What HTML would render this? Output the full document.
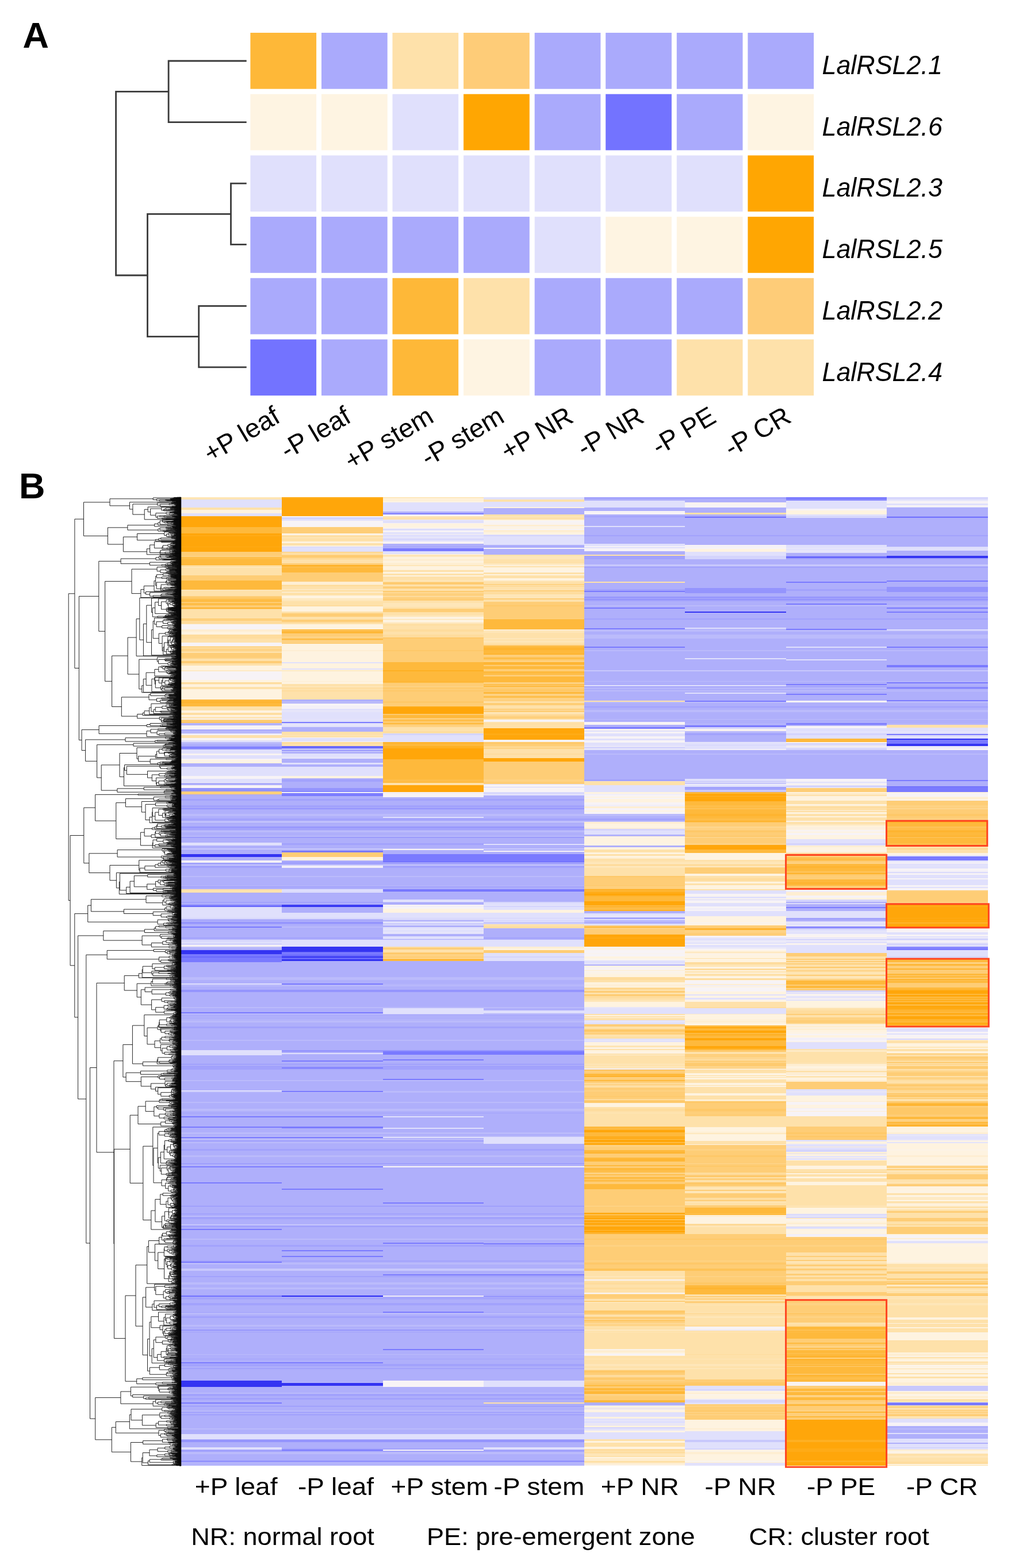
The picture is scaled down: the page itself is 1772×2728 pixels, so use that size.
<!DOCTYPE html>
<html><head><meta charset="utf-8"><title>Heatmap</title>
<style>html,body{margin:0;padding:0;background:#fff;} body{width:1772px;height:2728px;position:relative;overflow:hidden;}</style>
</head><body>
<svg width="1772" height="2728" viewBox="0 0 1772 2728" style="position:absolute;left:0;top:0"><text x="39.5" y="82.5" font-family="'Liberation Sans', Arial, Helvetica, sans-serif" font-weight="bold" font-size="63">A</text><rect x="435.4" y="57.0" width="114.7" height="97.7" fill="#feb838"/><rect x="559.0" y="57.0" width="114.7" height="97.7" fill="#aaaafc"/><rect x="682.5" y="57.0" width="114.7" height="97.7" fill="#fee1aa"/><rect x="806.1" y="57.0" width="114.7" height="97.7" fill="#fecc78"/><rect x="929.7" y="57.0" width="114.7" height="97.7" fill="#aaaafc"/><rect x="1053.2" y="57.0" width="114.7" height="97.7" fill="#aaaafc"/><rect x="1176.8" y="57.0" width="114.7" height="97.7" fill="#aaaafc"/><rect x="1300.4" y="57.0" width="114.7" height="97.7" fill="#aaaafc"/><rect x="435.4" y="163.7" width="114.7" height="97.7" fill="#fef4e2"/><rect x="559.0" y="163.7" width="114.7" height="97.7" fill="#fef4e2"/><rect x="682.5" y="163.7" width="114.7" height="97.7" fill="#e0e0fc"/><rect x="806.1" y="163.7" width="114.7" height="97.7" fill="#ffa602"/><rect x="929.7" y="163.7" width="114.7" height="97.7" fill="#aaaafc"/><rect x="1053.2" y="163.7" width="114.7" height="97.7" fill="#7373ff"/><rect x="1176.8" y="163.7" width="114.7" height="97.7" fill="#aaaafc"/><rect x="1300.4" y="163.7" width="114.7" height="97.7" fill="#fef4e2"/><rect x="435.4" y="270.4" width="114.7" height="97.7" fill="#e0e0fc"/><rect x="559.0" y="270.4" width="114.7" height="97.7" fill="#e0e0fc"/><rect x="682.5" y="270.4" width="114.7" height="97.7" fill="#e0e0fc"/><rect x="806.1" y="270.4" width="114.7" height="97.7" fill="#e0e0fc"/><rect x="929.7" y="270.4" width="114.7" height="97.7" fill="#e0e0fc"/><rect x="1053.2" y="270.4" width="114.7" height="97.7" fill="#e0e0fc"/><rect x="1176.8" y="270.4" width="114.7" height="97.7" fill="#e0e0fc"/><rect x="1300.4" y="270.4" width="114.7" height="97.7" fill="#ffa602"/><rect x="435.4" y="377.1" width="114.7" height="97.7" fill="#aaaafc"/><rect x="559.0" y="377.1" width="114.7" height="97.7" fill="#aaaafc"/><rect x="682.5" y="377.1" width="114.7" height="97.7" fill="#aaaafc"/><rect x="806.1" y="377.1" width="114.7" height="97.7" fill="#aaaafc"/><rect x="929.7" y="377.1" width="114.7" height="97.7" fill="#e0e0fc"/><rect x="1053.2" y="377.1" width="114.7" height="97.7" fill="#fef4e2"/><rect x="1176.8" y="377.1" width="114.7" height="97.7" fill="#fef4e2"/><rect x="1300.4" y="377.1" width="114.7" height="97.7" fill="#ffa602"/><rect x="435.4" y="483.8" width="114.7" height="97.7" fill="#aaaafc"/><rect x="559.0" y="483.8" width="114.7" height="97.7" fill="#aaaafc"/><rect x="682.5" y="483.8" width="114.7" height="97.7" fill="#feb838"/><rect x="806.1" y="483.8" width="114.7" height="97.7" fill="#fee1aa"/><rect x="929.7" y="483.8" width="114.7" height="97.7" fill="#aaaafc"/><rect x="1053.2" y="483.8" width="114.7" height="97.7" fill="#aaaafc"/><rect x="1176.8" y="483.8" width="114.7" height="97.7" fill="#aaaafc"/><rect x="1300.4" y="483.8" width="114.7" height="97.7" fill="#fecc78"/><rect x="435.4" y="590.5" width="114.7" height="97.7" fill="#7373ff"/><rect x="559.0" y="590.5" width="114.7" height="97.7" fill="#aaaafc"/><rect x="682.5" y="590.5" width="114.7" height="97.7" fill="#feb838"/><rect x="806.1" y="590.5" width="114.7" height="97.7" fill="#fef4e2"/><rect x="929.7" y="590.5" width="114.7" height="97.7" fill="#aaaafc"/><rect x="1053.2" y="590.5" width="114.7" height="97.7" fill="#aaaafc"/><rect x="1176.8" y="590.5" width="114.7" height="97.7" fill="#fee1aa"/><rect x="1300.4" y="590.5" width="114.7" height="97.7" fill="#fee1aa"/><path d="M427.3 106H293.1V212.7H427.3 M427.3 319.2H401.5V425.4H427.3 M427.3 532.4H345.7V638.9H427.3 M401.5 372.3H256.5V585.6H345.7 M293.1 159.3H201.6V479.0H256.5" fill="none" stroke="#3a3a3a" stroke-width="2.8" stroke-linejoin="miter" stroke-linecap="square"/><text transform="translate(1429.5 129.0) scale(0.975 1)" font-family="'Liberation Sans', Arial, Helvetica, sans-serif" font-style="italic" font-size="46">LalRSL2.1</text><text transform="translate(1429.5 235.7) scale(0.975 1)" font-family="'Liberation Sans', Arial, Helvetica, sans-serif" font-style="italic" font-size="46">LalRSL2.6</text><text transform="translate(1429.5 342.4) scale(0.975 1)" font-family="'Liberation Sans', Arial, Helvetica, sans-serif" font-style="italic" font-size="46">LalRSL2.3</text><text transform="translate(1429.5 449.2) scale(0.975 1)" font-family="'Liberation Sans', Arial, Helvetica, sans-serif" font-style="italic" font-size="46">LalRSL2.5</text><text transform="translate(1429.5 555.9) scale(0.975 1)" font-family="'Liberation Sans', Arial, Helvetica, sans-serif" font-style="italic" font-size="46">LalRSL2.2</text><text transform="translate(1429.5 662.6) scale(0.975 1)" font-family="'Liberation Sans', Arial, Helvetica, sans-serif" font-style="italic" font-size="46">LalRSL2.4</text><text x="490.0" y="732.8" text-anchor="end" transform="rotate(-30.5 490.0 732.8)" font-family="'Liberation Sans', Arial, Helvetica, sans-serif" font-size="46">+P leaf</text><text x="613.3" y="732.8" text-anchor="end" transform="rotate(-30.5 613.3 732.8)" font-family="'Liberation Sans', Arial, Helvetica, sans-serif" font-size="46">-P leaf</text><text x="757.0" y="732.8" text-anchor="end" transform="rotate(-30.5 757.0 732.8)" font-family="'Liberation Sans', Arial, Helvetica, sans-serif" font-size="46">+P stem</text><text x="879.8" y="732.8" text-anchor="end" transform="rotate(-30.5 879.8 732.8)" font-family="'Liberation Sans', Arial, Helvetica, sans-serif" font-size="46">-P stem</text><text x="999.8" y="732.8" text-anchor="end" transform="rotate(-30.5 999.8 732.8)" font-family="'Liberation Sans', Arial, Helvetica, sans-serif" font-size="46">+P NR</text><text x="1122.8" y="732.8" text-anchor="end" transform="rotate(-30.5 1122.8 732.8)" font-family="'Liberation Sans', Arial, Helvetica, sans-serif" font-size="46">-P NR</text><text x="1248.2" y="732.8" text-anchor="end" transform="rotate(-30.5 1248.2 732.8)" font-family="'Liberation Sans', Arial, Helvetica, sans-serif" font-size="46">-P PE</text><text x="1378.6" y="732.8" text-anchor="end" transform="rotate(-30.5 1378.6 732.8)" font-family="'Liberation Sans', Arial, Helvetica, sans-serif" font-size="46">-P CR</text><text x="33" y="866.5" font-family="'Liberation Sans', Arial, Helvetica, sans-serif" font-weight="bold" font-size="63">B</text><g shape-rendering="crispEdges" transform="translate(315.20 0) scale(175.75 1)"><path fill="#fee6b8" d="M0 865h1v3H0zM0 986h1v2H0zM0 1026h1v2H0zM0 1550h1v1H0z"/><path fill="#fee1aa" d="M0 868h1v1H0zM0 883h1v2H0zM0 885h1v2H0zM0 985h1v1H0zM0 988h1v2H0zM0 990h1v3H0zM0 993h1v2H0zM0 995h1v3H0zM0 998h1v3H0zM0 1028h1v2H0zM0 1030h1v2H0zM0 1032h1v2H0zM0 1034h1v3H0zM0 1060h1v4H0zM0 1064h1v2H0zM0 1066h1v1H0zM0 1067h1v1H0zM0 1068h1v2H0zM0 1070h1v4H0zM0 1074h1v2H0zM0 1081h1v2H0zM0 1084h1v2H0zM0 1111h1v3H0zM0 1114h1v1H0zM0 1115h1v2H0zM0 1117h1v1H0zM0 1124h1v1H0zM0 1133h1v3H0zM0 1146h1v2H0zM0 1148h1v2H0zM0 1154h1v4H0zM0 1195h1v4H0zM0 1229h1v3H0zM0 1232h1v4H0zM0 1240h1v1H0zM0 1243h1v1H0zM0 1248h1v2H0zM0 1279h1v3H0zM0 1282h1v1H0zM0 1283h1v1H0zM0 1547h1v3H0zM0 1551h1v2H0z"/><path fill="#e0e0fc" d="M0 869h1v2H0zM0 871h1v2H0zM0 873h1v1H0zM0 874h1v1H0zM0 875h1v1H0zM0 876h1v3H0zM0 879h1v2H0zM0 881h1v2H0zM0 893h1v3H0zM0 896h1v2H0zM0 1288h1v2H0zM0 1304h1v2H0zM0 1306h1v2H0zM0 1308h1v2H0zM0 1310h1v1H0zM0 1314h1v2H0zM0 1316h1v2H0zM0 1318h1v2H0zM0 1334h1v2H0zM0 1336h1v2H0zM0 1338h1v2H0zM0 1340h1v1H0zM0 1341h1v4H0zM0 1345h1v4H0zM0 1349h1v1H0zM0 1355h1v3H0zM0 1358h1v3H0zM0 1578h1v3H0zM0 1581h1v2H0zM0 1583h1v2H0zM0 1585h1v4H0zM0 1589h1v2H0zM0 1591h1v2H0zM0 1593h1v4H0zM0 1598h1v1H0zM0 1635h1v1H0zM0 1638h1v1H0zM0 1639h1v2H0z"/><path fill="#fef3e0" d="M0 887h1v1H0zM0 888h1v4H0zM0 892h1v1H0zM0 1099h1v2H0zM0 1101h1v3H0zM0 1158h1v1H0zM0 1159h1v3H0zM0 1162h1v2H0zM0 1164h1v2H0zM0 1183h1v4H0zM0 1192h1v1H0zM0 1193h1v2H0zM0 1199h1v2H0zM0 1201h1v4H0zM0 1205h1v2H0zM0 1207h1v2H0zM0 1209h1v4H0zM0 1213h1v2H0zM0 1215h1v2H0zM0 1236h1v4H0zM0 1244h1v2H0zM0 1322h1v2H0zM0 1325h1v3H0z"/><path fill="#ffab16" d="M0 898h1v2H0zM0 931h1v2H0zM0 951h1v1H0z"/><path fill="#ffa60a" d="M0 900h1v3H0zM0 903h1v1H0zM0 904h1v2H0zM0 906h1v1H0zM0 907h1v1H0zM0 908h1v3H0zM0 911h1v3H0zM0 914h1v1H0zM0 915h1v2H0zM0 928h1v1H0zM0 929h1v2H0zM0 933h1v2H0zM0 935h1v2H0zM0 937h1v2H0zM0 939h1v3H0zM0 942h1v1H0zM0 943h1v2H0zM0 945h1v2H0zM0 947h1v1H0zM0 948h1v3H0zM0 952h1v3H0zM0 955h1v3H0zM0 958h1v1H0zM0 959h1v1H0z"/><path fill="#feb93c" d="M0 917h1v2H0zM0 919h1v2H0zM0 921h1v4H0zM0 925h1v1H0zM0 926h1v2H0zM0 973h1v4H0zM0 977h1v1H0zM0 978h1v3H0zM0 981h1v1H0zM0 1010h1v3H0zM0 1013h1v1H0zM0 1014h1v3H0zM0 1017h1v3H0zM0 1020h1v2H0zM0 1022h1v3H0zM0 1045h1v2H0zM0 1052h1v1H0zM0 1217h1v1H0zM0 1218h1v2H0zM0 1223h1v2H0zM0 1225h1v1H0zM0 1226h1v3H0z"/><path fill="#fecd76" d="M0 960h1v3H0zM0 963h1v1H0zM0 964h1v1H0zM0 965h1v2H0zM0 1001h1v1H0zM0 1002h1v3H0zM0 1005h1v3H0zM0 1008h1v2H0zM0 1037h1v2H0zM0 1047h1v2H0zM0 1053h1v3H0zM0 1059h1v1H0zM0 1076h1v2H0zM0 1125h1v1H0zM0 1129h1v1H0zM0 1132h1v1H0zM0 1136h1v4H0zM0 1140h1v2H0zM0 1142h1v2H0zM0 1150h1v2H0zM0 1152h1v2H0zM0 1252h1v3H0zM0 1377h1v2H0z"/><path fill="#fed283" d="M0 967h1v2H0zM0 1078h1v1H0zM0 1079h1v2H0zM0 1083h1v1H0zM0 1144h1v2H0zM0 1379h1v2H0z"/><path fill="#febe4a" d="M0 969h1v4H0zM0 1025h1v1H0zM0 1042h1v3H0zM0 1049h1v3H0z"/><path fill="#feb023" d="M0 982h1v1H0z"/><path fill="#fed790" d="M0 983h1v2H0zM0 1130h1v2H0z"/><path fill="#fec868" d="M0 1039h1v3H0zM0 1056h1v1H0zM0 1255h1v3H0zM0 1381h1v1H0z"/><path fill="#feb430" d="M0 1057h1v2H0zM0 1220h1v3H0z"/><path fill="#f7f3f6" d="M0 1086h1v1H0zM0 1087h1v2H0zM0 1089h1v2H0zM0 1091h1v4H0zM0 1118h1v2H0zM0 1120h1v2H0zM0 1122h1v2H0zM0 1168h1v3H0zM0 1171h1v2H0zM0 1173h1v2H0zM0 1175h1v1H0zM0 1176h1v3H0zM0 1179h1v2H0zM0 1181h1v2H0zM0 1250h1v1H0zM0 1262h1v2H0zM0 1264h1v3H0zM0 1267h1v2H0zM0 1284h1v2H0zM0 1286h1v1H0zM0 1313h1v1H0zM0 1320h1v2H0zM0 1324h1v1H0zM0 1350h1v3H0zM0 1353h1v1H0zM0 1354h1v1H0zM0 1361h1v1H0zM0 1366h1v2H0zM0 1368h1v2H0zM0 1370h1v1H0zM0 1497h1v2H0zM0 1644h1v2H0z"/><path fill="#feeed2" d="M0 1095h1v4H0zM0 1190h1v2H0zM0 1246h1v2H0z"/><path fill="#fedc9d" d="M0 1104h1v3H0zM0 1107h1v4H0zM0 1126h1v3H0zM0 1187h1v3H0zM0 1241h1v2H0z"/><path fill="#feeac5" d="M0 1166h1v2H0z"/><path fill="#f9f3f0" d="M0 1251h1v1H0zM0 1311h1v2H0zM0 1646h1v1H0z"/><path fill="#afaffb" d="M0 1258h1v1H0zM0 1260h1v2H0zM0 1269h1v1H0zM0 1270h1v3H0zM0 1274h1v2H0zM0 1294h1v4H0zM0 1328h1v1H0zM0 1329h1v2H0zM0 1331h1v3H0zM0 1362h1v1H0zM0 1363h1v2H0zM0 1365h1v1H0zM0 1382h1v1H0zM0 1383h1v3H0zM0 1386h1v3H0zM0 1389h1v1H0zM0 1393h1v2H0zM0 1395h1v2H0zM0 1397h1v2H0zM0 1399h1v2H0zM0 1405h1v1H0zM0 1408h1v3H0zM0 1411h1v1H0zM0 1412h1v3H0zM0 1415h1v1H0zM0 1420h1v3H0zM0 1423h1v1H0zM0 1427h1v2H0zM0 1431h1v2H0zM0 1433h1v4H0zM0 1437h1v1H0zM0 1444h1v1H0zM0 1448h1v3H0zM0 1451h1v3H0zM0 1458h1v3H0zM0 1461h1v3H0zM0 1464h1v1H0zM0 1465h1v2H0zM0 1470h1v4H0zM0 1474h1v2H0zM0 1478h1v2H0zM0 1480h1v1H0zM0 1481h1v1H0zM0 1482h1v4H0zM0 1491h1v2H0zM0 1493h1v2H0zM0 1495h1v2H0zM0 1510h1v1H0zM0 1511h1v2H0zM0 1513h1v1H0zM0 1514h1v3H0zM0 1517h1v2H0zM0 1519h1v1H0zM0 1520h1v1H0zM0 1521h1v3H0zM0 1526h1v4H0zM0 1530h1v2H0zM0 1532h1v1H0zM0 1533h1v2H0zM0 1535h1v3H0zM0 1538h1v3H0zM0 1544h1v3H0zM0 1553h1v1H0zM0 1554h1v1H0zM0 1555h1v3H0zM0 1558h1v2H0zM0 1560h1v1H0zM0 1561h1v2H0zM0 1563h1v1H0zM0 1564h1v3H0zM0 1567h1v2H0zM0 1571h1v2H0zM0 1573h1v1H0zM0 1599h1v2H0zM0 1602h1v1H0zM0 1603h1v1H0zM0 1608h1v4H0zM0 1614h1v3H0zM0 1617h1v2H0zM0 1619h1v4H0zM0 1623h1v2H0zM0 1625h1v2H0zM0 1627h1v2H0zM0 1629h1v2H0zM0 1633h1v1H0zM0 1634h1v1H0zM0 1650h1v1H0zM0 1651h1v2H0zM0 1674h1v1H0zM0 1675h1v4H0zM0 1679h1v2H0zM0 1681h1v1H0zM0 1682h1v2H0zM0 1684h1v1H0zM0 1685h1v2H0zM0 1687h1v3H0zM0 1690h1v2H0zM0 1692h1v4H0zM0 1696h1v4H0zM0 1705h1v2H0zM0 1707h1v3H0zM0 1710h1v2H0zM0 1713h1v1H0zM0 1716h1v3H0zM0 1719h1v3H0zM0 1726h1v3H0zM0 1729h1v2H0zM0 1731h1v1H0zM0 1732h1v2H0zM0 1734h1v2H0zM0 1736h1v2H0zM0 1738h1v1H0zM0 1739h1v1H0zM0 1740h1v1H0zM0 1741h1v3H0zM0 1744h1v1H0zM0 1745h1v1H0zM0 1746h1v1H0zM0 1747h1v2H0zM0 1749h1v3H0zM0 1754h1v4H0zM0 1758h1v1H0zM0 1759h1v1H0zM0 1760h1v1H0zM0 1761h1v1H0zM0 1762h1v2H0zM0 1766h1v4H0zM0 1770h1v2H0zM0 1772h1v2H0zM0 1775h1v1H0zM0 1779h1v1H0zM0 1780h1v1H0zM0 1781h1v2H0zM0 1783h1v2H0zM0 1785h1v1H0zM0 1789h1v3H0zM0 1792h1v4H0zM0 1796h1v3H0zM0 1799h1v2H0zM0 1801h1v2H0zM0 1803h1v2H0zM0 1805h1v2H0zM0 1807h1v2H0zM0 1811h1v1H0zM0 1812h1v2H0zM0 1814h1v3H0zM0 1817h1v2H0zM0 1819h1v3H0zM0 1822h1v3H0zM0 1825h1v2H0zM0 1830h1v3H0zM0 1833h1v2H0zM0 1835h1v2H0zM0 1837h1v3H0zM0 1840h1v1H0zM0 1841h1v2H0zM0 1843h1v3H0zM0 1846h1v2H0zM0 1848h1v3H0zM0 1852h1v2H0zM0 1861h1v3H0zM0 1864h1v3H0zM0 1867h1v2H0zM0 1869h1v1H0zM0 1870h1v2H0zM0 1872h1v3H0zM0 1875h1v3H0zM0 1878h1v1H0zM0 1881h1v3H0zM0 1884h1v1H0zM0 1885h1v2H0zM0 1887h1v2H0zM0 1889h1v3H0zM0 1892h1v2H0zM0 1894h1v4H0zM0 1901h1v3H0zM0 1904h1v2H0zM0 1906h1v2H0zM0 1908h1v1H0zM0 1909h1v3H0zM0 1912h1v1H0zM0 1913h1v3H0zM0 1916h1v1H0zM0 1919h1v1H0zM0 1920h1v2H0zM0 1922h1v2H0zM0 1924h1v2H0zM0 1926h1v1H0zM0 1927h1v2H0zM0 1933h1v1H0zM0 1934h1v2H0zM0 1937h1v2H0zM0 1939h1v1H0zM0 1940h1v4H0zM0 1944h1v4H0zM0 1948h1v1H0zM0 1949h1v3H0zM0 1952h1v3H0zM0 1955h1v1H0zM0 1956h1v1H0zM0 1957h1v3H0zM0 1960h1v3H0zM0 1963h1v2H0zM0 1965h1v1H0zM0 1966h1v2H0zM0 1968h1v2H0zM0 1973h1v3H0zM0 1979h1v3H0zM0 1983h1v1H0zM0 1986h1v1H0zM0 1989h1v2H0zM0 1991h1v1H0zM0 1992h1v2H0zM0 1994h1v2H0zM0 1996h1v1H0zM0 1997h1v1H0zM0 1998h1v1H0zM0 2002h1v1H0zM0 2003h1v2H0zM0 2005h1v3H0zM0 2008h1v2H0zM0 2013h1v1H0zM0 2014h1v1H0zM0 2015h1v2H0zM0 2017h1v2H0zM0 2019h1v2H0zM0 2021h1v1H0zM0 2022h1v2H0zM0 2025h1v3H0zM0 2030h1v3H0zM0 2033h1v4H0zM0 2037h1v1H0zM0 2038h1v2H0zM0 2040h1v4H0zM0 2044h1v3H0zM0 2047h1v3H0zM0 2050h1v1H0zM0 2051h1v3H0zM0 2054h1v2H0zM0 2056h1v2H0zM0 2058h1v2H0zM0 2060h1v2H0zM0 2062h1v1H0zM0 2063h1v2H0zM0 2065h1v4H0zM0 2069h1v3H0zM0 2072h1v2H0zM0 2074h1v2H0zM0 2076h1v1H0zM0 2077h1v3H0zM0 2080h1v2H0zM0 2082h1v3H0zM0 2085h1v2H0zM0 2087h1v2H0zM0 2089h1v3H0zM0 2092h1v1H0zM0 2093h1v4H0zM0 2097h1v1H0zM0 2099h1v2H0zM0 2101h1v4H0zM0 2105h1v2H0zM0 2107h1v4H0zM0 2113h1v3H0zM0 2121h1v3H0zM0 2124h1v1H0zM0 2125h1v3H0zM0 2128h1v2H0zM0 2135h1v2H0zM0 2137h1v4H0zM0 2141h1v2H0zM0 2143h1v2H0zM0 2145h1v4H0zM0 2149h1v2H0zM0 2151h1v4H0zM0 2157h1v2H0zM0 2159h1v2H0zM0 2161h1v3H0zM0 2164h1v2H0zM0 2169h1v1H0zM0 2170h1v4H0zM0 2174h1v3H0zM0 2177h1v4H0zM0 2181h1v2H0zM0 2183h1v2H0zM0 2185h1v2H0zM0 2187h1v2H0zM0 2189h1v3H0zM0 2192h1v1H0zM0 2195h1v2H0zM0 2200h1v1H0zM0 2201h1v3H0zM0 2204h1v2H0zM0 2206h1v1H0zM0 2211h1v2H0zM0 2213h1v2H0zM0 2215h1v2H0zM0 2217h1v2H0zM0 2219h1v1H0zM0 2222h1v2H0zM0 2224h1v2H0zM0 2226h1v1H0zM0 2227h1v1H0zM0 2228h1v3H0zM0 2235h1v3H0zM0 2238h1v2H0zM0 2243h1v1H0zM0 2244h1v4H0zM0 2248h1v2H0zM0 2250h1v3H0zM0 2254h1v1H0zM0 2257h1v2H0zM0 2260h1v2H0zM0 2262h1v2H0zM0 2264h1v1H0zM0 2265h1v2H0zM0 2271h1v1H0zM0 2272h1v2H0zM0 2274h1v4H0zM0 2278h1v2H0zM0 2280h1v3H0zM0 2287h1v3H0zM0 2293h1v1H0zM0 2294h1v3H0zM0 2297h1v3H0zM0 2300h1v2H0zM0 2302h1v3H0zM0 2308h1v4H0zM0 2315h1v2H0zM0 2318h1v2H0zM0 2320h1v2H0zM0 2322h1v2H0zM0 2324h1v2H0zM0 2326h1v3H0zM0 2329h1v2H0zM0 2331h1v4H0zM0 2335h1v2H0zM0 2337h1v4H0zM0 2341h1v2H0zM0 2343h1v2H0zM0 2345h1v2H0zM0 2347h1v1H0zM0 2348h1v2H0zM0 2350h1v4H0zM0 2354h1v2H0zM0 2357h1v3H0zM0 2360h1v4H0zM0 2365h1v2H0zM0 2367h1v3H0zM0 2370h1v2H0zM0 2372h1v1H0zM0 2377h1v2H0zM0 2379h1v1H0zM0 2382h1v1H0zM0 2383h1v4H0zM0 2387h1v3H0zM0 2390h1v3H0zM0 2393h1v4H0zM0 2397h1v2H0zM0 2399h1v3H0zM0 2402h1v1H0zM0 2403h1v2H0zM0 2410h1v3H0zM0 2413h1v3H0zM0 2416h1v3H0zM0 2419h1v1H0zM0 2420h1v3H0zM0 2429h1v3H0zM0 2435h1v1H0zM0 2436h1v2H0zM0 2438h1v3H0zM0 2441h1v2H0zM0 2443h1v2H0zM0 2445h1v1H0zM0 2447h1v2H0zM0 2449h1v1H0zM0 2450h1v4H0zM0 2458h1v3H0zM0 2462h1v2H0zM0 2464h1v3H0zM0 2467h1v1H0zM0 2468h1v2H0zM0 2470h1v3H0zM0 2473h1v1H0zM0 2474h1v4H0zM0 2478h1v3H0zM0 2481h1v1H0zM0 2482h1v1H0zM0 2483h1v2H0zM0 2487h1v2H0zM0 2489h1v2H0zM0 2491h1v2H0zM0 2493h1v1H0zM0 2494h1v2H0zM0 2496h1v1H0zM0 2497h1v2H0zM0 2499h1v3H0zM0 2502h1v1H0zM0 2503h1v2H0zM0 2509h1v3H0zM0 2512h1v2H0zM0 2514h1v2H0zM0 2516h1v4H0zM0 2530h1v2H0zM0 2532h1v2H0zM0 2534h1v4H0zM0 2538h1v2H0zM0 2540h1v1H0zM0 2546h1v2H0zM0 2549h1v1H0z"/><path fill="#bbbbfb" d="M0 1259h1v1H0zM0 1291h1v2H0zM0 1293h1v1H0zM0 1416h1v4H0zM0 1445h1v3H0zM0 1454h1v2H0zM0 1524h1v2H0zM0 1541h1v1H0zM0 1612h1v2H0zM0 1647h1v3H0zM0 1700h1v4H0zM0 1704h1v1H0zM0 1712h1v1H0zM0 1714h1v2H0zM0 1752h1v2H0zM0 1774h1v1H0zM0 1776h1v3H0zM0 1809h1v2H0zM0 1879h1v2H0zM0 1898h1v3H0zM0 1917h1v2H0zM0 1929h1v4H0zM0 1970h1v3H0zM0 1976h1v2H0zM0 1978h1v1H0zM0 1987h1v2H0zM0 2010h1v3H0zM0 2028h1v2H0zM0 2155h1v2H0zM0 2197h1v3H0zM0 2231h1v4H0zM0 2240h1v3H0zM0 2284h1v3H0zM0 2305h1v3H0zM0 2312h1v1H0zM0 2356h1v1H0zM0 2405h1v2H0zM0 2407h1v1H0zM0 2408h1v2H0zM0 2423h1v2H0zM0 2454h1v2H0zM0 2485h1v2H0zM0 2526h1v4H0zM0 2544h1v2H0zM0 2548h1v1H0z"/><path fill="#c8c8fc" d="M0 1273h1v1H0zM0 1429h1v2H0zM0 1476h1v2H0zM0 1504h1v2H0zM0 1764h1v1H0zM0 1982h1v1H0zM0 2116h1v1H0zM0 2130h1v2H0zM0 2207h1v4H0z"/><path fill="#f1eef8" d="M0 1276h1v3H0zM0 1499h1v1H0zM0 1500h1v1H0z"/><path fill="#fcf3e6" d="M0 1287h1v1H0z"/><path fill="#e6e5fa" d="M0 1290h1v1H0z"/><path fill="#9494fd" d="M0 1298h1v2H0zM0 1302h1v2H0zM0 1371h1v1H0zM0 1372h1v4H0zM0 1376h1v1H0zM0 1406h1v2H0zM0 1438h1v2H0zM0 1456h1v1H0zM0 1604h1v3H0zM0 1722h1v4H0zM0 1827h1v3H0zM0 1851h1v1H0zM0 2024h1v1H0zM0 2098h1v1H0zM0 2255h1v2H0zM0 2259h1v1H0zM0 2313h1v2H0zM0 2446h1v1H0zM0 2461h1v1H0zM0 2505h1v4H0zM0 2541h1v3H0z"/><path fill="#7a7aff" d="M0 1300h1v2H0zM0 1574h1v1H0zM0 1660h1v2H0zM0 1662h1v2H0zM0 1666h1v2H0zM0 1668h1v2H0zM0 1670h1v2H0zM0 1672h1v2H0z"/><path fill="#a2a2fc" d="M0 1390h1v3H0zM0 1401h1v4H0zM0 1424h1v3H0zM0 1440h1v4H0zM0 1457h1v1H0zM0 1467h1v3H0zM0 1501h1v3H0zM0 1506h1v2H0zM0 1508h1v2H0zM0 1542h1v2H0zM0 1569h1v2H0zM0 1601h1v1H0zM0 1607h1v1H0zM0 1631h1v2H0zM0 1765h1v1H0zM0 1786h1v3H0zM0 1854h1v3H0zM0 1857h1v4H0zM0 1936h1v1H0zM0 1984h1v2H0zM0 1999h1v3H0zM0 2111h1v2H0zM0 2117h1v4H0zM0 2132h1v3H0zM0 2166h1v3H0zM0 2193h1v2H0zM0 2220h1v2H0zM0 2253h1v1H0zM0 2267h1v4H0zM0 2283h1v1H0zM0 2290h1v3H0zM0 2317h1v1H0zM0 2364h1v1H0zM0 2373h1v4H0zM0 2380h1v2H0zM0 2425h1v4H0zM0 2432h1v3H0zM0 2456h1v2H0zM0 2520h1v3H0zM0 2523h1v3H0z"/><path fill="#3434f2" d="M0 1486h1v2H0zM0 1488h1v1H0zM0 1489h1v2H0zM0 1653h1v1H0zM0 1654h1v1H0zM0 1655h1v1H0zM0 1656h1v3H0zM0 1659h1v1H0z"/><path fill="#8787fe" d="M0 1575h1v1H0z"/><path fill="#6868fc" d="M0 1576h1v2H0zM0 1664h1v2H0z"/><path fill="#d4d4fc" d="M0 1597h1v1H0zM0 1636h1v2H0zM0 1641h1v3H0z"/><path fill="#e0e0fc" d="M0 1466h1v5H0zM0 1711h1v2H0zM0 1827h1v9H0zM0 1897h1v2H0zM0 2495h1v9H0zM0 2518h1v4H0z"/><path fill="#7a7aff" d="M0 1761h1v2H0zM0 1942h1v2H0zM0 1960h1v2H0zM0 1978h1v2H0zM0 2029h1v2H0zM0 2057h1v2H0zM0 2138h1v2H0zM0 2195h1v2H0zM0 2254h1v2H0zM0 2370h1v2H0zM0 2440h1v2H0zM0 1612h1v2H0z"/><path fill="#3434f2" d="M0 2402h1v11H0z"/></g><g shape-rendering="crispEdges" transform="translate(490.45 0) scale(175.75 1)"><path fill="#ffab16" d="M0 865h1v3H0z"/><path fill="#ffa60a" d="M0 868h1v3H0zM0 871h1v2H0zM0 873h1v1H0zM0 874h1v1H0zM0 875h1v1H0zM0 876h1v3H0zM0 879h1v2H0zM0 881h1v2H0zM0 883h1v2H0zM0 885h1v2H0zM0 887h1v1H0zM0 888h1v4H0zM0 892h1v4H0zM0 896h1v2H0z"/><path fill="#f7f3f6" d="M0 898h1v2H0zM0 907h1v3H0zM0 910h1v2H0zM0 912h1v3H0zM0 1224h1v1H0zM0 1225h1v1H0zM0 1226h1v3H0zM0 1231h1v2H0zM0 1283h1v1H0zM0 1290h1v1H0zM0 1378h1v1H0z"/><path fill="#d4d4fc" d="M0 900h1v3H0zM0 951h1v1H0zM0 1307h1v1H0zM0 1550h1v1H0zM0 1597h1v1H0z"/><path fill="#e0e0fc" d="M0 903h1v2H0zM0 905h1v1H0zM0 952h1v3H0zM0 955h1v3H0zM0 958h1v1H0zM0 959h1v1H0zM0 1233h1v2H0zM0 1239h1v2H0zM0 1241h1v2H0zM0 1243h1v1H0zM0 1244h1v4H0zM0 1248h1v3H0zM0 1252h1v2H0zM0 1254h1v2H0zM0 1258h1v2H0zM0 1263h1v2H0zM0 1284h1v2H0zM0 1286h1v4H0zM0 1303h1v1H0zM0 1311h1v2H0zM0 1313h1v4H0zM0 1327h1v2H0zM0 1329h1v1H0zM0 1334h1v2H0zM0 1336h1v2H0zM0 1338h1v2H0zM0 1340h1v1H0zM0 1341h1v4H0zM0 1345h1v4H0zM0 1349h1v1H0zM0 1547h1v3H0zM0 1551h1v2H0zM0 1588h1v1H0zM0 1589h1v2H0zM0 1591h1v2H0zM0 1593h1v4H0zM0 1598h1v1H0zM0 1635h1v3H0zM0 1638h1v3H0zM0 1641h1v3H0zM0 1644h1v1H0zM0 1645h1v2H0z"/><path fill="#f9f3f0" d="M0 906h1v1H0zM0 915h1v2H0z"/><path fill="#fecd76" d="M0 917h1v2H0zM0 919h1v2H0zM0 921h1v4H0zM0 925h1v1H0zM0 926h1v2H0zM0 960h1v1H0zM0 968h1v3H0zM0 980h1v1H0zM0 981h1v2H0zM0 996h1v2H0zM0 998h1v3H0zM0 1001h1v1H0zM0 1002h1v3H0zM0 1005h1v3H0zM0 1008h1v2H0zM0 1010h1v2H0zM0 1067h1v3H0zM0 1070h1v3H0zM0 1078h1v3H0zM0 1097h1v1H0zM0 1102h1v2H0zM0 1104h1v3H0zM0 1113h1v2H0zM0 1483h1v3H0zM0 1486h1v2H0zM0 1488h1v1H0zM0 1489h1v2H0z"/><path fill="#fef3e0" d="M0 928h1v1H0zM0 942h1v3H0zM0 949h1v2H0zM0 1016h1v1H0zM0 1036h1v1H0zM0 1037h1v2H0zM0 1039h1v2H0zM0 1055h1v2H0zM0 1057h1v2H0zM0 1059h1v1H0zM0 1060h1v4H0zM0 1086h1v1H0zM0 1087h1v2H0zM0 1089h1v2H0zM0 1091h1v4H0zM0 1120h1v2H0zM0 1122h1v4H0zM0 1126h1v2H0zM0 1128h1v1H0zM0 1129h1v2H0zM0 1133h1v3H0zM0 1136h1v3H0zM0 1139h1v2H0zM0 1141h1v2H0zM0 1143h1v2H0zM0 1145h1v2H0zM0 1147h1v3H0zM0 1150h1v2H0zM0 1152h1v2H0zM0 1154h1v2H0zM0 1156h1v3H0zM0 1159h1v3H0zM0 1162h1v2H0zM0 1164h1v2H0zM0 1168h1v3H0zM0 1171h1v2H0zM0 1173h1v2H0zM0 1175h1v1H0zM0 1176h1v3H0zM0 1179h1v2H0zM0 1181h1v2H0zM0 1183h1v2H0zM0 1186h1v1H0zM0 1187h1v2H0zM0 1189h1v1H0zM0 1350h1v3H0zM0 1353h1v1H0zM0 1491h1v2H0zM0 1493h1v2H0zM0 1495h1v2H0z"/><path fill="#fcf3e6" d="M0 929h1v2H0zM0 1030h1v1H0z"/><path fill="#fee1aa" d="M0 931h1v2H0zM0 934h1v1H0zM0 938h1v4H0zM0 945h1v4H0zM0 962h1v1H0zM0 971h1v1H0zM0 973h1v3H0zM0 976h1v1H0zM0 977h1v3H0zM0 1017h1v1H0zM0 1020h1v3H0zM0 1023h1v2H0zM0 1026h1v4H0zM0 1031h1v3H0zM0 1034h1v2H0zM0 1046h1v3H0zM0 1049h1v1H0zM0 1050h1v3H0zM0 1064h1v3H0zM0 1073h1v4H0zM0 1077h1v1H0zM0 1083h1v2H0zM0 1085h1v1H0zM0 1190h1v1H0zM0 1191h1v3H0zM0 1198h1v3H0zM0 1203h1v1H0zM0 1204h1v2H0zM0 1206h1v1H0zM0 1207h1v4H0zM0 1211h1v2H0zM0 1213h1v1H0zM0 1214h1v1H0zM0 1215h1v1H0zM0 1216h1v1H0zM0 1273h1v3H0zM0 1276h1v3H0zM0 1280h1v3H0zM0 1294h1v4H0z"/><path fill="#fedc9d" d="M0 933h1v1H0zM0 937h1v1H0zM0 961h1v1H0zM0 963h1v3H0zM0 1018h1v2H0zM0 1053h1v2H0zM0 1196h1v2H0zM0 1201h1v2H0zM0 1291h1v2H0zM0 1293h1v1H0z"/><path fill="#fee6b8" d="M0 935h1v2H0zM0 1041h1v1H0zM0 1044h1v2H0zM0 1194h1v2H0zM0 1279h1v1H0z"/><path fill="#fec868" d="M0 966h1v2H0zM0 1119h1v1H0z"/><path fill="#fed283" d="M0 972h1v1H0zM0 1081h1v2H0zM0 1107h1v4H0zM0 1115h1v4H0z"/><path fill="#feb023" d="M0 983h1v2H0z"/><path fill="#feb93c" d="M0 985h1v1H0zM0 988h1v2H0zM0 990h1v3H0zM0 993h1v2H0zM0 995h1v1H0zM0 1095h1v2H0zM0 1100h1v2H0zM0 1111h1v2H0z"/><path fill="#febe4a" d="M0 986h1v2H0z"/><path fill="#feeed2" d="M0 1012h1v4H0zM0 1025h1v1H0zM0 1131h1v2H0zM0 1185h1v1H0z"/><path fill="#feeac5" d="M0 1042h1v2H0zM0 1166h1v2H0z"/><path fill="#feb430" d="M0 1098h1v2H0z"/><path fill="#afaffb" d="M0 1217h1v1H0zM0 1218h1v2H0zM0 1223h1v1H0zM0 1265h1v2H0zM0 1267h1v3H0zM0 1270h1v3H0zM0 1302h1v1H0zM0 1308h1v3H0zM0 1320h1v2H0zM0 1322h1v2H0zM0 1324h1v3H0zM0 1330h1v1H0zM0 1331h1v3H0zM0 1354h1v1H0zM0 1355h1v1H0zM0 1360h1v2H0zM0 1362h1v1H0zM0 1363h1v2H0zM0 1365h1v3H0zM0 1368h1v2H0zM0 1370h1v1H0zM0 1385h1v1H0zM0 1386h1v3H0zM0 1389h1v1H0zM0 1393h1v2H0zM0 1395h1v2H0zM0 1397h1v2H0zM0 1399h1v2H0zM0 1405h1v1H0zM0 1408h1v3H0zM0 1411h1v1H0zM0 1412h1v3H0zM0 1415h1v1H0zM0 1420h1v3H0zM0 1423h1v1H0zM0 1427h1v2H0zM0 1431h1v2H0zM0 1433h1v4H0zM0 1437h1v1H0zM0 1444h1v1H0zM0 1448h1v3H0zM0 1451h1v3H0zM0 1458h1v3H0zM0 1461h1v3H0zM0 1464h1v1H0zM0 1465h1v2H0zM0 1470h1v4H0zM0 1474h1v2H0zM0 1478h1v2H0zM0 1497h1v2H0zM0 1510h1v1H0zM0 1511h1v2H0zM0 1513h1v1H0zM0 1514h1v3H0zM0 1517h1v2H0zM0 1519h1v1H0zM0 1520h1v1H0zM0 1521h1v3H0zM0 1526h1v4H0zM0 1530h1v2H0zM0 1532h1v1H0zM0 1533h1v2H0zM0 1535h1v3H0zM0 1538h1v3H0zM0 1544h1v3H0zM0 1553h1v1H0zM0 1554h1v1H0zM0 1555h1v3H0zM0 1558h1v2H0zM0 1560h1v1H0zM0 1561h1v2H0zM0 1563h1v1H0zM0 1564h1v3H0zM0 1567h1v2H0zM0 1571h1v2H0zM0 1573h1v1H0zM0 1578h1v3H0zM0 1581h1v2H0zM0 1583h1v2H0zM0 1585h1v3H0zM0 1599h1v2H0zM0 1602h1v1H0zM0 1603h1v1H0zM0 1608h1v4H0zM0 1614h1v3H0zM0 1617h1v2H0zM0 1619h1v4H0zM0 1623h1v2H0zM0 1625h1v2H0zM0 1627h1v2H0zM0 1629h1v2H0zM0 1633h1v1H0zM0 1634h1v1H0zM0 1672h1v3H0zM0 1675h1v4H0zM0 1679h1v2H0zM0 1681h1v1H0zM0 1682h1v2H0zM0 1684h1v1H0zM0 1685h1v2H0zM0 1687h1v3H0zM0 1690h1v2H0zM0 1692h1v4H0zM0 1696h1v4H0zM0 1705h1v2H0zM0 1707h1v3H0zM0 1710h1v2H0zM0 1713h1v1H0zM0 1716h1v3H0zM0 1719h1v3H0zM0 1726h1v3H0zM0 1729h1v2H0zM0 1731h1v1H0zM0 1732h1v2H0zM0 1734h1v2H0zM0 1736h1v2H0zM0 1738h1v1H0zM0 1739h1v1H0zM0 1740h1v1H0zM0 1741h1v3H0zM0 1744h1v1H0zM0 1745h1v1H0zM0 1746h1v1H0zM0 1747h1v2H0zM0 1749h1v3H0zM0 1754h1v4H0zM0 1758h1v1H0zM0 1759h1v1H0zM0 1760h1v1H0zM0 1761h1v1H0zM0 1762h1v2H0zM0 1766h1v4H0zM0 1770h1v2H0zM0 1772h1v2H0zM0 1775h1v1H0zM0 1779h1v1H0zM0 1780h1v1H0zM0 1781h1v2H0zM0 1783h1v2H0zM0 1785h1v1H0zM0 1789h1v3H0zM0 1792h1v4H0zM0 1796h1v3H0zM0 1799h1v2H0zM0 1801h1v2H0zM0 1803h1v2H0zM0 1805h1v2H0zM0 1807h1v2H0zM0 1811h1v1H0zM0 1812h1v2H0zM0 1814h1v3H0zM0 1817h1v2H0zM0 1819h1v3H0zM0 1822h1v3H0zM0 1825h1v2H0zM0 1830h1v3H0zM0 1833h1v2H0zM0 1835h1v2H0zM0 1837h1v3H0zM0 1840h1v1H0zM0 1841h1v2H0zM0 1843h1v3H0zM0 1846h1v2H0zM0 1848h1v3H0zM0 1852h1v2H0zM0 1861h1v3H0zM0 1864h1v3H0zM0 1867h1v2H0zM0 1869h1v1H0zM0 1870h1v2H0zM0 1872h1v3H0zM0 1875h1v3H0zM0 1878h1v1H0zM0 1881h1v3H0zM0 1884h1v1H0zM0 1885h1v2H0zM0 1887h1v2H0zM0 1889h1v3H0zM0 1892h1v2H0zM0 1894h1v4H0zM0 1901h1v3H0zM0 1904h1v2H0zM0 1906h1v2H0zM0 1908h1v1H0zM0 1909h1v3H0zM0 1912h1v1H0zM0 1913h1v3H0zM0 1916h1v1H0zM0 1919h1v1H0zM0 1920h1v2H0zM0 1922h1v2H0zM0 1924h1v2H0zM0 1926h1v1H0zM0 1927h1v2H0zM0 1933h1v1H0zM0 1934h1v2H0zM0 1937h1v2H0zM0 1939h1v1H0zM0 1940h1v4H0zM0 1944h1v4H0zM0 1948h1v1H0zM0 1949h1v3H0zM0 1952h1v3H0zM0 1955h1v1H0zM0 1956h1v1H0zM0 1957h1v3H0zM0 1960h1v3H0zM0 1963h1v2H0zM0 1965h1v1H0zM0 1966h1v2H0zM0 1968h1v2H0zM0 1973h1v3H0zM0 1979h1v3H0zM0 1983h1v1H0zM0 1986h1v1H0zM0 1989h1v2H0zM0 1991h1v1H0zM0 1992h1v2H0zM0 1994h1v2H0zM0 1996h1v1H0zM0 1997h1v1H0zM0 1998h1v1H0zM0 2002h1v1H0zM0 2003h1v2H0zM0 2005h1v3H0zM0 2008h1v2H0zM0 2013h1v1H0zM0 2014h1v1H0zM0 2015h1v2H0zM0 2017h1v2H0zM0 2019h1v2H0zM0 2021h1v1H0zM0 2022h1v2H0zM0 2025h1v3H0zM0 2030h1v3H0zM0 2033h1v4H0zM0 2037h1v1H0zM0 2038h1v2H0zM0 2040h1v4H0zM0 2044h1v3H0zM0 2047h1v3H0zM0 2050h1v1H0zM0 2051h1v3H0zM0 2054h1v2H0zM0 2056h1v2H0zM0 2058h1v2H0zM0 2060h1v2H0zM0 2062h1v1H0zM0 2063h1v2H0zM0 2065h1v4H0zM0 2069h1v3H0zM0 2072h1v2H0zM0 2074h1v2H0zM0 2076h1v1H0zM0 2077h1v3H0zM0 2080h1v2H0zM0 2082h1v3H0zM0 2085h1v2H0zM0 2087h1v2H0zM0 2089h1v3H0zM0 2092h1v1H0zM0 2093h1v4H0zM0 2097h1v1H0zM0 2099h1v2H0zM0 2101h1v4H0zM0 2105h1v2H0zM0 2107h1v4H0zM0 2113h1v3H0zM0 2121h1v3H0zM0 2124h1v1H0zM0 2125h1v3H0zM0 2128h1v2H0zM0 2135h1v2H0zM0 2137h1v4H0zM0 2141h1v2H0zM0 2143h1v2H0zM0 2145h1v4H0zM0 2149h1v2H0zM0 2151h1v4H0zM0 2157h1v2H0zM0 2159h1v2H0zM0 2161h1v3H0zM0 2164h1v2H0zM0 2169h1v1H0zM0 2170h1v4H0zM0 2174h1v3H0zM0 2177h1v4H0zM0 2181h1v2H0zM0 2183h1v2H0zM0 2185h1v2H0zM0 2187h1v2H0zM0 2189h1v3H0zM0 2192h1v1H0zM0 2195h1v2H0zM0 2200h1v1H0zM0 2201h1v3H0zM0 2204h1v2H0zM0 2206h1v1H0zM0 2211h1v2H0zM0 2213h1v2H0zM0 2215h1v2H0zM0 2217h1v2H0zM0 2219h1v1H0zM0 2222h1v2H0zM0 2224h1v2H0zM0 2226h1v1H0zM0 2227h1v1H0zM0 2228h1v3H0zM0 2235h1v3H0zM0 2238h1v2H0zM0 2243h1v1H0zM0 2244h1v4H0zM0 2248h1v2H0zM0 2250h1v3H0zM0 2254h1v1H0zM0 2257h1v2H0zM0 2260h1v2H0zM0 2262h1v2H0zM0 2264h1v1H0zM0 2265h1v2H0zM0 2271h1v1H0zM0 2272h1v2H0zM0 2274h1v4H0zM0 2278h1v2H0zM0 2280h1v3H0zM0 2287h1v3H0zM0 2293h1v1H0zM0 2294h1v3H0zM0 2297h1v3H0zM0 2300h1v2H0zM0 2302h1v3H0zM0 2308h1v4H0zM0 2315h1v2H0zM0 2318h1v2H0zM0 2320h1v2H0zM0 2322h1v2H0zM0 2324h1v2H0zM0 2326h1v3H0zM0 2329h1v2H0zM0 2331h1v4H0zM0 2335h1v2H0zM0 2337h1v4H0zM0 2341h1v2H0zM0 2343h1v2H0zM0 2345h1v2H0zM0 2347h1v1H0zM0 2348h1v2H0zM0 2350h1v4H0zM0 2354h1v2H0zM0 2357h1v3H0zM0 2360h1v4H0zM0 2365h1v2H0zM0 2367h1v3H0zM0 2370h1v2H0zM0 2372h1v1H0zM0 2377h1v2H0zM0 2379h1v1H0zM0 2382h1v1H0zM0 2383h1v4H0zM0 2387h1v3H0zM0 2390h1v3H0zM0 2393h1v4H0zM0 2397h1v2H0zM0 2399h1v3H0zM0 2402h1v1H0zM0 2403h1v2H0zM0 2410h1v3H0zM0 2413h1v3H0zM0 2416h1v3H0zM0 2419h1v1H0zM0 2420h1v3H0zM0 2429h1v3H0zM0 2435h1v1H0zM0 2436h1v2H0zM0 2438h1v3H0zM0 2441h1v2H0zM0 2443h1v2H0zM0 2445h1v1H0zM0 2447h1v2H0zM0 2449h1v1H0zM0 2450h1v4H0zM0 2458h1v3H0zM0 2462h1v2H0zM0 2464h1v3H0zM0 2467h1v1H0zM0 2468h1v2H0zM0 2470h1v3H0zM0 2473h1v1H0zM0 2474h1v4H0zM0 2478h1v3H0zM0 2481h1v1H0zM0 2482h1v1H0zM0 2483h1v2H0zM0 2487h1v2H0zM0 2489h1v2H0zM0 2491h1v2H0zM0 2493h1v1H0zM0 2494h1v2H0zM0 2496h1v1H0zM0 2497h1v2H0zM0 2499h1v3H0zM0 2502h1v1H0zM0 2503h1v2H0zM0 2509h1v3H0zM0 2512h1v2H0zM0 2514h1v2H0zM0 2516h1v4H0zM0 2530h1v2H0zM0 2532h1v2H0zM0 2534h1v4H0zM0 2538h1v2H0zM0 2540h1v1H0zM0 2546h1v2H0zM0 2549h1v1H0z"/><path fill="#bbbbfb" d="M0 1220h1v3H0zM0 1416h1v4H0zM0 1445h1v3H0zM0 1454h1v2H0zM0 1524h1v2H0zM0 1541h1v1H0zM0 1612h1v2H0zM0 1700h1v4H0zM0 1704h1v1H0zM0 1712h1v1H0zM0 1714h1v2H0zM0 1752h1v2H0zM0 1774h1v1H0zM0 1776h1v3H0zM0 1809h1v2H0zM0 1879h1v2H0zM0 1898h1v3H0zM0 1917h1v2H0zM0 1929h1v4H0zM0 1970h1v3H0zM0 1976h1v2H0zM0 1978h1v1H0zM0 1987h1v2H0zM0 2010h1v3H0zM0 2028h1v2H0zM0 2155h1v2H0zM0 2197h1v3H0zM0 2231h1v4H0zM0 2240h1v3H0zM0 2284h1v3H0zM0 2305h1v3H0zM0 2312h1v1H0zM0 2356h1v1H0zM0 2405h1v2H0zM0 2407h1v1H0zM0 2408h1v2H0zM0 2423h1v2H0zM0 2454h1v2H0zM0 2485h1v2H0zM0 2526h1v4H0zM0 2544h1v2H0zM0 2548h1v1H0z"/><path fill="#f1eef8" d="M0 1229h1v2H0zM0 1379h1v1H0zM0 1506h1v2H0zM0 1508h1v2H0z"/><path fill="#e6e5fa" d="M0 1235h1v4H0zM0 1251h1v1H0zM0 1260h1v3H0zM0 1317h1v3H0z"/><path fill="#7a7aff" d="M0 1256h1v2H0zM0 1382h1v1H0zM0 1383h1v2H0zM0 1480h1v1H0zM0 1481h1v1H0zM0 1482h1v1H0zM0 1657h1v3H0zM0 1660h1v1H0z"/><path fill="#6868fc" d="M0 1298h1v4H0zM0 1380h1v1H0zM0 1656h1v1H0zM0 1661h1v3H0zM0 1666h1v3H0z"/><path fill="#a2a2fc" d="M0 1304h1v3H0zM0 1356h1v4H0zM0 1390h1v3H0zM0 1401h1v4H0zM0 1424h1v3H0zM0 1440h1v4H0zM0 1457h1v1H0zM0 1467h1v3H0zM0 1499h1v1H0zM0 1500h1v4H0zM0 1542h1v2H0zM0 1569h1v2H0zM0 1601h1v1H0zM0 1607h1v1H0zM0 1631h1v2H0zM0 1765h1v1H0zM0 1786h1v3H0zM0 1854h1v3H0zM0 1857h1v4H0zM0 1936h1v1H0zM0 1984h1v2H0zM0 1999h1v3H0zM0 2111h1v2H0zM0 2117h1v4H0zM0 2132h1v3H0zM0 2166h1v3H0zM0 2193h1v2H0zM0 2220h1v2H0zM0 2253h1v1H0zM0 2267h1v4H0zM0 2283h1v1H0zM0 2290h1v3H0zM0 2317h1v1H0zM0 2364h1v1H0zM0 2373h1v4H0zM0 2380h1v2H0zM0 2425h1v4H0zM0 2432h1v3H0zM0 2456h1v2H0zM0 2520h1v3H0zM0 2523h1v3H0z"/><path fill="#9494fd" d="M0 1371h1v1H0zM0 1372h1v4H0zM0 1406h1v2H0zM0 1438h1v2H0zM0 1456h1v1H0zM0 1604h1v3H0zM0 1722h1v4H0zM0 1827h1v3H0zM0 1851h1v1H0zM0 2024h1v1H0zM0 2098h1v1H0zM0 2255h1v2H0zM0 2259h1v1H0zM0 2313h1v2H0zM0 2446h1v1H0zM0 2461h1v1H0zM0 2505h1v4H0zM0 2541h1v3H0z"/><path fill="#8787fe" d="M0 1376h1v2H0zM0 1381h1v1H0z"/><path fill="#c8c8fc" d="M0 1429h1v2H0zM0 1476h1v2H0zM0 1504h1v2H0zM0 1764h1v1H0zM0 1982h1v1H0zM0 2116h1v1H0zM0 2130h1v2H0zM0 2207h1v4H0z"/><path fill="#3434f2" d="M0 1574h1v1H0zM0 1576h1v2H0zM0 1647h1v1H0zM0 1648h1v3H0zM0 1651h1v4H0zM0 1655h1v1H0zM0 1664h1v2H0zM0 1669h1v3H0z"/><path fill="#4646f5" d="M0 1575h1v1H0z"/><path fill="#e0e0fc" d="M0 1152h1v2H0zM0 1163h1v2H0zM0 1832h1v2H0zM0 2495h1v9H0z"/><path fill="#7a7aff" d="M0 1711h1v2H0zM0 1761h1v2H0zM0 1845h1v2H0zM0 1857h1v2H0zM0 1898h1v2H0zM0 1942h1v2H0zM0 1960h1v3H0zM0 1978h1v2H0zM0 2029h1v2H0zM0 2068h1v2H0zM0 2175h1v2H0zM0 2185h1v2H0zM0 2370h1v2H0zM0 2522h1v2H0z"/><path fill="#3434f2" d="M0 2254h1v2H0zM0 2406h1v5H0z"/></g><g shape-rendering="crispEdges" transform="translate(665.70 0) scale(175.75 1)"><path fill="#fee6b8" d="M0 865h1v2H0zM0 898h1v2H0zM0 983h1v2H0zM0 1009h1v2H0zM0 1031h1v1H0zM0 1037h1v1H0zM0 1049h1v3H0zM0 1052h1v3H0zM0 1055h1v1H0zM0 1070h1v3H0zM0 1083h1v3H0z"/><path fill="#fef3e0" d="M0 867h1v2H0zM0 871h1v3H0zM0 911h1v3H0zM0 914h1v1H0zM0 915h1v3H0zM0 970h1v2H0zM0 976h1v3H0zM0 985h1v1H0zM0 986h1v2H0zM0 988h1v3H0zM0 995h1v2H0zM0 997h1v1H0zM0 1001h1v1H0zM0 1002h1v1H0zM0 1073h1v2H0zM0 1078h1v3H0zM0 1081h1v2H0zM0 1581h1v2H0zM0 1583h1v2H0zM0 1585h1v3H0z"/><path fill="#feeed2" d="M0 869h1v2H0zM0 964h1v2H0zM0 968h1v2H0zM0 972h1v4H0zM0 979h1v4H0zM0 991h1v1H0z"/><path fill="#e0e0fc" d="M0 874h1v1H0zM0 875h1v1H0zM0 876h1v3H0zM0 879h1v2H0zM0 881h1v2H0zM0 883h1v2H0zM0 885h1v2H0zM0 887h1v1H0zM0 888h1v2H0zM0 906h1v2H0zM0 908h1v2H0zM0 921h1v2H0zM0 926h1v3H0zM0 930h1v1H0zM0 931h1v3H0zM0 939h1v1H0zM0 940h1v2H0zM0 959h1v4H0zM0 963h1v1H0zM0 1279h1v3H0zM0 1282h1v1H0zM0 1283h1v2H0zM0 1285h1v2H0zM0 1287h1v3H0zM0 1565h1v2H0zM0 1567h1v2H0zM0 1588h1v1H0zM0 1589h1v2H0zM0 1591h1v2H0zM0 1593h1v4H0zM0 1598h1v1H0zM0 1603h1v4H0zM0 1608h1v2H0zM0 1613h1v3H0zM0 1618h1v3H0zM0 1624h1v1H0zM0 1629h1v4H0zM0 1635h1v3H0zM0 1638h1v3H0zM0 1641h1v3H0zM0 1644h1v1H0zM0 1645h1v2H0z"/><path fill="#afaffb" d="M0 890h1v2H0zM0 892h1v1H0zM0 946h1v1H0zM0 947h1v1H0zM0 948h1v3H0zM0 952h1v2H0zM0 1387h1v2H0zM0 1389h1v1H0zM0 1393h1v2H0zM0 1395h1v2H0zM0 1397h1v2H0zM0 1399h1v2H0zM0 1405h1v1H0zM0 1408h1v3H0zM0 1411h1v1H0zM0 1412h1v3H0zM0 1415h1v1H0zM0 1420h1v3H0zM0 1423h1v1H0zM0 1427h1v2H0zM0 1431h1v2H0zM0 1433h1v4H0zM0 1437h1v1H0zM0 1444h1v1H0zM0 1448h1v3H0zM0 1451h1v3H0zM0 1458h1v3H0zM0 1461h1v3H0zM0 1464h1v1H0zM0 1465h1v2H0zM0 1470h1v4H0zM0 1474h1v2H0zM0 1478h1v2H0zM0 1480h1v1H0zM0 1481h1v1H0zM0 1482h1v4H0zM0 1510h1v1H0zM0 1511h1v2H0zM0 1513h1v1H0zM0 1514h1v3H0zM0 1517h1v2H0zM0 1519h1v1H0zM0 1520h1v1H0zM0 1521h1v3H0zM0 1526h1v4H0zM0 1530h1v2H0zM0 1532h1v1H0zM0 1533h1v2H0zM0 1535h1v3H0zM0 1538h1v3H0zM0 1544h1v3H0zM0 1551h1v2H0zM0 1553h1v1H0zM0 1554h1v1H0zM0 1555h1v3H0zM0 1558h1v2H0zM0 1560h1v1H0zM0 1561h1v2H0zM0 1563h1v1H0zM0 1564h1v1H0zM0 1571h1v2H0zM0 1573h1v1H0zM0 1601h1v2H0zM0 1607h1v1H0zM0 1610h1v3H0zM0 1625h1v4H0zM0 1634h1v1H0zM0 1672h1v3H0zM0 1675h1v4H0zM0 1679h1v2H0zM0 1681h1v1H0zM0 1682h1v2H0zM0 1684h1v1H0zM0 1685h1v2H0zM0 1687h1v3H0zM0 1690h1v2H0zM0 1692h1v4H0zM0 1696h1v4H0zM0 1705h1v2H0zM0 1707h1v3H0zM0 1710h1v2H0zM0 1713h1v1H0zM0 1716h1v3H0zM0 1719h1v3H0zM0 1726h1v3H0zM0 1729h1v2H0zM0 1731h1v1H0zM0 1732h1v2H0zM0 1734h1v2H0zM0 1736h1v2H0zM0 1738h1v1H0zM0 1739h1v1H0zM0 1740h1v1H0zM0 1741h1v3H0zM0 1744h1v1H0zM0 1745h1v1H0zM0 1746h1v1H0zM0 1747h1v2H0zM0 1749h1v3H0zM0 1754h1v4H0zM0 1758h1v1H0zM0 1759h1v1H0zM0 1760h1v1H0zM0 1761h1v1H0zM0 1762h1v2H0zM0 1766h1v4H0zM0 1770h1v2H0zM0 1772h1v2H0zM0 1775h1v1H0zM0 1779h1v1H0zM0 1780h1v1H0zM0 1781h1v2H0zM0 1783h1v2H0zM0 1785h1v1H0zM0 1789h1v3H0zM0 1792h1v4H0zM0 1796h1v3H0zM0 1799h1v2H0zM0 1801h1v2H0zM0 1803h1v2H0zM0 1805h1v2H0zM0 1807h1v2H0zM0 1811h1v1H0zM0 1812h1v2H0zM0 1814h1v3H0zM0 1817h1v2H0zM0 1819h1v3H0zM0 1822h1v3H0zM0 1825h1v2H0zM0 1830h1v3H0zM0 1833h1v2H0zM0 1835h1v2H0zM0 1837h1v3H0zM0 1840h1v1H0zM0 1841h1v2H0zM0 1843h1v3H0zM0 1846h1v2H0zM0 1848h1v3H0zM0 1852h1v2H0zM0 1861h1v3H0zM0 1864h1v3H0zM0 1867h1v2H0zM0 1869h1v1H0zM0 1870h1v2H0zM0 1872h1v3H0zM0 1875h1v3H0zM0 1878h1v1H0zM0 1881h1v3H0zM0 1884h1v1H0zM0 1885h1v2H0zM0 1887h1v2H0zM0 1889h1v3H0zM0 1892h1v2H0zM0 1894h1v4H0zM0 1901h1v3H0zM0 1904h1v2H0zM0 1906h1v2H0zM0 1908h1v1H0zM0 1909h1v3H0zM0 1912h1v1H0zM0 1913h1v3H0zM0 1916h1v1H0zM0 1919h1v1H0zM0 1920h1v2H0zM0 1922h1v2H0zM0 1924h1v2H0zM0 1926h1v1H0zM0 1927h1v2H0zM0 1933h1v1H0zM0 1934h1v2H0zM0 1937h1v2H0zM0 1939h1v1H0zM0 1940h1v4H0zM0 1944h1v4H0zM0 1948h1v1H0zM0 1949h1v3H0zM0 1952h1v3H0zM0 1955h1v1H0zM0 1956h1v1H0zM0 1957h1v3H0zM0 1960h1v3H0zM0 1963h1v2H0zM0 1965h1v1H0zM0 1966h1v2H0zM0 1968h1v2H0zM0 1973h1v3H0zM0 1979h1v3H0zM0 1983h1v1H0zM0 1986h1v1H0zM0 1989h1v2H0zM0 1991h1v1H0zM0 1992h1v2H0zM0 1994h1v2H0zM0 1996h1v1H0zM0 1997h1v1H0zM0 1998h1v1H0zM0 2002h1v1H0zM0 2003h1v2H0zM0 2005h1v3H0zM0 2008h1v2H0zM0 2013h1v1H0zM0 2014h1v1H0zM0 2015h1v2H0zM0 2017h1v2H0zM0 2019h1v2H0zM0 2021h1v1H0zM0 2022h1v2H0zM0 2025h1v3H0zM0 2030h1v3H0zM0 2033h1v4H0zM0 2037h1v1H0zM0 2038h1v2H0zM0 2040h1v4H0zM0 2044h1v3H0zM0 2047h1v3H0zM0 2050h1v1H0zM0 2051h1v3H0zM0 2054h1v2H0zM0 2056h1v2H0zM0 2058h1v2H0zM0 2060h1v2H0zM0 2062h1v1H0zM0 2063h1v2H0zM0 2065h1v4H0zM0 2069h1v3H0zM0 2072h1v2H0zM0 2074h1v2H0zM0 2076h1v1H0zM0 2077h1v3H0zM0 2080h1v2H0zM0 2082h1v3H0zM0 2085h1v2H0zM0 2087h1v2H0zM0 2089h1v3H0zM0 2092h1v1H0zM0 2093h1v4H0zM0 2097h1v1H0zM0 2099h1v2H0zM0 2101h1v4H0zM0 2105h1v2H0zM0 2107h1v4H0zM0 2113h1v3H0zM0 2121h1v3H0zM0 2124h1v1H0zM0 2125h1v3H0zM0 2128h1v2H0zM0 2135h1v2H0zM0 2137h1v4H0zM0 2141h1v2H0zM0 2143h1v2H0zM0 2145h1v4H0zM0 2149h1v2H0zM0 2151h1v4H0zM0 2157h1v2H0zM0 2159h1v2H0zM0 2161h1v3H0zM0 2164h1v2H0zM0 2169h1v1H0zM0 2170h1v4H0zM0 2174h1v3H0zM0 2177h1v4H0zM0 2181h1v2H0zM0 2183h1v2H0zM0 2185h1v2H0zM0 2187h1v2H0zM0 2189h1v3H0zM0 2192h1v1H0zM0 2195h1v2H0zM0 2200h1v1H0zM0 2201h1v3H0zM0 2204h1v2H0zM0 2206h1v1H0zM0 2211h1v2H0zM0 2213h1v2H0zM0 2215h1v2H0zM0 2217h1v2H0zM0 2219h1v1H0zM0 2222h1v2H0zM0 2224h1v2H0zM0 2226h1v1H0zM0 2227h1v1H0zM0 2228h1v3H0zM0 2235h1v3H0zM0 2238h1v2H0zM0 2243h1v1H0zM0 2244h1v4H0zM0 2248h1v2H0zM0 2250h1v3H0zM0 2254h1v1H0zM0 2257h1v2H0zM0 2260h1v2H0zM0 2262h1v2H0zM0 2264h1v1H0zM0 2265h1v2H0zM0 2271h1v1H0zM0 2272h1v2H0zM0 2274h1v4H0zM0 2278h1v2H0zM0 2280h1v3H0zM0 2287h1v3H0zM0 2293h1v1H0zM0 2294h1v3H0zM0 2297h1v3H0zM0 2300h1v2H0zM0 2302h1v3H0zM0 2308h1v4H0zM0 2315h1v2H0zM0 2318h1v2H0zM0 2320h1v2H0zM0 2322h1v2H0zM0 2324h1v2H0zM0 2326h1v3H0zM0 2329h1v2H0zM0 2331h1v4H0zM0 2335h1v2H0zM0 2337h1v4H0zM0 2341h1v2H0zM0 2343h1v2H0zM0 2345h1v2H0zM0 2347h1v1H0zM0 2348h1v2H0zM0 2350h1v4H0zM0 2354h1v2H0zM0 2357h1v3H0zM0 2360h1v4H0zM0 2365h1v2H0zM0 2367h1v3H0zM0 2370h1v2H0zM0 2372h1v1H0zM0 2377h1v2H0zM0 2379h1v1H0zM0 2382h1v1H0zM0 2383h1v4H0zM0 2387h1v3H0zM0 2390h1v3H0zM0 2393h1v4H0zM0 2397h1v2H0zM0 2399h1v3H0zM0 2402h1v1H0zM0 2403h1v2H0zM0 2410h1v3H0zM0 2413h1v3H0zM0 2416h1v3H0zM0 2419h1v1H0zM0 2420h1v3H0zM0 2429h1v3H0zM0 2435h1v1H0zM0 2436h1v2H0zM0 2438h1v3H0zM0 2441h1v2H0zM0 2443h1v2H0zM0 2445h1v1H0zM0 2447h1v2H0zM0 2449h1v1H0zM0 2450h1v4H0zM0 2458h1v3H0zM0 2462h1v2H0zM0 2464h1v3H0zM0 2467h1v1H0zM0 2468h1v2H0zM0 2470h1v3H0zM0 2473h1v1H0zM0 2474h1v4H0zM0 2478h1v3H0zM0 2481h1v1H0zM0 2482h1v1H0zM0 2483h1v2H0zM0 2487h1v2H0zM0 2489h1v2H0zM0 2491h1v2H0zM0 2493h1v1H0zM0 2494h1v2H0zM0 2496h1v1H0zM0 2497h1v2H0zM0 2499h1v3H0zM0 2502h1v1H0zM0 2503h1v2H0zM0 2509h1v3H0zM0 2512h1v2H0zM0 2514h1v2H0zM0 2516h1v4H0zM0 2530h1v2H0zM0 2532h1v2H0zM0 2534h1v4H0zM0 2538h1v2H0zM0 2540h1v1H0zM0 2546h1v2H0zM0 2549h1v1H0z"/><path fill="#7a7aff" d="M0 893h1v2H0zM0 954h1v1H0zM0 955h1v3H0zM0 958h1v1H0zM0 1486h1v2H0zM0 1488h1v1H0zM0 1489h1v2H0zM0 1491h1v2H0zM0 1493h1v2H0zM0 1495h1v2H0zM0 1497h1v2H0zM0 1547h1v3H0z"/><path fill="#f7f3f6" d="M0 895h1v1H0zM0 896h1v2H0zM0 923h1v3H0zM0 942h1v3H0zM0 1378h1v1H0zM0 1382h1v1H0zM0 1383h1v3H0zM0 1386h1v1H0zM0 1574h1v1H0zM0 1578h1v3H0z"/><path fill="#fee1aa" d="M0 900h1v3H0zM0 903h1v1H0zM0 966h1v2H0zM0 992h1v3H0zM0 998h1v3H0zM0 1003h1v4H0zM0 1007h1v2H0zM0 1011h1v1H0zM0 1012h1v1H0zM0 1017h1v1H0zM0 1018h1v1H0zM0 1019h1v1H0zM0 1024h1v2H0zM0 1026h1v2H0zM0 1045h1v1H0zM0 1046h1v3H0zM0 1056h1v3H0zM0 1065h1v3H0zM0 1068h1v2H0zM0 1077h1v1H0zM0 1088h1v1H0zM0 1089h1v2H0zM0 1091h1v4H0zM0 1099h1v2H0zM0 1101h1v3H0zM0 1265h1v2H0zM0 1267h1v3H0zM0 1270h1v3H0zM0 1274h1v2H0zM0 1362h1v1H0zM0 1363h1v2H0zM0 1365h1v1H0zM0 1652h1v4H0zM0 1656h1v1H0zM0 1667h1v1H0z"/><path fill="#e6e5fa" d="M0 904h1v2H0zM0 934h1v3H0zM0 1290h1v1H0zM0 1616h1v2H0zM0 1621h1v3H0z"/><path fill="#f9f3f0" d="M0 910h1v1H0zM0 918h1v2H0zM0 929h1v1H0zM0 945h1v1H0zM0 1381h1v1H0zM0 1575h1v1H0z"/><path fill="#d4d4fc" d="M0 920h1v1H0zM0 937h1v2H0zM0 1276h1v3H0zM0 1569h1v1H0zM0 1597h1v1H0zM0 1599h1v2H0zM0 1633h1v1H0z"/><path fill="#a2a2fc" d="M0 951h1v1H0zM0 1390h1v3H0zM0 1401h1v4H0zM0 1424h1v3H0zM0 1440h1v4H0zM0 1457h1v1H0zM0 1467h1v3H0zM0 1500h1v4H0zM0 1506h1v2H0zM0 1508h1v2H0zM0 1542h1v2H0zM0 1570h1v1H0zM0 1765h1v1H0zM0 1786h1v3H0zM0 1854h1v3H0zM0 1857h1v4H0zM0 1936h1v1H0zM0 1984h1v2H0zM0 1999h1v3H0zM0 2111h1v2H0zM0 2117h1v4H0zM0 2132h1v3H0zM0 2166h1v3H0zM0 2193h1v2H0zM0 2220h1v2H0zM0 2253h1v1H0zM0 2267h1v4H0zM0 2283h1v1H0zM0 2290h1v3H0zM0 2317h1v1H0zM0 2364h1v1H0zM0 2373h1v4H0zM0 2380h1v2H0zM0 2425h1v4H0zM0 2432h1v3H0zM0 2456h1v2H0zM0 2520h1v3H0zM0 2523h1v3H0z"/><path fill="#fec868" d="M0 1013h1v2H0zM0 1109h1v2H0zM0 1131h1v2H0zM0 1196h1v2H0zM0 1201h1v2H0zM0 1220h1v3H0zM0 1243h1v1H0zM0 1257h1v1H0zM0 1658h1v2H0z"/><path fill="#fecd76" d="M0 1015h1v2H0zM0 1021h1v3H0zM0 1028h1v3H0zM0 1032h1v2H0zM0 1036h1v1H0zM0 1041h1v4H0zM0 1059h1v2H0zM0 1061h1v4H0zM0 1111h1v3H0zM0 1114h1v1H0zM0 1115h1v2H0zM0 1117h1v1H0zM0 1118h1v2H0zM0 1120h1v2H0zM0 1122h1v4H0zM0 1126h1v2H0zM0 1128h1v1H0zM0 1129h1v2H0zM0 1133h1v3H0zM0 1136h1v3H0zM0 1139h1v2H0zM0 1141h1v2H0zM0 1143h1v2H0zM0 1145h1v2H0zM0 1147h1v3H0zM0 1150h1v2H0zM0 1188h1v1H0zM0 1189h1v2H0zM0 1191h1v3H0zM0 1198h1v3H0zM0 1203h1v1H0zM0 1204h1v2H0zM0 1206h1v1H0zM0 1207h1v4H0zM0 1211h1v2H0zM0 1213h1v1H0zM0 1214h1v1H0zM0 1215h1v1H0zM0 1216h1v2H0zM0 1218h1v2H0zM0 1223h1v2H0zM0 1225h1v1H0zM0 1226h1v3H0zM0 1242h1v1H0zM0 1249h1v3H0zM0 1255h1v2H0zM0 1260h1v2H0zM0 1649h1v3H0zM0 1657h1v1H0zM0 1664h1v2H0zM0 1666h1v1H0z"/><path fill="#fed283" d="M0 1020h1v1H0zM0 1034h1v2H0zM0 1038h1v3H0zM0 1194h1v2H0zM0 1262h1v3H0zM0 1660h1v4H0z"/><path fill="#fcf3e6" d="M0 1075h1v2H0z"/><path fill="#fedc9d" d="M0 1086h1v2H0zM0 1095h1v4H0zM0 1104h1v3H0zM0 1107h1v2H0zM0 1647h1v2H0z"/><path fill="#feb93c" d="M0 1152h1v2H0zM0 1154h1v2H0zM0 1156h1v3H0zM0 1159h1v3H0zM0 1162h1v2H0zM0 1164h1v2H0zM0 1168h1v3H0zM0 1171h1v2H0zM0 1173h1v2H0zM0 1175h1v1H0zM0 1176h1v3H0zM0 1179h1v2H0zM0 1181h1v2H0zM0 1183h1v2H0zM0 1186h1v1H0zM0 1187h1v1H0zM0 1244h1v4H0zM0 1258h1v2H0zM0 1294h1v4H0zM0 1321h1v1H0zM0 1322h1v2H0zM0 1324h1v3H0zM0 1327h1v2H0zM0 1329h1v2H0zM0 1331h1v3H0zM0 1334h1v2H0zM0 1336h1v2H0zM0 1338h1v2H0zM0 1340h1v1H0zM0 1341h1v4H0zM0 1345h1v4H0zM0 1349h1v4H0zM0 1353h1v2H0zM0 1355h1v1H0zM0 1360h1v2H0zM0 1668h1v2H0zM0 1670h1v2H0z"/><path fill="#feb023" d="M0 1166h1v2H0zM0 1298h1v4H0z"/><path fill="#feb430" d="M0 1185h1v1H0zM0 1248h1v1H0zM0 1291h1v2H0zM0 1293h1v1H0z"/><path fill="#ffab16" d="M0 1229h1v2H0z"/><path fill="#ffa60a" d="M0 1231h1v4H0zM0 1235h1v4H0zM0 1239h1v2H0zM0 1241h1v1H0zM0 1302h1v2H0zM0 1304h1v2H0zM0 1306h1v2H0zM0 1308h1v2H0zM0 1310h1v1H0zM0 1311h1v2H0zM0 1313h1v3H0zM0 1316h1v2H0zM0 1318h1v2H0zM0 1320h1v1H0zM0 1366h1v2H0zM0 1368h1v2H0zM0 1370h1v2H0zM0 1372h1v4H0zM0 1376h1v2H0z"/><path fill="#febe4a" d="M0 1252h1v3H0zM0 1356h1v4H0z"/><path fill="#fed790" d="M0 1273h1v1H0z"/><path fill="#f1eef8" d="M0 1379h1v2H0zM0 1576h1v2H0z"/><path fill="#9494fd" d="M0 1406h1v2H0zM0 1438h1v2H0zM0 1456h1v1H0zM0 1722h1v4H0zM0 1827h1v3H0zM0 1851h1v1H0zM0 2024h1v1H0zM0 2098h1v1H0zM0 2255h1v2H0zM0 2259h1v1H0zM0 2313h1v2H0zM0 2446h1v1H0zM0 2461h1v1H0zM0 2505h1v4H0zM0 2541h1v3H0z"/><path fill="#bbbbfb" d="M0 1416h1v4H0zM0 1445h1v3H0zM0 1454h1v2H0zM0 1524h1v2H0zM0 1541h1v1H0zM0 1700h1v4H0zM0 1704h1v1H0zM0 1712h1v1H0zM0 1714h1v2H0zM0 1752h1v2H0zM0 1774h1v1H0zM0 1776h1v3H0zM0 1809h1v2H0zM0 1879h1v2H0zM0 1898h1v3H0zM0 1917h1v2H0zM0 1929h1v4H0zM0 1970h1v3H0zM0 1976h1v2H0zM0 1978h1v1H0zM0 1987h1v2H0zM0 2010h1v3H0zM0 2028h1v2H0zM0 2155h1v2H0zM0 2197h1v3H0zM0 2231h1v4H0zM0 2240h1v3H0zM0 2284h1v3H0zM0 2305h1v3H0zM0 2312h1v1H0zM0 2356h1v1H0zM0 2405h1v2H0zM0 2407h1v1H0zM0 2408h1v2H0zM0 2423h1v2H0zM0 2454h1v2H0zM0 2485h1v2H0zM0 2526h1v4H0zM0 2544h1v2H0zM0 2548h1v1H0z"/><path fill="#c8c8fc" d="M0 1429h1v2H0zM0 1476h1v2H0zM0 1504h1v2H0zM0 1764h1v1H0zM0 1982h1v1H0zM0 2116h1v1H0zM0 2130h1v2H0zM0 2207h1v4H0z"/><path fill="#6868fc" d="M0 1499h1v1H0zM0 1550h1v1H0z"/><path fill="#e0e0fc" d="M0 1421h1v2H0zM0 1754h1v10H0zM0 1942h1v2H0zM0 1962h1v2H0zM0 1978h1v2H0zM0 2495h1v9H0z"/><path fill="#f7f3f6" d="M0 1477h1v2H0zM0 2029h1v2H0zM0 2254h1v2H0zM0 2402h1v11H0zM0 2522h1v2H0z"/><path fill="#7a7aff" d="M0 1829h1v6H0zM0 1843h1v2H0zM0 1877h1v2H0zM0 2092h1v2H0zM0 2162h1v2H0zM0 2217h1v2H0zM0 2282h1v2H0zM0 2347h1v2H0z"/></g><g shape-rendering="crispEdges" transform="translate(840.95 0) scale(175.75 1)"><path fill="#e0e0fc" d="M0 865h1v2H0zM0 867h1v2H0zM0 873h1v1H0zM0 874h1v1H0zM0 875h1v1H0zM0 876h1v3H0zM0 879h1v2H0zM0 881h1v1H0zM0 930h1v1H0zM0 933h1v2H0zM0 935h1v2H0zM0 937h1v2H0zM0 939h1v3H0zM0 942h1v1H0zM0 943h1v2H0zM0 945h1v2H0zM0 947h1v1H0zM0 1364h1v1H0zM0 1378h1v1H0zM0 1382h1v1H0zM0 1383h1v1H0zM0 1571h1v2H0zM0 1573h1v2H0zM0 1578h1v3H0zM0 1581h1v2H0zM0 1588h1v1H0zM0 1589h1v2H0zM0 1591h1v2H0zM0 1593h1v4H0zM0 1598h1v3H0zM0 1602h1v1H0zM0 1603h1v1H0zM0 1635h1v3H0zM0 1638h1v3H0zM0 1641h1v3H0zM0 1644h1v1H0zM0 1645h1v2H0zM0 1658h1v1H0zM0 1659h1v3H0zM0 1662h1v2H0zM0 1666h1v2H0zM0 1668h1v2H0zM0 1670h1v2H0z"/><path fill="#fee1aa" d="M0 869h1v2H0zM0 871h1v2H0zM0 895h1v1H0zM0 896h1v2H0zM0 900h1v3H0zM0 903h1v1H0zM0 965h1v2H0zM0 973h1v4H0zM0 977h1v1H0zM0 978h1v3H0zM0 982h1v1H0zM0 985h1v2H0zM0 996h1v2H0zM0 998h1v1H0zM0 1001h1v2H0zM0 1003h1v3H0zM0 1012h1v3H0zM0 1015h1v1H0zM0 1018h1v1H0zM0 1023h1v3H0zM0 1029h1v1H0zM0 1043h1v4H0zM0 1101h1v3H0zM0 1104h1v1H0zM0 1105h1v2H0zM0 1107h1v3H0zM0 1118h1v2H0zM0 1120h1v2H0zM0 1220h1v3H0zM0 1227h1v2H0zM0 1229h1v4H0zM0 1235h1v1H0zM0 1256h1v3H0zM0 1260h1v4H0zM0 1264h1v3H0zM0 1303h1v1H0zM0 1304h1v2H0zM0 1306h1v2H0zM0 1308h1v2H0zM0 1310h1v1H0zM0 1313h1v3H0zM0 1316h1v2H0zM0 1318h1v1H0zM0 1608h1v4H0zM0 1614h1v1H0z"/><path fill="#fef3e0" d="M0 882h1v1H0zM0 883h1v1H0zM0 904h1v2H0zM0 917h1v3H0zM0 926h1v4H0zM0 981h1v1H0zM0 983h1v2H0zM0 987h1v2H0zM0 989h1v4H0zM0 999h1v2H0zM0 1006h1v2H0zM0 1008h1v2H0zM0 1583h1v2H0zM0 1585h1v3H0zM0 1650h1v1H0zM0 1651h1v2H0z"/><path fill="#afaffb" d="M0 884h1v3H0zM0 887h1v3H0zM0 890h1v2H0zM0 892h1v3H0zM0 948h1v3H0zM0 952h1v1H0zM0 955h1v3H0zM0 958h1v1H0zM0 959h1v4H0zM0 963h1v1H0zM0 964h1v1H0zM0 1384h1v2H0zM0 1386h1v3H0zM0 1389h1v1H0zM0 1393h1v2H0zM0 1395h1v2H0zM0 1397h1v2H0zM0 1399h1v2H0zM0 1405h1v1H0zM0 1408h1v3H0zM0 1411h1v1H0zM0 1412h1v3H0zM0 1415h1v1H0zM0 1420h1v3H0zM0 1423h1v1H0zM0 1427h1v2H0zM0 1431h1v2H0zM0 1433h1v4H0zM0 1437h1v1H0zM0 1444h1v1H0zM0 1448h1v3H0zM0 1451h1v3H0zM0 1458h1v3H0zM0 1461h1v3H0zM0 1464h1v1H0zM0 1465h1v2H0zM0 1470h1v4H0zM0 1474h1v2H0zM0 1478h1v2H0zM0 1480h1v1H0zM0 1481h1v1H0zM0 1482h1v4H0zM0 1510h1v1H0zM0 1511h1v2H0zM0 1513h1v1H0zM0 1514h1v3H0zM0 1517h1v2H0zM0 1519h1v1H0zM0 1520h1v1H0zM0 1521h1v3H0zM0 1526h1v4H0zM0 1530h1v2H0zM0 1532h1v1H0zM0 1533h1v2H0zM0 1535h1v3H0zM0 1538h1v3H0zM0 1544h1v3H0zM0 1551h1v2H0zM0 1553h1v1H0zM0 1554h1v1H0zM0 1555h1v3H0zM0 1558h1v2H0zM0 1560h1v1H0zM0 1561h1v2H0zM0 1563h1v1H0zM0 1564h1v3H0zM0 1567h1v2H0zM0 1615h1v2H0zM0 1617h1v2H0zM0 1619h1v4H0zM0 1623h1v2H0zM0 1625h1v2H0zM0 1627h1v2H0zM0 1629h1v2H0zM0 1633h1v1H0zM0 1634h1v1H0zM0 1672h1v3H0zM0 1675h1v4H0zM0 1679h1v2H0zM0 1681h1v1H0zM0 1682h1v2H0zM0 1684h1v1H0zM0 1685h1v2H0zM0 1687h1v3H0zM0 1690h1v2H0zM0 1692h1v4H0zM0 1696h1v4H0zM0 1705h1v2H0zM0 1707h1v3H0zM0 1710h1v2H0zM0 1713h1v1H0zM0 1716h1v3H0zM0 1719h1v3H0zM0 1726h1v3H0zM0 1729h1v2H0zM0 1731h1v1H0zM0 1732h1v2H0zM0 1734h1v2H0zM0 1736h1v2H0zM0 1738h1v1H0zM0 1739h1v1H0zM0 1740h1v1H0zM0 1741h1v3H0zM0 1744h1v1H0zM0 1745h1v1H0zM0 1746h1v1H0zM0 1747h1v2H0zM0 1749h1v3H0zM0 1754h1v4H0zM0 1758h1v1H0zM0 1759h1v1H0zM0 1760h1v1H0zM0 1761h1v1H0zM0 1762h1v2H0zM0 1766h1v4H0zM0 1770h1v2H0zM0 1772h1v2H0zM0 1775h1v1H0zM0 1779h1v1H0zM0 1780h1v1H0zM0 1781h1v2H0zM0 1783h1v2H0zM0 1785h1v1H0zM0 1789h1v3H0zM0 1792h1v4H0zM0 1796h1v3H0zM0 1799h1v2H0zM0 1801h1v2H0zM0 1803h1v2H0zM0 1805h1v2H0zM0 1807h1v2H0zM0 1811h1v1H0zM0 1812h1v2H0zM0 1814h1v3H0zM0 1817h1v2H0zM0 1819h1v3H0zM0 1822h1v3H0zM0 1825h1v2H0zM0 1830h1v3H0zM0 1833h1v2H0zM0 1835h1v2H0zM0 1837h1v3H0zM0 1840h1v1H0zM0 1841h1v2H0zM0 1843h1v3H0zM0 1846h1v2H0zM0 1848h1v3H0zM0 1852h1v2H0zM0 1861h1v3H0zM0 1864h1v3H0zM0 1867h1v2H0zM0 1869h1v1H0zM0 1870h1v2H0zM0 1872h1v3H0zM0 1875h1v3H0zM0 1878h1v1H0zM0 1881h1v3H0zM0 1884h1v1H0zM0 1885h1v2H0zM0 1887h1v2H0zM0 1889h1v3H0zM0 1892h1v2H0zM0 1894h1v4H0zM0 1901h1v3H0zM0 1904h1v2H0zM0 1906h1v2H0zM0 1908h1v1H0zM0 1909h1v3H0zM0 1912h1v1H0zM0 1913h1v3H0zM0 1916h1v1H0zM0 1919h1v1H0zM0 1920h1v2H0zM0 1922h1v2H0zM0 1924h1v2H0zM0 1926h1v1H0zM0 1927h1v2H0zM0 1933h1v1H0zM0 1934h1v2H0zM0 1937h1v2H0zM0 1939h1v1H0zM0 1940h1v4H0zM0 1944h1v4H0zM0 1948h1v1H0zM0 1949h1v3H0zM0 1952h1v3H0zM0 1955h1v1H0zM0 1956h1v1H0zM0 1957h1v3H0zM0 1960h1v3H0zM0 1963h1v2H0zM0 1965h1v1H0zM0 1966h1v2H0zM0 1968h1v2H0zM0 1973h1v3H0zM0 1979h1v3H0zM0 1983h1v1H0zM0 1986h1v1H0zM0 1989h1v2H0zM0 1991h1v1H0zM0 1992h1v2H0zM0 1994h1v2H0zM0 1996h1v1H0zM0 1997h1v1H0zM0 1998h1v1H0zM0 2002h1v1H0zM0 2003h1v2H0zM0 2005h1v3H0zM0 2008h1v2H0zM0 2013h1v1H0zM0 2014h1v1H0zM0 2015h1v2H0zM0 2017h1v2H0zM0 2019h1v2H0zM0 2021h1v1H0zM0 2022h1v2H0zM0 2025h1v3H0zM0 2030h1v3H0zM0 2033h1v4H0zM0 2037h1v1H0zM0 2038h1v2H0zM0 2040h1v4H0zM0 2044h1v3H0zM0 2047h1v3H0zM0 2050h1v1H0zM0 2051h1v3H0zM0 2054h1v2H0zM0 2056h1v2H0zM0 2058h1v2H0zM0 2060h1v2H0zM0 2062h1v1H0zM0 2063h1v2H0zM0 2065h1v4H0zM0 2069h1v3H0zM0 2072h1v2H0zM0 2074h1v2H0zM0 2076h1v1H0zM0 2077h1v3H0zM0 2080h1v2H0zM0 2082h1v3H0zM0 2085h1v2H0zM0 2087h1v2H0zM0 2089h1v3H0zM0 2092h1v1H0zM0 2093h1v4H0zM0 2097h1v1H0zM0 2099h1v2H0zM0 2101h1v4H0zM0 2105h1v2H0zM0 2107h1v4H0zM0 2113h1v3H0zM0 2121h1v3H0zM0 2124h1v1H0zM0 2125h1v3H0zM0 2128h1v2H0zM0 2135h1v2H0zM0 2137h1v4H0zM0 2141h1v2H0zM0 2143h1v2H0zM0 2145h1v4H0zM0 2149h1v2H0zM0 2151h1v4H0zM0 2157h1v2H0zM0 2159h1v2H0zM0 2161h1v3H0zM0 2164h1v2H0zM0 2169h1v1H0zM0 2170h1v4H0zM0 2174h1v3H0zM0 2177h1v4H0zM0 2181h1v2H0zM0 2183h1v2H0zM0 2185h1v2H0zM0 2187h1v2H0zM0 2189h1v3H0zM0 2192h1v1H0zM0 2195h1v2H0zM0 2200h1v1H0zM0 2201h1v3H0zM0 2204h1v2H0zM0 2206h1v1H0zM0 2211h1v2H0zM0 2213h1v2H0zM0 2215h1v2H0zM0 2217h1v2H0zM0 2219h1v1H0zM0 2222h1v2H0zM0 2224h1v2H0zM0 2226h1v1H0zM0 2227h1v1H0zM0 2228h1v3H0zM0 2235h1v3H0zM0 2238h1v2H0zM0 2243h1v1H0zM0 2244h1v4H0zM0 2248h1v2H0zM0 2250h1v3H0zM0 2254h1v1H0zM0 2257h1v2H0zM0 2260h1v2H0zM0 2262h1v2H0zM0 2264h1v1H0zM0 2265h1v2H0zM0 2271h1v1H0zM0 2272h1v2H0zM0 2274h1v4H0zM0 2278h1v2H0zM0 2280h1v3H0zM0 2287h1v3H0zM0 2293h1v1H0zM0 2294h1v3H0zM0 2297h1v3H0zM0 2300h1v2H0zM0 2302h1v3H0zM0 2308h1v4H0zM0 2315h1v2H0zM0 2318h1v2H0zM0 2320h1v2H0zM0 2322h1v2H0zM0 2324h1v2H0zM0 2326h1v3H0zM0 2329h1v2H0zM0 2331h1v4H0zM0 2335h1v2H0zM0 2337h1v4H0zM0 2341h1v2H0zM0 2343h1v2H0zM0 2345h1v2H0zM0 2347h1v1H0zM0 2348h1v2H0zM0 2350h1v4H0zM0 2354h1v2H0zM0 2357h1v3H0zM0 2360h1v4H0zM0 2365h1v2H0zM0 2367h1v3H0zM0 2370h1v2H0zM0 2372h1v1H0zM0 2377h1v2H0zM0 2379h1v1H0zM0 2382h1v1H0zM0 2383h1v4H0zM0 2387h1v3H0zM0 2390h1v3H0zM0 2393h1v4H0zM0 2397h1v2H0zM0 2399h1v3H0zM0 2402h1v1H0zM0 2403h1v2H0zM0 2410h1v3H0zM0 2413h1v3H0zM0 2416h1v3H0zM0 2419h1v1H0zM0 2420h1v3H0zM0 2429h1v3H0zM0 2435h1v1H0zM0 2436h1v2H0zM0 2438h1v3H0zM0 2441h1v2H0zM0 2443h1v2H0zM0 2445h1v1H0zM0 2447h1v2H0zM0 2449h1v1H0zM0 2450h1v4H0zM0 2458h1v3H0zM0 2462h1v2H0zM0 2464h1v3H0zM0 2467h1v1H0zM0 2468h1v2H0zM0 2470h1v3H0zM0 2473h1v1H0zM0 2474h1v4H0zM0 2478h1v3H0zM0 2481h1v1H0zM0 2482h1v1H0zM0 2483h1v2H0zM0 2487h1v2H0zM0 2489h1v2H0zM0 2491h1v2H0zM0 2493h1v1H0zM0 2494h1v2H0zM0 2496h1v1H0zM0 2497h1v2H0zM0 2499h1v3H0zM0 2502h1v1H0zM0 2503h1v2H0zM0 2509h1v3H0zM0 2512h1v2H0zM0 2514h1v2H0zM0 2516h1v4H0zM0 2530h1v2H0zM0 2532h1v2H0zM0 2534h1v4H0zM0 2538h1v2H0zM0 2540h1v1H0zM0 2546h1v2H0zM0 2549h1v1H0z"/><path fill="#fee6b8" d="M0 898h1v2H0zM0 967h1v2H0zM0 969h1v4H0zM0 1010h1v2H0zM0 1022h1v1H0zM0 1026h1v1H0zM0 1034h1v2H0zM0 1036h1v2H0zM0 1038h1v3H0zM0 1097h1v4H0zM0 1110h1v3H0zM0 1114h1v4H0zM0 1239h1v3H0z"/><path fill="#f7f3f6" d="M0 906h1v3H0zM0 916h1v1H0zM0 920h1v2H0zM0 953h1v2H0zM0 1252h1v2H0zM0 1254h1v2H0zM0 1287h1v3H0zM0 1365h1v4H0zM0 1370h1v3H0zM0 1373h1v3H0zM0 1376h1v2H0z"/><path fill="#f9f3f0" d="M0 909h1v4H0zM0 1290h1v1H0z"/><path fill="#feeed2" d="M0 913h1v3H0zM0 922h1v4H0zM0 1095h1v2H0zM0 1647h1v3H0z"/><path fill="#d4d4fc" d="M0 931h1v2H0zM0 1369h1v1H0zM0 1379h1v2H0zM0 1569h1v2H0zM0 1576h1v2H0zM0 1597h1v1H0zM0 1601h1v1H0zM0 1607h1v1H0zM0 1664h1v2H0z"/><path fill="#a2a2fc" d="M0 951h1v1H0zM0 1390h1v3H0zM0 1401h1v4H0zM0 1424h1v3H0zM0 1440h1v4H0zM0 1457h1v1H0zM0 1467h1v3H0zM0 1500h1v4H0zM0 1506h1v2H0zM0 1508h1v2H0zM0 1542h1v2H0zM0 1631h1v2H0zM0 1765h1v1H0zM0 1786h1v3H0zM0 1854h1v3H0zM0 1857h1v4H0zM0 1936h1v1H0zM0 1984h1v2H0zM0 1999h1v3H0zM0 2111h1v2H0zM0 2117h1v4H0zM0 2132h1v3H0zM0 2166h1v3H0zM0 2193h1v2H0zM0 2220h1v2H0zM0 2253h1v1H0zM0 2267h1v4H0zM0 2283h1v1H0zM0 2290h1v3H0zM0 2317h1v1H0zM0 2364h1v1H0zM0 2373h1v4H0zM0 2380h1v2H0zM0 2425h1v4H0zM0 2432h1v3H0zM0 2456h1v2H0zM0 2520h1v3H0zM0 2523h1v3H0z"/><path fill="#fcf3e6" d="M0 993h1v3H0z"/><path fill="#fed283" d="M0 1016h1v2H0zM0 1076h1v1H0zM0 1141h1v2H0zM0 1150h1v2H0zM0 1187h1v3H0zM0 1207h1v3H0zM0 1214h1v1H0zM0 1215h1v4H0zM0 1245h1v3H0zM0 1356h1v4H0z"/><path fill="#fedc9d" d="M0 1019h1v3H0zM0 1030h1v4H0zM0 1113h1v1H0zM0 1242h1v3H0zM0 1250h1v2H0zM0 1259h1v1H0zM0 1311h1v2H0zM0 1612h1v2H0z"/><path fill="#fecd76" d="M0 1027h1v2H0zM0 1041h1v2H0zM0 1047h1v3H0zM0 1050h1v3H0zM0 1055h1v2H0zM0 1057h1v2H0zM0 1059h1v1H0zM0 1060h1v4H0zM0 1064h1v2H0zM0 1066h1v1H0zM0 1067h1v1H0zM0 1068h1v2H0zM0 1070h1v4H0zM0 1074h1v2H0zM0 1122h1v1H0zM0 1139h1v1H0zM0 1140h1v1H0zM0 1144h1v1H0zM0 1147h1v3H0zM0 1157h1v2H0zM0 1164h1v4H0zM0 1174h1v3H0zM0 1192h1v1H0zM0 1195h1v4H0zM0 1203h1v1H0zM0 1210h1v1H0zM0 1219h1v1H0zM0 1223h1v4H0zM0 1233h1v2H0zM0 1236h1v3H0zM0 1248h1v2H0zM0 1294h1v4H0zM0 1302h1v1H0zM0 1325h1v2H0zM0 1327h1v2H0zM0 1329h1v2H0zM0 1331h1v3H0zM0 1334h1v2H0zM0 1336h1v2H0zM0 1338h1v2H0zM0 1340h1v1H0zM0 1341h1v4H0zM0 1345h1v4H0zM0 1349h1v4H0zM0 1353h1v2H0zM0 1355h1v1H0zM0 1360h1v2H0zM0 1362h1v1H0zM0 1363h1v1H0zM0 1653h1v1H0zM0 1654h1v1H0zM0 1655h1v1H0zM0 1656h1v2H0z"/><path fill="#fec868" d="M0 1053h1v2H0zM0 1123h1v1H0zM0 1199h1v4H0zM0 1291h1v2H0zM0 1293h1v1H0z"/><path fill="#febe4a" d="M0 1077h1v1H0zM0 1171h1v2H0zM0 1190h1v2H0zM0 1211h1v3H0z"/><path fill="#feb93c" d="M0 1078h1v2H0zM0 1080h1v4H0zM0 1084h1v2H0zM0 1086h1v1H0zM0 1087h1v2H0zM0 1089h1v2H0zM0 1091h1v4H0zM0 1124h1v3H0zM0 1131h1v4H0zM0 1135h1v2H0zM0 1143h1v1H0zM0 1145h1v2H0zM0 1155h1v2H0zM0 1159h1v2H0zM0 1161h1v3H0zM0 1168h1v3H0zM0 1173h1v1H0zM0 1177h1v4H0zM0 1181h1v2H0zM0 1183h1v4H0zM0 1193h1v2H0zM0 1204h1v3H0z"/><path fill="#feb430" d="M0 1127h1v2H0zM0 1129h1v2H0zM0 1137h1v2H0zM0 1152h1v3H0z"/><path fill="#ffa60a" d="M0 1267h1v3H0zM0 1270h1v3H0zM0 1273h1v1H0zM0 1274h1v2H0zM0 1279h1v3H0zM0 1282h1v1H0zM0 1283h1v2H0zM0 1285h1v2H0zM0 1319h1v1H0zM0 1320h1v2H0zM0 1322h1v2H0zM0 1324h1v1H0z"/><path fill="#ffab16" d="M0 1276h1v3H0z"/><path fill="#fed790" d="M0 1298h1v4H0z"/><path fill="#e6e5fa" d="M0 1381h1v1H0zM0 1575h1v1H0z"/><path fill="#9494fd" d="M0 1406h1v2H0zM0 1438h1v2H0zM0 1456h1v1H0zM0 1722h1v4H0zM0 1827h1v3H0zM0 1851h1v1H0zM0 2024h1v1H0zM0 2098h1v1H0zM0 2255h1v2H0zM0 2259h1v1H0zM0 2313h1v2H0zM0 2446h1v1H0zM0 2461h1v1H0zM0 2505h1v4H0zM0 2541h1v3H0z"/><path fill="#bbbbfb" d="M0 1416h1v4H0zM0 1445h1v3H0zM0 1454h1v2H0zM0 1524h1v2H0zM0 1541h1v1H0zM0 1700h1v4H0zM0 1704h1v1H0zM0 1712h1v1H0zM0 1714h1v2H0zM0 1752h1v2H0zM0 1774h1v1H0zM0 1776h1v3H0zM0 1809h1v2H0zM0 1879h1v2H0zM0 1898h1v3H0zM0 1917h1v2H0zM0 1929h1v4H0zM0 1970h1v3H0zM0 1976h1v2H0zM0 1978h1v1H0zM0 1987h1v2H0zM0 2010h1v3H0zM0 2028h1v2H0zM0 2155h1v2H0zM0 2197h1v3H0zM0 2231h1v4H0zM0 2240h1v3H0zM0 2284h1v3H0zM0 2305h1v3H0zM0 2312h1v1H0zM0 2356h1v1H0zM0 2405h1v2H0zM0 2407h1v1H0zM0 2408h1v2H0zM0 2423h1v2H0zM0 2454h1v2H0zM0 2485h1v2H0zM0 2526h1v4H0zM0 2544h1v2H0zM0 2548h1v1H0z"/><path fill="#c8c8fc" d="M0 1429h1v2H0zM0 1476h1v2H0zM0 1504h1v2H0zM0 1604h1v3H0zM0 1764h1v1H0zM0 1982h1v1H0zM0 2116h1v1H0zM0 2130h1v2H0zM0 2207h1v4H0z"/><path fill="#7a7aff" d="M0 1486h1v2H0zM0 1488h1v1H0zM0 1489h1v2H0zM0 1491h1v2H0zM0 1493h1v2H0zM0 1495h1v2H0zM0 1497h1v2H0zM0 1547h1v3H0z"/><path fill="#6868fc" d="M0 1499h1v1H0zM0 1550h1v1H0z"/><path fill="#e0e0fc" d="M0 1468h1v2H0zM0 1758h1v5H0zM0 1978h1v12H0zM0 2402h1v11H0zM0 2495h1v9H0zM0 2518h1v4H0z"/><path fill="#f7f3f6" d="M0 1480h1v2H0zM0 2029h1v2H0z"/><path fill="#7a7aff" d="M0 1829h1v6H0zM0 2163h1v2H0zM0 2217h1v2H0z"/><path fill="#fee1aa" d="M0 2440h1v2H0z"/></g><g shape-rendering="crispEdges" transform="translate(1016.20 0) scale(175.75 1)"><path fill="#a2a2fc" d="M0 865h1v3H0zM0 898h1v2H0zM0 931h1v2H0zM0 967h1v2H0zM0 969h1v4H0zM0 986h1v2H0zM0 1025h1v3H0zM0 1040h1v2H0zM0 1044h1v2H0zM0 1076h1v2H0zM0 1194h1v2H0zM0 1229h1v2H0zM0 1356h1v3H0zM0 1424h1v3H0zM0 1597h1v2H0z"/><path fill="#afaffb" d="M0 868h1v3H0zM0 883h1v2H0zM0 885h1v2H0zM0 887h1v1H0zM0 888h1v1H0zM0 895h1v1H0zM0 896h1v2H0zM0 900h1v3H0zM0 903h1v1H0zM0 904h1v2H0zM0 906h1v1H0zM0 907h1v1H0zM0 908h1v3H0zM0 911h1v3H0zM0 914h1v1H0zM0 915h1v4H0zM0 919h1v2H0zM0 921h1v4H0zM0 925h1v1H0zM0 926h1v3H0zM0 929h1v2H0zM0 933h1v2H0zM0 935h1v2H0zM0 937h1v2H0zM0 939h1v3H0zM0 942h1v1H0zM0 943h1v2H0zM0 945h1v1H0zM0 959h1v4H0zM0 963h1v1H0zM0 964h1v1H0zM0 973h1v4H0zM0 977h1v1H0zM0 978h1v3H0zM0 981h1v1H0zM0 985h1v1H0zM0 988h1v2H0zM0 990h1v3H0zM0 993h1v2H0zM0 995h1v3H0zM0 998h1v3H0zM0 1001h1v1H0zM0 1002h1v3H0zM0 1005h1v3H0zM0 1008h1v2H0zM0 1010h1v3H0zM0 1013h1v1H0zM0 1014h1v3H0zM0 1017h1v3H0zM0 1020h1v2H0zM0 1022h1v3H0zM0 1028h1v2H0zM0 1030h1v2H0zM0 1032h1v2H0zM0 1034h1v4H0zM0 1046h1v3H0zM0 1049h1v1H0zM0 1050h1v3H0zM0 1055h1v2H0zM0 1057h1v2H0zM0 1059h1v1H0zM0 1060h1v4H0zM0 1064h1v2H0zM0 1066h1v1H0zM0 1067h1v1H0zM0 1068h1v2H0zM0 1070h1v4H0zM0 1074h1v2H0zM0 1078h1v2H0zM0 1080h1v4H0zM0 1084h1v2H0zM0 1086h1v1H0zM0 1087h1v2H0zM0 1089h1v2H0zM0 1091h1v4H0zM0 1099h1v2H0zM0 1101h1v3H0zM0 1111h1v3H0zM0 1114h1v1H0zM0 1115h1v2H0zM0 1117h1v1H0zM0 1118h1v2H0zM0 1120h1v2H0zM0 1122h1v4H0zM0 1126h1v2H0zM0 1128h1v1H0zM0 1129h1v2H0zM0 1133h1v3H0zM0 1136h1v3H0zM0 1139h1v2H0zM0 1141h1v2H0zM0 1143h1v2H0zM0 1145h1v2H0zM0 1147h1v3H0zM0 1150h1v2H0zM0 1152h1v2H0zM0 1154h1v2H0zM0 1156h1v3H0zM0 1159h1v3H0zM0 1162h1v2H0zM0 1164h1v2H0zM0 1168h1v3H0zM0 1171h1v2H0zM0 1173h1v2H0zM0 1175h1v1H0zM0 1176h1v3H0zM0 1179h1v2H0zM0 1181h1v2H0zM0 1183h1v2H0zM0 1186h1v1H0zM0 1187h1v2H0zM0 1189h1v2H0zM0 1191h1v3H0zM0 1198h1v3H0zM0 1203h1v1H0zM0 1204h1v2H0zM0 1206h1v1H0zM0 1207h1v4H0zM0 1211h1v2H0zM0 1213h1v1H0zM0 1214h1v1H0zM0 1215h1v1H0zM0 1216h1v2H0zM0 1218h1v2H0zM0 1223h1v2H0zM0 1225h1v1H0zM0 1226h1v3H0zM0 1231h1v4H0zM0 1239h1v2H0zM0 1241h1v2H0zM0 1243h1v1H0zM0 1244h1v4H0zM0 1248h1v3H0zM0 1252h1v2H0zM0 1254h1v2H0zM0 1261h1v3H0zM0 1264h1v1H0zM0 1305h1v1H0zM0 1306h1v2H0zM0 1308h1v2H0zM0 1310h1v1H0zM0 1313h1v3H0zM0 1316h1v2H0zM0 1318h1v2H0zM0 1320h1v2H0zM0 1322h1v2H0zM0 1324h1v3H0zM0 1327h1v2H0zM0 1329h1v2H0zM0 1331h1v3H0zM0 1334h1v2H0zM0 1336h1v2H0zM0 1338h1v2H0zM0 1340h1v1H0zM0 1341h1v4H0zM0 1345h1v4H0zM0 1349h1v4H0zM0 1353h1v2H0zM0 1355h1v1H0zM0 1420h1v3H0zM0 1423h1v1H0zM0 1427h1v2H0zM0 1452h1v2H0zM0 1471h1v3H0zM0 1585h1v4H0zM0 1596h1v1H0zM0 1601h1v1H0zM0 1604h1v3H0zM0 1678h1v2H0zM0 2440h1v1H0zM0 2441h1v2H0zM0 2443h1v2H0z"/><path fill="#e0e0fc" d="M0 871h1v2H0zM0 873h1v1H0zM0 874h1v1H0zM0 875h1v1H0zM0 876h1v3H0zM0 879h1v2H0zM0 881h1v2H0zM0 946h1v3H0zM0 949h1v1H0zM0 952h1v2H0zM0 1271h1v2H0zM0 1276h1v3H0zM0 1279h1v2H0zM0 1285h1v2H0zM0 1287h1v1H0zM0 1292h1v2H0zM0 1294h1v4H0zM0 1304h1v1H0zM0 1366h1v2H0zM0 1368h1v2H0zM0 1370h1v2H0zM0 1372h1v4H0zM0 1376h1v2H0zM0 1445h1v2H0zM0 1447h1v2H0zM0 1449h1v2H0zM0 1451h1v1H0zM0 1589h1v3H0zM0 1599h1v2H0zM0 1607h1v3H0zM0 1671h1v1H0zM0 1672h1v2H0zM0 1674h1v2H0zM0 1754h1v4H0zM0 1758h1v1H0zM0 1759h1v1H0zM0 1760h1v1H0zM0 1761h1v1H0zM0 1762h1v2H0zM0 1775h1v1H0zM0 1779h1v1H0zM0 1780h1v1H0zM0 1781h1v1H0zM0 1807h1v2H0zM0 1811h1v1H0zM0 1812h1v1H0zM0 2445h1v1H0zM0 2449h1v1H0zM0 2451h1v1H0zM0 2457h1v3H0zM0 2460h1v1H0zM0 2461h1v4H0zM0 2468h1v2H0zM0 2472h1v2H0zM0 2474h1v3H0zM0 2478h1v2H0zM0 2485h1v1H0zM0 2486h1v1H0zM0 2492h1v1H0zM0 2493h1v1H0zM0 2494h1v2H0zM0 2496h1v1H0zM0 2497h1v2H0zM0 2499h1v3H0zM0 2502h1v1H0zM0 2503h1v1H0z"/><path fill="#f7f3f6" d="M0 889h1v3H0zM0 892h1v3H0zM0 950h1v1H0zM0 954h1v4H0zM0 958h1v1H0zM0 1256h1v3H0zM0 1260h1v1H0zM0 1268h1v1H0zM0 1273h1v3H0zM0 1281h1v4H0zM0 1288h1v2H0zM0 1290h1v2H0zM0 1298h1v1H0zM0 1383h1v3H0zM0 1388h1v2H0zM0 1396h1v1H0zM0 1397h1v3H0zM0 1406h1v4H0zM0 1412h1v3H0zM0 1415h1v1H0zM0 1647h1v2H0zM0 1653h1v4H0zM0 1657h1v1H0zM0 1660h1v4H0zM0 1668h1v1H0zM0 1670h1v1H0zM0 1683h1v2H0zM0 1690h1v1H0zM0 2348h1v1H0zM0 2355h1v3H0z"/><path fill="#f1eef8" d="M0 951h1v1H0zM0 1381h1v2H0zM0 1400h1v2H0zM0 1402h1v1H0zM0 1859h1v2H0z"/><path fill="#fee1aa" d="M0 965h1v2H0zM0 1360h1v2H0zM0 1362h1v1H0zM0 1363h1v2H0zM0 1365h1v1H0zM0 1478h1v4H0zM0 1482h1v1H0zM0 1486h1v3H0zM0 1494h1v1H0zM0 1495h1v2H0zM0 1497h1v2H0zM0 1510h1v1H0zM0 1511h1v2H0zM0 1513h1v1H0zM0 1514h1v3H0zM0 1517h1v2H0zM0 1519h1v1H0zM0 1520h1v1H0zM0 1521h1v3H0zM0 1705h1v2H0zM0 1707h1v2H0zM0 1721h1v3H0zM0 1727h1v3H0zM0 1737h1v2H0zM0 1739h1v1H0zM0 1764h1v2H0zM0 1768h1v2H0zM0 1771h1v4H0zM0 1786h1v3H0zM0 1801h1v3H0zM0 1804h1v1H0zM0 1806h1v1H0zM0 1821h1v1H0zM0 1825h1v1H0zM0 1826h1v1H0zM0 1833h1v2H0zM0 1836h1v1H0zM0 1837h1v3H0zM0 1840h1v1H0zM0 1841h1v2H0zM0 1843h1v3H0zM0 1846h1v2H0zM0 1848h1v3H0zM0 1852h1v2H0zM0 1890h1v2H0zM0 1926h1v1H0zM0 1927h1v2H0zM0 1933h1v1H0zM0 1934h1v2H0zM0 1937h1v2H0zM0 1939h1v1H0zM0 1940h1v4H0zM0 1944h1v4H0zM0 1948h1v1H0zM0 1949h1v3H0zM0 1952h1v3H0zM0 1955h1v1H0zM0 1956h1v1H0zM0 1957h1v3H0zM0 2211h1v2H0zM0 2213h1v2H0zM0 2215h1v2H0zM0 2217h1v2H0zM0 2219h1v1H0zM0 2222h1v2H0zM0 2224h1v2H0zM0 2226h1v1H0zM0 2227h1v1H0zM0 2228h1v3H0zM0 2235h1v3H0zM0 2238h1v2H0zM0 2243h1v1H0zM0 2244h1v4H0zM0 2248h1v2H0zM0 2250h1v2H0zM0 2260h1v1H0zM0 2267h1v4H0zM0 2271h1v2H0zM0 2273h1v3H0zM0 2276h1v1H0zM0 2277h1v1H0zM0 2278h1v2H0zM0 2287h1v4H0zM0 2295h1v1H0zM0 2308h1v4H0zM0 2315h1v2H0zM0 2318h1v2H0zM0 2320h1v2H0zM0 2322h1v2H0zM0 2324h1v2H0zM0 2326h1v3H0zM0 2329h1v2H0zM0 2331h1v4H0zM0 2335h1v2H0zM0 2337h1v4H0zM0 2341h1v2H0zM0 2343h1v2H0zM0 2345h1v2H0zM0 2359h1v1H0zM0 2360h1v4H0zM0 2365h1v2H0zM0 2367h1v3H0zM0 2370h1v2H0zM0 2372h1v1H0zM0 2377h1v2H0zM0 2379h1v1H0zM0 2382h1v1H0zM0 2383h1v1H0zM0 2504h1v3H0zM0 2510h1v3H0zM0 2513h1v2H0zM0 2515h1v2H0zM0 2524h1v2H0zM0 2528h1v1H0zM0 2533h1v2H0zM0 2538h1v1H0zM0 2541h1v4H0z"/><path fill="#c8c8fc" d="M0 982h1v3H0zM0 1166h1v2H0zM0 1429h1v1H0z"/><path fill="#9494fd" d="M0 1038h1v2H0zM0 1042h1v2H0z"/><path fill="#bbbbfb" d="M0 1053h1v2H0zM0 1095h1v4H0zM0 1104h1v3H0zM0 1107h1v4H0zM0 1131h1v2H0zM0 1185h1v1H0zM0 1196h1v2H0zM0 1201h1v2H0zM0 1220h1v3H0zM0 1235h1v4H0zM0 1251h1v1H0zM0 1311h1v2H0zM0 1416h1v4H0zM0 1454h1v1H0zM0 1602h1v2H0z"/><path fill="#f9f3f0" d="M0 1259h1v1H0zM0 1269h1v2H0zM0 1658h1v2H0zM0 1685h1v3H0z"/><path fill="#7a7aff" d="M0 1265h1v2H0zM0 1267h1v1H0z"/><path fill="#d4d4fc" d="M0 1299h1v3H0zM0 1442h1v3H0zM0 2483h1v2H0z"/><path fill="#e6e5fa" d="M0 1302h1v2H0zM0 1592h1v4H0zM0 1676h1v2H0zM0 1752h1v2H0zM0 1776h1v3H0zM0 1809h1v2H0zM0 2470h1v2H0zM0 2487h1v2H0z"/><path fill="#fee6b8" d="M0 1359h1v1H0zM0 1499h1v1H0zM0 1500h1v4H0zM0 1506h1v2H0zM0 1508h1v2H0zM0 1740h1v1H0zM0 1741h1v2H0zM0 1800h1v1H0zM0 1819h1v2H0zM0 1854h1v3H0zM0 1857h1v2H0zM0 1936h1v1H0zM0 2220h1v2H0zM0 2261h1v2H0zM0 2265h1v2H0zM0 2303h1v1H0zM0 2317h1v1H0zM0 2364h1v1H0zM0 2373h1v4H0zM0 2380h1v2H0zM0 2529h1v4H0z"/><path fill="#fef3e0" d="M0 1378h1v3H0zM0 1386h1v2H0zM0 1390h1v1H0zM0 1391h1v2H0zM0 1393h1v3H0zM0 1410h1v2H0zM0 1433h1v2H0zM0 1435h1v3H0zM0 1458h1v3H0zM0 1461h1v3H0zM0 1464h1v1H0zM0 1465h1v2H0zM0 1470h1v1H0zM0 1474h1v1H0zM0 1475h1v3H0zM0 1483h1v1H0zM0 1484h1v2H0zM0 1489h1v2H0zM0 1491h1v1H0zM0 1664h1v4H0zM0 1682h1v1H0zM0 1689h1v1H0zM0 1695h1v1H0zM0 1696h1v4H0zM0 1709h1v1H0zM0 1710h1v2H0zM0 1713h1v1H0zM0 1716h1v2H0zM0 1743h1v1H0zM0 1744h1v1H0zM0 1745h1v1H0zM0 1746h1v1H0zM0 1747h1v2H0zM0 1749h1v3H0zM0 1766h1v2H0zM0 1770h1v1H0zM0 1813h1v4H0zM0 1817h1v2H0zM0 1824h1v1H0zM0 1827h1v4H0zM0 1919h1v1H0zM0 1920h1v2H0zM0 1922h1v2H0zM0 1924h1v2H0zM0 2347h1v1H0zM0 2353h1v2H0zM0 2358h1v1H0zM0 2446h1v3H0zM0 2455h1v2H0zM0 2465h1v3H0zM0 2480h1v3H0zM0 2507h1v3H0zM0 2517h1v2H0zM0 2519h1v2H0zM0 2535h1v3H0zM0 2539h1v1H0zM0 2540h1v1H0z"/><path fill="#feeed2" d="M0 1403h1v3H0zM0 1430h1v3H0zM0 1440h1v2H0zM0 1455h1v1H0zM0 1492h1v2H0zM0 1688h1v1H0zM0 1712h1v1H0zM0 1714h1v2H0zM0 1835h1v1H0zM0 2349h1v4H0zM0 2450h1v1H0zM0 2545h1v3H0z"/><path fill="#fcf3e6" d="M0 1438h1v2H0zM0 1457h1v1H0zM0 1467h1v3H0zM0 1649h1v4H0zM0 1669h1v1H0zM0 1680h1v2H0zM0 1691h1v4H0zM0 1822h1v2H0zM0 1831h1v2H0zM0 2452h1v3H0zM0 2477h1v1H0zM0 2489h1v3H0zM0 2548h1v2H0z"/><path fill="#faf3eb" d="M0 1456h1v1H0z"/><path fill="#fed790" d="M0 1504h1v2H0zM0 2098h1v1H0z"/><path fill="#fec868" d="M0 1524h1v2H0zM0 1541h1v1H0zM0 1625h1v1H0zM0 1730h1v1H0zM0 1791h1v1H0zM0 1792h1v3H0zM0 1907h1v1H0zM0 1915h1v3H0zM0 2044h1v1H0zM0 2155h1v2H0zM0 2197h1v3H0zM0 2280h1v2H0zM0 2282h1v2H0zM0 2296h1v3H0zM0 2384h1v4H0zM0 2398h1v2H0zM0 2406h1v2H0z"/><path fill="#fecd76" d="M0 1526h1v4H0zM0 1530h1v2H0zM0 1532h1v1H0zM0 1533h1v2H0zM0 1535h1v3H0zM0 1538h1v3H0zM0 1544h1v3H0zM0 1610h1v2H0zM0 1614h1v1H0zM0 1616h1v3H0zM0 1619h1v4H0zM0 1623h1v2H0zM0 1720h1v1H0zM0 1724h1v1H0zM0 1725h1v2H0zM0 1731h1v2H0zM0 1782h1v3H0zM0 1785h1v1H0zM0 1798h1v2H0zM0 1862h1v4H0zM0 1866h1v2H0zM0 1876h1v1H0zM0 1877h1v1H0zM0 1878h1v1H0zM0 1881h1v1H0zM0 1882h1v2H0zM0 1892h1v4H0zM0 1896h1v1H0zM0 1899h1v4H0zM0 1903h1v4H0zM0 1908h1v3H0zM0 1911h1v1H0zM0 1914h1v1H0zM0 1918h1v1H0zM0 1995h1v2H0zM0 1997h1v4H0zM0 2007h1v2H0zM0 2009h1v3H0zM0 2012h1v2H0zM0 2021h1v4H0zM0 2025h1v2H0zM0 2029h1v2H0zM0 2031h1v1H0zM0 2045h1v3H0zM0 2056h1v2H0zM0 2058h1v2H0zM0 2069h1v3H0zM0 2072h1v2H0zM0 2074h1v2H0zM0 2076h1v1H0zM0 2077h1v3H0zM0 2080h1v2H0zM0 2082h1v3H0zM0 2085h1v2H0zM0 2087h1v2H0zM0 2089h1v3H0zM0 2092h1v1H0zM0 2093h1v4H0zM0 2097h1v1H0zM0 2099h1v2H0zM0 2101h1v4H0zM0 2105h1v2H0zM0 2107h1v3H0zM0 2147h1v2H0zM0 2149h1v2H0zM0 2151h1v4H0zM0 2157h1v2H0zM0 2159h1v2H0zM0 2161h1v3H0zM0 2164h1v2H0zM0 2169h1v1H0zM0 2170h1v4H0zM0 2174h1v3H0zM0 2177h1v4H0zM0 2181h1v2H0zM0 2183h1v2H0zM0 2185h1v2H0zM0 2187h1v2H0zM0 2189h1v3H0zM0 2192h1v1H0zM0 2195h1v2H0zM0 2200h1v1H0zM0 2201h1v3H0zM0 2204h1v2H0zM0 2206h1v1H0zM0 2252h1v3H0zM0 2255h1v3H0zM0 2263h1v2H0zM0 2284h1v3H0zM0 2291h1v3H0zM0 2294h1v1H0zM0 2304h1v2H0zM0 2388h1v2H0zM0 2390h1v1H0zM0 2391h1v1H0zM0 2396h1v2H0zM0 2400h1v1H0zM0 2403h1v2H0zM0 2405h1v1H0zM0 2408h1v1H0zM0 2412h1v3H0zM0 2419h1v1H0zM0 2429h1v4H0zM0 2433h1v3H0z"/><path fill="#fed283" d="M0 1542h1v2H0zM0 1615h1v1H0zM0 1795h1v3H0zM0 1874h1v2H0zM0 1886h1v2H0zM0 1897h1v2H0zM0 1992h1v3H0zM0 2040h1v3H0zM0 2051h1v1H0zM0 2166h1v3H0zM0 2193h1v2H0zM0 2258h1v2H0zM0 2299h1v4H0zM0 2401h1v2H0zM0 2425h1v4H0z"/><path fill="#ffa60a" d="M0 1547h1v1H0zM0 1555h1v3H0zM0 1568h1v2H0zM0 1570h1v2H0zM0 1572h1v2H0zM0 1574h1v1H0zM0 1584h1v1H0zM0 1626h1v1H0zM0 1627h1v2H0zM0 1629h1v2H0zM0 1633h1v1H0zM0 1634h1v1H0zM0 1635h1v3H0zM0 1638h1v3H0zM0 1641h1v3H0zM0 1644h1v1H0zM0 1645h1v2H0zM0 1966h1v4H0zM0 1977h1v1H0zM0 1979h1v2H0zM0 1983h1v1H0zM0 1984h1v3H0zM0 1989h1v2H0zM0 2110h1v2H0zM0 2115h1v1H0zM0 2118h1v3H0zM0 2123h1v3H0zM0 2128h1v3H0zM0 2134h1v4H0zM0 2138h1v2H0zM0 2141h1v3H0z"/><path fill="#feb93c" d="M0 1548h1v1H0zM0 1560h1v4H0zM0 1564h1v2H0zM0 1566h1v2H0zM0 1581h1v2H0zM0 1583h1v1H0zM0 1612h1v2H0zM0 1868h1v2H0zM0 1870h1v1H0zM0 1871h1v1H0zM0 1879h1v2H0zM0 1960h1v3H0zM0 1964h1v2H0zM0 1970h1v3H0zM0 1973h1v4H0zM0 1978h1v1H0zM0 1981h1v2H0zM0 1988h1v1H0zM0 2001h1v4H0zM0 2014h1v3H0zM0 2019h1v2H0zM0 2027h1v2H0zM0 2032h1v4H0zM0 2043h1v1H0zM0 2048h1v3H0zM0 2060h1v2H0zM0 2062h1v1H0zM0 2063h1v2H0zM0 2065h1v4H0zM0 2117h1v1H0zM0 2131h1v3H0zM0 2140h1v1H0zM0 2415h1v4H0zM0 2420h1v3H0zM0 2436h1v2H0zM0 2438h1v2H0z"/><path fill="#feb430" d="M0 1549h1v3H0zM0 1558h1v2H0zM0 1576h1v3H0zM0 1861h1v1H0zM0 1872h1v2H0zM0 2005h1v2H0zM0 2017h1v2H0zM0 2126h1v2H0zM0 2144h1v3H0zM0 2423h1v2H0z"/><path fill="#ffab16" d="M0 1552h1v3H0zM0 1631h1v2H0zM0 1991h1v1H0zM0 2116h1v1H0z"/><path fill="#febe4a" d="M0 1575h1v1H0zM0 1579h1v2H0zM0 1963h1v1H0zM0 1987h1v1H0zM0 2036h1v2H0zM0 2038h1v2H0zM0 2052h1v4H0zM0 2112h1v3H0zM0 2121h1v2H0zM0 2409h1v3H0z"/><path fill="#fedc9d" d="M0 1700h1v4H0zM0 1704h1v1H0zM0 1718h1v2H0zM0 1733h1v4H0zM0 1789h1v2H0zM0 1805h1v1H0zM0 1884h1v2H0zM0 1888h1v2H0zM0 1912h1v2H0zM0 1929h1v4H0zM0 2231h1v4H0zM0 2240h1v3H0zM0 2306h1v2H0zM0 2312h1v1H0zM0 2392h1v4H0zM0 2521h1v3H0zM0 2526h1v2H0z"/><path fill="#feeac5" d="M0 1851h1v1H0zM0 2313h1v2H0z"/><path fill="#fec359" d="M0 2207h1v4H0z"/><path fill="#f7f3f6" d="M0 2226h1v2H0zM0 2249h1v2H0z"/><path fill="#e0e0fc" d="M0 915h1v2H0zM0 1192h1v2H0z"/><path fill="#fee1aa" d="M0 1012h1v2H0zM0 1219h1v2H0z"/><path fill="#7a7aff" d="M0 1028h1v2H0zM0 1057h1v2H0zM0 1093h1v2H0zM0 1125h1v2H0z"/></g><g shape-rendering="crispEdges" transform="translate(1191.45 0) scale(175.75 1)"><path fill="#a2a2fc" d="M0 865h1v3H0zM0 898h1v1H0zM0 931h1v2H0zM0 986h1v2H0zM0 1025h1v3H0zM0 1040h1v2H0zM0 1044h1v2H0zM0 1076h1v2H0zM0 1194h1v2H0zM0 1229h1v2H0zM0 1276h1v3H0zM0 1362h1v1H0zM0 1369h1v4H0z"/><path fill="#afaffb" d="M0 868h1v3H0zM0 871h1v2H0zM0 873h1v1H0zM0 883h1v2H0zM0 885h1v2H0zM0 887h1v1H0zM0 888h1v4H0zM0 895h1v1H0zM0 896h1v2H0zM0 901h1v2H0zM0 903h1v1H0zM0 904h1v2H0zM0 906h1v1H0zM0 907h1v1H0zM0 908h1v3H0zM0 911h1v3H0zM0 914h1v1H0zM0 915h1v4H0zM0 919h1v2H0zM0 921h1v4H0zM0 925h1v1H0zM0 926h1v3H0zM0 929h1v2H0zM0 933h1v2H0zM0 935h1v2H0zM0 937h1v2H0zM0 939h1v3H0zM0 942h1v1H0zM0 943h1v2H0zM0 945h1v2H0zM0 947h1v1H0zM0 973h1v4H0zM0 977h1v1H0zM0 978h1v3H0zM0 981h1v1H0zM0 985h1v1H0zM0 988h1v2H0zM0 990h1v3H0zM0 993h1v2H0zM0 995h1v3H0zM0 998h1v3H0zM0 1001h1v1H0zM0 1002h1v3H0zM0 1005h1v3H0zM0 1008h1v2H0zM0 1010h1v3H0zM0 1013h1v1H0zM0 1014h1v3H0zM0 1017h1v3H0zM0 1020h1v2H0zM0 1022h1v3H0zM0 1028h1v2H0zM0 1030h1v2H0zM0 1032h1v2H0zM0 1034h1v4H0zM0 1046h1v3H0zM0 1049h1v1H0zM0 1050h1v3H0zM0 1055h1v2H0zM0 1057h1v2H0zM0 1059h1v1H0zM0 1060h1v4H0zM0 1064h1v2H0zM0 1066h1v1H0zM0 1067h1v1H0zM0 1068h1v2H0zM0 1070h1v4H0zM0 1074h1v2H0zM0 1078h1v2H0zM0 1080h1v4H0zM0 1084h1v2H0zM0 1086h1v1H0zM0 1087h1v2H0zM0 1089h1v2H0zM0 1091h1v4H0zM0 1099h1v2H0zM0 1101h1v3H0zM0 1111h1v3H0zM0 1114h1v1H0zM0 1115h1v2H0zM0 1117h1v1H0zM0 1118h1v2H0zM0 1120h1v2H0zM0 1122h1v4H0zM0 1126h1v2H0zM0 1128h1v1H0zM0 1129h1v2H0zM0 1133h1v3H0zM0 1136h1v3H0zM0 1139h1v2H0zM0 1141h1v2H0zM0 1143h1v2H0zM0 1145h1v2H0zM0 1147h1v3H0zM0 1150h1v2H0zM0 1152h1v2H0zM0 1154h1v2H0zM0 1156h1v3H0zM0 1159h1v3H0zM0 1162h1v2H0zM0 1164h1v2H0zM0 1168h1v3H0zM0 1171h1v2H0zM0 1173h1v2H0zM0 1175h1v1H0zM0 1176h1v3H0zM0 1179h1v2H0zM0 1181h1v2H0zM0 1183h1v2H0zM0 1186h1v1H0zM0 1187h1v2H0zM0 1189h1v2H0zM0 1191h1v3H0zM0 1198h1v3H0zM0 1203h1v1H0zM0 1204h1v2H0zM0 1206h1v1H0zM0 1207h1v4H0zM0 1211h1v2H0zM0 1213h1v1H0zM0 1214h1v1H0zM0 1215h1v1H0zM0 1216h1v2H0zM0 1218h1v2H0zM0 1223h1v2H0zM0 1225h1v1H0zM0 1226h1v3H0zM0 1231h1v4H0zM0 1239h1v2H0zM0 1241h1v2H0zM0 1243h1v1H0zM0 1244h1v4H0zM0 1248h1v3H0zM0 1252h1v2H0zM0 1254h1v2H0zM0 1256h1v3H0zM0 1260h1v2H0zM0 1272h1v1H0zM0 1274h1v2H0zM0 1279h1v3H0zM0 1282h1v1H0zM0 1283h1v2H0zM0 1285h1v2H0zM0 1287h1v3H0zM0 1305h1v1H0zM0 1306h1v2H0zM0 1308h1v2H0zM0 1310h1v1H0zM0 1313h1v3H0zM0 1316h1v2H0zM0 1318h1v2H0zM0 1320h1v2H0zM0 1322h1v2H0zM0 1324h1v3H0zM0 1327h1v2H0zM0 1329h1v2H0zM0 1331h1v3H0zM0 1334h1v2H0zM0 1336h1v2H0zM0 1338h1v2H0zM0 1340h1v1H0zM0 1341h1v4H0zM0 1345h1v4H0zM0 1349h1v4H0zM0 1353h1v2H0zM0 1373h1v2H0zM0 1377h1v1H0z"/><path fill="#f9f3f0" d="M0 874h1v3H0zM0 877h1v1H0zM0 1269h1v3H0zM0 1558h1v2H0zM0 1563h1v2H0zM0 1570h1v1H0zM0 1711h1v1H0zM0 2312h1v1H0z"/><path fill="#f7f3f6" d="M0 878h1v1H0zM0 879h1v3H0zM0 882h1v1H0zM0 948h1v3H0zM0 952h1v3H0zM0 1555h1v3H0zM0 1566h1v4H0zM0 1577h1v2H0zM0 1579h1v1H0zM0 1583h1v2H0zM0 1628h1v3H0zM0 1642h1v2H0zM0 1650h1v1H0zM0 1651h1v2H0zM0 1706h1v4H0zM0 1710h1v1H0zM0 1718h1v4H0zM0 1722h1v2H0zM0 1724h1v1H0zM0 2308h1v4H0z"/><path fill="#fee1aa" d="M0 892h1v3H0zM0 1496h1v1H0zM0 1497h1v2H0zM0 1524h1v4H0zM0 1532h1v2H0zM0 1537h1v3H0zM0 1547h1v2H0zM0 1656h1v1H0zM0 1667h1v1H0zM0 1690h1v2H0zM0 1694h1v4H0zM0 1743h1v1H0zM0 1744h1v1H0zM0 1745h1v1H0zM0 1746h1v1H0zM0 1747h1v2H0zM0 1749h1v3H0zM0 1830h1v2H0zM0 1832h1v2H0zM0 1843h1v1H0zM0 1844h1v1H0zM0 1856h1v1H0zM0 1861h1v3H0zM0 1864h1v3H0zM0 1874h1v1H0zM0 1878h1v2H0zM0 1880h1v4H0zM0 1888h1v1H0zM0 1891h1v1H0zM0 1892h1v1H0zM0 1893h1v3H0zM0 1896h1v2H0zM0 1898h1v4H0zM0 1906h1v3H0zM0 1909h1v1H0zM0 1910h1v3H0zM0 1915h1v1H0zM0 1942h1v2H0zM0 1944h1v4H0zM0 1948h1v1H0zM0 1949h1v3H0zM0 1952h1v3H0zM0 1955h1v1H0zM0 1956h1v1H0zM0 1957h1v3H0zM0 1960h1v1H0zM0 1972h1v1H0zM0 1985h1v3H0zM0 1988h1v2H0zM0 1990h1v1H0zM0 2048h1v2H0zM0 2053h1v4H0zM0 2064h1v2H0zM0 2084h1v1H0zM0 2092h1v2H0zM0 2094h1v3H0zM0 2129h1v1H0zM0 2135h1v2H0zM0 2137h1v4H0zM0 2141h1v2H0zM0 2143h1v2H0zM0 2145h1v2H0zM0 2252h1v3H0zM0 2257h1v2H0zM0 2261h1v3H0zM0 2267h1v3H0zM0 2271h1v1H0zM0 2272h1v2H0zM0 2274h1v4H0zM0 2278h1v2H0zM0 2280h1v3H0zM0 2287h1v3H0zM0 2293h1v1H0zM0 2294h1v3H0zM0 2297h1v3H0zM0 2300h1v2H0zM0 2302h1v3H0zM0 2315h1v2H0zM0 2318h1v2H0zM0 2320h1v2H0zM0 2322h1v2H0zM0 2324h1v2H0zM0 2326h1v3H0zM0 2329h1v2H0zM0 2331h1v4H0zM0 2335h1v2H0zM0 2337h1v4H0zM0 2341h1v2H0zM0 2343h1v2H0zM0 2345h1v2H0zM0 2347h1v1H0zM0 2348h1v2H0zM0 2350h1v4H0zM0 2354h1v2H0zM0 2357h1v3H0zM0 2360h1v4H0zM0 2365h1v2H0zM0 2367h1v3H0zM0 2370h1v2H0zM0 2372h1v1H0zM0 2377h1v2H0zM0 2379h1v1H0zM0 2382h1v1H0zM0 2383h1v4H0zM0 2387h1v3H0zM0 2390h1v3H0zM0 2393h1v4H0zM0 2397h1v2H0zM0 2399h1v1H0z"/><path fill="#6868fc" d="M0 899h1v1H0z"/><path fill="#7a7aff" d="M0 900h1v1H0zM0 1262h1v2H0zM0 1264h1v1H0z"/><path fill="#f1eef8" d="M0 951h1v1H0zM0 1268h1v1H0zM0 1303h1v2H0zM0 1580h1v3H0zM0 1648h1v1H0zM0 1714h1v2H0z"/><path fill="#fef3e0" d="M0 955h1v3H0zM0 958h1v1H0zM0 959h1v1H0zM0 1484h1v2H0zM0 1486h1v2H0zM0 1488h1v1H0zM0 1489h1v2H0zM0 1491h1v2H0zM0 1493h1v2H0zM0 1495h1v1H0zM0 1520h1v4H0zM0 1534h1v3H0zM0 1540h1v3H0zM0 1543h1v4H0zM0 1594h1v3H0zM0 1598h1v3H0zM0 1602h1v1H0zM0 1603h1v1H0zM0 1608h1v2H0zM0 1653h1v2H0zM0 1655h1v1H0zM0 1662h1v2H0zM0 1664h1v3H0zM0 1668h1v3H0zM0 1671h1v3H0zM0 1682h1v1H0zM0 1688h1v2H0zM0 1692h1v2H0zM0 1698h1v2H0zM0 1705h1v1H0zM0 1716h1v1H0zM0 1717h1v1H0zM0 1725h1v2H0zM0 1727h1v2H0zM0 1729h1v1H0zM0 1742h1v1H0zM0 1766h1v4H0zM0 1770h1v2H0zM0 1772h1v2H0zM0 1775h1v1H0zM0 1779h1v1H0zM0 1780h1v1H0zM0 1781h1v2H0zM0 1783h1v1H0zM0 1867h1v4H0zM0 1872h1v2H0zM0 1875h1v3H0zM0 1884h1v3H0zM0 1887h1v1H0zM0 1889h1v2H0zM0 1902h1v2H0zM0 1904h1v2H0zM0 1913h1v2H0zM0 1961h1v4H0zM0 1965h1v4H0zM0 1973h1v3H0zM0 1976h1v2H0zM0 1978h1v3H0zM0 1981h1v2H0zM0 1983h1v2H0zM0 1991h1v1H0zM0 2114h1v2H0zM0 2121h1v3H0zM0 2124h1v1H0zM0 2125h1v3H0zM0 2128h1v1H0zM0 2420h1v3H0zM0 2429h1v3H0zM0 2470h1v3H0zM0 2473h1v1H0zM0 2474h1v4H0zM0 2478h1v3H0zM0 2481h1v1H0zM0 2482h1v1H0zM0 2483h1v2H0zM0 2487h1v2H0zM0 2489h1v1H0zM0 2530h1v2H0zM0 2532h1v2H0zM0 2534h1v4H0zM0 2538h1v2H0zM0 2540h1v1H0z"/><path fill="#e0e0fc" d="M0 960h1v3H0zM0 963h1v1H0zM0 964h1v1H0zM0 965h1v2H0zM0 1293h1v3H0zM0 1297h1v3H0zM0 1300h1v3H0zM0 1355h1v4H0zM0 1367h1v2H0zM0 1549h1v3H0zM0 1552h1v1H0zM0 1553h1v2H0zM0 1560h1v3H0zM0 1571h1v3H0zM0 1574h1v3H0zM0 1585h1v4H0zM0 1589h1v2H0zM0 1591h1v2H0zM0 1593h1v1H0zM0 1633h1v3H0zM0 1640h1v2H0zM0 1644h1v4H0zM0 1649h1v1H0zM0 1730h1v2H0zM0 1736h1v3H0zM0 1754h1v4H0zM0 1758h1v1H0zM0 1759h1v1H0zM0 1760h1v1H0zM0 1761h1v1H0zM0 1762h1v2H0zM0 2411h1v3H0zM0 2414h1v3H0zM0 2419h1v1H0zM0 2439h1v1H0zM0 2490h1v1H0zM0 2491h1v2H0zM0 2493h1v1H0zM0 2494h1v2H0zM0 2496h1v1H0zM0 2497h1v2H0zM0 2499h1v3H0zM0 2502h1v1H0zM0 2503h1v2H0zM0 2509h1v3H0zM0 2512h1v2H0zM0 2514h1v2H0zM0 2516h1v4H0zM0 2546h1v2H0zM0 2549h1v1H0z"/><path fill="#d4d4fc" d="M0 967h1v2H0zM0 969h1v4H0zM0 1265h1v3H0zM0 1296h1v1H0zM0 1375h1v2H0zM0 1565h1v1H0zM0 2417h1v2H0zM0 2436h1v3H0zM0 2440h1v1H0zM0 2520h1v2H0z"/><path fill="#c8c8fc" d="M0 982h1v3H0zM0 1166h1v2H0zM0 1273h1v1H0zM0 2505h1v4H0z"/><path fill="#9494fd" d="M0 1038h1v2H0zM0 1042h1v2H0z"/><path fill="#bbbbfb" d="M0 1053h1v2H0zM0 1095h1v4H0zM0 1104h1v3H0zM0 1107h1v4H0zM0 1131h1v2H0zM0 1185h1v1H0zM0 1196h1v2H0zM0 1201h1v2H0zM0 1220h1v3H0zM0 1235h1v4H0zM0 1251h1v1H0zM0 1259h1v1H0zM0 1290h1v1H0zM0 1311h1v2H0zM0 1359h1v1H0z"/><path fill="#e6e5fa" d="M0 1291h1v2H0zM0 1360h1v2H0zM0 1363h1v2H0zM0 1365h1v2H0zM0 1631h1v2H0zM0 2434h1v2H0zM0 2441h1v2H0zM0 2545h1v1H0zM0 2548h1v1H0z"/><path fill="#feb93c" d="M0 1378h1v3H0zM0 1394h1v1H0zM0 1395h1v2H0zM0 1397h1v2H0zM0 1399h1v2H0zM0 1405h1v1H0zM0 1408h1v3H0zM0 1411h1v1H0zM0 1412h1v3H0zM0 1415h1v1H0zM0 1420h1v3H0zM0 1423h1v1H0zM0 1427h1v2H0zM0 1478h1v2H0zM0 1480h1v2H0zM0 1482h1v2H0zM0 1784h1v2H0zM0 1786h1v1H0zM0 1789h1v4H0zM0 1797h1v3H0zM0 1801h1v2H0zM0 1803h1v2H0zM0 1810h1v3H0zM0 1813h1v2H0zM0 1815h1v2H0zM0 1817h1v1H0zM0 1818h1v2H0zM0 1825h1v1H0zM0 1826h1v1H0zM0 2101h1v4H0zM0 2105h1v2H0zM0 2107h1v4H0zM0 2113h1v1H0zM0 2236h1v2H0zM0 2238h1v2H0zM0 2243h1v1H0zM0 2244h1v4H0zM0 2248h1v2H0zM0 2250h1v2H0z"/><path fill="#ffa60a" d="M0 1381h1v2H0zM0 1383h1v2H0zM0 1386h1v2H0zM0 1389h1v1H0zM0 1390h1v3H0zM0 1393h1v1H0zM0 1470h1v3H0zM0 1473h1v2H0zM0 1475h1v3H0zM0 1787h1v2H0zM0 1793h1v4H0zM0 1800h1v1H0zM0 1806h1v4H0zM0 1820h1v1H0zM0 1821h1v2H0z"/><path fill="#feb430" d="M0 1385h1v1H0zM0 1416h1v4H0zM0 1615h1v1H0zM0 1616h1v1H0zM0 1617h1v1H0zM0 2240h1v3H0z"/><path fill="#ffab16" d="M0 1388h1v1H0zM0 1823h1v2H0z"/><path fill="#febe4a" d="M0 1401h1v4H0zM0 1424h1v3H0zM0 1805h1v1H0zM0 2111h1v2H0z"/><path fill="#fec359" d="M0 1406h1v2H0zM0 1430h1v1H0zM0 2207h1v4H0z"/><path fill="#feb023" d="M0 1429h1v1H0z"/><path fill="#fecd76" d="M0 1431h1v2H0zM0 1433h1v4H0zM0 1437h1v1H0zM0 1444h1v1H0zM0 1448h1v3H0zM0 1451h1v3H0zM0 1458h1v3H0zM0 1461h1v3H0zM0 1464h1v1H0zM0 1465h1v2H0zM0 1510h1v1H0zM0 1511h1v2H0zM0 1513h1v1H0zM0 1514h1v3H0zM0 1517h1v2H0zM0 1519h1v1H0zM0 1610h1v2H0zM0 1612h1v2H0zM0 1623h1v2H0zM0 1625h1v1H0zM0 1626h1v2H0zM0 1827h1v1H0zM0 1834h1v2H0zM0 1845h1v2H0zM0 1852h1v2H0zM0 1857h1v2H0zM0 1916h1v1H0zM0 1919h1v1H0zM0 1920h1v2H0zM0 1922h1v2H0zM0 1924h1v2H0zM0 1926h1v1H0zM0 1927h1v2H0zM0 1933h1v1H0zM0 1934h1v2H0zM0 1937h1v2H0zM0 1939h1v1H0zM0 1940h1v2H0zM0 1992h1v2H0zM0 1994h1v2H0zM0 1996h1v1H0zM0 1997h1v1H0zM0 1998h1v1H0zM0 2002h1v1H0zM0 2003h1v2H0zM0 2005h1v3H0zM0 2008h1v2H0zM0 2013h1v1H0zM0 2014h1v1H0zM0 2015h1v2H0zM0 2017h1v2H0zM0 2019h1v2H0zM0 2021h1v1H0zM0 2022h1v2H0zM0 2025h1v3H0zM0 2030h1v3H0zM0 2033h1v4H0zM0 2037h1v3H0zM0 2044h1v2H0zM0 2050h1v1H0zM0 2051h1v2H0zM0 2061h1v3H0zM0 2070h1v2H0zM0 2076h1v3H0zM0 2079h1v3H0zM0 2082h1v2H0zM0 2088h1v2H0zM0 2097h1v2H0zM0 2099h1v2H0zM0 2147h1v2H0zM0 2149h1v2H0zM0 2151h1v4H0zM0 2157h1v2H0zM0 2159h1v2H0zM0 2161h1v3H0zM0 2164h1v2H0zM0 2169h1v1H0zM0 2170h1v4H0zM0 2174h1v3H0zM0 2177h1v4H0zM0 2181h1v2H0zM0 2183h1v2H0zM0 2185h1v2H0zM0 2187h1v2H0zM0 2189h1v3H0zM0 2192h1v1H0zM0 2195h1v2H0zM0 2200h1v1H0zM0 2201h1v3H0zM0 2204h1v2H0zM0 2206h1v1H0zM0 2211h1v2H0zM0 2213h1v2H0zM0 2215h1v2H0zM0 2217h1v2H0zM0 2219h1v1H0zM0 2222h1v2H0zM0 2224h1v2H0zM0 2226h1v1H0zM0 2227h1v1H0zM0 2228h1v3H0zM0 2235h1v1H0zM0 2255h1v2H0zM0 2259h1v2H0zM0 2264h1v1H0zM0 2265h1v2H0zM0 2400h1v2H0zM0 2402h1v1H0zM0 2403h1v2H0zM0 2410h1v1H0zM0 2443h1v2H0zM0 2445h1v1H0zM0 2447h1v2H0zM0 2449h1v1H0zM0 2450h1v4H0zM0 2458h1v3H0zM0 2462h1v2H0zM0 2464h1v3H0zM0 2467h1v1H0zM0 2468h1v2H0z"/><path fill="#fed790" d="M0 1438h1v2H0zM0 1456h1v1H0zM0 1504h1v2H0zM0 2024h1v1H0zM0 2130h1v2H0zM0 2446h1v1H0zM0 2461h1v1H0z"/><path fill="#fed283" d="M0 1440h1v4H0zM0 1457h1v1H0zM0 1467h1v3H0zM0 1509h1v1H0zM0 1618h1v3H0zM0 1621h1v2H0zM0 1836h1v3H0zM0 1841h1v2H0zM0 1847h1v3H0zM0 1855h1v1H0zM0 1936h1v1H0zM0 1999h1v3H0zM0 2166h1v3H0zM0 2193h1v2H0zM0 2220h1v2H0zM0 2456h1v2H0z"/><path fill="#fec868" d="M0 1445h1v3H0zM0 1454h1v2H0zM0 1614h1v1H0zM0 1828h1v2H0zM0 1839h1v1H0zM0 1850h1v2H0zM0 1854h1v1H0zM0 1917h1v2H0zM0 1929h1v4H0zM0 2010h1v3H0zM0 2028h1v2H0zM0 2046h1v2H0zM0 2057h1v4H0zM0 2155h1v2H0zM0 2197h1v3H0zM0 2231h1v4H0zM0 2405h1v2H0zM0 2407h1v1H0zM0 2408h1v2H0zM0 2454h1v2H0z"/><path fill="#fee6b8" d="M0 1499h1v1H0zM0 1500h1v4H0zM0 1506h1v2H0zM0 1508h1v1H0zM0 1678h1v4H0zM0 1840h1v1H0zM0 2066h1v4H0zM0 2072h1v4H0zM0 2090h1v2H0zM0 2132h1v3H0zM0 2270h1v1H0zM0 2283h1v1H0zM0 2290h1v3H0zM0 2317h1v1H0zM0 2364h1v1H0zM0 2373h1v4H0zM0 2380h1v2H0z"/><path fill="#fedc9d" d="M0 1528h1v4H0zM0 1674h1v4H0zM0 1685h1v3H0zM0 1702h1v3H0zM0 1752h1v2H0zM0 1871h1v1H0zM0 2040h1v4H0zM0 2085h1v3H0zM0 2284h1v3H0zM0 2305h1v3H0zM0 2356h1v1H0z"/><path fill="#fcf3e6" d="M0 1597h1v1H0zM0 1601h1v1H0zM0 1607h1v1H0zM0 1659h1v3H0zM0 1683h1v2H0zM0 1700h1v2H0zM0 1732h1v4H0zM0 1739h1v3H0zM0 1765h1v1H0zM0 2117h1v4H0zM0 2425h1v4H0zM0 2432h1v2H0zM0 2522h1v1H0zM0 2523h1v3H0z"/><path fill="#faf3eb" d="M0 1604h1v3H0zM0 2541h1v3H0z"/><path fill="#eceaf9" d="M0 1636h1v4H0zM0 2313h1v2H0z"/><path fill="#feeed2" d="M0 1657h1v2H0zM0 1712h1v2H0zM0 1774h1v1H0zM0 1776h1v3H0zM0 1859h1v2H0zM0 1969h1v1H0zM0 1970h1v2H0zM0 2423h1v2H0zM0 2485h1v2H0zM0 2526h1v4H0zM0 2544h1v1H0z"/><path fill="#feeac5" d="M0 1764h1v1H0zM0 2116h1v1H0z"/><path fill="#9494fd" d="M0 1023h1v9H0z"/><path fill="#3434f2" d="M0 1064h1v2H0z"/><path fill="#e0e0fc" d="M0 1092h1v2H0zM0 1145h1v2H0zM0 1192h1v2H0zM0 1205h1v2H0z"/><path fill="#7a7aff" d="M0 1219h1v2H0z"/></g><g shape-rendering="crispEdges" transform="translate(1366.70 0) scale(175.75 1)"><path fill="#7a7aff" d="M0 865h1v3H0zM0 1258h1v1H0zM0 1260h1v1H0z"/><path fill="#8787fe" d="M0 868h1v3H0zM0 1259h1v1H0z"/><path fill="#e0e0fc" d="M0 871h1v2H0zM0 873h1v1H0zM0 874h1v1H0zM0 875h1v1H0zM0 876h1v3H0zM0 879h1v2H0zM0 881h1v2H0zM0 883h1v2H0zM0 895h1v1H0zM0 896h1v2H0zM0 900h1v1H0zM0 948h1v2H0zM0 950h1v3H0zM0 955h1v2H0zM0 961h1v1H0zM0 1267h1v3H0zM0 1270h1v3H0zM0 1274h1v2H0zM0 1279h1v3H0zM0 1282h1v1H0zM0 1283h1v2H0zM0 1300h1v2H0zM0 1360h1v2H0zM0 1366h1v1H0zM0 1460h1v1H0zM0 1461h1v3H0zM0 1464h1v1H0zM0 1465h1v2H0zM0 1470h1v1H0zM0 1585h1v2H0zM0 1587h1v2H0zM0 1589h1v2H0zM0 1591h1v2H0zM0 1593h1v2H0zM0 1595h1v2H0zM0 1603h1v1H0zM0 1607h1v2H0zM0 1617h1v3H0zM0 1622h1v2H0zM0 1631h1v1H0zM0 1638h1v1H0zM0 1639h1v2H0zM0 1644h1v1H0zM0 1645h1v3H0zM0 1648h1v3H0zM0 1651h1v2H0zM0 1653h1v4H0zM0 1657h1v1H0zM0 1727h1v2H0zM0 1733h1v1H0zM0 1739h1v2H0zM0 1813h1v1H0zM0 1814h1v3H0zM0 1817h1v2H0zM0 1819h1v3H0zM0 1822h1v3H0zM0 1895h1v3H0zM0 1901h1v3H0zM0 1904h1v2H0zM0 1983h1v3H0zM0 1992h1v3H0zM0 1996h1v2H0zM0 1998h1v2H0zM0 2007h1v1H0zM0 2015h1v3H0zM0 2113h1v3H0zM0 2135h1v2H0zM0 2137h1v1H0z"/><path fill="#f7f3f6" d="M0 885h1v2H0zM0 887h1v1H0zM0 1263h1v1H0zM0 1264h1v3H0zM0 1291h1v2H0zM0 1296h1v1H0zM0 1355h1v3H0zM0 1358h1v2H0zM0 1370h1v1H0zM0 1440h1v1H0zM0 1449h1v4H0zM0 1558h1v4H0zM0 1625h1v2H0zM0 1799h1v2H0zM0 1805h1v1H0zM0 1809h1v3H0zM0 1917h1v3H0zM0 1920h1v2H0zM0 1929h1v4H0zM0 1934h1v2H0zM0 1936h1v1H0zM0 1937h1v2H0zM0 1939h1v3H0zM0 2121h1v2H0zM0 2404h1v1H0zM0 2410h1v1H0z"/><path fill="#fef3e0" d="M0 888h1v4H0zM0 892h1v3H0zM0 1378h1v2H0zM0 1385h1v4H0zM0 1389h1v4H0zM0 1399h1v1H0zM0 1400h1v2H0zM0 1410h1v1H0zM0 1413h1v3H0zM0 1420h1v2H0zM0 1436h1v2H0zM0 1447h1v2H0zM0 1453h1v2H0zM0 1457h1v2H0zM0 1459h1v1H0zM0 1474h1v3H0zM0 1477h1v2H0zM0 1562h1v3H0zM0 1741h1v3H0zM0 1744h1v1H0zM0 1745h1v1H0zM0 1746h1v1H0zM0 1747h1v2H0zM0 1749h1v3H0zM0 1792h1v3H0zM0 1795h1v1H0zM0 1801h1v1H0zM0 1802h1v3H0zM0 1812h1v1H0zM0 1855h1v1H0zM0 1856h1v3H0zM0 1871h1v1H0zM0 1875h1v2H0zM0 1877h1v2H0zM0 1906h1v2H0zM0 1908h1v1H0zM0 1909h1v3H0zM0 1912h1v1H0zM0 1913h1v3H0zM0 1922h1v1H0zM0 1923h1v1H0zM0 1925h1v1H0zM0 1926h1v1H0zM0 1927h1v1H0zM0 1986h1v4H0zM0 2004h1v1H0zM0 2008h1v3H0zM0 2014h1v1H0zM0 2018h1v1H0zM0 2028h1v2H0zM0 2030h1v3H0zM0 2041h1v2H0zM0 2047h1v3H0zM0 2056h1v4H0zM0 2060h1v2H0zM0 2101h1v4H0zM0 2105h1v2H0zM0 2107h1v4H0zM0 2123h1v1H0zM0 2124h1v3H0zM0 2133h1v1H0zM0 2138h1v4H0zM0 2145h1v2H0z"/><path fill="#d4d4fc" d="M0 898h1v2H0zM0 1276h1v3H0zM0 1293h1v3H0zM0 1297h1v1H0zM0 1302h1v3H0zM0 1367h1v3H0zM0 1467h1v3H0zM0 1565h1v3H0zM0 1568h1v1H0zM0 1571h1v1H0zM0 1616h1v1H0zM0 1634h1v2H0zM0 1723h1v2H0zM0 1725h1v1H0zM0 2000h1v4H0zM0 2112h1v1H0zM0 2117h1v2H0zM0 2134h1v1H0z"/><path fill="#afaffb" d="M0 901h1v2H0zM0 903h1v1H0zM0 904h1v2H0zM0 906h1v1H0zM0 907h1v1H0zM0 908h1v3H0zM0 911h1v3H0zM0 914h1v1H0zM0 915h1v4H0zM0 919h1v2H0zM0 921h1v4H0zM0 925h1v1H0zM0 926h1v3H0zM0 929h1v2H0zM0 933h1v2H0zM0 935h1v2H0zM0 937h1v2H0zM0 939h1v3H0zM0 942h1v1H0zM0 943h1v2H0zM0 945h1v2H0zM0 947h1v1H0zM0 962h1v1H0zM0 963h1v1H0zM0 964h1v1H0zM0 965h1v2H0zM0 973h1v4H0zM0 977h1v1H0zM0 978h1v3H0zM0 981h1v1H0zM0 985h1v1H0zM0 988h1v2H0zM0 990h1v3H0zM0 993h1v2H0zM0 995h1v3H0zM0 998h1v3H0zM0 1001h1v1H0zM0 1002h1v3H0zM0 1005h1v3H0zM0 1008h1v2H0zM0 1010h1v3H0zM0 1013h1v1H0zM0 1014h1v3H0zM0 1017h1v3H0zM0 1020h1v2H0zM0 1022h1v3H0zM0 1028h1v2H0zM0 1030h1v2H0zM0 1032h1v2H0zM0 1034h1v4H0zM0 1046h1v3H0zM0 1049h1v1H0zM0 1050h1v3H0zM0 1055h1v2H0zM0 1057h1v2H0zM0 1059h1v1H0zM0 1060h1v4H0zM0 1064h1v2H0zM0 1066h1v1H0zM0 1067h1v1H0zM0 1068h1v2H0zM0 1070h1v4H0zM0 1074h1v2H0zM0 1078h1v2H0zM0 1080h1v4H0zM0 1084h1v2H0zM0 1086h1v1H0zM0 1087h1v2H0zM0 1089h1v2H0zM0 1091h1v4H0zM0 1099h1v2H0zM0 1101h1v3H0zM0 1111h1v3H0zM0 1114h1v1H0zM0 1115h1v2H0zM0 1117h1v1H0zM0 1118h1v2H0zM0 1120h1v2H0zM0 1122h1v4H0zM0 1126h1v2H0zM0 1128h1v1H0zM0 1129h1v2H0zM0 1133h1v3H0zM0 1136h1v3H0zM0 1139h1v2H0zM0 1141h1v2H0zM0 1143h1v2H0zM0 1145h1v2H0zM0 1147h1v3H0zM0 1150h1v2H0zM0 1152h1v2H0zM0 1154h1v2H0zM0 1156h1v3H0zM0 1159h1v3H0zM0 1162h1v2H0zM0 1164h1v2H0zM0 1168h1v3H0zM0 1171h1v2H0zM0 1173h1v2H0zM0 1175h1v1H0zM0 1176h1v3H0zM0 1179h1v2H0zM0 1181h1v2H0zM0 1183h1v2H0zM0 1186h1v1H0zM0 1187h1v2H0zM0 1189h1v2H0zM0 1191h1v3H0zM0 1198h1v3H0zM0 1203h1v1H0zM0 1204h1v2H0zM0 1206h1v1H0zM0 1207h1v4H0zM0 1211h1v2H0zM0 1213h1v1H0zM0 1214h1v1H0zM0 1215h1v1H0zM0 1216h1v2H0zM0 1218h1v2H0zM0 1223h1v2H0zM0 1225h1v1H0zM0 1226h1v3H0zM0 1231h1v4H0zM0 1239h1v2H0zM0 1241h1v2H0zM0 1243h1v1H0zM0 1244h1v4H0zM0 1248h1v3H0zM0 1252h1v2H0zM0 1254h1v2H0zM0 1256h1v2H0zM0 1261h1v2H0zM0 1305h1v1H0zM0 1306h1v2H0zM0 1308h1v2H0zM0 1310h1v1H0zM0 1313h1v3H0zM0 1316h1v2H0zM0 1318h1v2H0zM0 1320h1v2H0zM0 1322h1v2H0zM0 1324h1v3H0zM0 1327h1v2H0zM0 1329h1v2H0zM0 1331h1v3H0zM0 1334h1v2H0zM0 1336h1v2H0zM0 1338h1v2H0zM0 1340h1v1H0zM0 1341h1v4H0zM0 1345h1v4H0zM0 1349h1v4H0zM0 1353h1v2H0zM0 1569h1v2H0zM0 1573h1v4H0zM0 1577h1v2H0zM0 1579h1v3H0zM0 1582h1v3H0zM0 1600h1v3H0zM0 1614h1v2H0z"/><path fill="#a2a2fc" d="M0 931h1v2H0zM0 967h1v1H0zM0 971h1v2H0zM0 986h1v2H0zM0 1025h1v3H0zM0 1040h1v2H0zM0 1044h1v2H0zM0 1076h1v2H0zM0 1194h1v2H0zM0 1229h1v2H0zM0 1597h1v3H0zM0 1612h1v2H0z"/><path fill="#e6e5fa" d="M0 953h1v2H0zM0 957h1v4H0zM0 1572h1v1H0zM0 1604h1v3H0zM0 1609h1v3H0zM0 1620h1v2H0zM0 1624h1v1H0zM0 1633h1v1H0zM0 1734h1v3H0zM0 1898h1v3H0zM0 1990h1v2H0zM0 2011h1v3H0z"/><path fill="#6868fc" d="M0 968h1v1H0zM0 969h1v2H0z"/><path fill="#c8c8fc" d="M0 982h1v3H0zM0 1166h1v2H0z"/><path fill="#9494fd" d="M0 1038h1v2H0zM0 1042h1v2H0z"/><path fill="#bbbbfb" d="M0 1053h1v2H0zM0 1095h1v4H0zM0 1104h1v3H0zM0 1107h1v4H0zM0 1131h1v2H0zM0 1185h1v1H0zM0 1196h1v2H0zM0 1201h1v2H0zM0 1220h1v3H0zM0 1235h1v4H0zM0 1251h1v1H0zM0 1311h1v2H0z"/><path fill="#eceaf9" d="M0 1273h1v1H0zM0 2116h1v1H0z"/><path fill="#feb93c" d="M0 1285h1v2H0zM0 1287h1v3H0zM0 1492h1v2H0zM0 1503h1v3H0zM0 1506h1v1H0zM0 1510h1v3H0zM0 1513h1v2H0zM0 1520h1v1H0zM0 1530h1v1H0zM0 1531h1v1H0zM0 1532h1v1H0zM0 1533h1v2H0zM0 1538h1v3H0zM0 1706h1v3H0zM0 1709h1v2H0zM0 1711h1v2H0zM0 1715h1v2H0zM0 1717h1v2H0zM0 2308h1v4H0zM0 2315h1v2H0zM0 2318h1v2H0zM0 2320h1v2H0zM0 2322h1v2H0zM0 2324h1v2H0zM0 2326h1v3H0zM0 2336h1v2H0zM0 2349h1v3H0zM0 2352h1v2H0zM0 2356h1v2H0zM0 2358h1v1H0zM0 2367h1v1H0zM0 2368h1v2H0zM0 2370h1v3H0zM0 2375h1v2H0zM0 2378h1v3H0zM0 2381h1v4H0zM0 2385h1v1H0zM0 2386h1v2H0zM0 2388h1v2H0zM0 2394h1v2H0zM0 2400h1v1H0zM0 2401h1v3H0zM0 2416h1v2H0zM0 2418h1v2H0zM0 2422h1v1H0zM0 2423h1v3H0zM0 2431h1v1H0zM0 2432h1v4H0zM0 2443h1v3H0zM0 2457h1v1H0zM0 2464h1v2H0z"/><path fill="#feb430" d="M0 1290h1v1H0zM0 1488h1v1H0zM0 1495h1v2H0zM0 1507h1v3H0zM0 1518h1v2H0zM0 1535h1v3H0zM0 2312h1v1H0zM0 2359h1v3H0zM0 2364h1v3H0zM0 2392h1v2H0zM0 2426h1v1H0zM0 2456h1v1H0z"/><path fill="#f9f3f0" d="M0 1298h1v2H0zM0 1364h1v2H0zM0 1443h1v4H0zM0 1627h1v4H0zM0 1641h1v3H0zM0 1729h1v4H0zM0 1737h1v1H0zM0 1738h1v1H0zM0 1788h1v1H0zM0 2150h1v2H0zM0 2405h1v2H0zM0 2407h1v1H0zM0 2408h1v2H0z"/><path fill="#f1eef8" d="M0 1362h1v2H0zM0 1549h1v3H0zM0 1632h1v1H0zM0 1636h1v2H0zM0 1726h1v1H0zM0 1806h1v3H0zM0 1928h1v1H0zM0 2147h1v3H0z"/><path fill="#fecd76" d="M0 1371h1v1H0zM0 1372h1v4H0zM0 1376h1v2H0zM0 1486h1v2H0zM0 1489h1v3H0zM0 1494h1v1H0zM0 1497h1v2H0zM0 1517h1v1H0zM0 1523h1v2H0zM0 1525h1v2H0zM0 1527h1v1H0zM0 1528h1v2H0zM0 1541h1v3H0zM0 1544h1v3H0zM0 1658h1v1H0zM0 1659h1v3H0zM0 1662h1v2H0zM0 1668h1v2H0zM0 1672h1v2H0zM0 1676h1v2H0zM0 1696h1v2H0zM0 1705h1v1H0zM0 1713h1v2H0zM0 1764h1v2H0zM0 1775h1v3H0zM0 1778h1v2H0zM0 1882h1v2H0zM0 1884h1v1H0zM0 1885h1v2H0zM0 1887h1v2H0zM0 1889h1v3H0zM0 1892h1v2H0zM0 1894h1v1H0zM0 1960h1v3H0zM0 1963h1v2H0zM0 1965h1v1H0zM0 1966h1v2H0zM0 1968h1v2H0zM0 1973h1v3H0zM0 1979h1v3H0zM0 2152h1v3H0zM0 2157h1v2H0zM0 2159h1v2H0zM0 2161h1v3H0zM0 2164h1v2H0zM0 2169h1v1H0zM0 2170h1v4H0zM0 2174h1v3H0zM0 2177h1v2H0zM0 2185h1v2H0zM0 2192h1v2H0zM0 2200h1v3H0zM0 2207h1v3H0zM0 2216h1v3H0zM0 2229h1v4H0zM0 2233h1v3H0zM0 2248h1v3H0zM0 2251h1v3H0zM0 2261h1v1H0zM0 2262h1v2H0zM0 2264h1v1H0zM0 2265h1v2H0zM0 2271h1v1H0zM0 2272h1v2H0zM0 2274h1v4H0zM0 2278h1v2H0zM0 2280h1v3H0zM0 2287h1v3H0zM0 2293h1v1H0zM0 2294h1v3H0zM0 2297h1v3H0zM0 2300h1v1H0zM0 2329h1v2H0zM0 2331h1v4H0zM0 2335h1v1H0zM0 2338h1v1H0zM0 2347h1v2H0zM0 2377h1v1H0zM0 2411h1v3H0zM0 2414h1v2H0zM0 2420h1v2H0zM0 2437h1v2H0zM0 2442h1v1H0zM0 2446h1v4H0zM0 2450h1v1H0zM0 2451h1v2H0zM0 2459h1v2H0zM0 2462h1v2H0zM0 2466h1v2H0zM0 2468h1v2H0z"/><path fill="#feeac5" d="M0 1380h1v3H0zM0 1827h1v3H0zM0 2098h1v1H0zM0 2119h1v2H0zM0 2256h1v1H0zM0 2259h1v1H0z"/><path fill="#fee1aa" d="M0 1383h1v2H0zM0 1393h1v3H0zM0 1396h1v3H0zM0 1402h1v2H0zM0 1406h1v2H0zM0 1408h1v2H0zM0 1416h1v4H0zM0 1422h1v1H0zM0 1423h1v2H0zM0 1425h1v1H0zM0 1426h1v2H0zM0 1430h1v2H0zM0 1432h1v2H0zM0 1435h1v1H0zM0 1664h1v1H0zM0 1665h1v3H0zM0 1670h1v2H0zM0 1674h1v2H0zM0 1678h1v2H0zM0 1680h1v2H0zM0 1684h1v1H0zM0 1685h1v3H0zM0 1690h1v2H0zM0 1694h1v2H0zM0 1702h1v1H0zM0 1754h1v4H0zM0 1766h1v3H0zM0 1769h1v1H0zM0 1825h1v2H0zM0 1830h1v3H0zM0 1833h1v2H0zM0 1835h1v2H0zM0 1837h1v3H0zM0 1840h1v1H0zM0 1841h1v2H0zM0 1843h1v2H0zM0 1845h1v2H0zM0 1847h1v1H0zM0 1848h1v1H0zM0 1850h1v1H0zM0 1863h1v2H0zM0 1865h1v1H0zM0 1868h1v1H0zM0 1872h1v1H0zM0 1942h1v2H0zM0 1944h1v4H0zM0 1948h1v1H0zM0 1949h1v3H0zM0 1952h1v3H0zM0 1955h1v1H0zM0 1956h1v1H0zM0 1957h1v3H0zM0 2019h1v3H0zM0 2022h1v3H0zM0 2025h1v3H0zM0 2034h1v3H0zM0 2037h1v2H0zM0 2043h1v3H0zM0 2046h1v1H0zM0 2050h1v2H0zM0 2052h1v4H0zM0 2062h1v1H0zM0 2063h1v1H0zM0 2064h1v1H0zM0 2065h1v4H0zM0 2069h1v3H0zM0 2072h1v2H0zM0 2074h1v2H0zM0 2076h1v1H0zM0 2077h1v3H0zM0 2080h1v2H0zM0 2082h1v3H0zM0 2085h1v2H0zM0 2087h1v2H0zM0 2089h1v3H0zM0 2092h1v1H0zM0 2093h1v4H0zM0 2097h1v1H0zM0 2099h1v2H0zM0 2179h1v4H0zM0 2183h1v2H0zM0 2187h1v2H0zM0 2189h1v3H0zM0 2197h1v3H0zM0 2203h1v4H0zM0 2212h1v4H0zM0 2219h1v2H0zM0 2221h1v1H0zM0 2225h1v1H0zM0 2226h1v3H0zM0 2236h1v2H0zM0 2238h1v2H0zM0 2240h1v4H0zM0 2244h1v3H0zM0 2247h1v1H0zM0 2257h1v2H0zM0 2260h1v1H0zM0 2301h1v1H0zM0 2302h1v3H0z"/><path fill="#fedc9d" d="M0 1404h1v2H0zM0 1411h1v2H0zM0 1484h1v2H0zM0 1758h1v3H0zM0 1761h1v3H0zM0 1780h1v2H0zM0 2039h1v2H0zM0 2210h1v2H0zM0 2254h1v2H0zM0 2305h1v3H0z"/><path fill="#fcf3e6" d="M0 1428h1v2H0zM0 1455h1v2H0zM0 1479h1v3H0zM0 1782h1v2H0zM0 1796h1v3H0zM0 1866h1v2H0zM0 1869h1v2H0zM0 1924h1v1H0zM0 2033h1v1H0zM0 2111h1v1H0zM0 2130h1v3H0zM0 2142h1v3H0z"/><path fill="#feeed2" d="M0 1434h1v1H0zM0 1438h1v1H0zM0 1439h1v1H0zM0 1441h1v2H0zM0 1471h1v3H0zM0 1482h1v2H0zM0 1552h1v3H0zM0 1555h1v3H0zM0 1752h1v2H0zM0 1784h1v4H0zM0 1789h1v2H0zM0 1791h1v1H0zM0 1851h1v4H0zM0 1859h1v4H0zM0 1879h1v3H0zM0 1916h1v1H0zM0 1933h1v1H0zM0 1995h1v1H0zM0 2005h1v2H0zM0 2127h1v3H0z"/><path fill="#fec868" d="M0 1499h1v1H0zM0 1521h1v2H0zM0 1682h1v2H0zM0 1721h1v2H0zM0 1970h1v3H0zM0 1976h1v2H0zM0 1978h1v1H0zM0 2155h1v2H0zM0 2284h1v3H0zM0 2339h1v2H0zM0 2390h1v2H0z"/><path fill="#fed283" d="M0 1500h1v3H0zM0 1688h1v2H0zM0 1703h1v2H0zM0 1719h1v2H0zM0 1770h1v2H0zM0 1772h1v3H0zM0 2166h1v3H0zM0 2222h1v3H0zM0 2267h1v4H0zM0 2283h1v1H0zM0 2290h1v3H0zM0 2341h1v4H0zM0 2362h1v2H0zM0 2427h1v4H0zM0 2436h1v1H0zM0 2439h1v3H0zM0 2453h1v3H0zM0 2458h1v1H0zM0 2461h1v1H0z"/><path fill="#febe4a" d="M0 1515h1v2H0zM0 2317h1v1H0zM0 2345h1v2H0zM0 2354h1v2H0zM0 2373h1v2H0zM0 2396h1v4H0z"/><path fill="#faf3eb" d="M0 1547h1v2H0z"/><path fill="#fee6b8" d="M0 1692h1v2H0zM0 1698h1v4H0zM0 1849h1v1H0zM0 1873h1v2H0zM0 2194h1v3H0z"/><path fill="#fec359" d="M0 1982h1v1H0zM0 2313h1v2H0z"/><path fill="#ffa60a" d="M0 2470h1v3H0zM0 2473h1v1H0zM0 2474h1v4H0zM0 2478h1v3H0zM0 2481h1v1H0zM0 2482h1v1H0zM0 2483h1v2H0zM0 2485h1v2H0zM0 2487h1v2H0zM0 2489h1v2H0zM0 2491h1v2H0zM0 2493h1v1H0zM0 2494h1v2H0zM0 2496h1v1H0zM0 2497h1v2H0zM0 2499h1v3H0zM0 2502h1v1H0zM0 2503h1v2H0zM0 2509h1v3H0zM0 2512h1v2H0zM0 2514h1v2H0zM0 2516h1v4H0zM0 2526h1v4H0zM0 2530h1v2H0zM0 2532h1v2H0zM0 2534h1v4H0zM0 2538h1v2H0zM0 2540h1v1H0zM0 2544h1v2H0zM0 2546h1v2H0zM0 2548h1v1H0zM0 2549h1v1H0z"/><path fill="#feb023" d="M0 2505h1v4H0zM0 2541h1v3H0z"/><path fill="#ffab16" d="M0 2520h1v3H0zM0 2523h1v3H0z"/><path fill="#7a7aff" d="M0 1012h1v2H0zM0 1050h1v2H0zM0 1094h1v2H0zM0 1190h1v2H0zM0 1207h1v2H0zM0 1578h1v2H0zM0 1612h1v2H0z"/><path fill="#e0e0fc" d="M0 1125h1v2H0zM0 1147h1v2H0z"/><path fill="#f7f3f6" d="M0 1219h1v3H0z"/></g><g shape-rendering="crispEdges" transform="translate(1541.95 0) scale(175.75 1)"><path fill="#d4d4fc" d="M0 865h1v3H0zM0 951h1v1H0zM0 1276h1v3H0zM0 1518h1v1H0zM0 1633h1v3H0zM0 1641h1v3H0zM0 1664h1v2H0zM0 1807h1v2H0zM0 2518h1v2H0z"/><path fill="#e0e0fc" d="M0 868h1v3H0zM0 876h1v3H0zM0 882h1v1H0zM0 952h1v3H0zM0 955h1v3H0zM0 1266h1v1H0zM0 1267h1v3H0zM0 1270h1v3H0zM0 1274h1v2H0zM0 1279h1v3H0zM0 1282h1v1H0zM0 1283h1v2H0zM0 1488h1v2H0zM0 1497h1v2H0zM0 1503h1v2H0zM0 1505h1v1H0zM0 1507h1v4H0zM0 1517h1v1H0zM0 1522h1v4H0zM0 1526h1v2H0zM0 1530h1v2H0zM0 1532h1v2H0zM0 1534h1v2H0zM0 1536h1v4H0zM0 1543h1v2H0zM0 1622h1v4H0zM0 1629h1v2H0zM0 1632h1v1H0zM0 1644h1v3H0zM0 1653h1v1H0zM0 1654h1v1H0zM0 1655h1v1H0zM0 1656h1v3H0zM0 1659h1v3H0zM0 1662h1v2H0zM0 1666h1v1H0zM0 1789h1v4H0zM0 1793h1v1H0zM0 1794h1v1H0zM0 1798h1v2H0zM0 1973h1v1H0zM0 1977h1v3H0zM0 1980h1v2H0zM0 1987h1v1H0zM0 2159h1v2H0zM0 2161h1v2H0zM0 2468h1v4H0zM0 2472h1v3H0zM0 2493h1v2H0zM0 2503h1v2H0zM0 2505h1v2H0zM0 2507h1v3H0zM0 2512h1v1H0zM0 2513h1v1H0zM0 2514h1v4H0z"/><path fill="#f7f3f6" d="M0 871h1v1H0zM0 873h1v1H0zM0 874h1v2H0zM0 879h1v2H0zM0 881h1v1H0zM0 1302h1v2H0zM0 1304h1v1H0zM0 1380h1v1H0zM0 1381h1v4H0zM0 1385h1v1H0zM0 1392h1v1H0zM0 1511h1v4H0zM0 1519h1v3H0zM0 1528h1v2H0zM0 1540h1v3H0zM0 1545h1v3H0zM0 1548h1v1H0zM0 1613h1v3H0zM0 1616h1v3H0zM0 1619h1v3H0zM0 1626h1v3H0zM0 1631h1v1H0zM0 1636h1v2H0zM0 1640h1v1H0zM0 1787h1v2H0zM0 1795h1v3H0zM0 1800h1v4H0zM0 2149h1v4H0zM0 2153h1v1H0zM0 2156h1v3H0zM0 2475h1v3H0zM0 2478h1v3H0z"/><path fill="#f1eef8" d="M0 872h1v1H0zM0 1499h1v4H0zM0 1515h1v2H0zM0 1638h1v1H0z"/><path fill="#afaffb" d="M0 883h1v2H0zM0 885h1v2H0zM0 887h1v1H0zM0 888h1v4H0zM0 892h1v4H0zM0 896h1v2H0zM0 901h1v2H0zM0 903h1v1H0zM0 904h1v2H0zM0 906h1v1H0zM0 907h1v1H0zM0 908h1v3H0zM0 911h1v3H0zM0 914h1v1H0zM0 915h1v4H0zM0 919h1v2H0zM0 921h1v4H0zM0 925h1v1H0zM0 926h1v3H0zM0 929h1v2H0zM0 933h1v2H0zM0 935h1v2H0zM0 937h1v2H0zM0 939h1v3H0zM0 942h1v1H0zM0 943h1v2H0zM0 945h1v2H0zM0 947h1v1H0zM0 948h1v3H0zM0 958h1v1H0zM0 959h1v4H0zM0 963h1v1H0zM0 964h1v1H0zM0 965h1v2H0zM0 973h1v4H0zM0 977h1v1H0zM0 978h1v3H0zM0 981h1v1H0zM0 985h1v1H0zM0 988h1v2H0zM0 990h1v3H0zM0 993h1v2H0zM0 995h1v3H0zM0 998h1v3H0zM0 1001h1v1H0zM0 1002h1v3H0zM0 1005h1v3H0zM0 1008h1v2H0zM0 1010h1v3H0zM0 1013h1v1H0zM0 1014h1v3H0zM0 1017h1v3H0zM0 1020h1v2H0zM0 1022h1v3H0zM0 1028h1v2H0zM0 1030h1v2H0zM0 1032h1v2H0zM0 1034h1v4H0zM0 1046h1v3H0zM0 1049h1v1H0zM0 1050h1v3H0zM0 1055h1v2H0zM0 1057h1v2H0zM0 1059h1v1H0zM0 1060h1v4H0zM0 1064h1v2H0zM0 1066h1v1H0zM0 1067h1v1H0zM0 1068h1v2H0zM0 1070h1v4H0zM0 1074h1v2H0zM0 1078h1v2H0zM0 1080h1v4H0zM0 1084h1v2H0zM0 1086h1v1H0zM0 1087h1v2H0zM0 1089h1v2H0zM0 1091h1v4H0zM0 1099h1v2H0zM0 1101h1v3H0zM0 1111h1v3H0zM0 1114h1v1H0zM0 1115h1v2H0zM0 1117h1v1H0zM0 1118h1v2H0zM0 1120h1v2H0zM0 1122h1v4H0zM0 1126h1v2H0zM0 1128h1v1H0zM0 1129h1v2H0zM0 1133h1v3H0zM0 1136h1v3H0zM0 1139h1v2H0zM0 1141h1v2H0zM0 1143h1v2H0zM0 1145h1v2H0zM0 1147h1v3H0zM0 1150h1v2H0zM0 1152h1v2H0zM0 1154h1v2H0zM0 1156h1v3H0zM0 1159h1v3H0zM0 1162h1v2H0zM0 1164h1v2H0zM0 1168h1v3H0zM0 1171h1v2H0zM0 1173h1v2H0zM0 1175h1v1H0zM0 1176h1v3H0zM0 1179h1v2H0zM0 1181h1v2H0zM0 1183h1v2H0zM0 1186h1v1H0zM0 1187h1v2H0zM0 1189h1v2H0zM0 1191h1v3H0zM0 1198h1v3H0zM0 1203h1v1H0zM0 1204h1v2H0zM0 1206h1v1H0zM0 1207h1v4H0zM0 1211h1v2H0zM0 1213h1v1H0zM0 1214h1v1H0zM0 1215h1v1H0zM0 1216h1v2H0zM0 1218h1v2H0zM0 1223h1v2H0zM0 1225h1v1H0zM0 1226h1v3H0zM0 1231h1v4H0zM0 1239h1v2H0zM0 1241h1v2H0zM0 1243h1v1H0zM0 1244h1v4H0zM0 1248h1v3H0zM0 1252h1v2H0zM0 1254h1v2H0zM0 1256h1v3H0zM0 1260h1v1H0zM0 1305h1v1H0zM0 1306h1v2H0zM0 1308h1v2H0zM0 1310h1v1H0zM0 1313h1v3H0zM0 1316h1v2H0zM0 1318h1v2H0zM0 1320h1v2H0zM0 1322h1v2H0zM0 1324h1v3H0zM0 1327h1v2H0zM0 1329h1v2H0zM0 1331h1v3H0zM0 1334h1v2H0zM0 1336h1v2H0zM0 1338h1v2H0zM0 1340h1v1H0zM0 1341h1v4H0zM0 1345h1v4H0zM0 1349h1v4H0zM0 1353h1v4H0zM0 1359h1v3H0zM0 1362h1v1H0zM0 1363h1v3H0zM0 1366h1v2H0zM0 2481h1v1H0zM0 2482h1v1H0zM0 2483h1v2H0zM0 2487h1v2H0zM0 2489h1v2H0zM0 2491h1v2H0zM0 2495h1v4H0zM0 2499h1v4H0zM0 2510h1v2H0z"/><path fill="#a2a2fc" d="M0 898h1v1H0zM0 931h1v2H0zM0 971h1v2H0zM0 986h1v2H0zM0 1025h1v3H0zM0 1040h1v2H0zM0 1044h1v2H0zM0 1076h1v2H0zM0 1194h1v2H0zM0 1229h1v2H0z"/><path fill="#6868fc" d="M0 899h1v1H0zM0 1368h1v1H0z"/><path fill="#7a7aff" d="M0 900h1v1H0zM0 1287h1v2H0zM0 1289h1v2H0zM0 1291h1v3H0zM0 1357h1v2H0zM0 1369h1v3H0zM0 1372h1v3H0zM0 1375h1v2H0zM0 1377h1v1H0zM0 1490h1v1H0zM0 1491h1v2H0zM0 1493h1v2H0zM0 1495h1v2H0zM0 1650h1v1H0zM0 1651h1v2H0zM0 2440h1v1H0zM0 2441h1v2H0zM0 2443h1v2H0z"/><path fill="#3434f2" d="M0 967h1v2H0zM0 969h1v2H0zM0 1285h1v2H0zM0 1294h1v2H0zM0 1296h1v2H0z"/><path fill="#c8c8fc" d="M0 982h1v3H0zM0 1166h1v2H0zM0 2411h1v2H0zM0 2413h1v3H0zM0 2416h1v3H0zM0 2419h1v1H0z"/><path fill="#9494fd" d="M0 1038h1v2H0zM0 1042h1v2H0z"/><path fill="#bbbbfb" d="M0 1053h1v2H0zM0 1095h1v4H0zM0 1104h1v3H0zM0 1107h1v4H0zM0 1131h1v2H0zM0 1185h1v1H0zM0 1196h1v2H0zM0 1201h1v2H0zM0 1220h1v3H0zM0 1235h1v4H0zM0 1251h1v1H0zM0 1259h1v1H0zM0 1311h1v2H0zM0 2485h1v2H0z"/><path fill="#fee1aa" d="M0 1261h1v3H0zM0 1264h1v2H0zM0 1471h1v3H0zM0 1474h1v2H0zM0 1478h1v2H0zM0 1480h1v1H0zM0 1481h1v1H0zM0 1482h1v2H0zM0 1810h1v3H0zM0 1813h1v2H0zM0 1825h1v4H0zM0 1832h1v1H0zM0 1835h1v3H0zM0 1850h1v2H0zM0 1853h1v2H0zM0 1860h1v3H0zM0 1864h1v1H0zM0 1872h1v2H0zM0 1880h1v2H0zM0 1882h1v3H0zM0 1896h1v1H0zM0 1899h1v2H0zM0 1909h1v1H0zM0 1912h1v2H0zM0 1914h1v2H0zM0 2039h1v4H0zM0 2053h1v3H0zM0 2058h1v2H0zM0 2076h1v3H0zM0 2083h1v1H0zM0 2090h1v3H0zM0 2099h1v3H0zM0 2104h1v1H0zM0 2105h1v2H0zM0 2110h1v4H0zM0 2114h1v3H0zM0 2117h1v2H0zM0 2125h1v4H0zM0 2129h1v1H0zM0 2199h1v2H0zM0 2201h1v1H0zM0 2202h1v3H0zM0 2207h1v2H0zM0 2209h1v3H0zM0 2216h1v2H0zM0 2218h1v2H0zM0 2220h1v4H0zM0 2227h1v1H0zM0 2241h1v3H0zM0 2246h1v1H0zM0 2247h1v3H0zM0 2257h1v2H0zM0 2260h1v2H0zM0 2262h1v2H0zM0 2264h1v1H0zM0 2265h1v2H0zM0 2271h1v1H0zM0 2272h1v2H0zM0 2274h1v4H0zM0 2278h1v2H0zM0 2280h1v3H0zM0 2283h1v3H0zM0 2286h1v2H0zM0 2288h1v4H0zM0 2296h1v4H0zM0 2300h1v2H0zM0 2303h1v3H0zM0 2306h1v3H0zM0 2311h1v3H0zM0 2314h1v4H0zM0 2333h1v3H0zM0 2336h1v1H0zM0 2337h1v4H0zM0 2341h1v2H0zM0 2343h1v2H0zM0 2345h1v2H0zM0 2347h1v1H0zM0 2348h1v2H0zM0 2350h1v2H0zM0 2352h1v1H0zM0 2361h1v2H0zM0 2372h1v2H0zM0 2381h1v1H0zM0 2389h1v2H0zM0 2395h1v3H0zM0 2423h1v1H0zM0 2434h1v1H0zM0 2435h1v4H0zM0 2445h1v2H0zM0 2449h1v1H0zM0 2450h1v2H0zM0 2456h1v1H0zM0 2529h1v4H0zM0 2536h1v4H0zM0 2540h1v3H0zM0 2549h1v1H0z"/><path fill="#eceaf9" d="M0 1273h1v1H0zM0 1298h1v4H0z"/><path fill="#fef3e0" d="M0 1378h1v2H0zM0 1386h1v1H0zM0 1390h1v2H0zM0 1484h1v1H0zM0 1815h1v1H0zM0 1816h1v2H0zM0 1818h1v3H0zM0 1823h1v2H0zM0 1829h1v3H0zM0 1960h1v3H0zM0 1963h1v2H0zM0 1965h1v1H0zM0 1966h1v2H0zM0 1968h1v2H0zM0 1989h1v3H0zM0 1992h1v2H0zM0 1994h1v2H0zM0 1996h1v1H0zM0 1997h1v1H0zM0 1998h1v1H0zM0 2002h1v1H0zM0 2003h1v2H0zM0 2005h1v3H0zM0 2008h1v2H0zM0 2013h1v1H0zM0 2014h1v1H0zM0 2015h1v2H0zM0 2017h1v2H0zM0 2019h1v2H0zM0 2021h1v1H0zM0 2022h1v2H0zM0 2025h1v3H0zM0 2065h1v2H0zM0 2067h1v1H0zM0 2068h1v2H0zM0 2070h1v2H0zM0 2074h1v2H0zM0 2079h1v3H0zM0 2084h1v1H0zM0 2087h1v3H0zM0 2095h1v2H0zM0 2147h1v2H0zM0 2163h1v1H0zM0 2164h1v2H0zM0 2169h1v1H0zM0 2170h1v4H0zM0 2174h1v3H0zM0 2177h1v4H0zM0 2181h1v2H0zM0 2183h1v2H0zM0 2185h1v2H0zM0 2187h1v2H0zM0 2189h1v3H0zM0 2192h1v1H0zM0 2195h1v2H0zM0 2292h1v4H0zM0 2302h1v1H0zM0 2309h1v2H0zM0 2320h1v2H0zM0 2322h1v2H0zM0 2324h1v4H0zM0 2328h1v2H0zM0 2330h1v2H0zM0 2353h1v2H0zM0 2365h1v2H0zM0 2367h1v2H0zM0 2371h1v1H0zM0 2378h1v1H0zM0 2382h1v3H0zM0 2385h1v2H0zM0 2391h1v4H0zM0 2398h1v3H0zM0 2401h1v3H0zM0 2404h1v1H0zM0 2410h1v1H0zM0 2422h1v1H0zM0 2424h1v3H0zM0 2429h1v1H0zM0 2431h1v1H0zM0 2432h1v2H0zM0 2439h1v1H0zM0 2523h1v2H0zM0 2547h1v2H0z"/><path fill="#feeed2" d="M0 1387h1v3H0zM0 1970h1v3H0zM0 2010h1v3H0zM0 2093h1v2H0zM0 2097h1v2H0zM0 2102h1v2H0zM0 2154h1v2H0zM0 2197h1v2H0zM0 2355h1v4H0zM0 2363h1v2H0zM0 2405h1v2H0zM0 2407h1v1H0zM0 2408h1v2H0z"/><path fill="#fecd76" d="M0 1393h1v2H0zM0 1395h1v2H0zM0 1397h1v2H0zM0 1399h1v2H0zM0 1405h1v1H0zM0 1408h1v3H0zM0 1411h1v1H0zM0 1412h1v3H0zM0 1415h1v1H0zM0 1420h1v3H0zM0 1423h1v1H0zM0 1549h1v1H0zM0 1551h1v2H0zM0 1553h1v1H0zM0 1554h1v1H0zM0 1555h1v3H0zM0 1558h1v2H0zM0 1560h1v1H0zM0 1561h1v2H0zM0 1563h1v1H0zM0 1564h1v3H0zM0 1567h1v2H0zM0 1571h1v1H0zM0 1667h1v2H0zM0 1680h1v3H0zM0 1683h1v2H0zM0 1687h1v2H0zM0 1689h1v1H0zM0 1690h1v4H0zM0 1697h1v1H0zM0 1701h1v2H0zM0 1710h1v2H0zM0 1712h1v2H0zM0 1714h1v2H0zM0 1716h1v2H0zM0 1838h1v1H0zM0 1839h1v3H0zM0 1849h1v1H0zM0 1852h1v1H0zM0 1857h1v3H0zM0 1865h1v1H0zM0 1866h1v4H0zM0 1870h1v2H0zM0 1889h1v1H0zM0 1901h1v3H0zM0 1904h1v1H0zM0 1910h1v1H0zM0 1911h1v1H0zM0 1918h1v1H0zM0 1924h1v3H0zM0 1939h1v2H0zM0 1941h1v2H0zM0 1950h1v2H0zM0 1955h1v1H0zM0 2031h1v1H0zM0 2034h1v2H0zM0 2043h1v1H0zM0 2044h1v1H0zM0 2045h1v3H0zM0 2048h1v4H0zM0 2060h1v3H0zM0 2063h1v1H0zM0 2107h1v3H0zM0 2119h1v2H0zM0 2121h1v4H0zM0 2135h1v2H0zM0 2137h1v4H0zM0 2141h1v2H0zM0 2143h1v2H0zM0 2145h1v2H0zM0 2212h1v2H0zM0 2214h1v2H0zM0 2224h1v3H0zM0 2229h1v1H0zM0 2240h1v1H0zM0 2250h1v3H0zM0 2253h1v2H0zM0 2447h1v2H0zM0 2457h1v2H0zM0 2460h1v2H0zM0 2462h1v2H0z"/><path fill="#fed283" d="M0 1401h1v4H0zM0 1424h1v3H0zM0 1550h1v1H0zM0 1569h1v2H0zM0 1674h1v3H0zM0 1833h1v2H0zM0 1842h1v3H0zM0 1874h1v4H0zM0 1885h1v2H0zM0 1890h1v4H0zM0 1897h1v2H0zM0 1947h1v3H0zM0 2028h1v3H0zM0 2134h1v1H0zM0 2230h1v2H0zM0 2238h1v2H0zM0 2453h1v3H0z"/><path fill="#fed790" d="M0 1406h1v2H0zM0 1476h1v2H0zM0 2130h1v2H0z"/><path fill="#fec868" d="M0 1416h1v4H0zM0 1848h1v1H0zM0 1855h1v2H0zM0 1863h1v1H0zM0 1887h1v2H0zM0 1894h1v2H0zM0 1905h1v4H0zM0 1916h1v2H0zM0 1927h1v4H0zM0 1931h1v4H0zM0 1935h1v4H0zM0 2232h1v3H0z"/><path fill="#feb93c" d="M0 1427h1v2H0zM0 1431h1v2H0zM0 1433h1v4H0zM0 1437h1v1H0zM0 1444h1v1H0zM0 1448h1v3H0zM0 1451h1v3H0zM0 1458h1v3H0zM0 1461h1v3H0zM0 1464h1v1H0zM0 1465h1v2H0zM0 1470h1v1H0zM0 1669h1v3H0zM0 1672h1v2H0zM0 1677h1v2H0zM0 1694h1v3H0zM0 1698h1v3H0zM0 1707h1v3H0zM0 1718h1v3H0zM0 1729h1v2H0zM0 1737h1v3H0zM0 1741h1v3H0zM0 1747h1v2H0zM0 1749h1v1H0zM0 1760h1v1H0zM0 1761h1v2H0zM0 1765h1v3H0zM0 1777h1v2H0zM0 1783h1v3H0zM0 1919h1v2H0zM0 1943h1v4H0zM0 1952h1v3H0z"/><path fill="#feb023" d="M0 1429h1v2H0zM0 1604h1v3H0z"/><path fill="#fec359" d="M0 1438h1v2H0zM0 1456h1v1H0z"/><path fill="#febe4a" d="M0 1440h1v4H0zM0 1457h1v1H0zM0 1467h1v3H0zM0 1705h1v2H0zM0 1734h1v2H0z"/><path fill="#feb430" d="M0 1445h1v3H0zM0 1454h1v2H0zM0 1679h1v1H0zM0 1685h1v2H0zM0 1703h1v2H0zM0 1721h1v2H0zM0 1756h1v4H0zM0 1773h1v4H0zM0 1921h1v3H0zM0 1956h1v4H0z"/><path fill="#fcf3e6" d="M0 1485h1v3H0zM0 1809h1v1H0zM0 1984h1v3H0zM0 1999h1v3H0zM0 2064h1v1H0zM0 2072h1v2H0zM0 2082h1v1H0zM0 2166h1v3H0zM0 2193h1v2H0zM0 2318h1v1H0zM0 2319h1v1H0zM0 2359h1v2H0zM0 2374h1v4H0zM0 2379h1v2H0zM0 2387h1v2H0zM0 2420h1v2H0zM0 2427h1v2H0zM0 2525h1v4H0z"/><path fill="#e6e5fa" d="M0 1506h1v1H0zM0 1639h1v1H0zM0 1786h1v1H0zM0 1974h1v1H0zM0 1975h1v2H0zM0 1982h1v2H0zM0 1988h1v1H0zM0 2520h1v2H0z"/><path fill="#ffa60a" d="M0 1572h1v1H0zM0 1573h1v2H0zM0 1575h1v1H0zM0 1578h1v3H0zM0 1581h1v2H0zM0 1583h1v2H0zM0 1585h1v4H0zM0 1589h1v2H0zM0 1591h1v2H0zM0 1593h1v4H0zM0 1598h1v3H0zM0 1602h1v1H0zM0 1603h1v1H0zM0 1608h1v4H0zM0 1612h1v1H0zM0 1723h1v1H0zM0 1724h1v1H0zM0 1725h1v1H0zM0 1726h1v1H0zM0 1727h1v2H0zM0 1731h1v3H0zM0 1736h1v1H0zM0 1740h1v1H0zM0 1744h1v3H0zM0 1750h1v3H0zM0 1755h1v1H0zM0 1763h1v2H0zM0 1768h1v2H0zM0 1770h1v3H0z"/><path fill="#ffab16" d="M0 1576h1v2H0zM0 1597h1v1H0zM0 1601h1v1H0zM0 1607h1v1H0zM0 1753h1v2H0zM0 1779h1v4H0z"/><path fill="#8787fe" d="M0 1647h1v3H0z"/><path fill="#f9f3f0" d="M0 1804h1v3H0z"/><path fill="#fee6b8" d="M0 1821h1v2H0zM0 2032h1v2H0zM0 2036h1v3H0zM0 2052h1v1H0zM0 2056h1v2H0zM0 2085h1v2H0zM0 2132h1v2H0zM0 2205h1v2H0zM0 2244h1v2H0zM0 2255h1v1H0zM0 2267h1v4H0zM0 2430h1v1H0zM0 2459h1v1H0zM0 2464h1v3H0zM0 2522h1v1H0zM0 2533h1v3H0z"/><path fill="#fedc9d" d="M0 1845h1v3H0zM0 1878h1v2H0zM0 2228h1v1H0zM0 2332h1v1H0zM0 2369h1v2H0zM0 2452h1v1H0zM0 2467h1v1H0zM0 2543h1v4H0z"/><path fill="#faf3eb" d="M0 2024h1v1H0z"/><path fill="#feeac5" d="M0 2235h1v3H0zM0 2256h1v1H0zM0 2259h1v1H0z"/><path fill="#7a7aff" d="M0 1010h1v2H0zM0 1057h1v2H0zM0 1064h1v2H0zM0 1125h1v2H0zM0 1157h1v4H0zM0 1187h1v2H0zM0 1196h1v2H0zM0 1218h1v2H0zM0 1277h1v2H0z"/><path fill="#9494fd" d="M0 1021h1v9H0z"/><path fill="#e0e0fc" d="M0 1095h1v2H0z"/></g><rect x="1541.5" y="1428.1" width="175.3" height="43.4" fill="none" stroke="#ff4420" stroke-width="3"/><rect x="1366.6" y="1487.4" width="175.0" height="59.1" fill="none" stroke="#ff4420" stroke-width="3"/><rect x="1541.5" y="1572.8" width="177.8" height="41.0" fill="none" stroke="#ff4420" stroke-width="3"/><rect x="1541.5" y="1668.1" width="177.8" height="117.9" fill="none" stroke="#ff4420" stroke-width="3"/><rect x="1366.6" y="2261.7" width="175.0" height="290.6" fill="none" stroke="#ff4420" stroke-width="3"/><text transform="translate(338.8 2601) scale(1.07 1)" font-family="'Liberation Sans', Arial, Helvetica, sans-serif" font-size="43">+P leaf</text><text transform="translate(518.0 2601) scale(1.07 1)" font-family="'Liberation Sans', Arial, Helvetica, sans-serif" font-size="43">-P leaf</text><text transform="translate(679.6 2601) scale(1.07 1)" font-family="'Liberation Sans', Arial, Helvetica, sans-serif" font-size="43">+P stem</text><text transform="translate(858.6 2601) scale(1.07 1)" font-family="'Liberation Sans', Arial, Helvetica, sans-serif" font-size="43">-P stem</text><text transform="translate(1044.8 2601) scale(1.07 1)" font-family="'Liberation Sans', Arial, Helvetica, sans-serif" font-size="43">+P NR</text><text transform="translate(1225.4 2601) scale(1.07 1)" font-family="'Liberation Sans', Arial, Helvetica, sans-serif" font-size="43">-P NR</text><text transform="translate(1403.0 2601) scale(1.07 1)" font-family="'Liberation Sans', Arial, Helvetica, sans-serif" font-size="43">-P PE</text><text transform="translate(1576.0 2601) scale(1.07 1)" font-family="'Liberation Sans', Arial, Helvetica, sans-serif" font-size="43">-P CR</text><text transform="translate(332.2 2687.6) scale(1.05 1)" font-family="'Liberation Sans', Arial, Helvetica, sans-serif" font-size="43">NR: normal root</text><text transform="translate(742.0 2687.6) scale(1.05 1)" font-family="'Liberation Sans', Arial, Helvetica, sans-serif" font-size="43">PE: pre-emergent zone</text><text transform="translate(1302.2 2687.6) scale(1.05 1)" font-family="'Liberation Sans', Arial, Helvetica, sans-serif" font-size="43">CR: cluster root</text><path d="M313.8 865.2H308.1V865.6H313.8M308.1 865.4H303.4V866.0H313.8M303.4 865.7H302.0V866.4H313.8M313.8 867.2H306.1V867.6H313.8M313.8 866.8H299.8V867.4H306.1M299.8 867.1H297.8V868.0H313.8M313.8 868.4H296.5V868.8H313.8M297.8 867.5H296.1V868.6H296.5M313.8 869.2H297.1V869.6H313.8M313.8 870.0H296.4V870.4H313.8M313.8 870.8H290.4V871.2H313.8M296.4 870.2H289.5V871.0H290.4M297.1 869.4H287.6V870.6H289.5M313.8 872.0H305.9V872.4H313.8M305.9 872.2H300.4V872.8H313.8M313.8 871.6H299.3V872.5H300.4M287.6 870.0H277.2V872.0H299.3M296.1 868.1H272.4V871.0H277.2M302.0 866.1H266.2V869.5H272.4M313.8 873.2H306.1V873.6H313.8M306.1 873.4H302.8V874.0H313.8M313.8 874.4H300.3V874.8H313.8M313.8 875.2H298.2V875.6H313.8M300.3 874.6H298.0V875.4H298.2M313.8 876.0H307.2V876.4H313.8M307.2 876.2H304.6V876.8H313.8M313.8 877.2H304.0V877.6H313.8M313.8 878.0H306.7V878.4H313.8M313.8 878.8H307.1V879.2H313.8M307.1 879.0H306.0V879.6H313.8M306.7 878.2H305.2V879.3H306.0M304.0 877.4H303.3V878.8H305.2M304.6 876.5H294.0V878.1H303.3M313.8 880.0H305.1V880.4H313.8M313.8 880.8H305.5V881.2H313.8M305.5 881.0H300.0V881.6H313.8M305.1 880.2H299.1V881.3H300.0M294.0 877.3H278.6V880.8H299.1M298.0 875.0H273.6V879.0H278.6M313.8 883.6H303.9V884.0H313.8M313.8 883.2H302.2V883.8H303.9M313.8 882.8H297.6V883.5H302.2M313.8 884.8H307.0V885.2H313.8M313.8 885.6H302.8V886.0H313.8M307.0 885.0H298.8V885.8H302.8M313.8 884.4H296.4V885.4H298.8M297.6 883.1H296.1V884.9H296.4M313.8 886.8H303.8V887.2H313.8M313.8 886.4H292.7V887.0H303.8M296.1 884.0H288.3V886.7H292.7M313.8 887.6H305.5V888.0H313.8M288.3 885.4H285.6V887.8H305.5M313.8 889.2H308.1V889.6H313.8M313.8 888.8H303.6V889.4H308.1M313.8 888.4H302.9V889.1H303.6M285.6 886.6H284.5V888.8H302.9M313.8 882.4H280.8V887.7H284.5M313.8 890.0H300.3V890.4H313.8M313.8 890.8H300.6V891.2H313.8M300.3 890.2H298.4V891.0H300.6M313.8 891.6H295.6V892.0H313.8M298.4 890.6H295.0V891.8H295.6M313.8 892.4H303.2V892.8H313.8M313.8 893.6H305.5V894.0H313.8M313.8 893.2H304.2V893.8H305.5M303.2 892.6H302.6V893.5H304.2M313.8 894.4H307.6V894.8H313.8M307.6 894.6H300.3V895.2H313.8M313.8 895.6H309.1V896.0H313.8M309.1 895.8H307.3V896.4H313.8M300.3 894.9H298.4V896.1H307.3M302.6 893.0H294.9V895.5H298.4M295.0 891.2H289.0V894.3H294.9M313.8 896.8H310.0V897.2H313.8M313.8 898.0H302.2V898.4H313.8M313.8 897.6H299.2V898.2H302.2M313.8 898.8H305.1V899.2H313.8M305.1 899.0H299.8V899.6H313.8M299.8 899.3H289.8V900.0H313.8M299.2 897.9H285.1V899.6H289.8M310.0 897.0H277.7V898.8H285.1M313.8 900.8H306.7V901.2H313.8M313.8 900.4H305.8V901.0H306.7M305.8 900.7H303.6V901.6H313.8M313.8 902.4H302.1V902.8H313.8M313.8 903.2H304.9V903.5H313.8M302.1 902.6H288.3V903.4H304.9M313.8 902.0H285.6V903.0H288.3M303.6 901.2H281.6V902.5H285.6M277.7 897.9H273.5V901.8H281.6M289.0 892.7H270.9V899.9H273.5M280.8 885.0H261.6V896.3H270.9M313.8 882.0H257.2V890.7H261.6M257.2 886.3H251.2V903.8H313.8M273.6 877.0H230.9V895.1H251.2M302.8 873.7H225.5V886.0H230.9M266.2 867.8H191.0V879.9H225.5M313.8 905.0H303.0V905.4H313.8M313.8 904.6H302.1V905.2H303.0M313.8 904.2H301.1V904.9H302.1M313.8 905.8H302.2V906.2H313.8M302.2 906.0H299.4V906.6H313.8M313.8 907.0H298.1V907.4H313.8M313.8 907.8H289.6V908.2H313.8M298.1 907.2H289.0V908.0H289.6M313.8 908.6H302.9V909.0H313.8M313.8 909.8H305.3V910.2H313.8M313.8 909.4H302.1V910.0H305.3M313.8 911.0H302.6V911.4H313.8M313.8 910.6H301.9V911.2H302.6M301.9 910.9H300.7V911.8H313.8M302.1 909.7H297.6V911.4H300.7M302.9 908.8H291.1V910.5H297.6M289.0 907.6H286.2V909.7H291.1M299.4 906.3H283.0V908.6H286.2M301.1 904.5H282.5V907.5H283.0M282.5 906.0H278.1V912.2H313.8M313.8 913.0H302.7V913.4H313.8M313.8 912.6H300.7V913.2H302.7M313.8 914.2H306.7V914.6H313.8M313.8 913.8H305.7V914.4H306.7M305.7 914.1H305.4V915.0H313.8M300.7 912.9H291.4V914.5H305.4M278.1 909.1H274.8V913.7H291.4M313.8 915.4H306.1V915.8H313.8M306.1 915.6H299.0V916.2H313.8M274.8 911.4H268.7V915.9H299.0M313.8 917.0H301.0V917.4H313.8M313.8 916.6H300.3V917.2H301.0M313.8 917.8H300.1V918.2H313.8M300.3 916.9H296.1V918.0H300.1M313.8 918.6H304.2V919.0H313.8M313.8 920.2H303.9V920.6H313.8M313.8 919.8H301.5V920.4H303.9M313.8 919.4H291.6V920.1H301.5M304.2 918.8H289.4V919.7H291.6M296.1 917.5H288.5V919.3H289.4M313.8 921.4H307.7V921.8H313.8M313.8 921.0H296.5V921.6H307.7M313.8 922.6H304.3V923.0H313.8M313.8 922.2H302.7V922.8H304.3M296.5 921.3H289.2V922.5H302.7M288.5 918.4H278.0V921.9H289.2M313.8 923.4H306.1V923.8H313.8M313.8 924.2H304.6V924.6H313.8M306.1 923.6H283.3V924.4H304.6M278.0 920.1H274.8V924.0H283.3M268.7 913.7H221.9V922.1H274.8M313.8 925.0H307.6V925.4H313.8M313.8 925.8H301.2V926.2H313.8M307.6 925.2H300.0V926.0H301.2M313.8 927.0H303.0V927.4H313.8M313.8 927.8H306.0V928.2H313.8M306.0 928.0H303.6V928.6H313.8M303.0 927.2H296.0V928.3H303.6M313.8 926.6H294.2V927.8H296.0M313.8 929.0H305.9V929.4H313.8M313.8 929.8H306.0V930.2H313.8M305.9 929.2H303.1V930.0H306.0M313.8 930.6H303.4V931.0H313.8M303.4 930.8H303.0V931.4H313.8M303.0 931.1H302.2V931.8H313.8M313.8 932.2H307.2V932.6H313.8M307.2 932.4H300.7V933.0H313.8M302.2 931.4H298.5V932.7H300.7M303.1 929.6H298.1V932.1H298.5M294.2 927.2H292.8V930.8H298.1M313.8 934.2H306.5V934.6H313.8M313.8 933.8H305.8V934.4H306.5M313.8 933.4H291.5V934.1H305.8M292.8 929.0H289.4V933.7H291.5M300.0 925.6H285.6V931.4H289.4M313.8 935.0H298.1V935.4H313.8M313.8 935.8H306.4V936.2H313.8M313.8 936.6H302.2V937.0H313.8M306.4 936.0H299.6V936.8H302.2M298.1 935.2H298.0V936.4H299.6M313.8 937.4H306.8V937.8H313.8M313.8 938.2H306.8V938.6H313.8M306.8 938.4H306.0V939.0H313.8M306.8 937.6H304.7V938.7H306.0M298.0 935.8H279.6V938.1H304.7M313.8 939.4H306.4V939.8H313.8M306.4 939.6H304.6V940.2H313.8M304.6 939.9H303.1V940.6H313.8M279.6 937.0H275.9V940.2H303.1M275.9 938.6H270.3V941.0H313.8M285.6 928.5H238.5V939.8H270.3M313.8 941.4H299.7V941.8H313.8M313.8 942.2H304.9V942.6H313.8M313.8 943.4H304.6V943.8H313.8M313.8 943.0H300.3V943.6H304.6M313.8 944.2H301.4V944.6H313.8M300.3 943.3H298.2V944.4H301.4M304.9 942.4H281.6V943.8H298.2M299.7 941.6H280.0V943.1H281.6M313.8 945.0H300.8V945.4H313.8M313.8 945.8H305.0V946.2H313.8M313.8 946.6H306.1V947.0H313.8M305.0 946.0H301.4V946.8H306.1M300.8 945.2H297.7V946.4H301.4M313.8 947.8H305.4V948.2H313.8M313.8 947.4H304.9V948.0H305.4M304.9 947.7H304.3V948.6H313.8M313.8 949.0H298.6V949.4H313.8M304.3 948.1H297.5V949.2H298.6M297.7 945.8H296.0V948.7H297.5M313.8 949.8H302.4V950.2H313.8M313.8 951.4H303.4V951.8H313.8M313.8 951.0H301.0V951.6H303.4M313.8 950.6H300.0V951.3H301.0M302.4 950.0H296.4V950.9H300.0M296.0 947.2H291.9V950.5H296.4M313.8 952.6H300.3V953.0H313.8M300.3 952.8H297.2V953.4H313.8M313.8 953.8H300.3V954.2H313.8M297.2 953.1H296.2V954.0H300.3M313.8 952.2H294.3V953.5H296.2M313.8 955.0H305.2V955.4H313.8M313.8 954.6H302.5V955.2H305.2M294.3 952.9H290.4V954.9H302.5M291.9 948.9H283.2V953.9H290.4M283.2 951.4H281.9V955.8H313.8M280.0 942.4H268.4V953.6H281.9M313.8 956.2H306.0V956.6H313.8M313.8 957.4H307.4V957.8H313.8M313.8 957.0H303.0V957.6H307.4M303.0 957.3H302.7V958.2H313.8M313.8 958.6H300.1V959.0H313.8M302.7 957.7H299.5V958.8H300.1M306.0 956.4H294.8V958.3H299.5M313.8 959.4H302.4V959.8H313.8M313.8 960.2H304.7V960.6H313.8M313.8 961.4H305.1V961.8H313.8M313.8 961.0H304.4V961.6H305.1M304.7 960.4H300.4V961.3H304.4M300.4 960.8H299.4V962.2H313.8M302.4 959.6H294.9V961.5H299.4M313.8 962.6H303.3V962.9H313.8M294.9 960.6H287.1V962.8H303.3M294.8 957.3H278.9V961.7H287.1M313.8 963.2H298.9V963.6H313.8M313.8 964.0H304.5V964.4H313.8M298.9 963.4H296.5V964.2H304.5M278.9 959.5H278.2V963.8H296.5M268.4 948.0H260.6V961.6H278.2M260.6 954.8H255.3V964.8H313.8M238.5 934.1H214.4V959.8H255.3M221.9 917.9H187.4V947.0H214.4M191.0 873.8H145.5V932.4H187.4M313.8 965.2H299.6V965.6H313.8M313.8 966.4H302.7V966.8H313.8M313.8 966.0H300.7V966.6H302.7M300.7 966.3H295.5V967.2H313.8M313.8 968.0H305.1V968.4H313.8M305.1 968.2H295.8V968.8H313.8M313.8 967.6H293.6V968.5H295.8M313.8 969.6H307.6V970.0H313.8M313.8 969.2H306.4V969.8H307.6M293.6 968.0H290.6V969.5H306.4M295.5 966.8H288.4V968.8H290.6M313.8 970.8H305.0V971.2H313.8M313.8 970.4H301.4V971.0H305.0M288.4 967.8H279.5V970.7H301.4M299.6 965.4H278.8V969.2H279.5M313.8 972.0H299.3V972.4H313.8M313.8 971.6H297.8V972.2H299.3M313.8 972.8H307.3V973.2H313.8M297.8 971.9H297.2V973.0H307.3M278.8 967.3H276.7V972.5H297.2M313.8 973.6H285.1V974.0H313.8M313.8 974.4H306.2V974.8H313.8M285.1 973.8H282.5V974.6H306.2M276.7 969.9H271.0V974.2H282.5M313.8 975.6H308.4V976.0H313.8M313.8 975.2H306.4V975.8H308.4M306.4 975.5H305.3V976.4H313.8M305.3 976.0H302.0V976.8H313.8M313.8 977.2H302.6V977.6H313.8M313.8 978.4H302.4V978.8H313.8M313.8 978.0H301.0V978.6H302.4M302.6 977.4H299.1V978.3H301.0M302.0 976.4H297.5V977.8H299.1M297.5 977.1H296.2V979.2H313.8M313.8 980.0H303.5V980.4H313.8M303.5 980.2H299.3V980.8H313.8M313.8 979.6H297.4V980.5H299.3M313.8 981.2H309.7V981.6H313.8M309.7 981.4H299.8V982.0H313.8M299.8 981.7H299.0V982.4H313.8M299.0 982.1H295.6V982.8H313.8M297.4 980.0H291.0V982.4H295.6M313.8 983.2H305.1V983.6H313.8M291.0 981.2H287.7V983.4H305.1M313.8 984.4H308.0V984.8H313.8M313.8 984.0H299.2V984.6H308.0M287.7 982.3H281.2V984.3H299.2M296.2 978.2H260.4V983.3H281.2M271.0 972.0H210.1V980.7H260.4M313.8 985.2H299.9V985.6H313.8M313.8 986.4H305.9V986.8H313.8M313.8 986.0H304.2V986.6H305.9M313.8 987.6H307.7V988.0H313.8M313.8 987.2H298.7V987.8H307.7M304.2 986.3H292.4V987.5H298.7M292.4 986.9H289.4V988.4H313.8M299.9 985.4H287.1V987.7H289.4M313.8 988.8H308.5V989.2H313.8M308.5 989.0H307.2V989.6H313.8M313.8 990.0H299.4V990.4H313.8M313.8 991.6H304.3V992.0H313.8M313.8 991.2H297.2V991.8H304.3M313.8 990.8H295.2V991.5H297.2M299.4 990.2H294.0V991.1H295.2M307.2 989.3H291.0V990.7H294.0M313.8 993.2H305.6V993.6H313.8M305.6 993.4H305.1V994.0H313.8M313.8 992.8H295.6V993.7H305.1M313.8 992.4H294.1V993.2H295.6M291.0 990.0H288.2V992.8H294.1M313.8 994.8H308.0V995.2H313.8M313.8 994.4H291.3V995.0H308.0M313.8 995.6H306.3V996.0H313.8M306.3 995.8H295.3V996.4H313.8M291.3 994.7H290.3V996.1H295.3M313.8 996.8H302.2V997.2H313.8M290.3 995.4H288.7V997.0H302.2M288.2 991.4H278.8V996.2H288.7M287.1 986.5H273.1V993.8H278.8M313.8 997.6H309.1V998.0H313.8M309.1 997.8H292.2V998.4H313.8M313.8 998.8H307.5V999.2H313.8M313.8 999.6H297.7V1000.0H313.8M307.5 999.0H297.0V999.8H297.7M313.8 1000.8H303.5V1001.2H313.8M313.8 1000.4H299.3V1001.0H303.5M299.3 1000.7H297.0V1001.6H313.8M297.0 999.4H295.2V1001.2H297.0M313.8 1002.4H303.9V1002.8H313.8M313.8 1002.0H296.5V1002.6H303.9M295.2 1000.3H292.8V1002.3H296.5M292.2 998.1H283.5V1001.3H292.8M313.8 1003.2H298.0V1003.6H313.8M313.8 1004.0H301.0V1004.4H313.8M298.0 1003.4H297.3V1004.2H301.0M313.8 1004.8H298.1V1005.2H313.8M313.8 1005.6H304.7V1006.0H313.8M304.7 1005.8H301.9V1006.4H313.8M298.1 1005.0H296.3V1006.1H301.9M313.8 1007.2H307.5V1007.6H313.8M313.8 1006.8H305.8V1007.4H307.5M305.8 1007.1H292.0V1008.0H313.8M296.3 1005.5H289.4V1007.5H292.0M297.3 1003.8H281.3V1006.5H289.4M283.5 999.7H272.4V1005.2H281.3M313.8 1008.4H307.0V1008.8H313.8M313.8 1009.2H307.2V1009.6H313.8M307.0 1008.6H306.4V1009.4H307.2M313.8 1010.0H304.4V1010.4H313.8M304.4 1010.2H301.4V1010.8H313.8M306.4 1009.0H293.5V1010.5H301.4M313.8 1011.6H301.2V1012.0H313.8M313.8 1011.2H297.8V1011.8H301.2M313.8 1012.8H307.5V1013.2H313.8M313.8 1012.4H305.8V1013.0H307.5M297.8 1011.5H297.3V1012.7H305.8M313.8 1013.6H302.7V1014.0H313.8M297.3 1012.1H294.8V1013.8H302.7M293.5 1009.8H289.5V1012.9H294.8M313.8 1014.8H304.0V1015.2H313.8M313.8 1014.4H303.3V1015.0H304.0M289.5 1011.3H288.5V1014.7H303.3M313.8 1015.6H305.3V1016.0H313.8M313.8 1016.4H298.6V1016.8H313.8M305.3 1015.8H295.8V1016.6H298.6M313.8 1017.2H301.8V1017.6H313.8M313.8 1018.0H304.6V1018.4H313.8M313.8 1019.2H306.3V1019.6H313.8M313.8 1020.0H307.6V1020.4H313.8M307.6 1020.2H305.6V1020.8H313.8M306.3 1019.4H304.1V1020.5H305.6M313.8 1018.8H302.7V1019.9H304.1M304.6 1018.2H299.4V1019.4H302.7M301.8 1017.4H297.3V1018.8H299.4M295.8 1016.2H290.9V1018.1H297.3M313.8 1021.2H306.2V1021.6H313.8M313.8 1022.0H297.2V1022.4H313.8M306.2 1021.4H296.4V1022.2H297.2M313.8 1022.8H308.5V1023.2H313.8M313.8 1023.6H307.5V1024.0H313.8M308.5 1023.0H306.7V1023.8H307.5M313.8 1024.4H305.6V1024.8H313.8M305.6 1024.6H303.9V1025.2H313.8M313.8 1025.6H293.6V1026.0H313.8M303.9 1024.9H291.5V1025.8H293.6M306.7 1023.4H288.2V1025.4H291.5M296.4 1021.8H285.9V1024.4H288.2M313.8 1026.8H306.7V1027.2H313.8M313.8 1026.4H303.9V1027.0H306.7M285.9 1023.1H283.2V1026.7H303.9M290.9 1017.1H280.1V1024.9H283.2M280.1 1021.0H279.6V1027.6H313.8M288.5 1013.0H272.2V1024.3H279.6M272.4 1002.4H270.6V1018.7H272.2M313.8 1028.0H303.0V1028.4H313.8M270.6 1010.6H268.0V1028.2H303.0M313.8 1029.2H304.9V1029.6H313.8M313.8 1028.8H301.7V1029.4H304.9M301.7 1029.1H301.6V1030.0H313.8M313.8 1030.4H306.0V1030.8H313.8M306.0 1030.6H304.9V1031.2H313.8M313.8 1032.0H302.9V1032.4H313.8M313.8 1031.6H299.9V1032.2H302.9M313.8 1032.8H304.3V1033.2H313.8M304.3 1033.0H301.3V1033.6H313.8M299.9 1031.9H290.9V1033.3H301.3M313.8 1034.8H305.0V1035.2H313.8M313.8 1034.4H298.1V1035.0H305.0M313.8 1034.0H296.1V1034.7H298.1M290.9 1032.6H288.1V1034.3H296.1M313.8 1036.0H309.4V1036.4H313.8M313.8 1035.6H300.6V1036.2H309.4M288.1 1033.5H280.9V1035.9H300.6M313.8 1036.8H303.0V1037.2H313.8M303.0 1037.0H301.9V1037.6H313.8M280.9 1034.7H279.7V1037.3H301.9M313.8 1038.0H304.4V1038.5H313.8M304.4 1038.2H304.2V1039.0H313.8M279.7 1036.0H266.3V1038.6H304.2M304.9 1030.9H260.6V1037.3H266.3M301.6 1029.5H253.5V1034.1H260.6M268.0 1019.4H250.3V1031.8H253.5M313.8 1039.4H308.2V1039.8H313.8M250.3 1025.6H244.9V1039.6H308.2M273.1 990.2H229.0V1032.6H244.9M313.8 1041.0H303.5V1041.4H313.8M313.8 1040.6H303.0V1041.2H303.5M313.8 1042.6H302.0V1043.0H313.8M313.8 1042.2H298.7V1042.8H302.0M313.8 1043.4H305.2V1043.8H313.8M305.2 1043.6H303.9V1044.2H313.8M313.8 1044.6H304.0V1045.0H313.8M304.0 1044.8H299.8V1045.4H313.8M313.8 1045.8H299.7V1046.2H313.8M299.8 1045.1H298.3V1046.0H299.7M303.9 1043.9H294.1V1045.6H298.3M298.7 1042.5H293.0V1044.7H294.1M313.8 1046.6H307.3V1047.0H313.8M313.8 1047.4H303.7V1047.8H313.8M313.8 1048.6H306.0V1049.0H313.8M313.8 1048.2H303.1V1048.8H306.0M303.1 1048.5H302.1V1049.4H313.8M303.7 1047.6H298.8V1049.0H302.1M313.8 1049.8H304.5V1050.2H313.8M313.8 1051.0H309.7V1051.4H313.8M309.7 1051.2H305.8V1051.8H313.8M313.8 1050.6H304.9V1051.5H305.8M304.5 1050.0H303.5V1051.1H304.9M313.8 1052.2H306.0V1052.6H313.8M306.0 1052.4H304.9V1053.0H313.8M313.8 1053.4H307.8V1053.8H313.8M313.8 1054.6H305.7V1055.0H313.8M313.8 1054.2H304.2V1054.8H305.7M313.8 1055.4H305.3V1055.8H313.8M304.2 1054.5H303.1V1055.6H305.3M307.8 1053.6H302.0V1055.1H303.1M304.9 1052.7H301.8V1054.3H302.0M303.5 1050.5H299.8V1053.5H301.8M298.8 1048.3H295.6V1052.0H299.8M313.8 1056.2H305.1V1056.6H313.8M305.1 1056.4H298.6V1057.0H313.8M295.6 1050.1H292.7V1056.7H298.6M307.3 1046.8H291.8V1053.4H292.7M293.0 1043.6H289.1V1050.1H291.8M313.8 1057.4H297.4V1057.8H313.8M313.8 1058.2H302.2V1058.6H313.8M297.4 1057.6H291.1V1058.4H302.2M313.8 1059.0H294.9V1059.4H313.8M313.8 1060.2H305.2V1060.6H313.8M305.2 1060.4H295.4V1061.0H313.8M313.8 1059.8H293.0V1060.7H295.4M294.9 1059.2H292.4V1060.3H293.0M313.8 1061.4H299.4V1061.8H313.8M292.4 1059.7H291.5V1061.6H299.4M313.8 1062.2H299.3V1062.6H313.8M313.8 1063.0H302.8V1063.4H313.8M299.3 1062.4H298.2V1063.2H302.8M313.8 1064.2H305.9V1064.6H313.8M313.8 1063.8H302.9V1064.4H305.9M313.8 1065.0H306.5V1065.4H313.8M306.5 1065.2H306.1V1065.8H313.8M313.8 1066.6H301.2V1067.0H313.8M313.8 1066.2H297.5V1066.8H301.2M306.1 1065.5H294.3V1066.5H297.5M302.9 1064.1H293.1V1066.0H294.3M298.2 1062.8H292.0V1065.1H293.1M291.5 1060.7H289.7V1063.9H292.0M291.1 1058.0H289.3V1062.3H289.7M289.1 1046.9H280.5V1060.1H289.3M313.8 1041.8H275.4V1053.5H280.5M313.8 1067.4H307.5V1067.8H313.8M275.4 1047.7H269.6V1067.6H307.5M313.8 1068.2H301.5V1068.6H313.8M313.8 1069.0H302.8V1069.4H313.8M302.8 1069.2H298.2V1069.8H313.8M301.5 1068.4H297.3V1069.5H298.2M313.8 1070.2H298.2V1070.6H313.8M297.3 1069.0H291.9V1070.4H298.2M313.8 1071.0H307.1V1071.4H313.8M307.1 1071.2H298.7V1071.8H313.8M291.9 1069.7H288.8V1071.5H298.7M288.8 1070.6H287.5V1072.2H313.8M313.8 1072.6H307.4V1073.0H313.8M287.5 1071.4H286.7V1072.8H307.4M313.8 1073.8H310.2V1074.2H313.8M313.8 1073.4H287.3V1074.0H310.2M287.3 1073.7H283.8V1074.6H313.8M286.7 1072.1H273.9V1074.2H283.8M269.6 1057.6H265.3V1073.1H273.9M303.0 1040.9H263.5V1065.4H265.3M313.8 1075.0H305.5V1075.4H313.8M313.8 1075.8H302.7V1076.2H313.8M313.8 1076.6H304.6V1077.0H313.8M302.7 1076.0H301.1V1076.8H304.6M313.8 1077.4H293.0V1077.8H313.8M301.1 1076.4H291.1V1077.6H293.0M291.1 1077.0H288.9V1078.2H313.8M313.8 1079.0H307.6V1079.4H313.8M313.8 1078.6H306.8V1079.2H307.6M313.8 1080.2H304.0V1080.6H313.8M304.0 1080.4H303.6V1081.0H313.8M313.8 1079.8H302.5V1080.7H303.6M302.5 1080.3H300.7V1081.4H313.8M306.8 1078.9H296.9V1080.8H300.7M288.9 1077.6H285.8V1079.9H296.9M313.8 1081.8H307.8V1082.2H313.8M313.8 1082.6H305.7V1083.0H313.8M313.8 1083.4H305.7V1083.8H313.8M313.8 1084.6H306.4V1085.0H313.8M313.8 1084.2H301.9V1084.8H306.4M305.7 1083.6H300.1V1084.5H301.9M305.7 1082.8H298.5V1084.1H300.1M307.8 1082.0H298.3V1083.4H298.5M313.8 1085.8H307.4V1086.2H313.8M313.8 1086.6H305.0V1087.0H313.8M307.4 1086.0H303.8V1086.8H305.0M313.8 1085.4H303.4V1086.4H303.8M303.4 1085.9H300.1V1087.4H313.8M298.3 1082.7H291.7V1086.7H300.1M285.8 1078.7H283.5V1084.7H291.7M313.8 1087.8H302.9V1088.2H313.8M313.8 1089.0H307.4V1089.4H313.8M307.4 1089.2H304.9V1089.8H313.8M313.8 1088.6H303.5V1089.5H304.9M302.9 1088.0H302.4V1089.1H303.5M313.8 1090.2H300.9V1090.6H313.8M313.8 1091.0H305.8V1091.4H313.8M300.9 1090.4H300.7V1091.2H305.8M313.8 1092.2H307.9V1092.6H313.8M307.9 1092.4H305.6V1093.0H313.8M313.8 1091.8H305.4V1092.7H305.6M305.4 1092.3H302.8V1093.4H313.8M313.8 1093.8H308.9V1094.2H313.8M302.8 1092.8H295.5V1094.0H308.9M313.8 1094.6H301.2V1095.0H313.8M295.5 1093.4H293.2V1094.8H301.2M300.7 1090.8H291.6V1094.1H293.2M302.4 1088.5H281.6V1092.5H291.6M283.5 1081.7H272.0V1090.5H281.6M305.5 1075.2H268.4V1086.1H272.0M313.8 1095.4H303.9V1095.8H313.8M303.9 1095.6H299.6V1096.2H313.8M313.8 1096.6H303.2V1097.0H313.8M313.8 1097.4H301.7V1097.8H313.8M303.2 1096.8H300.8V1097.6H301.7M313.8 1098.2H309.2V1098.6H313.8M309.2 1098.4H307.8V1099.0H313.8M300.8 1097.2H297.6V1098.7H307.8M313.8 1099.4H302.5V1099.8H313.8M297.6 1098.0H296.1V1099.6H302.5M299.6 1095.9H294.6V1098.8H296.1M313.8 1100.2H306.4V1100.6H313.8M306.4 1100.4H305.2V1101.0H313.8M294.6 1097.3H293.7V1100.7H305.2M293.7 1099.0H292.0V1101.4H313.8M313.8 1102.2H305.1V1102.6H313.8M313.8 1103.0H305.2V1103.4H313.8M305.1 1102.4H299.2V1103.2H305.2M313.8 1103.8H305.1V1104.2H313.8M299.2 1102.8H298.5V1104.0H305.1M313.8 1101.8H296.5V1103.4H298.5M313.8 1104.6H302.5V1105.0H313.8M313.8 1105.4H303.4V1105.8H313.8M302.5 1104.8H301.0V1105.6H303.4M296.5 1102.6H294.7V1105.2H301.0M292.0 1100.2H287.3V1103.9H294.7M313.8 1106.6H305.7V1107.0H313.8M313.8 1106.2H293.4V1106.8H305.7M313.8 1107.4H303.7V1107.8H313.8M313.8 1108.2H303.9V1108.6H313.8M313.8 1109.0H304.7V1109.4H313.8M303.9 1108.4H300.8V1109.2H304.7M313.8 1109.8H306.5V1110.2H313.8M313.8 1110.6H305.7V1111.0H313.8M306.5 1110.0H305.5V1110.8H305.7M313.8 1111.4H304.0V1111.8H313.8M313.8 1112.6H306.9V1113.0H313.8M313.8 1112.2H304.4V1112.8H306.9M313.8 1113.4H305.6V1113.8H313.8M313.8 1114.2H305.2V1114.6H313.8M305.6 1113.6H304.6V1114.4H305.2M304.4 1112.5H303.9V1114.0H304.6M304.0 1111.6H302.1V1113.2H303.9M305.5 1110.4H301.4V1112.4H302.1M313.8 1115.0H303.2V1115.4H313.8M301.4 1111.4H300.6V1115.2H303.2M313.8 1115.8H303.9V1116.2H313.8M313.8 1117.0H306.7V1117.4H313.8M313.8 1116.6H305.6V1117.2H306.7M313.8 1117.8H307.4V1118.2H313.8M305.6 1116.9H305.5V1118.0H307.4M313.8 1119.0H308.0V1119.4H313.8M313.8 1118.6H307.3V1119.2H308.0M305.5 1117.5H304.9V1118.9H307.3M313.8 1120.2H308.1V1120.6H313.8M313.8 1119.8H304.8V1120.4H308.1M304.9 1118.2H303.6V1120.1H304.8M303.9 1116.0H303.1V1119.1H303.6M300.6 1113.3H299.7V1117.6H303.1M313.8 1121.4H308.5V1121.8H313.8M313.8 1121.0H300.5V1121.6H308.5M299.7 1115.4H298.4V1121.3H300.5M300.8 1108.8H296.1V1118.4H298.4M313.8 1122.2H305.3V1122.6H313.8M296.1 1113.6H293.5V1122.4H305.3M303.7 1107.6H291.9V1118.0H293.5M313.8 1123.0H306.0V1123.4H313.8M291.9 1112.8H291.6V1123.2H306.0M313.8 1123.8H300.0V1124.2H313.8M313.8 1125.0H307.9V1125.4H313.8M313.8 1124.6H301.8V1125.2H307.9M313.8 1126.2H304.6V1126.6H313.8M313.8 1127.0H306.9V1127.4H313.8M306.9 1127.2H304.8V1127.8H313.8M304.8 1127.5H303.9V1128.2H313.8M304.6 1126.4H301.8V1127.9H303.9M313.8 1125.8H300.5V1127.1H301.8M313.8 1129.0H307.8V1129.4H313.8M313.8 1128.6H306.5V1129.2H307.8M313.8 1129.8H306.3V1130.2H313.8M306.5 1128.9H304.5V1130.0H306.3M313.8 1131.0H307.7V1131.4H313.8M307.7 1131.2H307.1V1131.8H313.8M313.8 1130.6H305.6V1131.5H307.1M305.6 1131.1H304.5V1132.2H313.8M304.5 1129.5H301.4V1131.6H304.5M300.5 1126.5H298.3V1130.5H301.4M301.8 1124.9H297.8V1128.5H298.3M300.0 1124.0H296.0V1126.7H297.8M313.8 1132.6H300.0V1133.0H313.8M313.8 1133.8H306.4V1134.2H313.8M313.8 1134.6H306.2V1135.0H313.8M306.4 1134.0H305.1V1134.8H306.2M313.8 1135.4H300.3V1135.8H313.8M305.1 1134.4H300.2V1135.6H300.3M313.8 1136.6H306.3V1137.0H313.8M313.8 1136.2H305.6V1136.8H306.3M300.2 1135.0H298.0V1136.5H305.6M313.8 1133.4H296.2V1135.8H298.0M300.0 1132.8H295.6V1134.6H296.2M296.0 1125.4H292.3V1133.7H295.6M313.8 1137.4H305.5V1137.8H313.8M305.5 1137.6H296.4V1138.2H313.8M292.3 1129.5H289.4V1137.9H296.4M291.6 1118.0H285.5V1133.7H289.4M313.8 1138.6H305.1V1139.0H313.8M285.5 1125.9H283.7V1138.8H305.1M293.4 1106.5H282.1V1132.3H283.7M287.3 1102.1H276.2V1119.4H282.1M268.4 1080.6H266.2V1110.7H276.2M313.8 1140.2H307.1V1140.6H313.8M313.8 1139.8H306.6V1140.4H307.1M313.8 1139.4H306.5V1140.1H306.6M266.2 1095.7H263.5V1139.8H306.5M263.5 1053.1H254.8V1117.7H263.5M254.8 1085.4H249.4V1141.0H313.8M313.8 1040.2H242.8V1113.2H249.4M242.8 1076.7H237.1V1141.4H313.8M313.8 1141.8H304.4V1142.2H313.8M304.4 1142.0H303.7V1142.6H313.8M313.8 1143.0H307.0V1143.4H313.8M307.0 1143.2H305.6V1143.8H313.8M313.8 1144.2H307.1V1144.6H313.8M307.1 1144.4H305.1V1145.0H313.8M305.6 1143.5H299.9V1144.7H305.1M303.7 1142.3H298.5V1144.1H299.9M313.8 1145.4H302.3V1145.8H313.8M302.3 1145.6H297.5V1146.2H313.8M313.8 1147.0H309.1V1147.4H313.8M313.8 1146.6H300.8V1147.2H309.1M313.8 1147.8H302.7V1148.2H313.8M300.8 1146.9H289.2V1148.0H302.7M313.8 1148.6H307.5V1149.0H313.8M307.5 1148.8H305.3V1149.4H313.8M289.2 1147.5H288.0V1149.1H305.3M313.8 1149.8H299.4V1150.2H313.8M288.0 1148.3H287.5V1150.0H299.4M297.5 1145.9H286.8V1149.1H287.5M313.8 1150.6H304.6V1151.0H313.8M304.6 1150.8H299.2V1151.4H313.8M313.8 1151.8H308.8V1152.2H313.8M299.2 1151.1H299.0V1152.0H308.8M313.8 1152.6H304.7V1153.0H313.8M313.8 1153.8H307.8V1154.2H313.8M313.8 1153.4H305.5V1154.0H307.8M304.7 1152.8H299.3V1153.7H305.5M313.8 1154.6H299.4V1155.0H313.8M299.3 1153.2H297.9V1154.8H299.4M299.0 1151.5H295.3V1154.0H297.9M313.8 1156.2H309.1V1156.6H313.8M313.8 1155.8H301.8V1156.4H309.1M313.8 1155.4H300.2V1156.1H301.8M313.8 1157.0H303.2V1157.4H313.8M313.8 1157.8H308.4V1158.2H313.8M303.2 1157.2H297.7V1158.0H308.4M300.2 1155.8H296.6V1157.6H297.7M295.3 1152.8H292.0V1156.7H296.6M286.8 1147.5H275.6V1154.7H292.0M298.5 1143.2H273.4V1151.1H275.6M313.8 1158.6H308.5V1159.0H313.8M313.8 1160.2H304.2V1160.6H313.8M313.8 1159.8H298.9V1160.4H304.2M298.9 1160.1H295.1V1161.0H313.8M313.8 1161.4H301.3V1161.8H313.8M313.8 1162.2H306.6V1162.6H313.8M313.8 1163.0H307.6V1163.4H313.8M306.6 1162.4H305.8V1163.2H307.6M313.8 1163.8H305.9V1164.2H313.8M313.8 1165.0H308.3V1165.4H313.8M313.8 1164.6H307.4V1165.2H308.3M305.9 1164.0H305.6V1164.9H307.4M305.8 1162.8H292.8V1164.4H305.6M301.3 1161.6H290.7V1163.6H292.8M295.1 1160.5H287.2V1162.6H290.7M313.8 1165.8H306.5V1166.2H313.8M287.2 1161.6H286.1V1166.0H306.5M313.8 1159.4H282.9V1163.8H286.1M308.5 1158.8H280.2V1161.6H282.9M313.8 1166.6H302.3V1167.0H313.8M313.8 1167.4H303.5V1167.8H313.8M302.3 1166.8H294.9V1167.6H303.5M313.8 1168.2H305.7V1168.6H313.8M305.7 1168.4H304.0V1169.0H313.8M313.8 1169.4H297.4V1169.8H313.8M304.0 1168.7H296.7V1169.6H297.4M313.8 1170.2H303.5V1170.6H313.8M313.8 1171.0H296.4V1171.4H313.8M303.5 1170.4H294.9V1171.2H296.4M294.9 1170.8H294.6V1171.8H313.8M313.8 1172.2H308.3V1172.6H313.8M308.3 1172.4H306.0V1173.0H313.8M294.6 1171.3H292.9V1172.7H306.0M296.7 1169.1H291.4V1172.0H292.9M294.9 1167.2H289.3V1170.6H291.4M280.2 1160.2H275.8V1168.9H289.3M313.8 1173.4H307.0V1173.8H313.8M307.0 1173.6H301.3V1174.2H313.8M313.8 1174.6H299.7V1175.0H313.8M313.8 1175.4H305.6V1175.8H313.8M305.6 1175.6H305.2V1176.2H313.8M305.2 1175.9H302.7V1176.6H313.8M299.7 1174.8H298.8V1176.2H302.7M301.3 1173.9H298.2V1175.5H298.8M313.8 1177.0H302.3V1177.4H313.8M298.2 1174.7H296.7V1177.2H302.3M275.8 1164.5H268.9V1176.0H296.7M313.8 1177.8H301.8V1178.2H313.8M313.8 1179.0H302.9V1179.4H313.8M313.8 1181.4H305.1V1181.8H313.8M313.8 1181.0H301.8V1181.6H305.1M301.8 1181.3H300.8V1182.2H313.8M313.8 1182.6H306.6V1183.0H313.8M313.8 1183.4H305.3V1183.8H313.8M306.6 1182.8H303.4V1183.6H305.3M313.8 1184.2H305.0V1184.6H313.8M305.0 1184.4H302.7V1185.0H313.8M313.8 1185.4H306.9V1185.8H313.8M302.7 1184.7H301.2V1185.6H306.9M303.4 1183.2H299.3V1185.2H301.2M300.8 1181.8H296.4V1184.2H299.3M313.8 1180.6H295.5V1183.0H296.4M313.8 1180.2H294.7V1181.8H295.5M313.8 1186.2H305.5V1186.6H313.8M313.8 1187.0H304.1V1187.4H313.8M305.5 1186.4H303.9V1187.2H304.1M313.8 1187.8H304.8V1188.2H313.8M313.8 1188.6H302.9V1189.0H313.8M304.8 1188.0H301.7V1188.8H302.9M303.9 1186.8H298.6V1188.4H301.7M294.7 1181.0H293.8V1187.6H298.6M313.8 1189.4H293.3V1189.8H313.8M313.8 1190.2H302.5V1190.6H313.8M302.5 1190.4H297.1V1191.0H313.8M293.3 1189.6H293.0V1190.7H297.1M313.8 1191.4H305.0V1191.8H313.8M293.0 1190.2H292.6V1191.6H305.0M293.8 1184.3H286.8V1190.9H292.6M313.8 1179.8H283.0V1187.6H286.8M313.8 1192.6H304.0V1193.0H313.8M313.8 1192.2H297.7V1192.8H304.0M297.7 1192.5H295.8V1193.4H313.8M283.0 1183.7H281.3V1192.9H295.8M302.9 1179.2H276.3V1188.3H281.3M313.8 1193.8H307.8V1194.2H313.8M313.8 1195.0H303.4V1195.4H313.8M313.8 1194.6H302.0V1195.2H303.4M302.0 1194.9H289.9V1195.8H313.8M313.8 1196.2H302.4V1196.6H313.8M313.8 1197.4H304.2V1197.8H313.8M313.8 1198.6H307.2V1199.0H313.8M313.8 1198.2H302.1V1198.8H307.2M304.2 1197.6H301.7V1198.5H302.1M313.8 1197.0H301.0V1198.0H301.7M302.4 1196.4H299.7V1197.5H301.0M313.8 1199.4H300.0V1199.8H313.8M313.8 1200.6H306.9V1201.1H313.8M313.8 1200.2H305.0V1200.8H306.9M300.0 1199.6H297.0V1200.5H305.0M299.7 1197.0H286.0V1200.1H297.0M289.9 1195.3H282.9V1198.5H286.0M313.8 1202.0H301.4V1202.4H313.8M313.8 1201.6H298.7V1202.2H301.4M282.9 1196.9H281.5V1201.9H298.7M307.8 1194.0H279.5V1199.4H281.5M276.3 1183.8H270.3V1196.7H279.5M313.8 1178.6H269.4V1190.2H270.3M301.8 1178.0H268.9V1184.4H269.4M313.8 1202.8H306.5V1203.2H313.8M313.8 1203.6H305.3V1204.0H313.8M306.5 1203.0H297.7V1203.8H305.3M268.9 1181.2H263.9V1203.4H297.7M268.9 1170.2H254.1V1192.3H263.9M254.1 1181.3H249.3V1204.4H313.8M249.3 1192.8H246.7V1204.8H313.8M273.4 1147.2H241.8V1198.8H246.7M237.1 1109.1H222.1V1173.0H241.8M313.8 1205.2H307.9V1205.6H313.8M313.8 1206.0H304.1V1206.4H313.8M304.1 1206.2H303.8V1206.8H313.8M307.9 1205.4H302.7V1206.5H303.8M313.8 1207.2H304.3V1207.6H313.8M304.3 1207.4H301.9V1208.0H313.8M313.8 1208.4H304.8V1208.8H313.8M313.8 1209.2H294.6V1209.6H313.8M304.8 1208.6H294.0V1209.4H294.6M313.8 1210.4H303.3V1210.8H313.8M313.8 1210.0H294.0V1210.6H303.3M294.0 1209.0H292.6V1210.3H294.0M301.9 1207.7H288.3V1209.7H292.6M313.8 1211.6H306.7V1212.0H313.8M313.8 1211.2H305.1V1211.8H306.7M313.8 1212.4H305.5V1212.8H313.8M305.1 1211.5H294.6V1212.6H305.5M288.3 1208.7H286.8V1212.1H294.6M302.7 1206.0H261.8V1210.4H286.8M313.8 1213.6H306.7V1214.0H313.8M313.8 1213.2H298.4V1213.8H306.7M313.8 1214.4H293.6V1214.8H313.8M298.4 1213.5H290.9V1214.6H293.6M313.8 1215.2H305.2V1215.6H313.8M305.2 1215.4H301.9V1216.0H313.8M290.9 1214.1H280.8V1215.7H301.9M313.8 1217.2H302.1V1217.6H313.8M313.8 1216.8H301.5V1217.4H302.1M313.8 1216.4H295.8V1217.1H301.5M295.8 1216.8H294.6V1218.0H313.8M313.8 1218.4H304.0V1218.8H313.8M304.0 1218.6H292.7V1219.2H313.8M294.6 1217.4H282.0V1218.9H292.7M313.8 1219.6H300.9V1220.0H313.8M313.8 1220.4H308.5V1220.8H313.8M313.8 1221.2H302.7V1221.6H313.8M308.5 1220.6H302.0V1221.4H302.7M300.9 1219.8H291.5V1221.0H302.0M313.8 1222.4H305.2V1222.8H313.8M313.8 1222.0H300.2V1222.6H305.2M291.5 1220.4H290.9V1222.3H300.2M313.8 1223.2H307.7V1223.6H313.8M290.9 1221.4H288.9V1223.4H307.7M282.0 1218.1H278.7V1222.4H288.9M280.8 1214.9H272.5V1220.3H278.7M261.8 1208.2H259.0V1217.6H272.5M313.8 1224.4H303.9V1224.8H313.8M313.8 1224.0H301.0V1224.6H303.9M313.8 1225.6H302.5V1226.0H313.8M313.8 1226.4H302.9V1226.8H313.8M302.9 1226.6H300.5V1227.2H313.8M302.5 1225.8H298.1V1226.9H300.5M313.8 1227.6H302.1V1228.0H313.8M298.1 1226.4H296.9V1227.8H302.1M313.8 1228.8H309.3V1229.2H313.8M313.8 1228.4H307.8V1229.0H309.3M296.9 1227.1H294.9V1228.7H307.8M313.8 1225.2H294.4V1227.9H294.9M313.8 1229.6H305.5V1230.0H313.8M313.8 1230.4H293.6V1230.8H313.8M305.5 1229.8H290.3V1230.6H293.6M294.4 1226.5H288.8V1230.2H290.3M313.8 1231.6H301.4V1232.0H313.8M313.8 1232.4H300.9V1232.8H313.8M301.4 1231.8H299.3V1232.6H300.9M313.8 1233.2H306.4V1233.6H313.8M313.8 1234.0H305.0V1234.4H313.8M306.4 1233.4H303.9V1234.2H305.0M313.8 1234.8H308.4V1235.2H313.8M303.9 1233.8H297.4V1235.0H308.4M299.3 1232.2H297.1V1234.4H297.4M313.8 1236.4H308.8V1236.8H313.8M313.8 1236.0H306.7V1236.6H308.8M313.8 1235.6H297.8V1236.3H306.7M297.1 1233.3H292.3V1236.0H297.8M313.8 1231.2H291.2V1234.6H292.3M288.8 1228.4H281.9V1232.9H291.2M313.8 1237.6H306.9V1238.0H313.8M313.8 1238.8H303.8V1239.2H313.8M313.8 1238.4H300.8V1239.0H303.8M300.8 1238.7H297.5V1239.6H313.8M313.8 1240.4H303.0V1240.8H313.8M313.8 1240.0H301.2V1240.6H303.0M297.5 1239.2H295.5V1240.3H301.2M306.9 1237.8H280.4V1239.7H295.5M313.8 1237.2H278.6V1238.8H280.4M281.9 1230.6H270.2V1238.0H278.6M313.8 1241.6H304.6V1242.0H313.8M313.8 1241.2H297.5V1241.8H304.6M270.2 1234.3H267.2V1241.5H297.5M301.0 1224.3H262.9V1237.9H267.2M262.9 1231.1H259.6V1242.4H313.8M313.8 1243.2H305.6V1243.6H313.8M313.8 1242.8H302.3V1243.4H305.6M302.3 1243.1H300.6V1244.0H313.8M259.6 1236.8H251.0V1243.6H300.6M313.8 1245.2H308.8V1245.6H313.8M313.8 1244.8H304.2V1245.4H308.8M313.8 1244.4H300.4V1245.1H304.2M251.0 1240.2H248.1V1244.8H300.4M313.8 1246.0H300.9V1246.4H313.8M300.9 1246.2H299.2V1246.8H313.8M299.2 1246.5H295.4V1247.2H313.8M313.8 1247.6H305.6V1248.0H313.8M305.6 1247.8H302.3V1248.4H313.8M295.4 1246.8H293.6V1248.1H302.3M313.8 1249.6H306.7V1250.0H313.8M313.8 1249.2H304.9V1249.8H306.7M313.8 1248.8H301.5V1249.5H304.9M313.8 1251.2H299.8V1251.6H313.8M299.8 1251.4H296.9V1252.0H313.8M313.8 1250.8H291.1V1251.7H296.9M313.8 1252.4H298.5V1252.8H313.8M313.8 1253.2H306.6V1253.6H313.8M306.6 1253.4H303.0V1254.0H313.8M298.5 1252.6H288.1V1253.7H303.0M291.1 1251.2H286.5V1253.1H288.1M313.8 1254.8H300.7V1255.2H313.8M313.8 1254.4H299.8V1255.0H300.7M286.5 1252.2H285.3V1254.7H299.8M313.8 1250.4H284.9V1253.4H285.3M284.9 1251.9H284.3V1255.6H313.8M313.8 1256.0H305.8V1256.4H313.8M305.8 1256.2H304.1V1256.8H313.8M284.3 1253.8H281.1V1256.5H304.1M301.5 1249.2H280.3V1255.1H281.1M293.6 1247.5H277.3V1252.1H280.3M248.1 1242.5H238.7V1249.8H277.3M259.0 1212.9H211.3V1246.1H238.7M222.1 1141.0H194.6V1229.5H211.3M229.0 1011.4H182.6V1185.3H194.6M210.1 976.4H171.8V1098.3H182.6M313.8 1257.6H304.7V1258.0H313.8M313.8 1257.2H303.9V1257.8H304.7M303.9 1257.5H300.5V1258.4H313.8M313.8 1258.8H290.1V1259.2H313.8M300.5 1258.0H289.7V1259.0H290.1M313.8 1259.6H301.3V1260.0H313.8M313.8 1260.4H297.5V1260.8H313.8M297.5 1260.6H296.2V1261.2H313.8M301.3 1259.8H295.3V1260.9H296.2M313.8 1261.6H307.9V1262.0H313.8M313.8 1262.4H304.0V1262.8H313.8M304.0 1262.6H300.5V1263.2H313.8M307.9 1261.8H290.3V1262.9H300.5M295.3 1260.4H282.0V1262.4H290.3M282.0 1261.4H278.9V1263.6H313.8M289.7 1258.5H261.1V1262.5H278.9M313.8 1264.0H303.6V1264.4H313.8M303.6 1264.2H297.9V1264.8H313.8M261.1 1260.5H255.3V1264.5H297.9M313.8 1265.2H292.3V1265.6H313.8M313.8 1266.0H300.7V1266.4H313.8M313.8 1266.8H298.6V1267.2H313.8M300.7 1266.2H291.8V1267.0H298.6M292.3 1265.4H290.1V1266.6H291.8M313.8 1267.6H306.0V1268.0H313.8M290.1 1266.0H288.7V1267.8H306.0M313.8 1268.4H307.6V1268.8H313.8M288.7 1266.9H288.3V1268.6H307.6M313.8 1269.2H308.2V1269.6H313.8M313.8 1270.0H304.8V1270.4H313.8M308.2 1269.4H293.8V1270.2H304.8M288.3 1267.8H274.8V1269.8H293.8M313.8 1270.8H304.7V1271.2H313.8M313.8 1271.6H301.4V1272.0H313.8M313.8 1272.8H307.0V1273.2H313.8M313.8 1272.4H305.8V1273.0H307.0M305.8 1272.7H305.1V1273.6H313.8M301.4 1271.8H297.4V1273.1H305.1M304.7 1271.0H296.6V1272.5H297.4M313.8 1274.4H307.0V1274.8H313.8M313.8 1274.0H303.3V1274.6H307.0M313.8 1275.6H307.9V1276.0H313.8M313.8 1275.2H304.3V1275.8H307.9M313.8 1276.8H305.8V1277.2H313.8M313.8 1276.4H302.9V1277.0H305.8M304.3 1275.5H301.4V1276.7H302.9M303.3 1274.3H301.2V1276.1H301.4M313.8 1277.6H305.8V1278.0H313.8M305.8 1277.8H303.9V1278.4H313.8M301.2 1275.2H286.1V1278.1H303.9M313.8 1278.8H301.8V1279.2H313.8M313.8 1279.6H306.5V1280.0H313.8M306.5 1279.8H301.1V1280.3H313.8M301.8 1279.0H298.8V1280.0H301.1M286.1 1276.7H276.6V1279.5H298.8M296.6 1271.7H273.1V1278.1H276.6M274.8 1268.8H262.0V1274.9H273.1M313.8 1280.6H301.4V1281.0H313.8M301.4 1280.8H298.5V1281.4H313.8M298.5 1281.1H297.7V1281.8H313.8M262.0 1271.8H255.0V1281.5H297.7M255.3 1262.5H172.1V1276.6H255.0M313.8 1282.2H306.6V1282.6H313.8M313.8 1283.0H304.2V1283.4H313.8M306.6 1282.4H303.9V1283.2H304.2M313.8 1283.8H302.9V1284.2H313.8M313.8 1285.4H301.3V1285.8H313.8M301.3 1285.6H297.9V1286.2H313.8M313.8 1285.0H297.7V1285.9H297.9M297.7 1285.5H297.1V1286.6H313.8M313.8 1284.6H295.4V1286.0H297.1M302.9 1284.0H294.0V1285.3H295.4M303.9 1282.8H287.5V1284.7H294.0M313.8 1287.0H291.6V1287.4H313.8M313.8 1287.8H306.0V1288.2H313.8M306.0 1288.0H295.7V1288.6H313.8M291.6 1287.2H290.6V1288.3H295.7M313.8 1289.8H302.5V1290.2H313.8M313.8 1289.4H299.4V1290.0H302.5M313.8 1289.0H297.2V1289.7H299.4M290.6 1287.8H273.2V1289.4H297.2M313.8 1290.6H304.6V1291.0H313.8M304.6 1290.8H304.2V1291.4H313.8M304.2 1291.1H301.1V1291.8H313.8M273.2 1288.6H269.6V1291.5H301.1M287.5 1283.7H218.0V1290.0H269.6M313.8 1292.6H306.9V1293.0H313.8M313.8 1292.2H296.2V1292.8H306.9M313.8 1293.4H302.5V1293.8H313.8M302.5 1293.6H300.5V1294.2H313.8M296.2 1292.5H293.6V1293.9H300.5M313.8 1295.0H305.0V1295.4H313.8M313.8 1295.8H308.6V1296.2H313.8M308.6 1296.0H307.3V1296.6H313.8M307.3 1296.3H305.8V1297.0H313.8M305.8 1296.7H300.2V1297.4H313.8M305.0 1295.2H288.0V1297.0H300.2M313.8 1294.6H287.3V1296.1H288.0M313.8 1298.2H303.7V1298.6H313.8M313.8 1297.8H301.0V1298.4H303.7M287.3 1295.4H286.5V1298.1H301.0M313.8 1299.0H305.5V1299.4H313.8M305.5 1299.2H303.0V1299.8H313.8M286.5 1296.7H284.0V1299.5H303.0M293.6 1293.2H232.0V1298.1H284.0M313.8 1300.2H298.1V1300.6H313.8M313.8 1301.0H305.5V1301.4H313.8M298.1 1300.4H297.4V1301.2H305.5M313.8 1302.2H299.0V1302.6H313.8M313.8 1301.8H289.7V1302.4H299.0M313.8 1303.0H297.6V1303.4H313.8M313.8 1303.8H303.6V1304.2H313.8M297.6 1303.2H296.5V1304.0H303.6M296.5 1303.6H296.1V1304.6H313.8M313.8 1305.0H307.2V1305.4H313.8M313.8 1305.8H305.7V1306.2H313.8M313.8 1306.6H307.1V1307.0H313.8M305.7 1306.0H304.5V1306.8H307.1M313.8 1307.4H305.2V1307.8H313.8M304.5 1306.4H304.0V1307.6H305.2M307.2 1305.2H295.7V1307.0H304.0M296.1 1304.1H288.6V1306.1H295.7M289.7 1302.1H282.0V1305.1H288.6M313.8 1308.2H305.4V1308.6H313.8M313.8 1309.4H308.5V1309.8H313.8M313.8 1310.2H306.3V1310.6H313.8M313.8 1311.4H306.7V1311.8H313.8M313.8 1311.0H300.6V1311.6H306.7M306.3 1310.4H298.8V1311.3H300.6M308.5 1309.6H293.4V1310.9H298.8M313.8 1309.0H291.9V1310.2H293.4M313.8 1312.6H304.3V1313.0H313.8M313.8 1313.8H305.4V1314.2H313.8M313.8 1313.4H305.1V1314.0H305.4M313.8 1314.6H307.6V1315.0H313.8M305.1 1313.7H302.0V1314.8H307.6M304.3 1312.8H298.7V1314.3H302.0M313.8 1312.2H297.0V1313.5H298.7M313.8 1315.4H305.1V1315.8H313.8M297.0 1312.9H295.1V1315.6H305.1M313.8 1316.2H305.5V1316.6H313.8M295.1 1314.2H294.1V1316.4H305.5M291.9 1309.6H286.1V1315.3H294.1M305.4 1308.4H285.6V1312.5H286.1M282.0 1303.6H276.5V1310.4H285.6M313.8 1317.0H309.4V1317.4H313.8M309.4 1317.2H299.5V1317.8H313.8M299.5 1317.5H297.9V1318.2H313.8M276.5 1307.0H272.6V1317.8H297.9M313.8 1318.6H308.3V1319.0H313.8M272.6 1312.4H270.5V1318.8H308.3M313.8 1319.4H306.9V1319.8H313.8M306.9 1319.6H304.9V1320.2H313.8M313.8 1320.6H307.1V1321.0H313.8M307.1 1320.8H305.1V1321.4H313.8M313.8 1322.2H307.1V1322.6H313.8M307.1 1322.4H304.8V1323.0H313.8M313.8 1321.8H302.4V1322.7H304.8M305.1 1321.1H299.1V1322.2H302.4M304.9 1319.9H288.9V1321.7H299.1M313.8 1323.4H304.4V1323.8H313.8M313.8 1324.2H299.3V1324.6H313.8M304.4 1323.6H298.7V1324.4H299.3M298.7 1324.0H298.0V1325.0H313.8M313.8 1325.4H301.7V1325.8H313.8M298.0 1324.5H297.4V1325.6H301.7M313.8 1326.2H298.5V1326.6H313.8M298.5 1326.4H295.1V1327.0H313.8M297.4 1325.0H282.9V1326.7H295.1M313.8 1327.8H308.7V1328.2H313.8M313.8 1327.4H295.5V1328.0H308.7M313.8 1329.0H306.3V1329.4H313.8M306.3 1329.2H303.4V1329.8H313.8M313.8 1328.6H286.5V1329.5H303.4M295.5 1327.7H282.2V1329.0H286.5M282.9 1325.9H278.1V1328.4H282.2M278.1 1327.1H274.2V1330.2H313.8M288.9 1320.8H261.2V1328.7H274.2M270.5 1315.6H240.5V1324.7H261.2M297.4 1300.8H238.0V1320.2H240.5M313.8 1331.0H302.3V1331.4H313.8M313.8 1332.2H306.5V1332.6H313.8M306.5 1332.4H304.4V1333.0H313.8M313.8 1331.8H303.4V1332.7H304.4M313.8 1333.4H304.8V1333.8H313.8M304.8 1333.6H303.8V1334.2H313.8M303.8 1333.9H301.5V1334.6H313.8M303.4 1332.3H299.7V1334.2H301.5M313.8 1335.0H301.6V1335.4H313.8M301.6 1335.2H300.8V1335.8H313.8M313.8 1336.2H303.1V1336.6H313.8M303.1 1336.4H298.2V1337.0H313.8M300.8 1335.5H297.4V1336.7H298.2M313.8 1337.4H306.8V1337.8H313.8M313.8 1338.6H306.8V1339.0H313.8M313.8 1338.2H305.0V1338.8H306.8M313.8 1339.8H307.2V1340.2H313.8M313.8 1339.4H306.7V1340.0H307.2M305.0 1338.5H303.9V1339.7H306.7M306.8 1337.6H299.9V1339.1H303.9M297.4 1336.1H290.4V1338.4H299.9M299.7 1333.2H279.1V1337.2H290.4M302.3 1331.2H277.7V1335.2H279.1M313.8 1340.6H306.4V1341.0H313.8M306.4 1340.8H295.8V1341.4H313.8M295.8 1341.1H292.4V1341.8H313.8M313.8 1342.2H304.4V1342.6H313.8M313.8 1343.0H305.5V1343.4H313.8M304.4 1342.4H303.9V1343.2H305.5M313.8 1343.8H308.1V1344.2H313.8M313.8 1344.6H296.2V1345.0H313.8M308.1 1344.0H293.8V1344.8H296.2M303.9 1342.8H291.4V1344.4H293.8M313.8 1345.8H303.5V1346.2H313.8M313.8 1345.4H298.8V1346.0H303.5M291.4 1343.6H289.7V1345.7H298.8M313.8 1347.0H307.1V1347.4H313.8M313.8 1346.6H303.0V1347.2H307.1M289.7 1344.7H287.2V1346.9H303.0M313.8 1347.8H305.4V1348.2H313.8M313.8 1348.6H304.1V1349.0H313.8M304.1 1348.8H302.9V1349.4H313.8M302.9 1349.1H295.0V1349.8H313.8M305.4 1348.0H294.7V1349.4H295.0M313.8 1350.2H303.8V1350.6H313.8M313.8 1351.0H307.0V1351.4H313.8M307.0 1351.2H298.2V1351.8H313.8M313.8 1352.2H306.2V1352.6H313.8M298.2 1351.5H297.4V1352.4H306.2M303.8 1350.4H289.1V1352.0H297.4M294.7 1348.7H286.2V1351.2H289.1M287.2 1345.8H276.7V1350.0H286.2M313.8 1353.0H305.3V1353.4H313.8M313.8 1353.8H306.1V1354.2H313.8M313.8 1354.6H308.9V1355.0H313.8M308.9 1354.8H307.7V1355.4H313.8M306.1 1354.0H305.6V1355.1H307.7M313.8 1355.8H305.1V1356.2H313.8M313.8 1356.6H307.0V1357.0H313.8M307.0 1356.8H304.9V1357.4H313.8M305.1 1356.0H304.2V1357.1H304.9M313.8 1357.8H303.2V1358.2H313.8M304.2 1356.5H293.0V1358.0H303.2M313.8 1359.0H306.7V1359.4H313.8M313.8 1358.6H298.7V1359.2H306.7M313.8 1359.8H296.4V1360.2H313.8M298.7 1358.9H295.2V1360.0H296.4M293.0 1357.3H290.6V1359.5H295.2M305.6 1354.5H288.5V1358.4H290.6M313.8 1361.4H309.1V1361.8H313.8M309.1 1361.6H307.6V1362.2H313.8M313.8 1361.0H307.5V1361.9H307.6M313.8 1360.6H305.7V1361.5H307.5M288.5 1356.5H285.7V1361.0H305.7M313.8 1363.0H305.0V1363.4H313.8M313.8 1362.6H303.8V1363.2H305.0M313.8 1364.2H302.0V1364.6H313.8M313.8 1363.8H297.8V1364.4H302.0M297.8 1364.1H296.2V1365.0H313.8M303.8 1362.9H288.3V1364.5H296.2M313.8 1365.4H291.2V1365.8H313.8M288.3 1363.7H285.5V1365.6H291.2M285.7 1358.7H276.0V1364.7H285.5M313.8 1366.2H304.5V1366.6H313.8M276.0 1361.7H272.2V1366.4H304.5M305.3 1353.2H271.5V1364.1H272.2M276.7 1347.9H264.3V1358.6H271.5M292.4 1341.5H256.5V1353.2H264.3M277.7 1333.2H220.3V1347.3H256.5M313.8 1330.6H216.6V1340.3H220.3M313.8 1367.4H301.7V1367.8H313.8M313.8 1367.0H299.5V1367.6H301.7M216.6 1335.4H215.5V1367.3H299.5M238.0 1310.5H208.0V1351.4H215.5M313.8 1368.2H295.4V1368.6H313.8M313.8 1369.0H305.4V1369.4H313.8M295.4 1368.4H295.0V1369.2H305.4M313.8 1369.8H304.5V1370.2H313.8M313.8 1370.6H305.5V1371.0H313.8M313.8 1371.4H305.0V1371.8H313.8M313.8 1372.2H304.3V1372.6H313.8M305.0 1371.6H303.6V1372.4H304.3M305.5 1370.8H302.6V1372.0H303.6M304.5 1370.0H297.7V1371.4H302.6M295.0 1368.8H279.1V1370.7H297.7M313.8 1373.8H306.9V1374.2H313.8M313.8 1373.4H306.6V1374.0H306.9M313.8 1373.0H305.3V1373.7H306.6M313.8 1375.0H300.7V1375.4H313.8M313.8 1374.6H297.7V1375.2H300.7M305.3 1373.3H288.8V1374.9H297.7M279.1 1369.8H250.2V1374.1H288.8M313.8 1376.2H307.8V1376.6H313.8M313.8 1375.8H300.5V1376.4H307.8M313.8 1377.0H301.8V1377.4H313.8M313.8 1378.6H305.6V1379.0H313.8M313.8 1378.2H304.2V1378.8H305.6M313.8 1377.8H303.1V1378.5H304.2M301.8 1377.2H300.8V1378.2H303.1M300.5 1376.1H285.9V1377.7H300.8M313.8 1379.4H303.2V1379.8H313.8M285.9 1376.9H285.3V1379.6H303.2M250.2 1371.9H203.9V1378.2H285.3M208.0 1330.9H176.2V1375.1H203.9M232.0 1295.7H168.6V1353.0H176.2M218.0 1286.9H148.6V1324.3H168.6M172.1 1269.6H142.1V1305.6H148.6M171.8 1037.4H137.4V1287.6H142.1M145.5 903.1H129.9V1162.5H137.4M313.8 1380.2H306.2V1380.6H313.8M313.8 1381.0H304.7V1381.4H313.8M306.2 1380.4H299.3V1381.2H304.7M313.8 1381.8H305.5V1382.2H313.8M299.3 1380.8H298.0V1382.0H305.5M313.8 1383.0H309.1V1383.4H313.8M313.8 1382.6H307.1V1383.2H309.1M307.1 1382.9H306.4V1383.8H313.8M298.0 1381.4H240.0V1383.3H306.4M313.8 1384.2H305.4V1384.6H313.8M305.4 1384.4H298.2V1385.0H313.8M313.8 1385.4H305.4V1385.8H313.8M305.4 1385.6H301.2V1386.2H313.8M301.2 1385.9H299.9V1386.6H313.8M298.2 1384.7H295.8V1386.2H299.9M313.8 1387.0H302.1V1387.4H313.8M313.8 1387.8H307.0V1388.2H313.8M302.1 1387.2H300.5V1388.0H307.0M295.8 1385.5H287.3V1387.6H300.5M313.8 1388.6H307.7V1389.0H313.8M313.8 1389.4H299.2V1389.8H313.8M307.7 1388.8H298.8V1389.6H299.2M313.8 1390.2H305.9V1390.6H313.8M313.8 1391.0H305.6V1391.4H313.8M305.9 1390.4H305.1V1391.2H305.6M298.8 1389.2H296.4V1390.8H305.1M313.8 1391.8H299.1V1392.2H313.8M299.1 1392.0H297.8V1392.6H313.8M313.8 1393.0H304.4V1393.4H313.8M297.8 1392.3H297.3V1393.2H304.4M296.4 1390.0H275.8V1392.8H297.3M275.8 1391.4H273.2V1393.8H313.8M287.3 1386.5H267.3V1392.6H273.2M313.8 1394.6H307.1V1395.0H313.8M313.8 1394.2H305.3V1394.8H307.1M313.8 1395.4H306.8V1395.8H313.8M313.8 1396.2H293.9V1396.6H313.8M306.8 1395.6H292.8V1396.4H293.9M313.8 1397.0H303.9V1397.4H313.8M303.9 1397.2H295.0V1397.8H313.8M292.8 1396.0H289.6V1397.5H295.0M313.8 1398.6H303.2V1399.0H313.8M313.8 1398.2H301.2V1398.8H303.2M313.8 1399.8H303.4V1400.2H313.8M313.8 1399.4H302.8V1400.0H303.4M302.8 1399.7H302.3V1400.6H313.8M301.2 1398.5H300.2V1400.2H302.3M313.8 1401.4H308.4V1401.8H313.8M313.8 1401.0H302.8V1401.6H308.4M300.2 1399.3H299.4V1401.3H302.8M313.8 1402.6H300.2V1403.0H313.8M313.8 1403.4H303.9V1403.8H313.8M300.2 1402.8H299.8V1403.6H303.9M313.8 1402.2H298.8V1403.2H299.8M313.8 1404.2H305.7V1404.6H313.8M305.7 1404.4H305.0V1405.0H313.8M298.8 1402.7H292.4V1404.7H305.0M299.4 1400.3H290.5V1403.7H292.4M289.6 1396.8H270.4V1402.0H290.5M313.8 1405.8H308.9V1406.2H313.8M313.8 1405.4H305.7V1406.0H308.9M313.8 1406.6H296.0V1407.0H313.8M313.8 1407.4H299.4V1407.8H313.8M313.8 1408.2H309.4V1408.6H313.8M299.4 1407.6H285.5V1408.4H309.4M313.8 1409.0H304.3V1409.4H313.8M304.3 1409.2H301.4V1409.8H313.8M301.4 1409.5H300.2V1410.2H313.8M285.5 1408.0H284.9V1409.9H300.2M296.0 1406.8H283.4V1408.9H284.9M313.8 1411.8H306.3V1412.2H313.8M313.8 1411.4H303.1V1412.0H306.3M313.8 1411.0H299.5V1411.7H303.1M313.8 1413.0H307.0V1413.4H313.8M313.8 1412.6H305.1V1413.2H307.0M299.5 1411.4H295.4V1412.9H305.1M295.4 1412.1H293.5V1413.8H313.8M313.8 1414.2H304.5V1414.6H313.8M304.5 1414.4H303.1V1415.0H313.8M303.1 1414.7H302.0V1415.4H313.8M293.5 1413.0H292.0V1415.1H302.0M313.8 1415.8H304.1V1416.2H313.8M313.8 1416.6H304.7V1417.0H313.8M304.1 1416.0H303.1V1416.8H304.7M313.8 1417.4H305.6V1417.8H313.8M305.6 1417.6H304.1V1418.2H313.8M313.8 1418.6H307.3V1419.0H313.8M304.1 1417.9H303.3V1418.8H307.3M303.1 1416.4H300.0V1418.4H303.3M313.8 1419.8H300.5V1420.2H313.8M313.8 1419.4H299.6V1420.0H300.5M299.6 1419.7H297.2V1420.6H313.8M300.0 1417.4H294.3V1420.2H297.2M292.0 1414.0H288.6V1418.8H294.3M313.8 1421.0H297.0V1421.4H313.8M297.0 1421.2H295.6V1421.8H313.8M288.6 1416.4H287.6V1421.5H295.6M313.8 1410.6H286.9V1418.9H287.6M286.9 1414.8H282.7V1422.2H313.8M283.4 1407.9H275.8V1418.5H282.7M313.8 1422.6H303.9V1423.0H313.8M303.9 1422.8H300.5V1423.4H313.8M300.5 1423.1H295.6V1423.8H313.8M313.8 1425.0H305.0V1425.4H313.8M313.8 1424.6H300.3V1425.2H305.0M313.8 1424.2H298.6V1424.9H300.3M313.8 1425.8H305.7V1426.2H313.8M313.8 1426.6H299.2V1427.0H313.8M313.8 1427.4H305.5V1427.8H313.8M299.2 1426.8H297.1V1427.6H305.5M313.8 1428.6H303.7V1429.0H313.8M313.8 1428.2H296.4V1428.8H303.7M297.1 1427.2H295.5V1428.5H296.4M305.7 1426.0H293.3V1427.8H295.5M298.6 1424.6H292.4V1426.9H293.3M295.6 1423.5H290.5V1425.7H292.4M290.5 1424.6H286.9V1429.4H313.8M275.8 1413.2H269.8V1427.0H286.9M305.7 1405.7H265.2V1420.1H269.8M313.8 1429.8H305.5V1430.2H313.8M305.5 1430.0H298.5V1430.6H313.8M265.2 1412.9H264.6V1430.3H298.5M313.8 1431.0H306.7V1431.4H313.8M306.7 1431.2H301.9V1431.8H313.8M264.6 1421.6H260.1V1431.5H301.9M270.4 1399.4H253.0V1426.5H260.1M305.3 1394.5H246.3V1413.0H253.0M267.3 1389.6H218.4V1403.7H246.3M313.8 1432.2H303.5V1432.6H313.8M303.5 1432.4H302.2V1433.0H313.8M313.8 1433.4H303.0V1433.8H313.8M303.0 1433.6H300.9V1434.2H313.8M302.2 1432.7H298.2V1433.9H300.9M313.8 1435.0H299.1V1435.4H313.8M313.8 1434.6H293.1V1435.2H299.1M313.8 1436.2H305.6V1436.6H313.8M313.8 1435.8H305.0V1436.4H305.6M305.0 1436.1H291.4V1437.0H313.8M293.1 1434.9H286.9V1436.6H291.4M286.9 1435.7H285.1V1437.4H313.8M313.8 1438.2H305.6V1438.6H313.8M313.8 1437.8H294.6V1438.4H305.6M294.6 1438.1H291.9V1439.0H313.8M313.8 1439.4H300.2V1439.8H313.8M313.8 1440.6H298.3V1441.0H313.8M313.8 1440.2H291.2V1440.8H298.3M300.2 1439.6H288.8V1440.5H291.2M291.9 1438.6H287.5V1440.1H288.8M285.1 1436.6H280.7V1439.3H287.5M298.2 1433.3H273.5V1437.9H280.7M273.5 1435.6H272.5V1441.4H313.8M313.8 1441.8H307.3V1442.2H313.8M272.5 1438.5H269.2V1442.0H307.3M313.8 1442.6H305.4V1443.0H313.8M313.8 1443.4H305.5V1443.8H313.8M305.4 1442.8H305.0V1443.6H305.5M269.2 1440.3H264.5V1443.2H305.0M313.8 1444.2H306.5V1444.6H313.8M313.8 1445.0H305.6V1445.4H313.8M306.5 1444.4H295.3V1445.2H305.6M313.8 1445.8H301.4V1446.2H313.8M313.8 1446.6H307.4V1447.0H313.8M307.4 1446.8H285.4V1447.4H313.8M301.4 1446.0H283.8V1447.1H285.4M295.3 1444.8H280.5V1446.5H283.8M313.8 1448.6H306.2V1449.0H313.8M306.2 1448.8H299.2V1449.4H313.8M313.8 1448.2H298.6V1449.1H299.2M298.6 1448.7H296.8V1449.8H313.8M313.8 1450.2H307.7V1450.6H313.8M307.7 1450.4H305.9V1451.0H313.8M296.8 1449.2H286.4V1450.7H305.9M313.8 1451.4H303.3V1451.8H313.8M313.8 1452.2H299.3V1452.6H313.8M313.8 1453.0H300.1V1453.4H313.8M299.3 1452.4H296.9V1453.2H300.1M303.3 1451.6H294.8V1452.8H296.9M313.8 1454.6H307.3V1455.0H313.8M313.8 1454.2H304.9V1454.8H307.3M313.8 1453.8H304.4V1454.5H304.9M294.8 1452.2H290.5V1454.2H304.4M313.8 1455.4H298.4V1455.8H313.8M290.5 1453.2H287.9V1455.6H298.4M286.4 1450.0H279.2V1454.4H287.9M313.8 1447.8H277.0V1452.2H279.2M280.5 1445.7H270.5V1450.0H277.0M313.8 1456.2H305.1V1456.6H313.8M270.5 1447.8H269.8V1456.4H305.1M313.8 1457.0H302.6V1457.4H313.8M269.8 1452.1H263.1V1457.2H302.6M264.5 1441.7H251.1V1454.7H263.1M313.8 1457.8H304.6V1458.2H313.8M313.8 1458.6H307.5V1459.0H313.8M307.5 1458.8H305.4V1459.4H313.8M313.8 1459.8H305.4V1460.2H313.8M305.4 1459.1H304.2V1460.0H305.4M304.6 1458.0H300.7V1459.5H304.2M313.8 1461.8H302.7V1462.2H313.8M302.7 1462.0H299.2V1462.6H313.8M313.8 1461.4H297.3V1462.3H299.2M313.8 1463.8H304.5V1464.2H313.8M313.8 1463.4H300.0V1464.0H304.5M313.8 1463.0H299.2V1463.7H300.0M297.3 1461.9H293.8V1463.3H299.2M313.8 1461.0H291.7V1462.6H293.8M313.8 1460.6H288.5V1461.8H291.7M313.8 1464.6H304.8V1465.0H313.8M304.8 1464.8H293.4V1465.4H313.8M313.8 1465.8H304.8V1466.2H313.8M293.4 1465.1H291.5V1466.0H304.8M313.8 1466.6H304.6V1467.0H313.8M291.5 1465.5H289.7V1466.8H304.6M288.5 1461.2H283.8V1466.2H289.7M300.7 1458.8H272.6V1463.7H283.8M313.8 1467.8H304.8V1468.2H313.8M313.8 1467.4H291.8V1468.0H304.8M291.8 1467.7H291.0V1468.6H313.8M313.8 1469.0H303.1V1469.4H313.8M313.8 1469.8H301.8V1470.2H313.8M303.1 1469.2H301.0V1470.0H301.8M313.8 1470.6H307.4V1471.0H313.8M307.4 1470.8H296.8V1471.4H313.8M301.0 1469.6H289.7V1471.1H296.8M313.8 1471.8H306.1V1472.2H313.8M289.7 1470.3H277.2V1472.0H306.1M291.0 1468.1H276.1V1471.2H277.2M313.8 1472.6H299.5V1473.0H313.8M313.8 1473.8H303.5V1474.2H313.8M313.8 1473.4H300.6V1474.0H303.5M299.5 1472.8H297.6V1473.7H300.6M276.1 1469.7H269.5V1473.2H297.6M272.6 1461.2H266.0V1471.5H269.5M313.8 1474.6H305.9V1475.0H313.8M305.9 1474.8H305.4V1475.4H313.8M305.4 1475.1H303.1V1475.8H313.8M266.0 1466.3H265.2V1475.5H303.1M251.1 1448.2H244.4V1470.9H265.2M218.4 1396.6H201.8V1459.5H244.4M240.0 1382.4H165.6V1428.1H201.8M313.8 1476.6H305.8V1477.0H313.8M313.8 1476.2H290.8V1476.8H305.8M313.8 1477.4H305.8V1477.8H313.8M313.8 1478.2H293.8V1478.6H313.8M305.8 1477.6H290.5V1478.4H293.8M313.8 1479.0H306.0V1479.4H313.8M313.8 1479.8H296.8V1480.2H313.8M313.8 1480.6H303.6V1481.0H313.8M296.8 1480.0H295.9V1480.8H303.6M313.8 1481.8H300.0V1482.2H313.8M313.8 1482.6H300.4V1483.0H313.8M300.0 1482.0H298.0V1482.8H300.4M313.8 1481.4H297.6V1482.4H298.0M295.9 1480.4H294.6V1481.9H297.6M306.0 1479.2H293.1V1481.2H294.6M313.8 1483.4H305.0V1483.8H313.8M313.8 1484.2H299.8V1484.6H313.8M305.0 1483.6H299.4V1484.4H299.8M313.8 1485.0H300.7V1485.4H313.8M299.4 1484.0H294.7V1485.2H300.7M294.7 1484.6H291.9V1485.8H313.8M313.8 1486.2H307.9V1486.6H313.8M291.9 1485.2H291.0V1486.4H307.9M313.8 1487.0H305.9V1487.4H313.8M305.9 1487.2H302.7V1487.8H313.8M313.8 1488.2H305.8V1488.6H313.8M302.7 1487.5H301.6V1488.4H305.8M291.0 1485.8H289.8V1488.0H301.6M293.1 1480.2H286.4V1486.9H289.8M290.5 1478.0H284.8V1483.5H286.4M290.8 1476.5H282.1V1480.8H284.8M313.8 1489.8H307.5V1490.2H313.8M313.8 1489.4H301.8V1490.0H307.5M313.8 1489.0H298.7V1489.7H301.8M313.8 1491.0H303.7V1491.4H313.8M313.8 1490.6H301.4V1491.2H303.7M313.8 1491.8H303.9V1492.2H313.8M313.8 1492.6H307.7V1493.0H313.8M303.9 1492.0H303.5V1492.8H307.7M313.8 1493.4H299.0V1493.8H313.8M313.8 1494.6H301.9V1495.0H313.8M313.8 1494.2H295.3V1494.8H301.9M299.0 1493.6H293.9V1494.5H295.3M303.5 1492.4H290.8V1494.0H293.9M313.8 1495.4H298.6V1495.8H313.8M290.8 1493.2H284.6V1495.6H298.6M301.4 1490.9H283.6V1494.4H284.6M298.7 1489.3H280.6V1492.7H283.6M282.1 1478.6H204.1V1491.0H280.6M313.8 1496.2H307.2V1496.6H313.8M307.2 1496.4H287.2V1497.0H313.8M313.8 1498.2H296.2V1498.6H313.8M313.8 1499.0H301.1V1499.4H313.8M296.2 1498.4H293.8V1499.2H301.1M313.8 1500.6H303.7V1501.0H313.8M313.8 1500.2H300.1V1500.8H303.7M313.8 1499.8H295.2V1500.5H300.1M293.8 1498.8H292.7V1500.2H295.2M313.8 1501.4H306.9V1501.8H313.8M313.8 1502.2H303.7V1502.6H313.8M306.9 1501.6H299.0V1502.4H303.7M292.7 1499.5H290.2V1502.0H299.0M313.8 1497.8H288.0V1500.7H290.2M313.8 1503.0H308.0V1503.4H313.8M288.0 1499.3H285.7V1503.2H308.0M313.8 1497.4H282.1V1501.2H285.7M313.8 1503.8H297.5V1504.2H313.8M313.8 1504.6H300.5V1505.0H313.8M297.5 1504.0H295.4V1504.8H300.5M282.1 1499.3H279.3V1504.4H295.4M313.8 1506.2H305.3V1506.6H313.8M313.8 1507.0H306.4V1507.4H313.8M305.3 1506.4H297.4V1507.2H306.4M313.8 1505.8H295.5V1506.8H297.4M313.8 1507.8H304.8V1508.2H313.8M304.8 1508.0H302.3V1508.6H313.8M295.5 1506.3H292.9V1508.3H302.3M313.8 1505.4H290.5V1507.3H292.9M279.3 1501.9H275.0V1506.4H290.5M313.8 1509.0H305.1V1509.4H313.8M275.0 1504.1H269.8V1509.2H305.1M313.8 1509.8H304.0V1510.2H313.8M313.8 1510.6H304.5V1511.0H313.8M304.0 1510.0H303.2V1510.8H304.5M313.8 1511.8H309.3V1512.2H313.8M313.8 1512.6H307.5V1513.0H313.8M309.3 1512.0H300.2V1512.8H307.5M313.8 1511.4H298.7V1512.4H300.2M303.2 1510.4H296.5V1511.9H298.7M296.5 1511.2H294.4V1513.4H313.8M313.8 1514.6H307.7V1515.0H313.8M313.8 1514.2H306.0V1514.8H307.7M313.8 1513.8H298.1V1514.5H306.0M313.8 1515.4H300.0V1515.8H313.8M313.8 1516.6H302.9V1517.0H313.8M313.8 1516.2H298.3V1516.8H302.9M300.0 1515.6H298.1V1516.5H298.3M298.1 1516.1H297.6V1517.4H313.8M298.1 1514.2H293.7V1516.7H297.6M294.4 1512.3H288.3V1515.4H293.7M269.8 1506.7H251.9V1513.9H288.3M251.9 1510.3H243.1V1517.8H313.8M287.2 1496.7H241.7V1514.0H243.1M313.8 1518.2H304.9V1518.6H313.8M313.8 1519.0H303.7V1519.4H313.8M313.8 1519.8H303.0V1520.2H313.8M303.7 1519.2H302.9V1520.0H303.0M313.8 1521.0H306.0V1521.4H313.8M313.8 1520.6H303.4V1521.2H306.0M313.8 1522.2H306.4V1522.6H313.8M313.8 1521.8H302.2V1522.4H306.4M303.4 1520.9H301.2V1522.1H302.2M313.8 1524.2H307.7V1524.6H313.8M313.8 1523.8H305.6V1524.4H307.7M313.8 1523.4H302.7V1524.1H305.6M302.7 1523.8H291.5V1525.0H313.8M313.8 1523.0H290.8V1524.4H291.5M313.8 1525.4H298.1V1525.8H313.8M290.8 1523.7H287.8V1525.6H298.1M313.8 1526.2H303.8V1526.6H313.8M313.8 1527.0H302.2V1527.4H313.8M313.8 1528.2H308.3V1528.6H313.8M313.8 1527.8H306.6V1528.4H308.3M313.8 1529.8H306.5V1530.2H313.8M313.8 1529.4H297.3V1530.0H306.5M297.3 1529.7H295.3V1530.6H313.8M313.8 1529.0H290.9V1530.2H295.3M306.6 1528.1H289.9V1529.6H290.9M302.2 1527.2H287.1V1528.8H289.9M303.8 1526.4H283.6V1528.0H287.1M287.8 1524.6H280.1V1527.2H283.6M301.2 1521.5H256.7V1525.9H280.1M313.8 1531.8H306.4V1532.2H313.8M313.8 1533.4H308.7V1533.8H313.8M313.8 1533.0H306.5V1533.6H308.7M313.8 1532.6H303.7V1533.3H306.5M306.4 1532.0H303.5V1533.0H303.7M313.8 1534.2H307.6V1534.6H313.8M307.6 1534.4H294.2V1535.0H313.8M294.2 1534.7H291.6V1535.4H313.8M313.8 1535.8H307.5V1536.2H313.8M313.8 1536.6H303.4V1537.0H313.8M307.5 1536.0H292.3V1536.8H303.4M291.6 1535.1H288.9V1536.4H292.3M303.5 1532.5H284.8V1535.7H288.9M313.8 1531.4H282.9V1534.1H284.8M313.8 1537.4H306.7V1537.8H313.8M306.7 1537.6H304.1V1538.2H313.8M313.8 1538.6H305.5V1539.0H313.8M313.8 1539.4H304.0V1539.8H313.8M305.5 1538.8H292.4V1539.6H304.0M313.8 1540.6H308.6V1541.0H313.8M313.8 1540.2H308.0V1540.8H308.6M292.4 1539.2H290.2V1540.5H308.0M290.2 1539.8H288.6V1541.4H313.8M304.1 1537.9H285.4V1540.6H288.6M282.9 1532.8H278.6V1539.3H285.4M313.8 1531.0H275.0V1536.0H278.6M313.8 1542.2H306.7V1542.6H313.8M313.8 1541.8H303.2V1542.4H306.7M313.8 1543.8H306.1V1544.2H313.8M313.8 1544.6H304.3V1545.0H313.8M306.1 1544.0H303.1V1544.8H304.3M313.8 1543.4H300.3V1544.4H303.1M313.8 1543.0H299.2V1543.9H300.3M303.2 1542.1H296.5V1543.5H299.2M275.0 1533.5H270.6V1542.8H296.5M313.8 1547.4H305.7V1547.8H313.8M313.8 1547.0H303.5V1547.6H305.7M313.8 1546.6H299.3V1547.3H303.5M313.8 1546.2H298.8V1547.0H299.3M313.8 1545.8H295.3V1546.6H298.8M313.8 1548.2H303.7V1548.6H313.8M303.7 1548.4H299.8V1549.0H313.8M295.3 1546.2H283.6V1548.7H299.8M313.8 1549.8H304.8V1550.2H313.8M313.8 1549.4H290.2V1550.0H304.8M313.8 1550.6H300.0V1551.0H313.8M290.2 1549.7H286.7V1550.8H300.0M313.8 1551.8H306.2V1552.2H313.8M313.8 1551.4H305.5V1552.0H306.2M305.5 1551.7H291.1V1552.6H313.8M286.7 1550.3H283.6V1552.2H291.1M283.6 1547.4H271.8V1551.2H283.6M313.8 1545.4H266.5V1549.3H271.8M270.6 1538.1H255.7V1547.4H266.5M256.7 1523.7H233.3V1542.8H255.7M313.8 1553.0H306.5V1553.4H313.8M306.5 1553.2H302.2V1553.8H313.8M233.3 1533.2H226.1V1553.5H302.2M313.8 1554.6H305.4V1555.0H313.8M313.8 1554.2H303.3V1554.8H305.4M226.1 1543.4H219.6V1554.5H303.3M302.9 1519.6H208.4V1548.9H219.6M313.8 1555.4H299.3V1555.8H313.8M208.4 1534.3H207.3V1555.6H299.3M304.9 1518.4H202.4V1544.9H207.3M241.7 1505.4H191.0V1531.7H202.4M204.1 1484.8H154.9V1518.5H191.0M165.6 1405.2H145.8V1501.7H154.9M313.8 1556.2H306.1V1556.6H313.8M306.1 1556.4H303.6V1557.0H313.8M313.8 1557.4H305.2V1557.8H313.8M305.2 1557.6H301.7V1558.2H313.8M303.6 1556.7H296.6V1557.9H301.7M313.8 1558.6H304.6V1559.0H313.8M304.6 1558.8H302.4V1559.4H313.8M313.8 1559.8H298.9V1560.2H313.8M313.8 1561.0H308.4V1561.4H313.8M313.8 1560.6H297.4V1561.2H308.4M298.9 1560.0H295.5V1560.9H297.4M313.8 1561.8H297.7V1562.2H313.8M295.5 1560.5H294.4V1562.0H297.7M302.4 1559.1H287.9V1561.2H294.4M296.6 1557.3H281.8V1560.2H287.9M313.8 1562.6H308.8V1563.0H313.8M308.8 1562.8H306.1V1563.4H313.8M313.8 1564.2H304.4V1564.6H313.8M304.4 1564.4H298.8V1565.0H313.8M313.8 1563.8H296.4V1564.7H298.8M306.1 1563.1H295.2V1564.3H296.4M313.8 1565.4H305.7V1565.8H313.8M313.8 1566.2H308.5V1566.6H313.8M308.5 1566.4H304.2V1567.0H313.8M305.7 1565.6H301.6V1566.7H304.2M313.8 1567.4H307.4V1567.8H313.8M301.6 1566.2H296.9V1567.6H307.4M313.8 1568.2H306.3V1568.6H313.8M313.8 1569.0H307.4V1569.4H313.8M306.3 1568.4H305.1V1569.2H307.4M305.1 1568.8H303.6V1569.8H313.8M313.8 1570.2H307.4V1570.6H313.8M303.6 1569.3H302.1V1570.4H307.4M313.8 1571.0H310.2V1571.4H313.8M310.2 1571.2H302.0V1571.8H313.8M302.1 1569.9H298.8V1571.5H302.0M313.8 1572.2H306.5V1572.6H313.8M306.5 1572.4H304.6V1573.0H313.8M298.8 1570.7H295.2V1572.7H304.6M313.8 1573.4H308.5V1573.8H313.8M295.2 1571.7H293.0V1573.6H308.5M296.9 1566.9H288.7V1572.6H293.0M295.2 1563.7H285.1V1569.8H288.7M313.8 1574.2H304.6V1574.6H313.8M304.6 1574.4H303.5V1575.0H313.8M285.1 1566.7H282.8V1574.7H303.5M281.8 1558.7H254.0V1570.7H282.8M313.8 1576.2H309.0V1576.6H313.8M313.8 1575.8H307.8V1576.4H309.0M313.8 1577.4H308.2V1577.8H313.8M313.8 1577.0H303.7V1577.6H308.2M307.8 1576.1H302.2V1577.3H303.7M313.8 1575.4H301.1V1576.7H302.2M313.8 1578.2H306.0V1578.6H313.8M313.8 1579.0H310.5V1579.4H313.8M306.0 1578.4H304.0V1579.2H310.5M313.8 1579.8H304.0V1580.2H313.8M304.0 1578.8H300.5V1580.0H304.0M301.1 1576.1H296.1V1579.4H300.5M313.8 1581.0H306.6V1581.4H313.8M306.6 1581.2H305.2V1581.8H313.8M313.8 1580.6H303.1V1581.5H305.2M313.8 1582.6H309.2V1583.0H313.8M313.8 1582.2H300.3V1582.8H309.2M303.1 1581.1H299.1V1582.5H300.3M296.1 1577.7H289.0V1581.8H299.1M313.8 1583.4H306.4V1583.8H313.8M306.4 1583.6H303.4V1584.2H313.8M303.4 1583.9H291.8V1584.6H313.8M289.0 1579.8H286.5V1584.2H291.8M313.8 1585.4H308.1V1585.8H313.8M313.8 1585.0H305.5V1585.6H308.1M305.5 1585.3H304.3V1586.2H313.8M313.8 1586.6H297.7V1587.0H313.8M297.7 1586.8H293.9V1587.4H313.8M304.3 1585.8H291.1V1587.1H293.9M313.8 1588.6H308.4V1589.0H313.8M308.4 1588.8H308.1V1589.4H313.8M313.8 1588.2H307.5V1589.1H308.1M313.8 1587.8H305.2V1588.7H307.5M313.8 1589.8H304.0V1590.2H313.8M313.8 1590.6H304.2V1591.0H313.8M304.0 1590.0H302.7V1590.8H304.2M302.7 1590.4H302.6V1591.4H313.8M313.8 1592.2H306.9V1592.6H313.8M313.8 1591.8H306.5V1592.4H306.9M302.6 1590.9H302.0V1592.1H306.5M305.2 1588.2H299.8V1591.5H302.0M313.8 1593.0H303.5V1593.4H313.8M313.8 1593.8H302.8V1594.2H313.8M313.8 1594.6H307.1V1595.0H313.8M307.1 1594.8H300.4V1595.4H313.8M302.8 1594.0H299.6V1595.1H300.4M303.5 1593.2H292.7V1594.5H299.6M313.8 1595.8H304.9V1596.2H313.8M313.8 1596.6H307.1V1597.0H313.8M304.9 1596.0H304.4V1596.8H307.1M313.8 1597.4H309.6V1597.8H313.8M304.4 1596.4H299.3V1597.6H309.6M292.7 1593.9H289.9V1597.0H299.3M299.8 1589.9H280.2V1595.4H289.9M291.1 1586.4H266.2V1592.7H280.2M286.5 1582.0H215.4V1589.5H266.2M254.0 1564.7H158.4V1585.8H215.4M313.8 1598.6H308.9V1599.0H313.8M308.9 1598.8H307.8V1599.4H313.8M307.8 1599.1H306.7V1599.8H313.8M313.8 1598.2H297.6V1599.5H306.7M313.8 1600.6H307.5V1601.0H313.8M313.8 1600.2H298.7V1600.8H307.5M313.8 1601.4H303.8V1601.8H313.8M303.8 1601.6H301.6V1602.2H313.8M313.8 1603.0H309.1V1603.4H313.8M309.1 1603.2H308.2V1603.8H313.8M313.8 1602.6H307.1V1603.5H308.2M313.8 1604.2H305.3V1604.6H313.8M307.1 1603.1H301.4V1604.4H305.3M301.6 1601.9H298.7V1603.7H301.4M298.7 1600.5H293.6V1602.8H298.7M297.6 1598.8H292.4V1601.7H293.6M313.8 1605.0H305.1V1605.4H313.8M313.8 1606.6H308.9V1607.0H313.8M308.9 1606.8H303.1V1607.4H313.8M313.8 1606.2H297.7V1607.1H303.1M313.8 1605.8H295.5V1606.7H297.7M313.8 1607.8H311.5V1608.2H313.8M311.5 1608.0H310.6V1608.6H313.8M295.5 1606.2H293.1V1608.3H310.6M305.1 1605.2H290.1V1607.3H293.1M313.8 1609.0H309.0V1609.4H313.8M309.0 1609.2H307.2V1609.8H313.8M290.1 1606.2H284.5V1609.5H307.2M292.4 1600.2H274.1V1607.9H284.5M158.4 1575.2H152.7V1604.1H274.1M313.8 1610.2H308.3V1610.6H313.8M308.3 1610.4H302.1V1611.0H313.8M313.8 1611.8H307.0V1612.2H313.8M313.8 1611.4H303.0V1612.0H307.0M313.8 1612.6H307.6V1613.0H313.8M313.8 1613.4H306.2V1613.8H313.8M307.6 1612.8H303.9V1613.6H306.2M313.8 1614.6H308.4V1615.0H313.8M308.4 1614.8H307.6V1615.4H313.8M313.8 1614.2H305.9V1615.1H307.6M303.9 1613.2H299.8V1614.7H305.9M303.0 1611.7H288.0V1613.9H299.8M302.1 1610.7H276.2V1612.8H288.0M313.8 1615.8H300.9V1616.2H313.8M300.9 1616.0H298.9V1616.6H313.8M313.8 1617.0H304.7V1617.4H313.8M313.8 1617.8H305.4V1618.2H313.8M304.7 1617.2H299.6V1618.0H305.4M298.9 1616.3H293.6V1617.6H299.6M276.2 1611.8H270.6V1616.9H293.6M313.8 1618.6H307.3V1619.0H313.8M313.8 1619.4H306.0V1619.8H313.8M306.0 1619.6H303.6V1620.2H313.8M307.3 1618.8H300.2V1619.9H303.6M270.6 1614.4H268.3V1619.4H300.2M313.8 1621.0H306.3V1621.4H313.8M313.8 1620.6H304.4V1621.2H306.3M313.8 1622.2H309.1V1622.6H313.8M313.8 1621.8H305.7V1622.4H309.1M304.4 1620.9H296.9V1622.1H305.7M313.8 1623.0H306.5V1623.4H313.8M306.5 1623.2H299.4V1623.8H313.8M296.9 1621.5H292.5V1623.5H299.4M268.3 1616.9H251.4V1622.5H292.5M313.8 1624.2H303.9V1624.6H313.8M313.8 1625.0H302.5V1625.4H313.8M303.9 1624.4H300.1V1625.2H302.5M313.8 1626.2H305.3V1626.6H313.8M313.8 1625.8H301.2V1626.4H305.3M300.1 1624.8H298.2V1626.1H301.2M313.8 1627.4H305.9V1627.8H313.8M313.8 1627.0H304.4V1627.6H305.9M304.4 1627.3H303.9V1628.2H313.8M313.8 1629.0H307.4V1629.4H313.8M307.4 1629.2H306.6V1629.8H313.8M313.8 1628.6H304.9V1629.5H306.6M304.9 1629.0H304.5V1630.2H313.8M303.9 1627.8H301.5V1629.6H304.5M313.8 1630.6H303.5V1631.0H313.8M313.8 1631.8H305.6V1632.2H313.8M313.8 1631.4H302.4V1632.0H305.6M303.5 1630.8H301.4V1631.7H302.4M313.8 1632.6H308.1V1633.0H313.8M301.4 1631.2H292.2V1632.8H308.1M292.2 1632.0H290.2V1633.4H313.8M301.5 1628.7H280.8V1632.7H290.2M298.2 1625.5H278.5V1630.7H280.8M313.8 1633.8H306.2V1634.2H313.8M313.8 1634.6H307.6V1635.0H313.8M306.2 1634.0H305.1V1634.8H307.6M305.1 1634.4H302.9V1635.4H313.8M313.8 1636.2H303.4V1636.6H313.8M313.8 1635.8H301.3V1636.4H303.4M313.8 1637.0H304.1V1637.4H313.8M304.1 1637.2H301.1V1637.8H313.8M301.3 1636.1H300.6V1637.5H301.1M302.9 1634.9H295.7V1636.8H300.6M313.8 1639.0H307.0V1639.4H313.8M313.8 1638.6H306.1V1639.2H307.0M313.8 1638.2H303.2V1638.9H306.1M303.2 1638.6H301.5V1639.8H313.8M313.8 1640.6H306.6V1641.0H313.8M306.6 1640.8H304.2V1641.4H313.8M313.8 1640.2H302.9V1641.1H304.2M301.5 1639.2H298.7V1640.7H302.9M295.7 1635.8H288.9V1639.9H298.7M313.8 1642.2H308.3V1642.6H313.8M313.8 1641.8H300.2V1642.4H308.3M313.8 1643.4H308.7V1643.8H313.8M313.8 1643.0H307.7V1643.6H308.7M313.8 1644.6H308.2V1645.0H313.8M313.8 1644.2H308.0V1644.8H308.2M308.0 1644.5H306.2V1645.4H313.8M307.7 1643.3H304.7V1645.0H306.2M300.2 1642.1H292.9V1644.1H304.7M288.9 1637.9H282.8V1643.1H292.9M313.8 1645.8H309.9V1646.2H313.8M313.8 1646.6H309.1V1647.0H313.8M309.9 1646.0H308.7V1646.8H309.1M313.8 1647.4H307.4V1647.8H313.8M313.8 1648.2H307.4V1648.6H313.8M307.4 1647.6H306.8V1648.4H307.4M313.8 1649.0H306.6V1649.4H313.8M306.6 1649.2H305.2V1649.8H313.8M306.8 1648.0H298.6V1649.5H305.2M308.7 1646.4H293.9V1648.8H298.6M282.8 1640.5H263.3V1647.6H293.9M278.5 1628.1H247.1V1644.0H263.3M251.4 1619.7H179.8V1636.1H247.1M313.8 1650.2H309.3V1650.6H313.8M309.3 1650.4H307.5V1651.0H313.8M307.5 1650.7H306.5V1651.4H313.8M313.8 1652.2H305.8V1652.6H313.8M313.8 1651.8H305.0V1652.4H305.8M306.5 1651.1H304.9V1652.1H305.0M313.8 1653.0H299.5V1653.4H313.8M313.8 1653.8H308.7V1654.2H313.8M299.5 1653.2H298.5V1654.0H308.7M313.8 1654.6H305.6V1655.0H313.8M313.8 1655.8H307.9V1656.2H313.8M307.9 1656.0H306.9V1656.6H313.8M313.8 1655.4H304.8V1656.3H306.9M313.8 1657.0H307.8V1657.4H313.8M304.8 1655.8H295.4V1657.2H307.8M305.6 1654.8H294.1V1656.5H295.4M313.8 1658.2H305.6V1658.6H313.8M313.8 1657.8H305.0V1658.4H305.6M313.8 1659.8H307.6V1660.2H313.8M313.8 1659.4H305.9V1660.0H307.6M313.8 1659.0H304.2V1659.7H305.9M304.2 1659.3H303.5V1660.6H313.8M313.8 1661.0H307.5V1661.4H313.8M303.5 1660.0H299.4V1661.2H307.5M305.0 1658.1H295.5V1660.6H299.4M294.1 1655.7H290.7V1659.3H295.5M298.5 1653.6H287.4V1657.5H290.7M304.9 1651.6H267.3V1655.6H287.4M313.8 1661.8H302.0V1662.2H313.8M313.8 1662.6H304.2V1663.0H313.8M304.2 1662.8H303.8V1663.4H313.8M302.0 1662.0H300.5V1663.1H303.8M313.8 1663.8H303.4V1664.2H313.8M313.8 1664.6H306.8V1665.0H313.8M303.4 1664.0H301.9V1664.8H306.8M300.5 1662.5H299.0V1664.4H301.9M313.8 1665.8H305.7V1666.2H313.8M313.8 1666.6H305.9V1667.0H313.8M305.7 1666.0H305.4V1666.8H305.9M313.8 1665.4H302.9V1666.4H305.4M313.8 1667.8H306.6V1668.2H313.8M313.8 1667.4H303.9V1668.0H306.6M302.9 1665.9H299.9V1667.7H303.9M299.0 1663.5H294.1V1666.8H299.9M313.8 1668.6H308.4V1669.0H313.8M308.4 1668.8H306.2V1669.4H313.8M306.2 1669.1H304.6V1669.8H313.8M313.8 1670.2H305.3V1670.6H313.8M313.8 1671.4H309.5V1671.8H313.8M313.8 1671.0H308.6V1671.6H309.5M313.8 1672.6H307.2V1673.0H313.8M307.2 1672.8H304.6V1673.4H313.8M304.6 1673.1H303.7V1673.8H313.8M313.8 1672.2H300.3V1673.4H303.7M308.6 1671.3H296.6V1672.8H300.3M305.3 1670.4H294.1V1672.1H296.6M304.6 1669.4H292.4V1671.2H294.1M313.8 1674.6H306.1V1674.9H313.8M313.8 1674.2H304.8V1674.8H306.1M292.4 1670.3H279.6V1674.5H304.8M294.1 1665.1H276.5V1672.4H279.6M267.3 1653.6H186.2V1668.8H276.5M313.8 1675.6H305.6V1676.0H313.8M313.8 1676.4H306.2V1676.8H313.8M305.6 1675.8H305.4V1676.6H306.2M313.8 1675.2H302.9V1676.2H305.4M313.8 1677.2H304.3V1677.6H313.8M313.8 1678.0H307.9V1678.4H313.8M307.9 1678.2H305.6V1678.8H313.8M304.3 1677.4H303.2V1678.5H305.6M302.9 1675.7H299.5V1678.0H303.2M313.8 1680.0H308.6V1680.4H313.8M313.8 1679.6H307.1V1680.2H308.6M313.8 1679.2H298.0V1679.9H307.1M313.8 1680.8H305.7V1681.2H313.8M313.8 1681.6H305.9V1682.0H313.8M305.9 1681.8H305.0V1682.4H313.8M313.8 1682.8H305.5V1683.2H313.8M305.0 1682.1H292.9V1683.0H305.5M305.7 1681.0H291.5V1682.5H292.9M298.0 1679.6H289.6V1681.8H291.5M313.8 1684.0H307.1V1684.4H313.8M313.8 1683.6H305.9V1684.2H307.1M313.8 1684.8H301.9V1685.2H313.8M313.8 1685.6H306.8V1686.0H313.8M301.9 1685.0H301.1V1685.8H306.8M305.9 1683.9H298.8V1685.4H301.1M298.8 1684.7H296.9V1686.4H313.8M289.6 1680.7H285.5V1685.5H296.9M313.8 1686.8H305.2V1687.2H313.8M313.8 1687.6H307.4V1688.0H313.8M305.2 1687.0H304.0V1687.8H307.4M313.8 1688.4H301.4V1688.8H313.8M301.4 1688.6H291.8V1689.2H313.8M304.0 1687.4H290.8V1688.9H291.8M285.5 1683.1H269.1V1688.2H290.8M299.5 1676.8H264.9V1685.6H269.1M313.8 1690.4H305.3V1690.8H313.8M305.3 1690.6H302.0V1691.2H313.8M313.8 1691.6H306.0V1692.0H313.8M306.0 1691.8H305.4V1692.4H313.8M305.4 1692.1H301.6V1692.8H313.8M302.0 1690.9H299.6V1692.5H301.6M313.8 1690.0H297.6V1691.7H299.6M313.8 1693.2H293.0V1693.6H313.8M313.8 1694.0H307.8V1694.4H313.8M293.0 1693.4H291.5V1694.2H307.8M297.6 1690.8H276.1V1693.8H291.5M313.8 1695.2H305.9V1695.6H313.8M313.8 1694.8H303.6V1695.4H305.9M313.8 1696.4H305.1V1696.8H313.8M313.8 1696.0H302.9V1696.6H305.1M303.6 1695.1H300.7V1696.3H302.9M300.7 1695.7H297.8V1697.2H313.8M313.8 1698.0H306.8V1698.4H313.8M306.8 1698.2H306.5V1698.8H313.8M313.8 1697.6H303.9V1698.5H306.5M313.8 1699.2H306.0V1699.6H313.8M306.0 1699.4H303.6V1700.0H313.8M303.9 1698.1H299.7V1699.7H303.6M297.8 1696.5H295.5V1698.9H299.7M276.1 1692.3H265.9V1697.7H295.5M313.8 1689.6H263.8V1695.0H265.9M264.9 1681.2H248.2V1692.3H263.8M313.8 1700.4H309.2V1700.8H313.8M248.2 1686.8H247.2V1700.6H309.2M247.2 1693.7H241.3V1701.2H313.8M313.8 1701.6H309.5V1702.0H313.8M309.5 1701.8H309.1V1702.4H313.8M313.8 1703.6H308.0V1704.0H313.8M313.8 1703.2H303.8V1703.8H308.0M313.8 1702.8H300.5V1703.5H303.8M313.8 1704.4H303.3V1704.8H313.8M313.8 1705.2H308.6V1705.6H313.8M313.8 1706.0H305.0V1706.4H313.8M308.6 1705.4H304.6V1706.2H305.0M303.3 1704.6H297.3V1705.8H304.6M300.5 1703.2H296.4V1705.2H297.3M309.1 1702.1H289.3V1704.2H296.4M313.8 1706.8H304.3V1707.2H313.8M313.8 1707.6H305.1V1708.0H313.8M304.3 1707.0H300.7V1707.8H305.1M313.8 1708.4H307.7V1708.8H313.8M313.8 1709.2H310.6V1709.6H313.8M307.7 1708.6H302.6V1709.4H310.6M300.7 1707.4H296.1V1709.0H302.6M313.8 1710.0H305.4V1710.4H313.8M313.8 1711.2H305.7V1711.6H313.8M313.8 1710.8H303.2V1711.4H305.7M305.4 1710.2H303.1V1711.1H303.2M296.1 1708.2H290.9V1710.7H303.1M313.8 1712.0H306.0V1712.4H313.8M290.9 1709.4H289.6V1712.2H306.0M289.6 1710.8H286.9V1712.8H313.8M289.3 1703.1H265.3V1711.8H286.9M313.8 1713.6H306.7V1714.0H313.8M313.8 1713.2H303.9V1713.8H306.7M313.8 1714.8H308.8V1715.2H313.8M313.8 1714.4H303.7V1715.0H308.8M303.9 1713.5H299.9V1714.7H303.7M313.8 1715.6H306.6V1716.0H313.8M299.9 1714.1H295.8V1715.8H306.6M265.3 1707.5H262.9V1715.0H295.8M313.8 1716.4H306.4V1716.8H313.8M313.8 1717.6H309.1V1718.0H313.8M313.8 1717.2H308.5V1717.8H309.1M306.4 1716.6H302.1V1717.5H308.5M313.8 1718.8H307.0V1719.2H313.8M313.8 1720.0H308.5V1720.4H313.8M313.8 1719.6H307.6V1720.2H308.5M307.0 1719.0H306.7V1719.9H307.6M313.8 1718.4H303.6V1719.5H306.7M302.1 1717.1H300.9V1718.9H303.6M313.8 1720.8H306.0V1721.2H313.8M313.8 1721.6H307.6V1722.0H313.8M307.6 1721.8H306.7V1722.4H313.8M313.8 1723.2H309.1V1723.6H313.8M313.8 1722.8H308.2V1723.4H309.1M306.7 1722.1H306.2V1723.1H308.2M306.0 1721.0H296.3V1722.6H306.2M313.8 1724.4H305.7V1724.8H313.8M313.8 1724.0H301.1V1724.6H305.7M301.1 1724.3H299.5V1725.2H313.8M313.8 1725.6H307.9V1726.0H313.8M307.9 1725.8H301.5V1726.4H313.8M313.8 1726.8H306.8V1727.2H313.8M306.8 1727.0H305.8V1727.6H313.8M305.8 1727.3H305.5V1728.0H313.8M301.5 1726.1H300.0V1727.7H305.5M299.5 1724.8H296.4V1726.9H300.0M296.4 1725.8H293.9V1728.4H313.8M313.8 1729.2H307.8V1729.6H313.8M313.8 1728.8H307.1V1729.4H307.8M307.1 1729.1H305.5V1730.0H313.8M313.8 1730.8H305.4V1731.2H313.8M313.8 1730.4H304.0V1731.0H305.4M304.0 1730.7H300.3V1731.6H313.8M305.5 1729.6H297.8V1731.2H300.3M313.8 1732.8H306.8V1733.2H313.8M313.8 1732.4H305.5V1733.0H306.8M313.8 1732.0H303.8V1732.7H305.5M313.8 1734.0H307.8V1734.4H313.8M313.8 1733.6H304.3V1734.2H307.8M303.8 1732.4H300.8V1733.9H304.3M297.8 1730.4H295.5V1733.1H300.8M293.9 1727.1H288.3V1731.7H295.5M296.3 1721.8H264.1V1729.4H288.3M300.9 1718.0H252.1V1725.6H264.1M313.8 1735.2H308.0V1735.6H313.8M313.8 1734.8H305.7V1735.4H308.0M313.8 1736.4H309.2V1736.8H313.8M313.8 1736.0H307.3V1736.6H309.2M307.3 1736.3H306.4V1737.2H313.8M313.8 1738.0H310.4V1738.4H313.8M310.4 1738.2H309.0V1738.8H313.8M313.8 1737.6H307.1V1738.5H309.0M306.4 1736.8H303.2V1738.1H307.1M305.7 1735.1H302.4V1737.4H303.2M313.8 1740.0H308.8V1740.4H313.8M313.8 1739.6H306.7V1740.2H308.8M313.8 1740.8H307.2V1741.2H313.8M306.7 1739.9H306.4V1741.0H307.2M313.8 1739.2H305.9V1740.5H306.4M313.8 1741.6H306.7V1742.0H313.8M305.9 1739.8H304.2V1741.8H306.7M313.8 1742.8H305.0V1743.2H313.8M313.8 1742.4H297.2V1743.0H305.0M313.8 1743.6H307.6V1744.0H313.8M313.8 1744.8H308.0V1745.2H313.8M313.8 1744.4H307.2V1745.0H308.0M307.6 1743.8H306.1V1744.7H307.2M313.8 1745.6H307.1V1746.0H313.8M307.1 1745.8H306.3V1746.4H313.8M306.1 1744.3H303.9V1746.1H306.3M297.2 1742.7H291.3V1745.2H303.9M304.2 1740.8H285.8V1743.9H291.3M302.4 1736.3H281.2V1742.4H285.8M313.8 1747.2H308.7V1747.6H313.8M313.8 1746.8H300.7V1747.4H308.7M313.8 1748.0H304.0V1748.4H313.8M313.8 1749.2H307.3V1749.6H313.8M307.3 1749.4H306.4V1750.0H313.8M313.8 1748.8H303.7V1749.7H306.4M304.0 1748.2H296.5V1749.3H303.7M300.7 1747.1H295.1V1748.7H296.5M313.8 1750.8H308.9V1751.2H313.8M313.8 1750.4H302.4V1751.0H308.9M295.1 1747.9H291.9V1750.7H302.4M313.8 1752.4H308.9V1752.8H313.8M313.8 1752.0H302.5V1752.6H308.9M313.8 1751.6H301.9V1752.3H302.5M301.9 1752.0H300.1V1753.2H313.8M313.8 1754.0H307.4V1754.4H313.8M313.8 1753.6H306.3V1754.2H307.4M300.1 1752.6H297.4V1753.9H306.3M313.8 1754.8H304.2V1755.2H313.8M304.2 1755.0H303.8V1755.6H313.8M313.8 1756.0H305.7V1756.4H313.8M303.8 1755.3H293.0V1756.2H305.7M297.4 1753.2H291.5V1755.8H293.0M313.8 1757.6H305.0V1758.0H313.8M313.8 1757.2H302.1V1757.8H305.0M313.8 1756.8H297.6V1757.5H302.1M291.5 1754.5H289.9V1757.2H297.6M291.9 1749.3H285.2V1755.8H289.9M313.8 1758.8H307.9V1759.2H313.8M307.9 1759.0H306.3V1759.6H313.8M313.8 1758.4H303.8V1759.3H306.3M313.8 1760.4H307.7V1760.8H313.8M313.8 1760.0H306.8V1760.6H307.7M313.8 1761.2H309.3V1761.6H313.8M309.3 1761.4H308.1V1762.0H313.8M306.8 1760.3H305.7V1761.7H308.1M313.8 1762.4H306.8V1762.8H313.8M313.8 1763.2H306.9V1763.6H313.8M306.8 1762.6H306.3V1763.4H306.9M305.7 1761.0H304.5V1763.0H306.3M313.8 1764.0H307.0V1764.4H313.8M307.0 1764.2H305.6V1764.8H313.8M304.5 1762.0H301.7V1764.5H305.6M303.8 1758.9H285.4V1763.2H301.7M285.2 1752.6H270.7V1761.1H285.4M281.2 1739.3H263.6V1756.8H270.7M252.1 1721.8H245.3V1748.1H263.6M262.9 1711.2H238.2V1734.9H245.3M241.3 1697.4H216.2V1723.1H238.2M313.8 1765.2H305.3V1765.6H313.8M305.3 1765.4H304.6V1766.0H313.8M313.8 1766.8H311.1V1767.2H313.8M311.1 1767.0H304.7V1767.6H313.8M313.8 1766.4H301.1V1767.3H304.7M313.8 1768.0H304.6V1768.4H313.8M304.6 1768.2H303.2V1768.8H313.8M301.1 1766.9H300.1V1768.5H303.2M313.8 1769.2H302.3V1769.6H313.8M300.1 1767.7H299.0V1769.4H302.3M313.8 1770.4H308.7V1770.8H313.8M313.8 1770.0H304.8V1770.6H308.7M299.0 1768.5H297.2V1770.3H304.8M313.8 1771.2H308.0V1771.6H313.8M308.0 1771.4H307.0V1772.0H313.8M297.2 1769.4H295.1V1771.7H307.0M313.8 1772.4H303.8V1772.8H313.8M313.8 1773.6H308.5V1774.0H313.8M313.8 1774.4H306.3V1774.8H313.8M308.5 1773.8H305.4V1774.6H306.3M313.8 1773.2H303.2V1774.2H305.4M303.8 1772.6H301.0V1773.7H303.2M313.8 1775.2H305.9V1775.6H313.8M305.9 1775.4H302.5V1776.0H313.8M313.8 1776.4H306.9V1776.8H313.8M306.9 1776.6H304.7V1777.2H313.8M313.8 1778.0H309.0V1778.4H313.8M313.8 1777.6H308.4V1778.2H309.0M308.4 1777.9H304.4V1778.8H313.8M304.7 1776.9H302.7V1778.4H304.4M302.5 1775.7H301.2V1777.6H302.7M313.8 1779.6H305.0V1780.0H313.8M313.8 1779.2H301.7V1779.8H305.0M301.2 1776.7H297.5V1779.5H301.7M301.0 1773.2H296.9V1778.1H297.5M296.9 1775.6H295.0V1780.4H313.8M295.1 1770.6H289.8V1778.0H295.0M313.8 1780.8H300.1V1781.2H313.8M313.8 1781.6H310.2V1782.0H313.8M310.2 1781.8H301.8V1782.4H313.8M300.1 1781.0H295.5V1782.1H301.8M313.8 1783.2H306.2V1783.6H313.8M313.8 1782.8H305.2V1783.4H306.2M305.2 1783.1H303.2V1784.0H313.8M313.8 1784.4H308.7V1784.8H313.8M313.8 1785.2H308.4V1785.6H313.8M308.7 1784.6H307.6V1785.4H308.4M303.2 1783.6H298.4V1785.0H307.6M295.5 1781.6H289.7V1784.3H298.4M289.8 1774.3H277.2V1782.9H289.7M313.8 1786.4H308.2V1786.8H313.8M313.8 1786.0H304.2V1786.6H308.2M304.2 1786.3H302.9V1787.2H313.8M277.2 1778.6H276.7V1786.8H302.9M276.7 1782.7H275.9V1787.6H313.8M313.8 1788.0H306.7V1788.4H313.8M306.7 1788.2H305.7V1788.8H313.8M305.7 1788.5H302.7V1789.2H313.8M313.8 1789.6H306.4V1790.0H313.8M313.8 1790.4H306.4V1790.8H313.8M313.8 1791.6H306.3V1792.0H313.8M313.8 1791.2H303.7V1791.8H306.3M306.4 1790.6H301.9V1791.5H303.7M306.4 1789.8H298.9V1791.0H301.9M313.8 1792.8H310.5V1793.2H313.8M313.8 1792.4H310.2V1793.0H310.5M313.8 1793.6H306.7V1794.0H313.8M313.8 1794.4H305.7V1794.8H313.8M306.7 1793.8H303.8V1794.6H305.7M313.8 1795.2H306.7V1795.6H313.8M313.8 1796.0H303.6V1796.4H313.8M306.7 1795.4H297.4V1796.2H303.6M303.8 1794.2H296.8V1795.8H297.4M310.2 1792.7H295.8V1795.0H296.8M313.8 1797.2H304.1V1797.6H313.8M313.8 1796.8H302.3V1797.4H304.1M313.8 1798.4H303.8V1798.8H313.8M313.8 1798.0H302.1V1798.6H303.8M313.8 1799.2H306.9V1799.6H313.8M306.9 1799.4H304.7V1800.0H313.8M302.1 1798.3H301.4V1799.7H304.7M313.8 1800.4H306.4V1800.8H313.8M313.8 1801.2H310.1V1801.6H313.8M310.1 1801.4H305.4V1802.0H313.8M306.4 1800.6H304.0V1801.7H305.4M301.4 1799.0H297.3V1801.2H304.0M302.3 1797.1H293.4V1800.1H297.3M295.8 1793.8H287.0V1798.6H293.4M298.9 1790.4H280.1V1796.2H287.0M302.7 1788.8H278.9V1793.3H280.1M275.9 1785.1H274.0V1791.1H278.9M313.8 1802.4H306.9V1802.8H313.8M313.8 1803.2H304.5V1803.6H313.8M306.9 1802.6H303.1V1803.4H304.5M313.8 1804.0H310.8V1804.4H313.8M313.8 1804.8H304.2V1805.2H313.8M304.2 1805.0H300.8V1805.6H313.8M310.8 1804.2H298.7V1805.3H300.8M313.8 1806.0H307.5V1806.4H313.8M313.8 1807.2H307.7V1807.6H313.8M307.7 1807.4H305.5V1808.0H313.8M313.8 1806.8H304.0V1807.7H305.5M307.5 1806.2H301.9V1807.2H304.0M298.7 1804.8H294.8V1806.7H301.9M303.1 1803.0H287.0V1805.7H294.8M313.8 1808.4H300.5V1808.8H313.8M313.8 1809.6H307.4V1810.0H313.8M313.8 1809.2H303.2V1809.8H307.4M313.8 1810.4H304.5V1810.8H313.8M313.8 1811.2H308.9V1811.6H313.8M313.8 1812.0H306.9V1812.4H313.8M308.9 1811.4H305.7V1812.2H306.9M304.5 1810.6H301.9V1811.8H305.7M313.8 1812.8H304.8V1813.2H313.8M301.9 1811.2H300.3V1813.0H304.8M303.2 1809.5H294.5V1812.1H300.3M300.5 1808.6H294.0V1810.8H294.5M287.0 1804.4H281.0V1809.7H294.0M313.8 1813.6H309.6V1814.0H313.8M309.6 1813.8H309.4V1814.4H313.8M313.8 1814.8H307.9V1815.2H313.8M313.8 1815.6H307.1V1816.0H313.8M307.1 1815.8H301.4V1816.4H313.8M307.9 1815.0H300.8V1816.1H301.4M309.4 1814.1H299.6V1815.6H300.8M281.0 1807.0H278.4V1814.8H299.6M313.8 1816.8H309.5V1817.2H313.8M313.8 1817.6H309.2V1818.0H313.8M309.5 1817.0H305.4V1817.8H309.2M313.8 1818.4H305.7V1818.8H313.8M313.8 1819.2H308.0V1819.6H313.8M313.8 1820.0H308.7V1820.4H313.8M308.0 1819.4H306.8V1820.2H308.7M305.7 1818.6H305.4V1819.8H306.8M313.8 1820.8H307.6V1821.2H313.8M313.8 1821.6H307.7V1822.0H313.8M313.8 1822.8H308.2V1823.2H313.8M313.8 1822.4H305.0V1823.0H308.2M307.7 1821.8H303.4V1822.7H305.0M313.8 1823.6H306.4V1824.0H313.8M306.4 1823.8H302.7V1824.4H313.8M303.4 1822.3H301.8V1824.1H302.7M307.6 1821.0H299.8V1823.2H301.8M305.4 1819.2H295.1V1822.1H299.8M313.8 1824.8H307.2V1825.2H313.8M307.2 1825.0H304.9V1825.6H313.8M313.8 1826.0H302.5V1826.4H313.8M304.9 1825.3H300.2V1826.2H302.5M313.8 1826.8H310.3V1827.2H313.8M310.3 1827.0H309.7V1827.6H313.8M313.8 1828.0H308.3V1828.4H313.8M308.3 1828.2H305.8V1828.8H313.8M309.7 1827.3H304.0V1828.5H305.8M300.2 1825.8H296.4V1827.9H304.0M295.1 1820.6H290.4V1826.8H296.4M313.8 1829.2H308.2V1829.6H313.8M308.2 1829.4H306.0V1830.0H313.8M306.0 1829.7H297.4V1830.4H313.8M313.8 1831.2H304.2V1831.6H313.8M313.8 1830.8H299.7V1831.4H304.2M297.4 1830.1H296.6V1831.1H299.7M313.8 1832.0H308.0V1832.4H313.8M313.8 1832.8H309.0V1833.2H313.8M308.0 1832.2H307.8V1833.0H309.0M307.8 1832.6H305.8V1833.6H313.8M305.8 1833.1H304.8V1834.0H313.8M313.8 1834.4H307.5V1834.8H313.8M307.5 1834.6H305.2V1835.2H313.8M304.8 1833.5H293.6V1834.9H305.2M296.6 1830.6H286.0V1834.2H293.6M290.4 1823.7H282.0V1832.4H286.0M305.4 1817.4H279.4V1828.1H282.0M278.4 1810.9H269.0V1822.7H279.4M274.0 1788.1H256.0V1816.8H269.0M304.6 1765.7H250.8V1802.5H256.0M313.8 1835.6H307.5V1836.0H313.8M313.8 1836.8H308.3V1837.2H313.8M313.8 1836.4H306.2V1837.0H308.3M307.5 1835.8H305.3V1836.7H306.2M313.8 1837.6H308.4V1838.0H313.8M308.4 1837.8H305.4V1838.4H313.8M313.8 1838.8H307.3V1839.2H313.8M313.8 1839.6H308.6V1840.0H313.8M307.3 1839.0H306.8V1839.8H308.6M313.8 1840.4H307.1V1840.8H313.8M306.8 1839.4H305.7V1840.6H307.1M305.4 1838.1H302.7V1840.0H305.7M305.3 1836.3H299.6V1839.1H302.7M313.8 1841.2H305.1V1841.6H313.8M313.8 1842.0H308.8V1842.4H313.8M308.8 1842.2H307.0V1842.8H313.8M305.1 1841.4H302.2V1842.5H307.0M299.6 1837.7H298.1V1842.0H302.2M313.8 1843.2H305.4V1843.6H313.8M313.8 1844.0H307.2V1844.4H313.8M305.4 1843.4H303.8V1844.2H307.2M313.8 1845.2H307.5V1845.6H313.8M307.5 1845.4H305.1V1846.0H313.8M313.8 1844.8H300.8V1845.7H305.1M313.8 1846.8H305.8V1847.2H313.8M313.8 1846.4H301.8V1847.0H305.8M300.8 1845.2H299.8V1846.7H301.8M303.8 1843.8H294.8V1846.0H299.8M313.8 1847.6H301.4V1848.0H313.8M301.4 1847.8H299.1V1848.4H313.8M294.8 1844.9H293.9V1848.1H299.1M313.8 1849.2H307.4V1849.6H313.8M313.8 1850.0H308.0V1850.4H313.8M307.4 1849.4H296.3V1850.2H308.0M313.8 1848.8H296.0V1849.8H296.3M293.9 1846.5H277.2V1849.3H296.0M298.1 1839.8H274.5V1847.9H277.2M313.8 1850.8H307.4V1851.2H313.8M274.5 1843.8H273.1V1851.0H307.4M313.8 1851.6H306.9V1852.0H313.8M313.8 1852.4H308.6V1852.8H313.8M306.9 1851.8H305.7V1852.6H308.6M305.7 1852.2H303.5V1853.2H313.8M313.8 1853.6H308.1V1854.0H313.8M308.1 1853.8H306.5V1854.4H313.8M313.8 1854.8H305.6V1855.2H313.8M306.5 1854.1H303.5V1855.0H305.6M313.8 1855.6H306.4V1856.0H313.8M313.8 1856.4H307.6V1856.8H313.8M313.8 1857.6H309.1V1858.0H313.8M313.8 1857.2H307.5V1857.8H309.1M307.6 1856.6H305.3V1857.5H307.5M313.8 1858.4H305.9V1858.8H313.8M305.3 1857.1H304.2V1858.6H305.9M306.4 1855.8H302.2V1857.8H304.2M303.5 1854.6H301.8V1856.8H302.2M303.5 1852.7H300.7V1855.7H301.8M273.1 1847.4H248.4V1854.2H300.7M250.8 1784.1H230.4V1850.8H248.4M313.8 1859.2H308.6V1859.6H313.8M313.8 1860.0H308.2V1860.4H313.8M308.2 1860.2H307.0V1860.8H313.8M307.0 1860.5H305.1V1861.2H313.8M313.8 1862.0H307.5V1862.4H313.8M313.8 1861.6H305.6V1862.2H307.5M305.1 1860.8H303.4V1861.9H305.6M308.6 1859.4H299.4V1861.4H303.4M313.8 1862.8H303.5V1863.2H313.8M303.5 1863.0H302.3V1863.6H313.8M299.4 1860.4H297.6V1863.3H302.3M313.8 1864.0H307.0V1864.4H313.8M307.0 1864.2H306.2V1864.8H313.8M306.2 1864.5H303.2V1865.2H313.8M297.6 1861.8H290.8V1864.8H303.2M313.8 1865.6H310.0V1866.0H313.8M310.0 1865.8H308.9V1866.4H313.8M313.8 1866.8H309.6V1867.2H313.8M309.6 1867.0H301.7V1867.6H313.8M301.7 1867.3H293.7V1868.0H313.8M308.9 1866.1H290.7V1867.7H293.7M313.8 1868.8H308.9V1869.2H313.8M313.8 1868.4H307.4V1869.0H308.9M290.7 1866.9H284.1V1868.7H307.4M313.8 1869.6H306.2V1870.0H313.8M313.8 1870.4H306.2V1870.8H313.8M306.2 1869.8H303.5V1870.6H306.2M303.5 1870.2H302.6V1871.2H313.8M284.1 1867.8H280.2V1870.7H302.6M290.8 1863.3H244.5V1869.2H280.2M313.8 1871.6H307.0V1872.0H313.8M313.8 1872.8H306.7V1873.2H313.8M313.8 1873.6H308.0V1874.0H313.8M306.7 1873.0H306.0V1873.8H308.0M313.8 1872.4H303.5V1873.4H306.0M313.8 1874.4H307.6V1874.8H313.8M307.6 1874.6H303.1V1875.2H313.8M313.8 1876.0H307.0V1876.4H313.8M307.0 1876.2H305.4V1876.8H313.8M313.8 1875.6H302.6V1876.5H305.4M313.8 1877.6H309.3V1878.0H313.8M313.8 1877.2H301.3V1877.8H309.3M302.6 1876.1H301.0V1877.5H301.3M303.1 1874.9H298.7V1876.8H301.0M313.8 1878.4H305.4V1878.8H313.8M313.8 1879.2H305.4V1879.6H313.8M305.4 1878.6H299.8V1879.4H305.4M298.7 1875.8H286.2V1879.0H299.8M303.5 1872.9H277.5V1877.4H286.2M307.0 1871.8H274.8V1875.2H277.5M313.8 1880.0H305.3V1880.4H313.8M313.8 1880.8H302.1V1881.2H313.8M305.3 1880.2H301.0V1881.0H302.1M313.8 1881.6H305.7V1882.0H313.8M305.7 1881.8H304.5V1882.4H313.8M301.0 1880.6H299.8V1882.1H304.5M313.8 1883.2H309.5V1883.6H313.8M313.8 1882.8H305.4V1883.4H309.5M305.4 1883.1H304.0V1884.0H313.8M304.0 1883.6H303.1V1884.4H313.8M313.8 1885.6H302.5V1886.0H313.8M313.8 1885.2H299.5V1885.8H302.5M313.8 1884.8H298.7V1885.5H299.5M303.1 1884.0H297.6V1885.2H298.7M313.8 1886.4H305.4V1886.8H313.8M313.8 1887.6H308.7V1888.0H313.8M313.8 1887.2H307.9V1887.8H308.7M307.9 1887.5H306.2V1888.4H313.8M306.2 1888.0H297.9V1888.8H313.8M305.4 1886.6H295.8V1888.4H297.9M313.8 1889.2H304.0V1889.6H313.8M313.8 1890.0H298.4V1890.4H313.8M304.0 1889.4H296.7V1890.2H298.4M295.8 1887.5H294.7V1889.8H296.7M297.6 1884.6H290.6V1888.6H294.7M290.6 1886.6H288.2V1890.8H313.8M299.8 1881.4H287.0V1888.7H288.2M313.8 1891.2H305.9V1891.6H313.8M313.8 1892.0H304.4V1892.4H313.8M313.8 1892.8H306.8V1893.2H313.8M304.4 1892.2H303.9V1893.0H306.8M313.8 1894.0H306.9V1894.4H313.8M313.8 1893.6H304.6V1894.2H306.9M313.8 1894.8H304.9V1895.2H313.8M304.9 1895.0H302.6V1895.6H313.8M313.8 1896.0H308.3V1896.4H313.8M302.6 1895.3H301.8V1896.2H308.3M313.8 1896.8H307.2V1897.2H313.8M307.2 1897.0H305.8V1897.6H313.8M305.8 1897.3H303.5V1898.0H313.8M301.8 1895.8H300.9V1897.7H303.5M304.6 1893.9H300.2V1896.7H300.9M313.8 1898.4H309.6V1898.8H313.8M313.8 1899.2H309.6V1899.6H313.8M309.6 1899.4H308.0V1900.0H313.8M309.6 1898.6H304.8V1899.7H308.0M313.8 1900.4H307.9V1900.8H313.8M307.9 1900.6H306.5V1901.2H313.8M313.8 1902.0H309.8V1902.4H313.8M309.8 1902.2H308.1V1902.8H313.8M313.8 1901.6H304.8V1902.5H308.1M306.5 1900.9H301.6V1902.1H304.8M304.8 1899.2H300.7V1901.5H301.6M300.2 1895.3H298.4V1900.3H300.7M313.8 1903.6H307.9V1904.0H313.8M313.8 1903.2H302.2V1903.8H307.9M298.4 1897.8H298.0V1903.5H302.2M313.8 1904.4H305.2V1904.8H313.8M313.8 1905.2H303.4V1905.6H313.8M313.8 1906.0H301.9V1906.4H313.8M303.4 1905.4H301.6V1906.2H301.9M313.8 1906.8H305.8V1907.2H313.8M305.8 1907.0H303.9V1907.6H313.8M301.6 1905.8H298.8V1907.3H303.9M305.2 1904.6H297.6V1906.6H298.8M313.8 1908.0H301.2V1908.5H313.8M313.8 1909.4H306.8V1909.8H313.8M313.8 1909.0H302.7V1909.6H306.8M301.2 1908.2H299.9V1909.3H302.7M297.6 1905.6H294.4V1908.8H299.9M298.0 1900.7H279.8V1907.2H294.4M303.9 1892.6H274.6V1903.9H279.8M305.9 1891.4H270.5V1898.3H274.6M287.0 1885.0H262.5V1894.8H270.5M274.8 1873.5H245.3V1889.9H262.5M244.5 1866.3H219.1V1881.7H245.3M230.4 1817.4H213.9V1874.0H219.1M313.8 1910.2H305.6V1910.6H313.8M313.8 1911.0H304.9V1911.4H313.8M305.6 1910.4H304.1V1911.2H304.9M313.8 1911.8H308.2V1912.2H313.8M308.2 1912.0H304.2V1912.6H313.8M304.1 1910.8H301.7V1912.3H304.2M313.8 1913.0H305.5V1913.4H313.8M305.5 1913.2H298.4V1913.8H313.8M301.7 1911.6H281.6V1913.5H298.4M313.8 1914.6H303.9V1915.0H313.8M313.8 1914.2H291.2V1914.8H303.9M313.8 1915.4H300.3V1915.8H313.8M291.2 1914.5H288.9V1915.6H300.3M281.6 1912.5H278.3V1915.1H288.9M313.8 1916.2H310.1V1916.6H313.8M310.1 1916.4H309.1V1917.0H313.8M313.8 1917.8H309.9V1918.2H313.8M313.8 1917.4H303.5V1918.0H309.9M313.8 1919.4H305.9V1919.8H313.8M313.8 1919.0H304.4V1919.6H305.9M313.8 1918.6H302.2V1919.3H304.4M303.5 1917.7H301.2V1919.0H302.2M313.8 1920.2H308.1V1920.6H313.8M308.1 1920.4H303.3V1921.0H313.8M303.3 1920.7H299.8V1921.4H313.8M301.2 1918.3H297.5V1921.1H299.8M309.1 1916.7H294.6V1919.7H297.5M278.3 1913.8H277.0V1918.2H294.6M313.8 1921.8H299.5V1922.2H313.8M313.8 1922.6H309.0V1923.0H313.8M309.0 1922.8H307.4V1923.4H313.8M299.5 1922.0H293.7V1923.1H307.4M313.8 1923.8H304.5V1924.2H313.8M304.5 1924.0H298.0V1924.6H313.8M293.7 1922.5H293.2V1924.3H298.0M313.8 1925.4H304.7V1925.8H313.8M313.8 1925.0H301.8V1925.6H304.7M313.8 1926.2H308.1V1926.6H313.8M308.1 1926.4H306.8V1927.0H313.8M301.8 1925.3H298.0V1926.7H306.8M313.8 1927.4H306.6V1927.8H313.8M313.8 1928.2H305.8V1928.6H313.8M305.8 1928.4H303.7V1929.0H313.8M313.8 1929.4H304.4V1929.8H313.8M313.8 1930.2H308.7V1930.6H313.8M304.4 1929.6H303.1V1930.4H308.7M303.7 1928.7H301.6V1930.0H303.1M313.8 1931.0H308.1V1931.4H313.8M308.1 1931.2H305.8V1931.8H313.8M305.8 1931.5H304.5V1932.2H313.8M304.5 1931.8H303.4V1932.6H313.8M313.8 1933.0H307.1V1933.4H313.8M303.4 1932.2H299.3V1933.2H307.1M313.8 1934.2H310.0V1934.6H313.8M313.8 1933.8H300.7V1934.4H310.0M299.3 1932.7H295.2V1934.1H300.7M301.6 1929.3H287.7V1933.4H295.2M306.6 1927.6H284.3V1931.4H287.7M298.0 1926.0H274.6V1929.5H284.3M293.2 1923.4H272.5V1927.7H274.6M313.8 1935.0H308.0V1935.4H313.8M308.0 1935.2H305.9V1935.8H313.8M305.9 1935.5H305.0V1936.2H313.8M313.8 1936.6H307.3V1937.0H313.8M305.0 1935.8H301.6V1936.8H307.3M313.8 1937.8H308.6V1938.2H313.8M313.8 1937.4H306.4V1938.0H308.6M313.8 1938.6H304.8V1939.0H313.8M306.4 1937.7H300.2V1938.8H304.8M313.8 1939.4H305.5V1939.8H313.8M313.8 1940.2H305.4V1940.6H313.8M305.5 1939.6H300.9V1940.4H305.4M300.2 1938.3H296.5V1940.0H300.9M313.8 1941.0H307.5V1941.4H313.8M307.5 1941.2H306.2V1941.8H313.8M296.5 1939.1H290.1V1941.5H306.2M301.6 1936.3H287.5V1940.3H290.1M313.8 1942.6H307.4V1943.0H313.8M313.8 1943.4H309.1V1943.8H313.8M307.4 1942.8H307.1V1943.6H309.1M313.8 1942.2H305.1V1943.2H307.1M305.1 1942.7H304.3V1944.2H313.8M313.8 1945.4H309.9V1945.8H313.8M313.8 1945.0H302.2V1945.6H309.9M313.8 1944.6H300.4V1945.3H302.2M313.8 1946.2H308.2V1946.6H313.8M308.2 1946.4H306.9V1947.0H313.8M300.4 1945.0H293.7V1946.7H306.9M313.8 1947.4H306.3V1947.8H313.8M293.7 1945.8H292.2V1947.6H306.3M304.3 1943.5H285.2V1946.7H292.2M287.5 1938.3H276.9V1945.1H285.2M272.5 1925.6H267.8V1941.7H276.9M277.0 1916.0H253.1V1933.6H267.8M313.8 1948.2H307.2V1948.6H313.8M307.2 1948.4H305.9V1949.0H313.8M313.8 1949.4H302.5V1949.8H313.8M302.5 1949.6H301.7V1950.2H313.8M313.8 1950.6H307.2V1951.0H313.8M313.8 1951.8H308.1V1952.2H313.8M313.8 1951.4H307.3V1952.0H308.1M307.2 1950.8H304.9V1951.7H307.3M313.8 1952.6H305.2V1953.0H313.8M304.9 1951.3H302.0V1952.8H305.2M301.7 1949.9H298.5V1952.0H302.0M305.9 1948.7H294.9V1951.0H298.5M313.8 1953.4H302.3V1953.8H313.8M313.8 1954.2H307.9V1954.6H313.8M313.8 1955.4H310.0V1955.8H313.8M310.0 1955.6H307.6V1956.2H313.8M307.6 1955.9H305.7V1956.6H313.8M313.8 1955.0H301.5V1956.2H305.7M307.9 1954.4H300.3V1955.6H301.5M302.3 1953.6H299.4V1955.0H300.3M294.9 1949.8H287.5V1954.3H299.4M313.8 1957.4H308.9V1957.8H313.8M308.9 1957.6H307.0V1958.2H313.8M313.8 1957.0H304.3V1957.9H307.0M313.8 1958.6H307.2V1959.0H313.8M304.3 1957.5H303.6V1958.8H307.2M313.8 1959.8H306.0V1960.2H313.8M313.8 1959.4H304.1V1960.0H306.0M303.6 1958.1H301.6V1959.7H304.1M287.5 1952.1H279.7V1958.9H301.6M253.1 1924.8H240.0V1955.5H279.7M313.8 1961.0H305.2V1961.4H313.8M313.8 1960.6H303.6V1961.2H305.2M313.8 1962.2H304.5V1962.6H313.8M313.8 1961.8H303.4V1962.4H304.5M303.4 1962.1H299.1V1963.0H313.8M299.1 1962.6H296.8V1963.4H313.8M313.8 1963.8H306.2V1964.2H313.8M306.2 1964.0H299.1V1964.6H313.8M313.8 1965.0H305.5V1965.4H313.8M305.5 1965.2H302.3V1965.8H313.8M299.1 1964.3H298.0V1965.5H302.3M296.8 1963.0H292.6V1964.9H298.0M313.8 1966.6H305.4V1967.0H313.8M313.8 1966.2H302.1V1966.8H305.4M302.1 1966.5H296.4V1967.4H313.8M292.6 1963.9H289.8V1967.0H296.4M313.8 1967.8H307.4V1968.2H313.8M313.8 1968.6H304.7V1969.0H313.8M307.4 1968.0H303.4V1968.8H304.7M289.8 1965.4H286.7V1968.4H303.4M313.8 1969.4H306.9V1969.8H313.8M306.9 1969.6H303.4V1970.2H313.8M286.7 1966.9H286.3V1969.9H303.4M313.8 1971.0H308.7V1971.4H313.8M313.8 1970.6H306.6V1971.2H308.7M306.6 1970.9H304.3V1971.8H313.8M313.8 1972.6H305.0V1973.0H313.8M305.0 1972.8H304.1V1973.4H313.8M313.8 1972.2H303.4V1973.1H304.1M303.4 1972.7H299.1V1973.8H313.8M299.1 1973.2H295.9V1974.2H313.8M304.3 1971.4H292.7V1973.7H295.9M313.8 1974.6H305.2V1975.0H313.8M313.8 1975.4H307.6V1975.8H313.8M307.6 1975.6H306.4V1976.2H313.8M313.8 1977.0H306.6V1977.4H313.8M313.8 1976.6H305.2V1977.2H306.6M306.4 1975.9H301.7V1976.9H305.2M305.2 1974.8H296.6V1976.4H301.7M313.8 1978.2H309.3V1978.6H313.8M313.8 1979.0H306.0V1979.4H313.8M313.8 1980.2H308.9V1980.6H313.8M313.8 1979.8H308.7V1980.4H308.9M306.0 1979.2H303.6V1980.1H308.7M309.3 1978.4H299.3V1979.7H303.6M313.8 1977.8H297.6V1979.0H299.3M296.6 1975.6H295.3V1978.4H297.6M292.7 1972.5H286.3V1977.0H295.3M286.3 1968.4H276.3V1974.8H286.3M313.8 1981.4H307.2V1981.8H313.8M313.8 1981.0H304.9V1981.6H307.2M313.8 1982.6H307.1V1983.0H313.8M307.1 1982.8H306.7V1983.4H313.8M313.8 1982.2H305.6V1983.1H306.7M304.9 1981.3H304.4V1982.7H305.6M313.8 1984.2H307.5V1984.6H313.8M313.8 1983.8H304.3V1984.4H307.5M304.4 1982.0H297.6V1984.1H304.3M313.8 1985.0H306.4V1985.4H313.8M313.8 1985.8H308.1V1986.2H313.8M313.8 1987.4H305.6V1987.8H313.8M313.8 1987.0H304.6V1987.6H305.6M304.6 1987.3H303.6V1988.2H313.8M303.6 1987.8H301.0V1988.6H313.8M313.8 1986.6H300.8V1988.2H301.0M308.1 1986.0H298.4V1987.4H300.8M306.4 1985.2H296.9V1986.7H298.4M297.6 1983.0H293.3V1985.9H296.9M313.8 1989.4H307.6V1989.8H313.8M313.8 1989.0H303.6V1989.6H307.6M313.8 1990.6H309.2V1991.0H313.8M313.8 1990.2H306.4V1990.8H309.2M313.8 1992.2H309.8V1992.6H313.8M313.8 1991.8H309.1V1992.4H309.8M313.8 1991.4H307.8V1992.1H309.1M313.8 1993.0H310.0V1993.4H313.8M307.8 1991.8H307.1V1993.2H310.0M313.8 1994.2H307.7V1994.6H313.8M313.8 1993.8H305.3V1994.4H307.7M307.1 1992.5H304.2V1994.1H305.3M313.8 1995.0H310.2V1995.4H313.8M310.2 1995.2H308.7V1995.8H313.8M313.8 1996.2H308.9V1996.6H313.8M308.9 1996.4H307.9V1997.0H313.8M308.7 1995.5H307.7V1996.7H307.9M313.8 1997.4H309.3V1997.8H313.8M309.3 1997.6H307.5V1998.2H313.8M307.7 1996.1H306.1V1997.9H307.5M304.2 1993.3H303.2V1997.0H306.1M306.4 1990.5H302.0V1995.1H303.2M303.6 1989.3H301.3V1992.8H302.0M313.8 1998.6H307.3V1999.0H313.8M307.3 1998.8H303.8V1999.4H313.8M313.8 1999.8H306.7V2000.2H313.8M313.8 2000.6H308.5V2001.0H313.8M306.7 2000.0H304.1V2000.8H308.5M303.8 1999.1H301.4V2000.4H304.1M301.3 1991.1H296.5V1999.8H301.4M313.8 2001.8H305.8V2002.2H313.8M305.8 2002.0H304.2V2002.6H313.8M313.8 2001.4H297.6V2002.3H304.2M313.8 2003.0H308.4V2003.4H313.8M313.8 2003.8H305.3V2004.2H313.8M308.4 2003.2H303.4V2004.0H305.3M313.8 2004.6H304.5V2005.0H313.8M303.4 2003.6H302.0V2004.8H304.5M313.8 2005.4H303.1V2005.8H313.8M313.8 2006.6H306.5V2007.0H313.8M313.8 2006.2H305.2V2006.8H306.5M303.1 2005.6H301.9V2006.5H305.2M302.0 2004.2H297.7V2006.1H301.9M313.8 2007.4H306.5V2007.8H313.8M313.8 2008.2H309.3V2008.6H313.8M309.3 2008.4H307.6V2009.0H313.8M306.5 2007.6H305.1V2008.7H307.6M313.8 2009.4H307.2V2009.8H313.8M305.1 2008.2H304.3V2009.6H307.2M313.8 2010.2H310.1V2010.6H313.8M313.8 2011.0H307.6V2011.4H313.8M310.1 2010.4H303.7V2011.2H307.6M313.8 2011.8H309.0V2012.2H313.8M309.0 2012.0H307.0V2012.6H313.8M313.8 2013.8H308.8V2014.2H313.8M313.8 2013.4H307.7V2014.0H308.8M313.8 2013.0H307.1V2013.7H307.7M307.0 2012.3H304.5V2013.4H307.1M313.8 2014.6H306.4V2015.0H313.8M306.4 2014.8H305.0V2015.4H313.8M304.5 2012.8H304.1V2015.1H305.0M303.7 2010.8H303.3V2014.0H304.1M304.3 2008.9H300.6V2012.4H303.3M297.7 2005.1H296.2V2010.6H300.6M297.6 2001.9H294.8V2007.9H296.2M296.5 1995.4H290.7V2004.9H294.8M293.3 1984.5H286.5V2000.1H290.7M313.8 2015.8H307.3V2016.2H313.8M307.3 2016.0H305.1V2016.6H313.8M286.5 1992.3H285.2V2016.3H305.1M313.8 2017.4H308.1V2017.8H313.8M308.1 2017.6H306.1V2018.2H313.8M313.8 2017.0H304.8V2017.9H306.1M304.8 2017.5H302.3V2018.6H313.8M313.8 2019.0H305.1V2019.4H313.8M305.1 2019.2H304.7V2019.8H313.8M302.3 2018.0H298.0V2019.5H304.7M313.8 2020.6H305.3V2021.0H313.8M313.8 2021.8H308.2V2022.2H313.8M313.8 2021.4H306.9V2022.0H308.2M305.3 2020.8H304.6V2021.7H306.9M313.8 2020.2H303.1V2021.3H304.6M298.0 2018.8H293.0V2020.7H303.1M313.8 2023.0H307.7V2023.4H313.8M307.7 2023.2H300.1V2023.8H313.8M300.1 2023.5H296.2V2024.2H313.8M313.8 2022.6H293.2V2023.9H296.2M293.0 2019.7H290.5V2023.2H293.2M313.8 2024.6H302.3V2025.0H313.8M313.8 2025.4H303.6V2025.8H313.8M302.3 2024.8H302.0V2025.6H303.6M302.0 2025.2H298.8V2026.2H313.8M290.5 2021.5H289.0V2025.7H298.8M285.2 2004.3H279.4V2023.6H289.0M313.8 2026.6H303.9V2027.0H313.8M313.8 2027.4H305.3V2027.8H313.8M303.9 2026.8H299.7V2027.6H305.3M313.8 2028.6H310.7V2029.0H313.8M313.8 2029.8H309.2V2030.2H313.8M313.8 2029.4H307.6V2030.0H309.2M310.7 2028.8H305.6V2029.7H307.6M313.8 2030.6H299.2V2031.0H313.8M305.6 2029.3H295.8V2030.8H299.2M313.8 2031.8H305.3V2032.2H313.8M313.8 2031.4H301.8V2032.0H305.3M313.8 2032.6H306.6V2033.0H313.8M306.6 2032.8H305.2V2033.4H313.8M305.2 2033.1H303.8V2033.8H313.8M301.8 2031.7H300.7V2033.5H303.8M313.8 2034.2H306.2V2034.6H313.8M313.8 2035.0H306.7V2035.4H313.8M306.7 2035.2H306.4V2035.8H313.8M306.2 2034.4H304.0V2035.5H306.4M313.8 2036.2H300.4V2036.6H313.8M304.0 2035.0H297.7V2036.4H300.4M300.7 2032.6H295.8V2035.7H297.7M295.8 2030.0H295.1V2034.1H295.8M313.8 2037.0H307.4V2037.4H313.8M307.4 2037.2H305.2V2037.8H313.8M305.2 2037.5H304.4V2038.2H313.8M313.8 2038.6H303.8V2039.0H313.8M304.4 2037.9H301.0V2038.8H303.8M313.8 2039.4H303.4V2039.8H313.8M301.0 2038.3H299.5V2039.6H303.4M313.8 2040.2H302.3V2040.6H313.8M299.5 2039.0H298.5V2040.4H302.3M295.1 2032.1H292.5V2039.7H298.5M313.8 2028.2H290.4V2035.9H292.5M313.8 2041.0H307.5V2041.4H313.8M307.5 2041.2H305.4V2041.8H313.8M313.8 2042.2H307.5V2042.6H313.8M313.8 2043.0H309.1V2043.4H313.8M307.5 2042.4H299.0V2043.2H309.1M313.8 2043.8H307.6V2044.2H313.8M307.6 2044.0H298.9V2044.6H313.8M299.0 2042.8H292.9V2044.3H298.9M313.8 2045.0H310.4V2045.4H313.8M310.4 2045.2H309.1V2045.8H313.8M292.9 2043.6H291.3V2045.5H309.1M305.4 2041.5H289.1V2044.5H291.3M290.4 2032.0H280.4V2043.0H289.1M299.7 2027.2H278.3V2037.5H280.4M279.4 2013.9H275.3V2032.4H278.3M276.3 1971.6H274.1V2023.2H275.3M313.8 2046.2H305.5V2046.6H313.8M313.8 2047.0H308.5V2047.4H313.8M308.5 2047.2H306.1V2047.8H313.8M305.5 2046.4H302.9V2047.5H306.1M313.8 2048.2H305.1V2048.6H313.8M313.8 2049.0H301.7V2049.4H313.8M305.1 2048.4H301.6V2049.2H301.7M302.9 2047.0H291.4V2048.8H301.6M313.8 2050.2H306.4V2050.6H313.8M313.8 2049.8H301.9V2050.4H306.4M313.8 2051.4H307.9V2051.8H313.8M313.8 2051.0H306.9V2051.6H307.9M313.8 2052.2H304.5V2052.6H313.8M313.8 2053.0H304.9V2053.4H313.8M304.5 2052.4H302.2V2053.2H304.9M306.9 2051.3H300.0V2052.8H302.2M301.9 2050.1H297.9V2052.1H300.0M313.8 2053.8H307.3V2054.2H313.8M297.9 2051.1H296.9V2054.0H307.3M291.4 2047.9H290.6V2052.5H296.9M313.8 2054.6H307.9V2055.0H313.8M307.9 2054.8H306.8V2055.4H313.8M290.6 2050.2H289.5V2055.1H306.8M313.8 2055.8H305.4V2056.2H313.8M313.8 2056.6H304.7V2057.0H313.8M305.4 2056.0H299.5V2056.8H304.7M313.8 2057.4H308.1V2057.8H313.8M308.1 2057.6H305.1V2058.2H313.8M299.5 2056.4H295.4V2057.9H305.1M313.8 2058.6H307.5V2059.0H313.8M307.5 2058.8H305.8V2059.4H313.8M305.8 2059.1H305.4V2059.8H313.8M295.4 2057.2H293.3V2059.5H305.4M313.8 2060.2H308.1V2060.6H313.8M308.1 2060.4H307.2V2061.0H313.8M307.2 2060.7H306.9V2061.4H313.8M313.8 2061.8H308.5V2062.2H313.8M308.5 2062.0H299.8V2062.6H313.8M306.9 2061.1H298.8V2062.3H299.8M313.8 2063.4H307.2V2063.8H313.8M313.8 2063.0H304.5V2063.6H307.2M304.5 2063.3H301.9V2064.2H313.8M313.8 2065.0H306.3V2065.4H313.8M306.3 2065.2H303.4V2065.8H313.8M313.8 2064.6H303.3V2065.5H303.4M313.8 2066.2H304.3V2066.6H313.8M303.3 2065.1H300.4V2066.4H304.3M301.9 2063.8H299.0V2065.7H300.4M298.8 2061.7H296.1V2064.7H299.0M313.8 2067.0H307.9V2067.4H313.8M313.8 2067.8H308.2V2068.2H313.8M313.8 2068.6H309.2V2069.0H313.8M309.2 2068.8H307.3V2069.4H313.8M313.8 2069.8H307.4V2070.2H313.8M307.3 2069.1H307.1V2070.0H307.4M308.2 2068.0H306.1V2069.6H307.1M313.8 2070.6H309.1V2071.0H313.8M306.1 2068.8H303.5V2070.8H309.1M307.9 2067.2H302.4V2069.8H303.5M313.8 2071.8H308.6V2072.2H313.8M313.8 2071.4H307.5V2072.0H308.6M307.5 2071.7H304.1V2072.6H313.8M302.4 2068.5H301.6V2072.2H304.1M313.8 2073.4H309.6V2073.8H313.8M313.8 2073.0H309.5V2073.6H309.6M313.8 2074.2H309.0V2074.6H313.8M309.0 2074.4H304.2V2075.0H313.8M309.5 2073.3H298.6V2074.7H304.2M301.6 2070.3H297.2V2074.0H298.6M296.1 2063.2H292.7V2072.2H297.2M293.3 2058.3H287.7V2067.7H292.7M289.5 2052.7H281.0V2063.0H287.7M274.1 1997.4H267.0V2057.8H281.0M303.6 1960.9H265.8V2027.6H267.0M313.8 2075.8H308.2V2076.2H313.8M308.2 2076.0H307.7V2076.6H313.8M313.8 2075.4H306.2V2076.3H307.7M313.8 2077.0H306.1V2077.4H313.8M306.1 2077.2H305.0V2077.8H313.8M313.8 2078.2H305.3V2078.6H313.8M305.0 2077.5H303.7V2078.4H305.3M313.8 2079.0H305.6V2079.4H313.8M303.7 2077.9H300.2V2079.2H305.6M313.8 2079.8H302.7V2080.2H313.8M300.2 2078.6H298.3V2080.0H302.7M313.8 2080.6H300.5V2081.0H313.8M298.3 2079.3H295.8V2080.8H300.5M306.2 2075.9H283.1V2080.0H295.8M313.8 2081.4H309.9V2081.8H313.8M309.9 2081.6H308.7V2082.2H313.8M313.8 2083.0H308.4V2083.4H313.8M308.4 2083.2H307.7V2083.8H313.8M313.8 2084.2H306.1V2084.6H313.8M307.7 2083.5H305.8V2084.4H306.1M313.8 2085.0H305.0V2085.4H313.8M305.8 2083.9H302.4V2085.2H305.0M313.8 2082.6H300.8V2084.6H302.4M313.8 2086.6H307.6V2087.0H313.8M313.8 2086.2H304.3V2086.8H307.6M313.8 2085.8H303.8V2086.5H304.3M313.8 2087.4H309.2V2087.8H313.8M309.2 2087.6H306.6V2088.2H313.8M313.8 2089.0H306.8V2089.4H313.8M313.8 2088.6H304.5V2089.2H306.8M306.6 2087.9H303.9V2088.9H304.5M303.8 2086.2H302.2V2088.4H303.9M313.8 2089.8H307.8V2090.2H313.8M313.8 2090.6H307.4V2091.0H313.8M307.8 2090.0H307.2V2090.8H307.4M302.2 2087.3H300.5V2090.4H307.2M300.8 2083.6H298.8V2088.8H300.5M308.7 2081.9H297.2V2086.2H298.8M313.8 2091.4H308.7V2091.8H313.8M313.8 2092.2H308.3V2092.6H313.8M313.8 2093.0H307.4V2093.4H313.8M308.3 2092.4H307.0V2093.2H307.4M308.7 2091.6H304.7V2092.8H307.0M313.8 2094.2H307.4V2094.6H313.8M313.8 2093.8H302.9V2094.4H307.4M313.8 2095.0H309.6V2095.4H313.8M309.6 2095.2H307.9V2095.8H313.8M302.9 2094.1H302.6V2095.5H307.9M304.7 2092.2H301.5V2094.8H302.6M313.8 2096.6H307.8V2097.0H313.8M313.8 2096.2H305.2V2096.8H307.8M313.8 2097.4H306.8V2097.8H313.8M313.8 2098.6H306.0V2099.0H313.8M313.8 2098.2H305.1V2098.8H306.0M306.8 2097.6H303.8V2098.5H305.1M305.2 2096.5H302.2V2098.1H303.8M313.8 2099.8H305.1V2100.2H313.8M313.8 2099.4H303.0V2100.0H305.1M302.2 2097.3H298.7V2099.7H303.0M301.5 2093.5H296.3V2098.5H298.7M297.2 2084.1H292.0V2096.0H296.3M292.0 2090.0H289.0V2100.6H313.8M283.1 2077.9H278.7V2095.3H289.0M313.8 2101.0H309.5V2101.4H313.8M309.5 2101.2H308.2V2101.8H313.8M308.2 2101.5H298.8V2102.2H313.8M313.8 2102.6H307.1V2103.0H313.8M313.8 2103.4H308.2V2103.8H313.8M313.8 2104.6H309.8V2105.0H313.8M313.8 2104.2H308.1V2104.8H309.8M308.2 2103.6H307.6V2104.5H308.1M307.1 2102.8H306.1V2104.1H307.6M313.8 2105.4H307.1V2105.8H313.8M306.1 2103.4H304.9V2105.6H307.1M313.8 2106.2H305.1V2106.6H313.8M313.8 2107.0H308.5V2107.4H313.8M313.8 2107.8H308.7V2108.2H313.8M308.7 2108.0H308.3V2108.6H313.8M308.5 2107.2H306.4V2108.3H308.3M305.1 2106.4H304.6V2107.8H306.4M304.9 2104.5H303.7V2107.1H304.6M313.8 2109.0H307.7V2109.4H313.8M313.8 2110.2H307.4V2110.6H313.8M313.8 2109.8H305.8V2110.4H307.4M307.7 2109.2H305.4V2110.1H305.8M313.8 2111.0H309.4V2111.4H313.8M309.4 2111.2H308.2V2111.8H313.8M305.4 2109.7H303.6V2111.5H308.2M303.6 2110.6H302.6V2112.2H313.8M303.7 2105.8H299.6V2111.4H302.6M313.8 2113.0H306.4V2113.4H313.8M313.8 2112.6H304.1V2113.2H306.4M313.8 2113.8H304.9V2114.2H313.8M313.8 2114.6H304.1V2115.0H313.8M304.9 2114.0H303.2V2114.8H304.1M303.2 2114.4H302.1V2115.4H313.8M304.1 2112.9H300.0V2114.9H302.1M313.8 2115.8H304.8V2116.2H313.8M313.8 2116.6H307.5V2117.0H313.8M304.8 2116.0H300.8V2116.8H307.5M300.0 2113.9H298.4V2116.4H300.8M313.8 2117.4H308.8V2117.8H313.8M308.8 2117.6H307.5V2118.2H313.8M313.8 2118.6H307.5V2119.0H313.8M307.5 2118.8H305.6V2119.4H313.8M305.6 2119.1H303.4V2119.8H313.8M307.5 2117.9H302.3V2119.5H303.4M313.8 2120.2H310.4V2120.6H313.8M302.3 2118.7H300.7V2120.4H310.4M298.4 2115.1H297.3V2119.5H300.7M297.3 2117.3H296.6V2121.0H313.8M299.6 2108.6H293.6V2119.2H296.6M298.8 2101.8H293.3V2113.9H293.6M313.8 2121.4H305.5V2121.8H313.8M305.5 2121.6H304.5V2122.2H313.8M304.5 2121.9H302.9V2122.6H313.8M313.8 2123.0H307.5V2123.4H313.8M313.8 2123.8H309.7V2124.2H313.8M313.8 2125.0H307.1V2125.4H313.8M307.1 2125.2H306.1V2125.8H313.8M313.8 2124.6H304.0V2125.5H306.1M309.7 2124.0H301.8V2125.1H304.0M307.5 2123.2H297.9V2124.5H301.8M313.8 2126.2H306.5V2126.6H313.8M313.8 2127.0H306.3V2127.4H313.8M306.5 2126.4H304.6V2127.2H306.3M313.8 2127.8H303.1V2128.2H313.8M304.6 2126.8H302.4V2128.0H303.1M297.9 2123.9H293.5V2127.4H302.4M302.9 2122.3H290.1V2125.6H293.5M293.3 2107.9H286.4V2123.9H290.1M313.8 2129.0H305.1V2129.4H313.8M305.1 2129.2H303.1V2129.8H313.8M313.8 2130.2H306.0V2130.6H313.8M313.8 2131.0H302.9V2131.4H313.8M306.0 2130.4H300.5V2131.2H302.9M303.1 2129.5H297.4V2130.8H300.5M313.8 2131.8H306.2V2132.2H313.8M297.4 2130.2H294.7V2132.0H306.2M313.8 2133.0H306.2V2133.4H313.8M313.8 2133.8H305.5V2134.2H313.8M306.2 2133.2H304.7V2134.0H305.5M313.8 2132.6H299.2V2133.6H304.7M294.7 2131.1H288.7V2133.1H299.2M313.8 2135.0H305.7V2135.4H313.8M313.8 2134.6H299.0V2135.2H305.7M288.7 2132.1H287.5V2134.9H299.0M313.8 2128.6H287.2V2133.5H287.5M313.8 2135.8H305.5V2136.2H313.8M287.2 2131.0H284.6V2136.0H305.5M313.8 2137.0H307.0V2137.4H313.8M313.8 2136.6H306.2V2137.2H307.0M313.8 2137.8H307.3V2138.2H313.8M306.2 2136.9H304.0V2138.0H307.3M284.6 2133.5H283.5V2137.4H304.0M286.4 2115.9H281.5V2135.5H283.5M278.7 2086.6H269.9V2125.7H281.5M313.8 2139.0H308.4V2139.4H313.8M308.4 2139.2H307.0V2139.8H313.8M313.8 2138.6H297.6V2139.5H307.0M269.9 2106.2H262.8V2139.1H297.6M265.8 1994.2H248.8V2122.6H262.8M240.0 1940.2H226.2V2058.4H248.8M313.8 2140.2H303.0V2140.6H313.8M313.8 2141.0H306.7V2141.4H313.8M303.0 2140.4H298.8V2141.2H306.7M313.8 2142.2H306.8V2142.6H313.8M313.8 2141.8H306.3V2142.4H306.8M298.8 2140.8H297.1V2142.1H306.3M313.8 2143.4H308.1V2143.8H313.8M313.8 2143.0H304.0V2143.6H308.1M313.8 2144.2H302.6V2144.6H313.8M313.8 2145.0H306.2V2145.4H313.8M313.8 2146.2H309.3V2146.6H313.8M313.8 2145.8H305.4V2146.4H309.3M306.2 2145.2H303.5V2146.1H305.4M302.6 2144.4H300.2V2145.7H303.5M304.0 2143.3H296.9V2145.0H300.2M297.1 2141.5H295.4V2144.2H296.9M313.8 2147.0H305.5V2147.4H313.8M313.8 2148.2H306.5V2148.6H313.8M313.8 2147.8H302.5V2148.4H306.5M305.5 2147.2H298.3V2148.1H302.5M313.8 2149.0H303.3V2149.4H313.8M298.3 2147.7H293.7V2149.2H303.3M295.4 2142.8H289.3V2148.4H293.7M313.8 2150.6H304.6V2151.0H313.8M313.8 2151.8H307.7V2152.2H313.8M313.8 2151.4H305.1V2152.0H307.7M304.6 2150.8H300.4V2151.7H305.1M313.8 2152.6H309.7V2153.0H313.8M313.8 2153.4H307.3V2153.8H313.8M307.3 2153.6H305.2V2154.2H313.8M309.7 2152.8H300.2V2153.9H305.2M300.4 2151.2H295.6V2153.4H300.2M313.8 2150.2H294.6V2152.3H295.6M313.8 2149.8H292.7V2151.2H294.6M289.3 2145.6H282.5V2150.5H292.7M313.8 2155.0H306.9V2155.4H313.8M306.9 2155.2H304.1V2155.8H313.8M304.1 2155.5H302.2V2156.2H313.8M313.8 2154.6H290.0V2155.8H302.2M313.8 2156.6H307.6V2157.0H313.8M313.8 2157.4H306.4V2157.8H313.8M307.6 2156.8H304.7V2157.6H306.4M313.8 2159.0H308.3V2159.4H313.8M313.8 2158.6H307.4V2159.2H308.3M313.8 2159.8H306.7V2160.2H313.8M307.4 2158.9H304.9V2160.0H306.7M313.8 2158.2H302.1V2159.4H304.9M313.8 2160.6H309.1V2161.0H313.8M309.1 2160.8H306.2V2161.4H313.8M313.8 2161.8H305.9V2162.2H313.8M306.2 2161.1H303.7V2162.0H305.9M302.1 2158.8H301.7V2161.6H303.7M313.8 2163.0H308.0V2163.4H313.8M313.8 2162.6H305.8V2163.2H308.0M305.8 2162.9H305.4V2163.8H313.8M301.7 2160.2H300.8V2163.4H305.4M304.7 2157.2H286.8V2161.8H300.8M290.0 2155.2H285.0V2159.5H286.8M282.5 2148.1H281.3V2157.4H285.0M281.3 2152.7H276.6V2164.2H313.8M313.8 2165.4H307.7V2165.8H313.8M313.8 2165.0H306.5V2165.6H307.7M313.8 2166.2H308.9V2166.6H313.8M308.9 2166.4H307.8V2167.0H313.8M313.8 2167.4H308.3V2167.8H313.8M308.3 2167.6H307.4V2168.2H313.8M307.8 2166.7H306.4V2167.9H307.4M306.5 2165.3H304.7V2167.3H306.4M313.8 2168.6H306.1V2169.0H313.8M306.1 2168.8H305.3V2169.4H313.8M304.7 2166.3H301.6V2169.1H305.3M313.8 2170.2H309.3V2170.6H313.8M309.3 2170.4H306.7V2171.0H313.8M313.8 2171.4H306.1V2171.8H313.8M306.7 2170.7H304.0V2171.6H306.1M313.8 2172.6H308.2V2173.0H313.8M308.2 2172.8H306.4V2173.4H313.8M313.8 2172.2H303.6V2173.1H306.4M304.0 2171.2H300.0V2172.7H303.6M313.8 2169.8H297.7V2171.9H300.0M301.6 2167.7H290.9V2170.9H297.7M313.8 2174.6H306.8V2175.0H313.8M306.8 2174.8H303.7V2175.4H313.8M313.8 2174.2H301.9V2175.1H303.7M313.8 2176.2H307.8V2176.6H313.8M307.8 2176.4H306.0V2177.0H313.8M313.8 2175.8H303.1V2176.7H306.0M301.9 2174.7H298.5V2176.3H303.1M313.8 2177.4H307.3V2177.8H313.8M313.8 2178.2H307.6V2178.6H313.8M307.3 2177.6H303.2V2178.4H307.6M313.8 2179.0H310.7V2179.4H313.8M303.2 2178.0H300.4V2179.2H310.7M313.8 2179.8H307.2V2180.2H313.8M313.8 2180.6H309.5V2181.0H313.8M307.2 2180.0H304.4V2180.8H309.5M313.8 2181.4H308.2V2181.8H313.8M313.8 2182.2H308.2V2182.6H313.8M308.2 2181.6H306.1V2182.4H308.2M313.8 2183.0H306.5V2183.4H313.8M313.8 2183.8H307.3V2184.2H313.8M307.3 2184.0H306.2V2184.6H313.8M306.5 2183.2H305.3V2184.3H306.2M306.1 2182.0H304.5V2183.8H305.3M304.4 2180.4H300.8V2182.9H304.5M300.4 2178.6H297.8V2181.6H300.8M298.5 2175.5H294.1V2180.1H297.8M313.8 2173.8H291.0V2177.8H294.1M290.9 2169.3H285.9V2175.8H291.0M313.8 2185.0H305.9V2185.4H313.8M305.9 2185.2H302.2V2185.8H313.8M285.9 2172.5H285.3V2185.5H302.2M313.8 2186.2H303.0V2186.6H313.8M313.8 2187.0H307.2V2187.4H313.8M307.2 2187.2H305.2V2187.8H313.8M313.8 2188.6H305.6V2189.0H313.8M305.6 2188.8H295.7V2189.4H313.8M313.8 2188.2H295.0V2189.1H295.7M313.8 2190.6H305.2V2191.0H313.8M313.8 2190.2H304.7V2190.8H305.2M313.8 2189.8H301.4V2190.5H304.7M313.8 2191.4H305.2V2191.8H313.8M301.4 2190.2H295.6V2191.6H305.2M295.0 2188.7H290.7V2190.9H295.6M305.2 2187.5H289.3V2189.8H290.7M313.8 2192.2H307.1V2192.6H313.8M307.1 2192.4H301.0V2193.0H313.8M313.8 2193.4H308.4V2193.8H313.8M308.4 2193.6H308.0V2194.2H313.8M313.8 2194.6H306.2V2195.0H313.8M308.0 2193.9H301.1V2194.8H306.2M301.0 2192.7H299.9V2194.3H301.1M313.8 2195.8H304.4V2196.2H313.8M313.8 2195.4H299.8V2196.0H304.4M299.9 2193.5H294.6V2195.7H299.8M313.8 2196.6H304.6V2197.0H313.8M313.8 2197.4H307.9V2197.8H313.8M307.9 2197.6H306.1V2198.2H313.8M304.6 2196.8H303.8V2197.9H306.1M303.8 2197.4H302.7V2198.6H313.8M313.8 2199.4H305.4V2199.8H313.8M313.8 2199.0H304.7V2199.6H305.4M313.8 2200.2H307.6V2200.6H313.8M313.8 2201.0H307.5V2201.4H313.8M307.6 2200.4H305.8V2201.2H307.5M304.7 2199.3H303.6V2200.8H305.8M313.8 2201.8H306.8V2202.2H313.8M306.8 2202.0H306.3V2202.6H313.8M303.6 2200.1H301.4V2202.3H306.3M302.7 2198.0H297.5V2201.2H301.4M313.8 2203.0H303.8V2203.4H313.8M303.8 2203.2H302.0V2203.8H313.8M297.5 2199.6H296.5V2203.5H302.0M313.8 2204.6H307.7V2205.0H313.8M313.8 2204.2H307.0V2204.8H307.7M313.8 2205.4H306.7V2205.8H313.8M313.8 2206.6H307.0V2207.0H313.8M313.8 2206.2H304.7V2206.8H307.0M304.7 2206.5H303.4V2207.4H313.8M306.7 2205.6H301.9V2206.9H303.4M307.0 2204.5H300.6V2206.3H301.9M313.8 2208.2H308.5V2208.6H313.8M313.8 2207.8H307.6V2208.4H308.5M307.6 2208.1H306.9V2209.0H313.8M306.9 2208.6H306.7V2209.4H313.8M313.8 2209.8H304.7V2210.2H313.8M313.8 2210.6H303.6V2211.0H313.8M313.8 2211.4H304.1V2211.8H313.8M303.6 2210.8H303.5V2211.6H304.1M304.7 2210.0H301.9V2211.2H303.5M306.7 2209.0H301.5V2210.6H301.9M300.6 2205.4H298.2V2209.8H301.5M296.5 2201.5H291.8V2207.6H298.2M294.6 2194.6H290.5V2204.6H291.8M289.3 2188.6H288.0V2199.6H290.5M303.0 2186.4H287.3V2194.1H288.0M313.8 2212.2H300.2V2212.6H313.8M313.8 2213.0H306.2V2213.4H313.8M306.2 2213.2H303.8V2213.8H313.8M313.8 2214.2H308.2V2214.6H313.8M313.8 2215.0H307.9V2215.4H313.8M307.9 2215.2H306.8V2215.8H313.8M308.2 2214.4H303.0V2215.5H306.8M303.8 2213.5H301.5V2214.9H303.0M313.8 2217.0H306.9V2217.4H313.8M313.8 2216.6H303.5V2217.2H306.9M313.8 2218.2H309.7V2218.6H313.8M309.7 2218.4H308.9V2219.0H313.8M313.8 2217.8H307.6V2218.7H308.9M303.5 2216.9H301.1V2218.2H307.6M313.8 2216.2H299.5V2217.6H301.1M313.8 2219.8H308.3V2220.2H313.8M313.8 2219.4H307.3V2220.0H308.3M307.3 2219.7H305.7V2220.6H313.8M305.7 2220.1H302.4V2221.0H313.8M313.8 2222.6H308.9V2223.0H313.8M313.8 2222.2H307.4V2222.8H308.9M313.8 2221.8H305.4V2222.5H307.4M313.8 2221.4H302.4V2222.2H305.4M302.4 2220.6H298.6V2221.8H302.4M299.5 2216.9H297.3V2221.2H298.6M301.5 2214.2H296.3V2219.0H297.3M300.2 2212.4H295.4V2216.6H296.3M313.8 2223.8H307.5V2224.2H313.8M313.8 2223.4H306.7V2224.0H307.5M306.7 2223.7H303.3V2224.6H313.8M313.8 2225.0H302.2V2225.4H313.8M313.8 2225.8H307.5V2226.2H313.8M302.2 2225.2H300.6V2226.0H307.5M303.3 2224.1H299.3V2225.6H300.6M295.4 2214.5H294.8V2224.9H299.3M313.8 2226.6H308.3V2227.0H313.8M313.8 2227.4H308.9V2227.8H313.8M308.9 2227.6H304.6V2228.2H313.8M313.8 2228.6H308.3V2229.0H313.8M308.3 2228.8H306.9V2229.4H313.8M306.9 2229.1H305.4V2229.8H313.8M313.8 2230.2H305.8V2230.6H313.8M305.4 2229.5H304.8V2230.4H305.8M304.6 2227.9H303.9V2229.9H304.8M308.3 2226.8H301.4V2228.9H303.9M313.8 2231.0H309.9V2231.4H313.8M313.8 2231.8H304.5V2232.2H313.8M309.9 2231.2H301.1V2232.0H304.5M301.4 2227.9H298.8V2231.6H301.1M294.8 2219.7H293.1V2229.7H298.8M287.3 2190.3H285.6V2224.7H293.1M285.3 2179.0H274.7V2207.5H285.6M313.8 2164.6H269.4V2193.2H274.7M276.6 2158.5H258.4V2178.9H269.4M313.8 2232.6H306.6V2233.0H313.8M313.8 2233.4H308.7V2233.8H313.8M306.6 2232.8H297.7V2233.6H308.7M258.4 2168.7H255.7V2233.2H297.7M313.8 2234.2H305.9V2234.6H313.8M313.8 2235.0H307.6V2235.4H313.8M313.8 2236.2H310.9V2236.6H313.8M313.8 2235.8H309.7V2236.4H310.9M309.7 2236.1H309.1V2237.0H313.8M313.8 2237.8H309.4V2238.2H313.8M313.8 2237.4H308.0V2238.0H309.4M309.1 2236.6H307.2V2237.7H308.0M307.6 2235.2H305.0V2237.1H307.2M313.8 2239.0H307.4V2239.4H313.8M313.8 2238.6H301.5V2239.2H307.4M313.8 2239.8H309.3V2240.2H313.8M313.8 2240.6H304.9V2241.0H313.8M304.9 2240.8H302.4V2241.4H313.8M313.8 2242.2H306.0V2242.6H313.8M313.8 2241.8H305.3V2242.4H306.0M302.4 2241.1H301.5V2242.1H305.3M309.3 2240.0H298.3V2241.6H301.5M301.5 2238.9H293.9V2240.8H298.3M305.0 2236.2H286.6V2239.9H293.9M313.8 2243.0H308.0V2243.4H313.8M308.0 2243.2H307.7V2243.8H313.8M313.8 2244.6H308.7V2245.0H313.8M313.8 2244.2H306.9V2244.8H308.7M313.8 2245.4H304.5V2245.8H313.8M313.8 2246.2H309.7V2246.6H313.8M309.7 2246.4H305.3V2247.0H313.8M304.5 2245.6H300.3V2246.7H305.3M306.9 2244.5H299.1V2246.1H300.3M313.8 2247.4H306.3V2247.8H313.8M299.1 2245.3H294.0V2247.6H306.3M313.8 2248.2H306.8V2248.6H313.8M306.8 2248.4H306.5V2249.0H313.8M294.0 2246.5H293.6V2248.7H306.5M313.8 2249.4H304.7V2249.8H313.8M313.8 2250.6H308.6V2251.0H313.8M313.8 2250.2H306.9V2250.8H308.6M313.8 2251.4H306.8V2251.8H313.8M306.8 2251.6H305.7V2252.2H313.8M305.7 2251.9H304.9V2252.6H313.8M306.9 2250.5H304.4V2252.2H304.9M304.7 2249.6H294.3V2251.4H304.4M293.6 2247.6H290.3V2250.5H294.3M307.7 2243.5H287.4V2249.0H290.3M313.8 2253.4H306.4V2253.8H313.8M306.4 2253.6H305.3V2254.2H313.8M313.8 2253.0H303.3V2253.9H305.3M303.3 2253.5H303.0V2254.6H313.8M313.8 2255.4H309.0V2255.8H313.8M309.0 2255.6H307.9V2256.2H313.8M313.8 2255.0H305.7V2255.9H307.9M313.8 2256.6H304.5V2257.0H313.8M305.7 2255.5H303.6V2256.8H304.5M313.8 2257.4H307.6V2257.8H313.8M313.8 2258.2H306.7V2258.6H313.8M306.7 2258.4H302.8V2259.0H313.8M307.6 2257.6H300.0V2258.7H302.8M300.0 2258.2H299.4V2259.4H313.8M303.6 2256.1H295.8V2258.8H299.4M303.0 2254.0H293.6V2257.5H295.8M313.8 2259.8H307.5V2260.2H313.8M313.8 2260.6H308.7V2261.0H313.8M313.8 2261.4H309.6V2261.8H313.8M308.7 2260.8H307.9V2261.6H309.6M307.9 2261.2H303.2V2262.2H313.8M307.5 2260.0H295.5V2261.7H303.2M293.6 2255.7H288.5V2260.9H295.5M287.4 2246.3H284.2V2258.3H288.5M286.6 2238.0H270.8V2252.3H284.2M305.9 2234.4H268.7V2245.1H270.8M313.8 2263.4H308.0V2263.8H313.8M313.8 2263.0H301.4V2263.6H308.0M313.8 2262.6H300.7V2263.3H301.4M313.8 2264.2H304.5V2264.6H313.8M313.8 2265.0H307.8V2265.4H313.8M307.8 2265.2H305.4V2265.8H313.8M304.5 2264.4H303.9V2265.5H305.4M313.8 2267.0H308.6V2267.4H313.8M313.8 2266.6H305.9V2267.2H308.6M313.8 2266.2H305.6V2266.9H305.9M303.9 2264.9H302.8V2266.6H305.6M313.8 2268.2H306.4V2268.6H313.8M313.8 2267.8H305.7V2268.4H306.4M302.8 2265.8H300.3V2268.1H305.7M313.8 2269.0H305.9V2269.4H313.8M305.9 2269.2H304.8V2269.8H313.8M313.8 2270.6H307.0V2271.0H313.8M313.8 2270.2H305.1V2270.8H307.0M304.8 2269.5H303.0V2270.5H305.1M300.3 2266.9H295.5V2270.0H303.0M313.8 2271.4H288.2V2271.8H313.8M313.8 2272.6H308.3V2273.0H313.8M313.8 2272.2H292.2V2272.8H308.3M288.2 2271.6H287.9V2272.5H292.2M313.8 2273.8H305.7V2274.2H313.8M313.8 2273.4H303.0V2274.0H305.7M313.8 2274.6H300.0V2275.0H313.8M313.8 2275.4H307.7V2275.8H313.8M307.7 2275.6H306.1V2276.2H313.8M300.0 2274.8H292.4V2275.9H306.1M313.8 2276.6H303.4V2277.0H313.8M313.8 2277.4H307.0V2277.8H313.8M307.0 2277.6H304.1V2278.2H313.8M303.4 2276.8H295.9V2277.9H304.1M292.4 2275.3H289.9V2277.3H295.9M303.0 2273.7H287.5V2276.3H289.9M287.9 2272.1H281.1V2275.0H287.5M295.5 2268.5H276.5V2273.5H281.1M276.5 2271.0H272.5V2278.6H313.8M300.7 2263.0H268.0V2274.8H272.5M313.8 2279.0H307.9V2279.4H313.8M313.8 2279.8H306.9V2280.2H313.8M307.9 2279.2H289.4V2280.0H306.9M268.0 2268.9H264.8V2279.6H289.4M268.7 2239.8H253.6V2274.2H264.8M313.8 2280.6H306.9V2281.0H313.8M313.8 2281.4H307.3V2281.8H313.8M306.9 2280.8H306.4V2281.6H307.3M313.8 2282.2H309.0V2282.6H313.8M306.4 2281.2H305.1V2282.4H309.0M313.8 2283.0H306.4V2283.4H313.8M313.8 2283.8H306.8V2284.2H313.8M313.8 2284.6H308.0V2285.0H313.8M308.0 2284.8H307.6V2285.4H313.8M307.6 2285.1H306.5V2285.8H313.8M306.8 2284.0H305.3V2285.5H306.5M306.4 2283.2H304.3V2284.7H305.3M305.1 2281.8H302.1V2284.0H304.3M313.8 2287.0H303.8V2287.4H313.8M313.8 2286.6H303.3V2287.2H303.8M313.8 2287.8H305.4V2288.2H313.8M305.4 2288.0H304.9V2288.6H313.8M303.3 2286.9H302.0V2288.3H304.9M313.8 2289.0H306.6V2289.4H313.8M313.8 2289.8H306.2V2290.2H313.8M306.6 2289.2H305.1V2290.0H306.2M313.8 2291.4H308.9V2291.8H313.8M313.8 2291.0H308.6V2291.6H308.9M313.8 2290.6H308.1V2291.3H308.6M313.8 2292.2H308.5V2292.6H313.8M308.1 2291.0H306.4V2292.4H308.5M306.4 2291.7H305.4V2293.0H313.8M313.8 2293.4H308.1V2293.8H313.8M313.8 2294.2H306.2V2294.6H313.8M308.1 2293.6H306.1V2294.4H306.2M305.4 2292.3H304.1V2294.0H306.1M305.1 2289.6H302.3V2293.2H304.1M302.0 2287.6H300.8V2291.4H302.3M313.8 2295.8H308.0V2296.2H313.8M313.8 2295.4H306.9V2296.0H308.0M313.8 2295.0H306.5V2295.7H306.9M313.8 2297.0H307.5V2297.4H313.8M313.8 2296.6H300.5V2297.2H307.5M313.8 2297.8H304.8V2298.2H313.8M300.5 2296.9H300.1V2298.0H304.8M306.5 2295.4H298.4V2297.4H300.1M300.8 2289.5H296.1V2296.4H298.4M313.8 2298.6H308.8V2299.0H313.8M313.8 2299.4H307.3V2299.8H313.8M308.8 2298.8H302.8V2299.6H307.3M313.8 2300.2H309.1V2300.6H313.8M313.8 2301.0H308.8V2301.4H313.8M308.8 2301.2H308.6V2301.8H313.8M309.1 2300.4H307.5V2301.5H308.6M302.8 2299.2H301.7V2300.9H307.5M313.8 2302.2H307.1V2302.6H313.8M307.1 2302.4H305.5V2303.0H313.8M313.8 2303.4H305.3V2303.8H313.8M313.8 2304.2H303.4V2304.6H313.8M303.4 2304.4H302.1V2305.0H313.8M305.3 2303.6H301.7V2304.7H302.1M305.5 2302.7H301.1V2304.1H301.7M301.7 2300.1H295.1V2303.4H301.1M296.1 2292.9H289.3V2301.8H295.1M313.8 2286.2H287.5V2297.3H289.3M287.5 2291.8H284.9V2305.4H313.8M302.1 2282.9H275.5V2298.6H284.9M313.8 2305.8H305.5V2306.2H313.8M313.8 2307.0H306.8V2307.4H313.8M306.8 2307.2H306.0V2307.8H313.8M313.8 2306.6H305.0V2307.5H306.0M313.8 2308.2H307.6V2308.6H313.8M307.6 2308.4H303.1V2309.0H313.8M313.8 2309.4H307.3V2309.8H313.8M313.8 2310.2H308.5V2310.6H313.8M307.3 2309.6H306.6V2310.4H308.5M303.1 2308.7H301.8V2310.0H306.6M313.8 2311.0H303.3V2311.4H313.8M313.8 2312.2H308.6V2312.6H313.8M308.6 2312.4H308.1V2313.0H313.8M308.1 2312.7H307.2V2313.4H313.8M313.8 2311.8H306.9V2313.1H307.2M306.9 2312.4H306.3V2313.8H313.8M303.3 2311.2H299.7V2313.1H306.3M301.8 2309.3H296.2V2312.2H299.7M313.8 2314.6H305.4V2315.0H313.8M313.8 2314.2H298.8V2314.8H305.4M313.8 2315.4H302.9V2315.8H313.8M298.8 2314.5H295.5V2315.6H302.9M296.2 2310.8H289.0V2315.1H295.5M313.8 2316.2H307.7V2316.6H313.8M307.7 2316.4H303.3V2317.0H313.8M303.3 2316.7H300.1V2317.4H313.8M313.8 2317.8H305.3V2318.2H313.8M313.8 2318.6H305.3V2319.0H313.8M305.3 2318.0H302.0V2318.8H305.3M300.1 2317.0H298.3V2318.4H302.0M313.8 2319.4H301.9V2319.8H313.8M298.3 2317.7H294.7V2319.6H301.9M313.8 2320.2H303.7V2320.6H313.8M313.8 2321.4H302.1V2321.8H313.8M313.8 2321.0H296.3V2321.6H302.1M303.7 2320.4H294.1V2321.3H296.3M313.8 2322.6H306.2V2323.0H313.8M313.8 2322.2H298.1V2322.8H306.2M294.1 2320.9H293.7V2322.5H298.1M294.7 2318.7H292.6V2321.7H293.7M289.0 2312.9H286.6V2320.2H292.6M286.6 2316.5H284.4V2323.4H313.8M305.0 2307.1H283.0V2320.0H284.4M305.5 2306.0H278.1V2313.5H283.0M275.5 2290.7H262.8V2309.8H278.1M313.8 2323.8H308.4V2324.2H313.8M308.4 2324.0H304.8V2324.6H313.8M313.8 2325.0H309.3V2325.4H313.8M309.3 2325.2H307.5V2325.8H313.8M313.8 2326.2H305.4V2326.6H313.8M305.4 2326.4H302.6V2327.0H313.8M313.8 2327.4H304.5V2327.8H313.8M302.6 2326.7H298.9V2327.6H304.5M307.5 2325.5H297.3V2327.1H298.9M313.8 2328.2H302.6V2328.6H313.8M313.8 2329.4H307.1V2329.8H313.8M313.8 2329.0H305.6V2329.6H307.1M302.6 2328.4H301.8V2329.3H305.6M301.8 2328.8H298.1V2330.2H313.8M298.1 2329.5H296.9V2330.6H313.8M297.3 2326.3H290.6V2330.1H296.9M304.8 2324.3H287.4V2328.2H290.6M313.8 2331.0H307.9V2331.4H313.8M313.8 2332.2H306.7V2332.6H313.8M313.8 2331.8H302.3V2332.4H306.7M313.8 2333.0H307.4V2333.4H313.8M307.4 2333.2H304.7V2333.8H313.8M304.7 2333.5H300.7V2334.2H313.8M300.7 2333.8H300.2V2334.6H313.8M302.3 2332.1H297.4V2334.2H300.2M313.8 2335.4H307.9V2335.8H313.8M313.8 2335.0H304.4V2335.6H307.9M313.8 2336.2H309.4V2336.6H313.8M309.4 2336.4H302.3V2337.0H313.8M304.4 2335.3H300.6V2336.7H302.3M297.4 2333.2H295.3V2336.0H300.6M307.9 2331.2H292.5V2334.6H295.3M313.8 2337.4H309.1V2337.8H313.8M309.1 2337.6H303.8V2338.2H313.8M313.8 2338.6H305.2V2339.0H313.8M305.2 2338.8H303.7V2339.4H313.8M303.8 2337.9H299.5V2339.1H303.7M292.5 2332.9H282.4V2338.5H299.5M287.4 2326.2H270.9V2335.7H282.4M313.8 2340.6H303.5V2341.0H313.8M313.8 2341.4H307.5V2341.8H313.8M303.5 2340.8H303.1V2341.6H307.5M313.8 2340.2H301.7V2341.2H303.1M313.8 2342.2H306.8V2342.6H313.8M313.8 2343.0H308.5V2343.4H313.8M313.8 2344.2H309.3V2344.6H313.8M313.8 2343.8H307.8V2344.4H309.3M308.5 2343.2H306.5V2344.1H307.8M306.8 2342.4H304.2V2343.7H306.5M301.7 2340.7H296.2V2343.0H304.2M313.8 2339.8H293.7V2341.9H296.2M313.8 2345.4H305.7V2345.8H313.8M313.8 2346.2H308.6V2346.6H313.8M305.7 2345.6H304.0V2346.4H308.6M313.8 2347.0H304.3V2347.4H313.8M304.0 2346.0H302.1V2347.2H304.3M313.8 2347.8H306.3V2348.2H313.8M306.3 2348.0H306.0V2348.6H313.8M302.1 2346.6H298.8V2348.3H306.0M313.8 2345.0H296.5V2347.4H298.8M313.8 2349.0H305.6V2349.4H313.8M313.8 2349.8H307.1V2350.2H313.8M305.6 2349.2H305.1V2350.0H307.1M313.8 2351.0H309.7V2351.4H313.8M313.8 2351.8H310.0V2352.2H313.8M309.7 2351.2H308.4V2352.0H310.0M313.8 2350.6H306.3V2351.6H308.4M305.1 2349.6H297.2V2351.1H306.3M296.5 2346.2H292.7V2350.3H297.2M313.8 2352.6H308.9V2353.0H313.8M308.9 2352.8H308.5V2353.4H313.8M308.5 2353.1H308.0V2353.8H313.8M292.7 2348.3H292.3V2353.5H308.0M293.7 2340.8H290.5V2350.9H292.3M313.8 2354.2H309.7V2354.6H313.8M309.7 2354.4H308.5V2355.0H313.8M313.8 2355.8H306.5V2356.2H313.8M313.8 2355.4H305.2V2356.0H306.5M313.8 2356.6H307.6V2357.0H313.8M307.6 2356.8H306.0V2357.4H313.8M305.2 2355.7H304.8V2357.1H306.0M308.5 2354.7H291.5V2356.4H304.8M313.8 2358.2H307.3V2358.6H313.8M313.8 2357.8H297.5V2358.4H307.3M291.5 2355.5H290.8V2358.1H297.5M290.5 2345.8H289.1V2356.8H290.8M313.8 2359.0H309.2V2359.4H313.8M313.8 2359.8H309.4V2360.2H313.8M309.2 2359.2H309.0V2360.0H309.4M313.8 2360.6H307.7V2361.0H313.8M309.0 2359.6H306.1V2360.8H307.7M313.8 2361.8H303.0V2362.2H313.8M313.8 2361.4H296.1V2362.0H303.0M296.1 2361.7H295.0V2362.6H313.8M313.8 2363.0H307.2V2363.4H313.8M295.0 2362.1H287.9V2363.2H307.2M306.1 2360.2H285.0V2362.7H287.9M289.1 2351.3H280.2V2361.4H285.0M313.8 2364.2H307.2V2364.6H313.8M313.8 2363.8H304.6V2364.4H307.2M313.8 2365.0H305.4V2365.4H313.8M304.6 2364.1H302.4V2365.2H305.4M313.8 2365.8H305.6V2366.2H313.8M313.8 2367.0H306.7V2367.4H313.8M313.8 2366.6H305.0V2367.2H306.7M305.6 2366.0H302.3V2366.9H305.0M313.8 2367.8H305.7V2368.2H313.8M302.3 2366.4H297.4V2368.0H305.7M313.8 2368.6H305.5V2369.0H313.8M313.8 2369.4H305.8V2369.8H313.8M305.5 2368.8H293.2V2369.6H305.8M297.4 2367.2H289.9V2369.2H293.2M313.8 2370.2H306.9V2370.6H313.8M306.9 2370.4H305.5V2371.0H313.8M289.9 2368.2H288.9V2370.7H305.5M302.4 2364.6H285.5V2369.5H288.9M280.2 2356.4H273.7V2367.1H285.5M270.9 2331.0H267.2V2361.7H273.7M267.2 2346.3H264.1V2371.4H313.8M262.8 2300.2H260.0V2358.9H264.1M313.8 2372.2H306.3V2372.6H313.8M313.8 2371.8H304.2V2372.4H306.3M313.8 2373.4H309.9V2373.8H313.8M309.9 2373.6H308.6V2374.2H313.8M313.8 2373.0H299.1V2373.9H308.6M313.8 2374.6H307.5V2375.0H313.8M307.5 2374.8H305.6V2375.4H313.8M299.1 2373.4H296.1V2375.1H305.6M304.2 2372.1H293.1V2374.3H296.1M313.8 2376.6H309.5V2377.0H313.8M313.8 2376.2H303.7V2376.8H309.5M313.8 2375.8H302.2V2376.5H303.7M313.8 2377.8H309.5V2378.2H313.8M313.8 2377.4H308.2V2378.0H309.5M308.2 2377.7H306.5V2378.6H313.8M306.5 2378.1H304.2V2379.0H313.8M302.2 2376.2H301.5V2378.6H304.2M293.1 2373.2H286.4V2377.4H301.5M313.8 2379.4H305.0V2379.8H313.8M313.8 2380.2H308.6V2380.6H313.8M308.6 2380.4H303.2V2381.0H313.8M305.0 2379.6H297.3V2380.7H303.2M313.8 2381.4H305.7V2381.8H313.8M313.8 2382.2H306.3V2382.6H313.8M305.7 2381.6H304.9V2382.4H306.3M313.8 2383.0H304.2V2383.4H313.8M304.2 2383.2H301.0V2383.8H313.8M304.9 2382.0H299.0V2383.5H301.0M297.3 2380.1H295.3V2382.8H299.0M313.8 2384.2H309.3V2384.6H313.8M313.8 2385.0H307.4V2385.4H313.8M309.3 2384.4H299.1V2385.2H307.4M295.3 2381.4H293.0V2384.8H299.1M286.4 2375.3H277.3V2383.1H293.0M313.8 2386.2H310.3V2386.6H313.8M310.3 2386.4H301.3V2387.0H313.8M313.8 2385.8H300.8V2386.7H301.3M313.8 2387.4H309.2V2387.8H313.8M309.2 2387.6H307.7V2388.2H313.8M300.8 2386.2H294.8V2387.9H307.7M313.8 2388.6H306.6V2389.0H313.8M306.6 2388.8H305.0V2389.4H313.8M313.8 2389.8H308.7V2390.2H313.8M308.7 2390.0H303.9V2390.6H313.8M313.8 2391.4H308.9V2391.8H313.8M313.8 2391.0H308.6V2391.6H308.9M303.9 2390.3H301.6V2391.3H308.6M305.0 2389.1H299.6V2390.8H301.6M294.8 2387.1H291.1V2390.0H299.6M313.8 2392.2H308.2V2392.6H313.8M308.2 2392.4H304.5V2393.0H313.8M313.8 2393.4H305.7V2393.8H313.8M304.5 2392.7H301.2V2393.6H305.7M313.8 2394.2H305.8V2394.7H313.8M301.2 2393.1H296.0V2394.4H305.8M291.1 2388.5H289.4V2393.8H296.0M277.3 2379.2H260.3V2391.2H289.4M260.0 2329.6H256.5V2385.2H260.3M253.6 2257.0H248.1V2357.4H256.5M255.7 2200.9H236.0V2307.2H248.1M313.8 2395.2H308.2V2395.6H313.8M313.8 2396.0H307.5V2396.4H313.8M307.5 2396.2H304.9V2396.8H313.8M308.2 2395.4H301.6V2396.5H304.9M313.8 2397.2H304.1V2397.6H313.8M304.1 2397.4H303.1V2398.0H313.8M313.8 2398.4H303.8V2398.8H313.8M303.1 2397.7H301.6V2398.6H303.8M301.6 2395.9H298.5V2398.1H301.6M313.8 2399.6H307.6V2400.0H313.8M307.6 2399.8H304.4V2400.4H313.8M313.8 2399.2H301.2V2400.1H304.4M313.8 2400.8H303.0V2401.2H313.8M313.8 2402.0H304.7V2402.4H313.8M313.8 2401.6H304.3V2402.2H304.7M303.0 2401.0H301.7V2401.9H304.3M301.2 2399.7H299.3V2401.4H301.7M298.5 2397.0H247.8V2400.6H299.3M313.8 2402.8H308.1V2403.2H313.8M308.1 2403.0H306.9V2403.6H313.8M306.9 2403.3H305.3V2404.0H313.8M313.8 2404.4H305.4V2404.8H313.8M305.3 2403.7H303.5V2404.6H305.4M313.8 2405.6H309.9V2406.0H313.8M313.8 2405.2H303.1V2405.8H309.9M303.5 2404.1H299.1V2405.5H303.1M313.8 2406.4H308.2V2406.8H313.8M313.8 2407.2H308.6V2407.6H313.8M308.6 2407.4H308.0V2408.0H313.8M308.2 2406.6H307.9V2407.7H308.0M299.1 2404.8H282.4V2407.1H307.9M313.8 2408.8H302.7V2409.2H313.8M313.8 2408.4H299.2V2409.0H302.7M313.8 2409.6H308.4V2409.9H313.8M299.2 2408.7H290.5V2409.7H308.4M282.4 2406.0H270.9V2409.2H290.5M247.8 2398.8H237.7V2407.6H270.9M236.0 2254.1H218.0V2403.2H237.7M226.2 1999.3H198.5V2328.6H218.0M213.9 1845.7H198.0V2164.0H198.5M216.2 1710.3H168.0V2004.8H198.0M313.8 2410.2H307.8V2410.6H313.8M307.8 2410.4H305.9V2411.0H313.8M313.8 2411.4H306.0V2411.8H313.8M313.8 2412.2H308.6V2412.6H313.8M306.0 2411.6H300.2V2412.4H308.6M313.8 2413.0H305.4V2413.4H313.8M305.4 2413.2H301.9V2413.8H313.8M313.8 2414.2H307.9V2414.6H313.8M301.9 2413.5H300.8V2414.4H307.9M313.8 2415.0H307.6V2415.4H313.8M307.6 2415.2H302.0V2415.8H313.8M300.8 2413.9H295.5V2415.5H302.0M313.8 2416.2H303.3V2416.6H313.8M313.8 2417.0H306.7V2417.4H313.8M303.3 2416.4H298.9V2417.2H306.7M295.5 2414.7H293.0V2416.8H298.9M313.8 2417.8H303.4V2418.2H313.8M293.0 2415.8H291.8V2418.0H303.4M313.8 2419.0H307.7V2419.4H313.8M307.7 2419.2H305.2V2419.8H313.8M313.8 2418.6H304.0V2419.5H305.2M313.8 2420.2H308.4V2420.6H313.8M304.0 2419.0H302.1V2420.4H308.4M313.8 2421.0H300.3V2421.4H313.8M302.1 2419.7H298.8V2421.2H300.3M313.8 2422.2H306.7V2422.6H313.8M313.8 2423.0H308.4V2423.4H313.8M308.4 2423.2H304.0V2423.8H313.8M306.7 2422.4H300.4V2423.5H304.0M313.8 2421.8H299.8V2422.9H300.4M313.8 2424.2H303.7V2424.6H313.8M303.7 2424.4H300.2V2425.0H313.8M299.8 2422.4H298.6V2424.7H300.2M298.8 2420.5H294.4V2423.5H298.6M291.8 2416.9H277.2V2422.0H294.4M300.2 2412.0H275.9V2419.4H277.2M305.9 2410.7H274.6V2415.7H275.9M313.8 2425.8H308.5V2426.2H313.8M308.5 2426.0H305.8V2426.6H313.8M313.8 2425.4H302.5V2426.3H305.8M313.8 2427.4H307.8V2427.8H313.8M313.8 2427.0H303.0V2427.6H307.8M302.5 2425.8H301.6V2427.3H303.0M313.8 2429.0H307.7V2429.4H313.8M313.8 2428.6H305.8V2429.2H307.7M313.8 2428.2H300.1V2428.9H305.8M313.8 2430.6H309.8V2431.0H313.8M313.8 2430.2H308.3V2430.8H309.8M313.8 2429.8H303.8V2430.5H308.3M313.8 2431.4H297.6V2431.8H313.8M303.8 2430.2H290.5V2431.6H297.6M313.8 2432.2H303.1V2432.6H313.8M303.1 2432.4H298.6V2433.0H313.8M313.8 2433.4H307.3V2433.8H313.8M298.6 2432.7H296.9V2433.6H307.3M290.5 2430.9H258.6V2433.1H296.9M313.8 2434.2H305.4V2434.6H313.8M258.6 2432.0H253.4V2434.4H305.4M300.1 2428.6H249.7V2433.2H253.4M301.6 2426.6H230.6V2430.9H249.7M274.6 2413.2H227.4V2428.7H230.6M313.8 2435.4H307.0V2435.8H313.8M313.8 2436.2H306.0V2436.6H313.8M307.0 2435.6H301.6V2436.4H306.0M313.8 2437.0H308.4V2437.4H313.8M308.4 2437.2H302.8V2437.8H313.8M302.8 2437.5H302.3V2438.2H313.8M301.6 2436.0H301.0V2437.8H302.3M313.8 2438.6H309.2V2439.0H313.8M301.0 2436.9H298.6V2438.8H309.2M313.8 2439.8H304.2V2440.2H313.8M313.8 2439.4H303.2V2440.0H304.2M313.8 2440.6H308.7V2441.0H313.8M313.8 2441.4H301.3V2441.8H313.8M308.7 2440.8H297.6V2441.6H301.3M303.2 2439.7H287.6V2441.2H297.6M298.6 2437.9H279.9V2440.5H287.6M313.8 2442.2H309.9V2442.6H313.8M313.8 2443.0H308.1V2443.4H313.8M313.8 2444.2H306.6V2444.6H313.8M313.8 2443.8H306.4V2444.4H306.6M306.4 2444.1H293.9V2445.1H313.8M293.9 2444.6H293.1V2445.6H313.8M308.1 2443.2H290.4V2445.1H293.1M309.9 2442.4H285.3V2444.2H290.4M279.9 2439.2H274.5V2443.3H285.3M313.8 2435.0H270.7V2441.2H274.5M313.8 2446.4H307.7V2446.8H313.8M313.8 2446.0H299.8V2446.6H307.7M270.7 2438.1H266.1V2446.3H299.8M227.4 2421.0H209.9V2442.2H266.1M313.8 2447.2H299.1V2447.6H313.8M313.8 2448.0H306.0V2448.4H313.8M299.1 2447.4H298.5V2448.2H306.0M313.8 2449.2H307.8V2449.6H313.8M313.8 2450.4H309.3V2450.8H313.8M313.8 2450.0H303.3V2450.6H309.3M313.8 2451.2H305.5V2451.6H313.8M313.8 2452.0H304.4V2452.4H313.8M305.5 2451.4H304.2V2452.2H304.4M303.3 2450.3H301.4V2451.8H304.2M307.8 2449.4H293.6V2451.1H301.4M313.8 2448.8H291.8V2450.2H293.6M298.5 2447.8H290.3V2449.5H291.8M313.8 2452.8H308.3V2453.2H313.8M308.3 2453.0H306.5V2453.6H313.8M313.8 2454.4H304.5V2454.8H313.8M313.8 2454.0H303.2V2454.6H304.5M306.5 2453.3H299.1V2454.3H303.2M313.8 2455.6H306.7V2456.0H313.8M313.8 2455.2H297.9V2455.8H306.7M299.1 2453.8H285.8V2455.5H297.9M290.3 2448.7H281.7V2454.7H285.8M313.8 2456.8H306.5V2457.2H313.8M306.5 2457.0H304.9V2457.6H313.8M304.9 2457.3H302.9V2458.0H313.8M313.8 2456.4H297.0V2457.7H302.9M313.8 2458.4H306.5V2458.8H313.8M313.8 2459.6H309.1V2460.0H313.8M313.8 2459.2H302.0V2459.8H309.1M306.5 2458.6H295.1V2459.5H302.0M297.0 2457.0H291.8V2459.1H295.1M313.8 2460.4H304.9V2460.8H313.8M313.8 2461.2H304.9V2461.6H313.8M313.8 2462.0H299.8V2462.4H313.8M304.9 2461.4H299.2V2462.2H299.8M304.9 2460.6H297.0V2461.8H299.2M313.8 2462.8H307.2V2463.2H313.8M307.2 2463.0H303.0V2463.6H313.8M297.0 2461.2H294.0V2463.3H303.0M313.8 2464.0H303.5V2464.4H313.8M313.8 2465.2H304.1V2465.6H313.8M313.8 2464.8H301.7V2465.4H304.1M303.5 2464.2H296.6V2465.1H301.7M294.0 2462.2H286.5V2464.6H296.6M313.8 2466.0H304.4V2466.4H313.8M313.8 2466.8H306.7V2467.2H313.8M304.4 2466.2H298.9V2467.0H306.7M313.8 2468.0H307.6V2468.4H313.8M313.8 2467.6H303.3V2468.2H307.6M313.8 2468.8H303.1V2469.2H313.8M303.3 2467.9H299.2V2469.0H303.1M313.8 2469.6H305.3V2470.0H313.8M299.2 2468.4H298.7V2469.8H305.3M298.9 2466.6H295.1V2469.1H298.7M286.5 2463.4H280.1V2467.9H295.1M291.8 2458.0H277.8V2465.7H280.1M313.8 2470.8H306.1V2471.2H313.8M313.8 2470.4H305.3V2471.0H306.1M313.8 2471.6H303.0V2472.0H313.8M305.3 2470.7H302.4V2471.8H303.0M302.4 2471.2H301.3V2472.4H313.8M313.8 2472.8H307.3V2473.2H313.8M313.8 2473.6H307.9V2474.0H313.8M307.9 2473.8H300.8V2474.4H313.8M313.8 2474.8H307.1V2475.2H313.8M307.1 2475.0H304.6V2475.6H313.8M313.8 2476.4H308.9V2476.8H313.8M313.8 2476.0H307.2V2476.6H308.9M307.2 2476.3H306.4V2477.2H313.8M304.6 2475.3H301.2V2476.8H306.4M300.8 2474.1H296.6V2476.0H301.2M307.3 2473.0H295.8V2475.1H296.6M301.3 2471.8H289.7V2474.0H295.8M313.8 2478.0H305.7V2478.4H313.8M313.8 2478.8H303.3V2479.2H313.8M305.7 2478.2H301.9V2479.0H303.3M313.8 2477.6H297.4V2478.6H301.9M313.8 2479.6H304.5V2480.0H313.8M313.8 2480.4H307.9V2480.8H313.8M313.8 2481.2H307.4V2481.6H313.8M307.9 2480.6H303.0V2481.4H307.4M304.5 2479.8H302.0V2481.0H303.0M297.4 2478.1H289.5V2480.4H302.0M289.7 2472.9H275.4V2479.2H289.5M313.8 2482.0H304.0V2482.4H313.8M313.8 2482.8H301.3V2483.2H313.8M304.0 2482.2H297.7V2483.0H301.3M313.8 2484.4H310.6V2484.8H313.8M313.8 2484.0H310.4V2484.6H310.6M313.8 2483.6H309.5V2484.3H310.4M309.5 2483.9H296.6V2485.2H313.8M297.7 2482.6H291.1V2484.6H296.6M275.4 2476.1H271.2V2483.6H291.1M277.8 2461.8H247.4V2479.8H271.2M281.7 2451.7H228.0V2470.8H247.4M313.8 2485.6H304.1V2486.0H313.8M228.0 2461.2H225.3V2485.8H304.1M313.8 2487.2H305.1V2487.6H313.8M313.8 2488.0H305.2V2488.4H313.8M305.1 2487.4H300.1V2488.2H305.2M313.8 2486.8H298.9V2487.8H300.1M313.8 2486.4H292.3V2487.3H298.9M313.8 2489.2H308.0V2489.6H313.8M313.8 2488.8H303.4V2489.4H308.0M313.8 2490.4H307.7V2490.8H313.8M313.8 2490.0H305.4V2490.6H307.7M313.8 2491.2H304.6V2491.6H313.8M304.6 2491.4H304.0V2492.0H313.8M305.4 2490.3H302.7V2491.7H304.0M313.8 2492.4H305.0V2492.8H313.8M302.7 2491.0H292.0V2492.6H305.0M303.4 2489.1H288.3V2491.8H292.0M292.3 2486.8H285.7V2490.4H288.3M313.8 2493.2H310.7V2493.6H313.8M313.8 2494.0H307.0V2494.4H313.8M313.8 2495.2H303.6V2495.6H313.8M313.8 2494.8H303.1V2495.4H303.6M307.0 2494.2H294.9V2495.1H303.1M313.8 2496.0H303.1V2496.4H313.8M313.8 2496.8H305.3V2497.2H313.8M305.3 2497.0H300.4V2497.6H313.8M303.1 2496.2H299.0V2497.3H300.4M313.8 2498.4H307.6V2498.8H313.8M313.8 2498.0H298.9V2498.6H307.6M299.0 2496.8H290.8V2498.3H298.9M294.9 2494.7H289.3V2497.5H290.8M310.7 2493.4H286.4V2496.1H289.3M313.8 2499.2H304.6V2499.6H313.8M304.6 2499.4H302.6V2500.0H313.8M313.8 2500.4H305.7V2500.8H313.8M313.8 2501.2H305.2V2501.6H313.8M305.7 2500.6H304.2V2501.4H305.2M302.6 2499.7H301.8V2501.0H304.2M286.4 2494.7H279.3V2500.4H301.8M285.7 2488.6H276.0V2497.5H279.3M225.3 2473.5H201.3V2493.1H276.0M313.8 2502.0H306.9V2502.4H313.8M313.8 2502.8H302.2V2503.2H313.8M306.9 2502.2H298.7V2503.0H302.2M313.8 2503.6H308.0V2504.0H313.8M313.8 2504.4H309.1V2504.8H313.8M309.1 2504.6H307.6V2505.2H313.8M308.0 2503.8H306.3V2504.9H307.6M313.8 2506.0H305.6V2506.4H313.8M313.8 2507.2H305.4V2507.6H313.8M313.8 2506.8H304.6V2507.4H305.4M305.6 2506.2H301.4V2507.1H304.6M313.8 2505.6H299.5V2506.7H301.4M306.3 2504.4H291.4V2506.1H299.5M298.7 2502.6H290.6V2505.2H291.4M313.8 2508.0H307.4V2508.4H313.8M307.4 2508.2H300.8V2508.8H313.8M300.8 2508.5H300.7V2509.2H313.8M313.8 2509.6H292.5V2510.0H313.8M300.7 2508.8H292.2V2509.8H292.5M290.6 2503.9H282.5V2509.3H292.2M313.8 2511.2H310.4V2511.6H313.8M313.8 2510.8H308.9V2511.4H310.4M313.8 2510.4H308.2V2511.1H308.9M313.8 2512.0H304.1V2512.4H313.8M313.8 2513.2H308.4V2513.6H313.8M313.8 2514.0H307.9V2514.4H313.8M308.4 2513.4H307.7V2514.2H307.9M307.7 2513.8H304.2V2514.8H313.8M313.8 2512.8H303.5V2514.3H304.2M304.1 2512.2H300.8V2513.6H303.5M300.8 2512.9H300.1V2515.2H313.8M308.2 2510.8H295.7V2514.0H300.1M282.5 2506.6H248.6V2512.4H295.7M313.8 2516.0H306.8V2516.4H313.8M306.8 2516.2H305.4V2516.8H313.8M313.8 2517.2H305.4V2517.6H313.8M305.4 2516.5H304.8V2517.4H305.4M313.8 2515.6H303.4V2516.9H304.8M313.8 2518.0H305.8V2518.4H313.8M305.8 2518.2H302.6V2518.8H313.8M313.8 2519.2H309.9V2519.6H313.8M302.6 2518.5H300.8V2519.4H309.9M303.4 2516.3H294.8V2518.9H300.8M313.8 2520.0H308.1V2520.4H313.8M308.1 2520.2H306.1V2520.8H313.8M313.8 2521.6H306.5V2522.0H313.8M313.8 2521.2H301.7V2521.8H306.5M306.1 2520.5H300.9V2521.5H301.7M294.8 2517.6H286.7V2521.0H300.9M313.8 2523.2H307.1V2523.6H313.8M313.8 2522.8H304.5V2523.4H307.1M313.8 2522.4H303.1V2523.1H304.5M313.8 2524.0H305.3V2524.4H313.8M313.8 2524.8H305.3V2525.2H313.8M305.3 2524.2H301.1V2525.0H305.3M303.1 2522.8H297.9V2524.6H301.1M313.8 2526.0H310.2V2526.4H313.8M313.8 2525.6H308.6V2526.2H310.2M313.8 2527.2H309.8V2527.6H313.8M313.8 2526.8H308.1V2527.4H309.8M308.1 2527.1H297.8V2528.0H313.8M308.6 2525.9H297.2V2527.6H297.8M297.9 2523.7H291.7V2526.7H297.2M286.7 2519.3H274.1V2525.2H291.7M313.8 2529.2H306.1V2529.6H313.8M313.8 2530.0H305.3V2530.4H313.8M306.1 2529.4H299.8V2530.2H305.3M313.8 2528.8H298.8V2529.8H299.8M313.8 2531.2H305.1V2531.6H313.8M313.8 2530.8H303.6V2531.4H305.1M303.6 2531.1H299.9V2532.0H313.8M298.8 2529.3H294.2V2531.6H299.9M313.8 2528.4H293.4V2530.4H294.2M313.8 2532.8H305.2V2533.2H313.8M313.8 2532.4H303.1V2533.0H305.2M293.4 2529.4H286.6V2532.7H303.1M313.8 2534.0H305.3V2534.4H313.8M313.8 2533.6H300.1V2534.2H305.3M313.8 2535.2H308.3V2535.6H313.8M313.8 2534.8H306.3V2535.4H308.3M300.1 2533.9H295.2V2535.1H306.3M286.6 2531.1H272.8V2534.5H295.2M274.1 2522.3H259.9V2532.8H272.8M313.8 2536.0H308.5V2536.4H313.8M308.5 2536.2H306.0V2536.8H313.8M313.8 2537.6H306.9V2538.0H313.8M313.8 2537.2H304.2V2537.8H306.9M306.0 2536.5H295.9V2537.5H304.2M313.8 2538.8H303.2V2539.2H313.8M303.2 2539.0H301.0V2539.6H313.8M313.8 2538.4H300.2V2539.3H301.0M295.9 2537.0H282.5V2538.9H300.2M313.8 2540.4H308.5V2540.8H313.8M313.8 2540.0H307.8V2540.6H308.5M282.5 2537.9H280.2V2540.3H307.8M313.8 2541.2H308.4V2541.6H313.8M308.4 2541.4H306.2V2542.0H313.8M313.8 2542.8H309.1V2543.2H313.8M313.8 2542.4H305.2V2543.0H309.1M305.2 2542.7H304.7V2543.6H313.8M306.2 2541.7H304.2V2543.2H304.7M313.8 2544.4H307.7V2544.8H313.8M313.8 2545.2H307.7V2545.6H313.8M307.7 2544.6H306.1V2545.4H307.7M313.8 2546.0H310.2V2546.4H313.8M306.1 2545.0H305.4V2546.2H310.2M313.8 2544.0H304.3V2545.6H305.4M313.8 2546.8H303.1V2547.3H313.8M304.3 2544.8H302.1V2547.1H303.1M304.2 2542.4H301.3V2545.9H302.1M280.2 2539.1H260.1V2544.2H301.3M313.8 2548.2H306.1V2548.6H313.8M306.1 2548.4H305.9V2549.0H313.8M313.8 2547.8H298.9V2548.7H305.9M260.1 2541.6H257.4V2548.2H298.9M259.9 2527.5H248.2V2544.9H257.4M313.8 2549.4H306.7V2549.8H313.8M248.2 2536.2H246.7V2549.6H306.7M248.6 2509.5H227.4V2542.9H246.7M201.3 2483.3H194.3V2526.2H227.4M209.9 2431.6H165.7V2504.8H194.3M168.0 1857.5H156.5V2468.2H165.7M186.2 1661.2H149.8V2162.9H156.5M179.8 1627.9H135.6V1912.0H149.8M152.7 1589.6H129.8V1769.9H135.6M145.8 1453.5H122.1V1679.8H129.8M129.9 1032.8H119.2V1566.6H122.1" fill="none" stroke="#000" stroke-width="0.85"/><rect x="312.3" y="864.8" width="2.9" height="1686" fill="#000"/></svg>
</body></html>
